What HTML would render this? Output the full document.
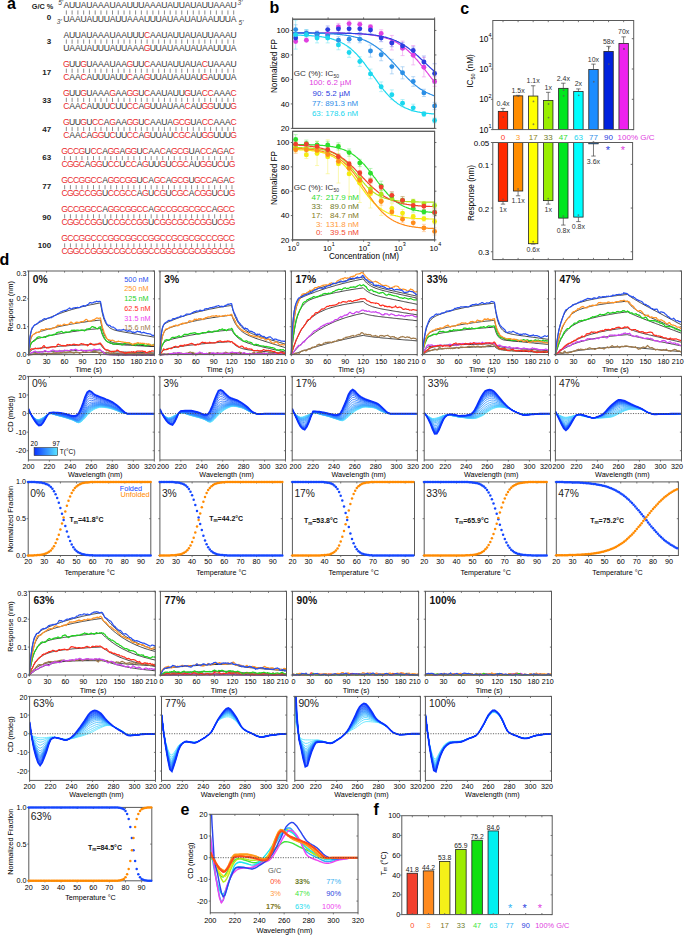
<!DOCTYPE html>
<html><head><meta charset="utf-8"><style>
html,body{margin:0;padding:0;background:#fff;}
body{width:685px;height:935px;overflow:hidden;}
svg{display:block;font-family:"Liberation Sans", sans-serif;}
</style></head><body>
<svg width="685" height="935" viewBox="0 0 685 935">
<rect width="685" height="935" fill="#fff"/>
<text x="7" y="9.3" font-size="16" text-anchor="start" fill="#000" font-weight="bold">a</text>
<text x="31.8" y="8.8" font-size="7.3" text-anchor="start" fill="#222" font-weight="bold">G/C %</text>
<text x="51.1" y="20.2" font-size="8" text-anchor="end" fill="#222" font-weight="bold">0</text>
<text y="8.4" font-size="8.6" text-anchor="middle"><tspan x="66.35" fill="#3a3a3a">A</tspan><tspan x="72.12" fill="#3a3a3a">U</tspan><tspan x="77.89" fill="#3a3a3a">U</tspan><tspan x="83.66" fill="#3a3a3a">A</tspan><tspan x="89.43" fill="#3a3a3a">U</tspan><tspan x="95.2" fill="#3a3a3a">A</tspan><tspan x="100.97" fill="#3a3a3a">A</tspan><tspan x="106.74" fill="#3a3a3a">A</tspan><tspan x="112.51" fill="#3a3a3a">U</tspan><tspan x="118.28" fill="#3a3a3a">A</tspan><tspan x="124.05" fill="#3a3a3a">A</tspan><tspan x="129.82" fill="#3a3a3a">U</tspan><tspan x="135.59" fill="#3a3a3a">U</tspan><tspan x="141.36" fill="#3a3a3a">U</tspan><tspan x="147.13" fill="#3a3a3a">A</tspan><tspan x="152.9" fill="#3a3a3a">A</tspan><tspan x="158.67" fill="#3a3a3a">A</tspan><tspan x="164.44" fill="#3a3a3a">U</tspan><tspan x="170.21" fill="#3a3a3a">A</tspan><tspan x="175.98" fill="#3a3a3a">U</tspan><tspan x="181.75" fill="#3a3a3a">U</tspan><tspan x="187.52" fill="#3a3a3a">A</tspan><tspan x="193.29" fill="#3a3a3a">U</tspan><tspan x="199.06" fill="#3a3a3a">A</tspan><tspan x="204.83" fill="#3a3a3a">U</tspan><tspan x="210.6" fill="#3a3a3a">U</tspan><tspan x="216.37" fill="#3a3a3a">A</tspan><tspan x="222.14" fill="#3a3a3a">A</tspan><tspan x="227.91" fill="#3a3a3a">A</tspan><tspan x="233.68" fill="#3a3a3a">U</tspan></text>
<text y="21.5" font-size="8.6" text-anchor="middle"><tspan x="66.35" fill="#3a3a3a">U</tspan><tspan x="72.12" fill="#3a3a3a">A</tspan><tspan x="77.89" fill="#3a3a3a">A</tspan><tspan x="83.66" fill="#3a3a3a">U</tspan><tspan x="89.43" fill="#3a3a3a">A</tspan><tspan x="95.2" fill="#3a3a3a">U</tspan><tspan x="100.97" fill="#3a3a3a">U</tspan><tspan x="106.74" fill="#3a3a3a">U</tspan><tspan x="112.51" fill="#3a3a3a">A</tspan><tspan x="118.28" fill="#3a3a3a">U</tspan><tspan x="124.05" fill="#3a3a3a">U</tspan><tspan x="129.82" fill="#3a3a3a">A</tspan><tspan x="135.59" fill="#3a3a3a">A</tspan><tspan x="141.36" fill="#3a3a3a">A</tspan><tspan x="147.13" fill="#3a3a3a">U</tspan><tspan x="152.9" fill="#3a3a3a">U</tspan><tspan x="158.67" fill="#3a3a3a">U</tspan><tspan x="164.44" fill="#3a3a3a">A</tspan><tspan x="170.21" fill="#3a3a3a">U</tspan><tspan x="175.98" fill="#3a3a3a">A</tspan><tspan x="181.75" fill="#3a3a3a">A</tspan><tspan x="187.52" fill="#3a3a3a">U</tspan><tspan x="193.29" fill="#3a3a3a">A</tspan><tspan x="199.06" fill="#3a3a3a">U</tspan><tspan x="204.83" fill="#3a3a3a">A</tspan><tspan x="210.6" fill="#3a3a3a">A</tspan><tspan x="216.37" fill="#3a3a3a">U</tspan><tspan x="222.14" fill="#3a3a3a">U</tspan><tspan x="227.91" fill="#3a3a3a">U</tspan><tspan x="233.68" fill="#3a3a3a">A</tspan></text>
<path d="M66.35 10.4v4.2 M72.12 10.4v4.2 M77.89 10.4v4.2 M83.66 10.4v4.2 M89.43 10.4v4.2 M95.2 10.4v4.2 M100.97 10.4v4.2 M106.74 10.4v4.2 M112.51 10.4v4.2 M118.28 10.4v4.2 M124.05 10.4v4.2 M129.82 10.4v4.2 M135.59 10.4v4.2 M141.36 10.4v4.2 M147.13 10.4v4.2 M152.9 10.4v4.2 M158.67 10.4v4.2 M164.44 10.4v4.2 M170.21 10.4v4.2 M175.98 10.4v4.2 M181.75 10.4v4.2 M187.52 10.4v4.2 M193.29 10.4v4.2 M199.06 10.4v4.2 M204.83 10.4v4.2 M210.6 10.4v4.2 M216.37 10.4v4.2 M222.14 10.4v4.2 M227.91 10.4v4.2 M233.68 10.4v4.2" stroke="#5a5a5a" stroke-width="0.7"/>
<text x="51.1" y="44.3" font-size="8" text-anchor="end" fill="#222" font-weight="bold">3</text>
<text y="37.52" font-size="8.6" text-anchor="middle"><tspan x="66.35" fill="#3a3a3a">A</tspan><tspan x="72.12" fill="#3a3a3a">U</tspan><tspan x="77.89" fill="#3a3a3a">U</tspan><tspan x="83.66" fill="#3a3a3a">A</tspan><tspan x="89.43" fill="#3a3a3a">U</tspan><tspan x="95.2" fill="#3a3a3a">A</tspan><tspan x="100.97" fill="#3a3a3a">A</tspan><tspan x="106.74" fill="#3a3a3a">A</tspan><tspan x="112.51" fill="#3a3a3a">U</tspan><tspan x="118.28" fill="#3a3a3a">A</tspan><tspan x="124.05" fill="#3a3a3a">A</tspan><tspan x="129.82" fill="#3a3a3a">U</tspan><tspan x="135.59" fill="#3a3a3a">U</tspan><tspan x="141.36" fill="#3a3a3a">U</tspan><tspan x="147.13" fill="#ea2a2e">C</tspan><tspan x="152.9" fill="#3a3a3a">A</tspan><tspan x="158.67" fill="#3a3a3a">A</tspan><tspan x="164.44" fill="#3a3a3a">U</tspan><tspan x="170.21" fill="#3a3a3a">A</tspan><tspan x="175.98" fill="#3a3a3a">U</tspan><tspan x="181.75" fill="#3a3a3a">U</tspan><tspan x="187.52" fill="#3a3a3a">A</tspan><tspan x="193.29" fill="#3a3a3a">U</tspan><tspan x="199.06" fill="#3a3a3a">A</tspan><tspan x="204.83" fill="#3a3a3a">U</tspan><tspan x="210.6" fill="#3a3a3a">U</tspan><tspan x="216.37" fill="#3a3a3a">A</tspan><tspan x="222.14" fill="#3a3a3a">A</tspan><tspan x="227.91" fill="#3a3a3a">A</tspan><tspan x="233.68" fill="#3a3a3a">U</tspan></text>
<text y="50.62" font-size="8.6" text-anchor="middle"><tspan x="66.35" fill="#3a3a3a">U</tspan><tspan x="72.12" fill="#3a3a3a">A</tspan><tspan x="77.89" fill="#3a3a3a">A</tspan><tspan x="83.66" fill="#3a3a3a">U</tspan><tspan x="89.43" fill="#3a3a3a">A</tspan><tspan x="95.2" fill="#3a3a3a">U</tspan><tspan x="100.97" fill="#3a3a3a">U</tspan><tspan x="106.74" fill="#3a3a3a">U</tspan><tspan x="112.51" fill="#3a3a3a">A</tspan><tspan x="118.28" fill="#3a3a3a">U</tspan><tspan x="124.05" fill="#3a3a3a">U</tspan><tspan x="129.82" fill="#3a3a3a">A</tspan><tspan x="135.59" fill="#3a3a3a">A</tspan><tspan x="141.36" fill="#3a3a3a">A</tspan><tspan x="147.13" fill="#ea2a2e">G</tspan><tspan x="152.9" fill="#3a3a3a">U</tspan><tspan x="158.67" fill="#3a3a3a">U</tspan><tspan x="164.44" fill="#3a3a3a">A</tspan><tspan x="170.21" fill="#3a3a3a">U</tspan><tspan x="175.98" fill="#3a3a3a">A</tspan><tspan x="181.75" fill="#3a3a3a">A</tspan><tspan x="187.52" fill="#3a3a3a">U</tspan><tspan x="193.29" fill="#3a3a3a">A</tspan><tspan x="199.06" fill="#3a3a3a">U</tspan><tspan x="204.83" fill="#3a3a3a">A</tspan><tspan x="210.6" fill="#3a3a3a">A</tspan><tspan x="216.37" fill="#3a3a3a">U</tspan><tspan x="222.14" fill="#3a3a3a">U</tspan><tspan x="227.91" fill="#3a3a3a">U</tspan><tspan x="233.68" fill="#3a3a3a">A</tspan></text>
<path d="M66.35 39.52v4.2 M72.12 39.52v4.2 M77.89 39.52v4.2 M83.66 39.52v4.2 M89.43 39.52v4.2 M95.2 39.52v4.2 M100.97 39.52v4.2 M106.74 39.52v4.2 M112.51 39.52v4.2 M118.28 39.52v4.2 M124.05 39.52v4.2 M129.82 39.52v4.2 M135.59 39.52v4.2 M141.36 39.52v4.2 M147.13 39.52v4.2 M152.9 39.52v4.2 M158.67 39.52v4.2 M164.44 39.52v4.2 M170.21 39.52v4.2 M175.98 39.52v4.2 M181.75 39.52v4.2 M187.52 39.52v4.2 M193.29 39.52v4.2 M199.06 39.52v4.2 M204.83 39.52v4.2 M210.6 39.52v4.2 M216.37 39.52v4.2 M222.14 39.52v4.2 M227.91 39.52v4.2 M233.68 39.52v4.2" stroke="#5a5a5a" stroke-width="0.7"/>
<text x="51.1" y="74.6" font-size="8" text-anchor="end" fill="#222" font-weight="bold">17</text>
<text y="66.64" font-size="8.6" text-anchor="middle"><tspan x="66.35" fill="#ea2a2e">G</tspan><tspan x="72.12" fill="#3a3a3a">U</tspan><tspan x="77.89" fill="#3a3a3a">U</tspan><tspan x="83.66" fill="#ea2a2e">G</tspan><tspan x="89.43" fill="#3a3a3a">U</tspan><tspan x="95.2" fill="#3a3a3a">A</tspan><tspan x="100.97" fill="#3a3a3a">A</tspan><tspan x="106.74" fill="#3a3a3a">A</tspan><tspan x="112.51" fill="#3a3a3a">U</tspan><tspan x="118.28" fill="#3a3a3a">A</tspan><tspan x="124.05" fill="#3a3a3a">A</tspan><tspan x="129.82" fill="#ea2a2e">G</tspan><tspan x="135.59" fill="#3a3a3a">U</tspan><tspan x="141.36" fill="#3a3a3a">U</tspan><tspan x="147.13" fill="#ea2a2e">C</tspan><tspan x="152.9" fill="#3a3a3a">A</tspan><tspan x="158.67" fill="#3a3a3a">A</tspan><tspan x="164.44" fill="#3a3a3a">U</tspan><tspan x="170.21" fill="#3a3a3a">A</tspan><tspan x="175.98" fill="#3a3a3a">U</tspan><tspan x="181.75" fill="#3a3a3a">U</tspan><tspan x="187.52" fill="#3a3a3a">A</tspan><tspan x="193.29" fill="#3a3a3a">U</tspan><tspan x="199.06" fill="#3a3a3a">A</tspan><tspan x="204.83" fill="#ea2a2e">C</tspan><tspan x="210.6" fill="#3a3a3a">U</tspan><tspan x="216.37" fill="#3a3a3a">A</tspan><tspan x="222.14" fill="#3a3a3a">A</tspan><tspan x="227.91" fill="#3a3a3a">A</tspan><tspan x="233.68" fill="#3a3a3a">U</tspan></text>
<text y="79.74" font-size="8.6" text-anchor="middle"><tspan x="66.35" fill="#ea2a2e">C</tspan><tspan x="72.12" fill="#3a3a3a">A</tspan><tspan x="77.89" fill="#3a3a3a">A</tspan><tspan x="83.66" fill="#ea2a2e">C</tspan><tspan x="89.43" fill="#3a3a3a">A</tspan><tspan x="95.2" fill="#3a3a3a">U</tspan><tspan x="100.97" fill="#3a3a3a">U</tspan><tspan x="106.74" fill="#3a3a3a">U</tspan><tspan x="112.51" fill="#3a3a3a">A</tspan><tspan x="118.28" fill="#3a3a3a">U</tspan><tspan x="124.05" fill="#3a3a3a">U</tspan><tspan x="129.82" fill="#ea2a2e">C</tspan><tspan x="135.59" fill="#3a3a3a">A</tspan><tspan x="141.36" fill="#3a3a3a">A</tspan><tspan x="147.13" fill="#ea2a2e">G</tspan><tspan x="152.9" fill="#3a3a3a">U</tspan><tspan x="158.67" fill="#3a3a3a">U</tspan><tspan x="164.44" fill="#3a3a3a">A</tspan><tspan x="170.21" fill="#3a3a3a">U</tspan><tspan x="175.98" fill="#3a3a3a">A</tspan><tspan x="181.75" fill="#3a3a3a">A</tspan><tspan x="187.52" fill="#3a3a3a">U</tspan><tspan x="193.29" fill="#3a3a3a">A</tspan><tspan x="199.06" fill="#3a3a3a">U</tspan><tspan x="204.83" fill="#ea2a2e">G</tspan><tspan x="210.6" fill="#3a3a3a">A</tspan><tspan x="216.37" fill="#3a3a3a">U</tspan><tspan x="222.14" fill="#3a3a3a">U</tspan><tspan x="227.91" fill="#3a3a3a">U</tspan><tspan x="233.68" fill="#3a3a3a">A</tspan></text>
<path d="M66.35 68.64v4.2 M72.12 68.64v4.2 M77.89 68.64v4.2 M83.66 68.64v4.2 M89.43 68.64v4.2 M95.2 68.64v4.2 M100.97 68.64v4.2 M106.74 68.64v4.2 M112.51 68.64v4.2 M118.28 68.64v4.2 M124.05 68.64v4.2 M129.82 68.64v4.2 M135.59 68.64v4.2 M141.36 68.64v4.2 M147.13 68.64v4.2 M152.9 68.64v4.2 M158.67 68.64v4.2 M164.44 68.64v4.2 M170.21 68.64v4.2 M175.98 68.64v4.2 M181.75 68.64v4.2 M187.52 68.64v4.2 M193.29 68.64v4.2 M199.06 68.64v4.2 M204.83 68.64v4.2 M210.6 68.64v4.2 M216.37 68.64v4.2 M222.14 68.64v4.2 M227.91 68.64v4.2 M233.68 68.64v4.2" stroke="#5a5a5a" stroke-width="0.7"/>
<text x="51.1" y="102.6" font-size="8" text-anchor="end" fill="#222" font-weight="bold">33</text>
<text y="95.76" font-size="8.6" text-anchor="middle"><tspan x="66.35" fill="#ea2a2e">G</tspan><tspan x="72.12" fill="#3a3a3a">U</tspan><tspan x="77.89" fill="#3a3a3a">U</tspan><tspan x="83.66" fill="#ea2a2e">G</tspan><tspan x="89.43" fill="#3a3a3a">U</tspan><tspan x="95.2" fill="#3a3a3a">A</tspan><tspan x="100.97" fill="#3a3a3a">A</tspan><tspan x="106.74" fill="#3a3a3a">A</tspan><tspan x="112.51" fill="#ea2a2e">G</tspan><tspan x="118.28" fill="#3a3a3a">A</tspan><tspan x="124.05" fill="#3a3a3a">A</tspan><tspan x="129.82" fill="#ea2a2e">G</tspan><tspan x="135.59" fill="#ea2a2e">G</tspan><tspan x="141.36" fill="#3a3a3a">U</tspan><tspan x="147.13" fill="#ea2a2e">C</tspan><tspan x="152.9" fill="#3a3a3a">A</tspan><tspan x="158.67" fill="#3a3a3a">A</tspan><tspan x="164.44" fill="#3a3a3a">U</tspan><tspan x="170.21" fill="#3a3a3a">A</tspan><tspan x="175.98" fill="#3a3a3a">U</tspan><tspan x="181.75" fill="#3a3a3a">U</tspan><tspan x="187.52" fill="#ea2a2e">G</tspan><tspan x="193.29" fill="#3a3a3a">U</tspan><tspan x="199.06" fill="#3a3a3a">A</tspan><tspan x="204.83" fill="#ea2a2e">C</tspan><tspan x="210.6" fill="#ea2a2e">C</tspan><tspan x="216.37" fill="#3a3a3a">A</tspan><tspan x="222.14" fill="#3a3a3a">A</tspan><tspan x="227.91" fill="#3a3a3a">A</tspan><tspan x="233.68" fill="#ea2a2e">C</tspan></text>
<text y="108.86" font-size="8.6" text-anchor="middle"><tspan x="66.35" fill="#ea2a2e">C</tspan><tspan x="72.12" fill="#3a3a3a">A</tspan><tspan x="77.89" fill="#3a3a3a">A</tspan><tspan x="83.66" fill="#ea2a2e">C</tspan><tspan x="89.43" fill="#3a3a3a">A</tspan><tspan x="95.2" fill="#3a3a3a">U</tspan><tspan x="100.97" fill="#3a3a3a">U</tspan><tspan x="106.74" fill="#3a3a3a">U</tspan><tspan x="112.51" fill="#ea2a2e">C</tspan><tspan x="118.28" fill="#3a3a3a">U</tspan><tspan x="124.05" fill="#3a3a3a">U</tspan><tspan x="129.82" fill="#ea2a2e">C</tspan><tspan x="135.59" fill="#ea2a2e">C</tspan><tspan x="141.36" fill="#3a3a3a">A</tspan><tspan x="147.13" fill="#ea2a2e">G</tspan><tspan x="152.9" fill="#3a3a3a">U</tspan><tspan x="158.67" fill="#3a3a3a">U</tspan><tspan x="164.44" fill="#3a3a3a">A</tspan><tspan x="170.21" fill="#3a3a3a">U</tspan><tspan x="175.98" fill="#3a3a3a">A</tspan><tspan x="181.75" fill="#3a3a3a">A</tspan><tspan x="187.52" fill="#ea2a2e">C</tspan><tspan x="193.29" fill="#3a3a3a">A</tspan><tspan x="199.06" fill="#3a3a3a">U</tspan><tspan x="204.83" fill="#ea2a2e">G</tspan><tspan x="210.6" fill="#ea2a2e">G</tspan><tspan x="216.37" fill="#3a3a3a">U</tspan><tspan x="222.14" fill="#3a3a3a">U</tspan><tspan x="227.91" fill="#3a3a3a">U</tspan><tspan x="233.68" fill="#ea2a2e">G</tspan></text>
<path d="M66.35 97.76v4.2 M72.12 97.76v4.2 M77.89 97.76v4.2 M83.66 97.76v4.2 M89.43 97.76v4.2 M95.2 97.76v4.2 M100.97 97.76v4.2 M106.74 97.76v4.2 M112.51 97.76v4.2 M118.28 97.76v4.2 M124.05 97.76v4.2 M129.82 97.76v4.2 M135.59 97.76v4.2 M141.36 97.76v4.2 M147.13 97.76v4.2 M152.9 97.76v4.2 M158.67 97.76v4.2 M164.44 97.76v4.2 M170.21 97.76v4.2 M175.98 97.76v4.2 M181.75 97.76v4.2 M187.52 97.76v4.2 M193.29 97.76v4.2 M199.06 97.76v4.2 M204.83 97.76v4.2 M210.6 97.76v4.2 M216.37 97.76v4.2 M222.14 97.76v4.2 M227.91 97.76v4.2 M233.68 97.76v4.2" stroke="#5a5a5a" stroke-width="0.7"/>
<text x="51.1" y="131.7" font-size="8" text-anchor="end" fill="#222" font-weight="bold">47</text>
<text y="124.88" font-size="8.6" text-anchor="middle"><tspan x="66.35" fill="#ea2a2e">G</tspan><tspan x="72.12" fill="#3a3a3a">U</tspan><tspan x="77.89" fill="#3a3a3a">U</tspan><tspan x="83.66" fill="#ea2a2e">G</tspan><tspan x="89.43" fill="#3a3a3a">U</tspan><tspan x="95.2" fill="#ea2a2e">C</tspan><tspan x="100.97" fill="#ea2a2e">C</tspan><tspan x="106.74" fill="#3a3a3a">A</tspan><tspan x="112.51" fill="#ea2a2e">G</tspan><tspan x="118.28" fill="#3a3a3a">A</tspan><tspan x="124.05" fill="#3a3a3a">A</tspan><tspan x="129.82" fill="#ea2a2e">G</tspan><tspan x="135.59" fill="#ea2a2e">G</tspan><tspan x="141.36" fill="#3a3a3a">U</tspan><tspan x="147.13" fill="#ea2a2e">C</tspan><tspan x="152.9" fill="#3a3a3a">A</tspan><tspan x="158.67" fill="#3a3a3a">A</tspan><tspan x="164.44" fill="#3a3a3a">U</tspan><tspan x="170.21" fill="#3a3a3a">A</tspan><tspan x="175.98" fill="#ea2a2e">G</tspan><tspan x="181.75" fill="#ea2a2e">C</tspan><tspan x="187.52" fill="#ea2a2e">G</tspan><tspan x="193.29" fill="#3a3a3a">U</tspan><tspan x="199.06" fill="#3a3a3a">A</tspan><tspan x="204.83" fill="#ea2a2e">C</tspan><tspan x="210.6" fill="#ea2a2e">C</tspan><tspan x="216.37" fill="#3a3a3a">A</tspan><tspan x="222.14" fill="#3a3a3a">A</tspan><tspan x="227.91" fill="#3a3a3a">A</tspan><tspan x="233.68" fill="#ea2a2e">C</tspan></text>
<text y="137.98" font-size="8.6" text-anchor="middle"><tspan x="66.35" fill="#ea2a2e">C</tspan><tspan x="72.12" fill="#3a3a3a">A</tspan><tspan x="77.89" fill="#3a3a3a">A</tspan><tspan x="83.66" fill="#ea2a2e">C</tspan><tspan x="89.43" fill="#3a3a3a">A</tspan><tspan x="95.2" fill="#ea2a2e">G</tspan><tspan x="100.97" fill="#ea2a2e">G</tspan><tspan x="106.74" fill="#3a3a3a">U</tspan><tspan x="112.51" fill="#ea2a2e">C</tspan><tspan x="118.28" fill="#3a3a3a">U</tspan><tspan x="124.05" fill="#3a3a3a">U</tspan><tspan x="129.82" fill="#ea2a2e">C</tspan><tspan x="135.59" fill="#ea2a2e">C</tspan><tspan x="141.36" fill="#3a3a3a">A</tspan><tspan x="147.13" fill="#ea2a2e">G</tspan><tspan x="152.9" fill="#3a3a3a">U</tspan><tspan x="158.67" fill="#3a3a3a">U</tspan><tspan x="164.44" fill="#3a3a3a">A</tspan><tspan x="170.21" fill="#3a3a3a">U</tspan><tspan x="175.98" fill="#ea2a2e">C</tspan><tspan x="181.75" fill="#ea2a2e">G</tspan><tspan x="187.52" fill="#ea2a2e">C</tspan><tspan x="193.29" fill="#3a3a3a">A</tspan><tspan x="199.06" fill="#3a3a3a">U</tspan><tspan x="204.83" fill="#ea2a2e">G</tspan><tspan x="210.6" fill="#ea2a2e">G</tspan><tspan x="216.37" fill="#3a3a3a">U</tspan><tspan x="222.14" fill="#3a3a3a">U</tspan><tspan x="227.91" fill="#3a3a3a">U</tspan><tspan x="233.68" fill="#ea2a2e">G</tspan></text>
<path d="M66.35 126.88v4.2 M72.12 126.88v4.2 M77.89 126.88v4.2 M83.66 126.88v4.2 M89.43 126.88v4.2 M95.2 126.88v4.2 M100.97 126.88v4.2 M106.74 126.88v4.2 M112.51 126.88v4.2 M118.28 126.88v4.2 M124.05 126.88v4.2 M129.82 126.88v4.2 M135.59 126.88v4.2 M141.36 126.88v4.2 M147.13 126.88v4.2 M152.9 126.88v4.2 M158.67 126.88v4.2 M164.44 126.88v4.2 M170.21 126.88v4.2 M175.98 126.88v4.2 M181.75 126.88v4.2 M187.52 126.88v4.2 M193.29 126.88v4.2 M199.06 126.88v4.2 M204.83 126.88v4.2 M210.6 126.88v4.2 M216.37 126.88v4.2 M222.14 126.88v4.2 M227.91 126.88v4.2 M233.68 126.88v4.2" stroke="#5a5a5a" stroke-width="0.7"/>
<text x="51.1" y="159.9" font-size="8" text-anchor="end" fill="#222" font-weight="bold">63</text>
<text y="154" font-size="8.6" text-anchor="middle"><tspan x="64.65" fill="#ea2a2e">G</tspan><tspan x="70.42" fill="#ea2a2e">C</tspan><tspan x="76.19" fill="#ea2a2e">C</tspan><tspan x="81.96" fill="#ea2a2e">G</tspan><tspan x="87.73" fill="#3a3a3a">U</tspan><tspan x="93.5" fill="#ea2a2e">C</tspan><tspan x="99.27" fill="#ea2a2e">C</tspan><tspan x="105.04" fill="#3a3a3a">A</tspan><tspan x="110.81" fill="#ea2a2e">G</tspan><tspan x="116.58" fill="#ea2a2e">G</tspan><tspan x="122.35" fill="#3a3a3a">A</tspan><tspan x="128.12" fill="#ea2a2e">G</tspan><tspan x="133.89" fill="#ea2a2e">G</tspan><tspan x="139.66" fill="#3a3a3a">U</tspan><tspan x="145.43" fill="#ea2a2e">C</tspan><tspan x="151.2" fill="#3a3a3a">A</tspan><tspan x="156.97" fill="#3a3a3a">A</tspan><tspan x="162.74" fill="#ea2a2e">C</tspan><tspan x="168.51" fill="#3a3a3a">A</tspan><tspan x="174.28" fill="#ea2a2e">G</tspan><tspan x="180.05" fill="#ea2a2e">C</tspan><tspan x="185.82" fill="#ea2a2e">G</tspan><tspan x="191.59" fill="#3a3a3a">U</tspan><tspan x="197.36" fill="#3a3a3a">A</tspan><tspan x="203.13" fill="#ea2a2e">C</tspan><tspan x="208.9" fill="#ea2a2e">C</tspan><tspan x="214.67" fill="#3a3a3a">A</tspan><tspan x="220.44" fill="#ea2a2e">G</tspan><tspan x="226.21" fill="#3a3a3a">A</tspan><tspan x="231.98" fill="#ea2a2e">C</tspan></text>
<text y="167.1" font-size="8.6" text-anchor="middle"><tspan x="64.65" fill="#ea2a2e">C</tspan><tspan x="70.42" fill="#ea2a2e">G</tspan><tspan x="76.19" fill="#ea2a2e">G</tspan><tspan x="81.96" fill="#ea2a2e">C</tspan><tspan x="87.73" fill="#3a3a3a">A</tspan><tspan x="93.5" fill="#ea2a2e">G</tspan><tspan x="99.27" fill="#ea2a2e">G</tspan><tspan x="105.04" fill="#3a3a3a">U</tspan><tspan x="110.81" fill="#ea2a2e">C</tspan><tspan x="116.58" fill="#ea2a2e">C</tspan><tspan x="122.35" fill="#3a3a3a">U</tspan><tspan x="128.12" fill="#ea2a2e">C</tspan><tspan x="133.89" fill="#ea2a2e">C</tspan><tspan x="139.66" fill="#3a3a3a">A</tspan><tspan x="145.43" fill="#ea2a2e">G</tspan><tspan x="151.2" fill="#3a3a3a">U</tspan><tspan x="156.97" fill="#3a3a3a">U</tspan><tspan x="162.74" fill="#ea2a2e">G</tspan><tspan x="168.51" fill="#3a3a3a">U</tspan><tspan x="174.28" fill="#ea2a2e">C</tspan><tspan x="180.05" fill="#ea2a2e">G</tspan><tspan x="185.82" fill="#ea2a2e">C</tspan><tspan x="191.59" fill="#3a3a3a">A</tspan><tspan x="197.36" fill="#3a3a3a">U</tspan><tspan x="203.13" fill="#ea2a2e">G</tspan><tspan x="208.9" fill="#ea2a2e">G</tspan><tspan x="214.67" fill="#3a3a3a">U</tspan><tspan x="220.44" fill="#ea2a2e">C</tspan><tspan x="226.21" fill="#3a3a3a">U</tspan><tspan x="231.98" fill="#ea2a2e">G</tspan></text>
<path d="M64.65 156v4.2 M70.42 156v4.2 M76.19 156v4.2 M81.96 156v4.2 M87.73 156v4.2 M93.5 156v4.2 M99.27 156v4.2 M105.04 156v4.2 M110.81 156v4.2 M116.58 156v4.2 M122.35 156v4.2 M128.12 156v4.2 M133.89 156v4.2 M139.66 156v4.2 M145.43 156v4.2 M151.2 156v4.2 M156.97 156v4.2 M162.74 156v4.2 M168.51 156v4.2 M174.28 156v4.2 M180.05 156v4.2 M185.82 156v4.2 M191.59 156v4.2 M197.36 156v4.2 M203.13 156v4.2 M208.9 156v4.2 M214.67 156v4.2 M220.44 156v4.2 M226.21 156v4.2 M231.98 156v4.2" stroke="#5a5a5a" stroke-width="0.7"/>
<text x="51.1" y="189.4" font-size="8" text-anchor="end" fill="#222" font-weight="bold">77</text>
<text y="183.12" font-size="8.6" text-anchor="middle"><tspan x="64.65" fill="#ea2a2e">G</tspan><tspan x="70.42" fill="#ea2a2e">C</tspan><tspan x="76.19" fill="#ea2a2e">C</tspan><tspan x="81.96" fill="#ea2a2e">G</tspan><tspan x="87.73" fill="#ea2a2e">G</tspan><tspan x="93.5" fill="#ea2a2e">C</tspan><tspan x="99.27" fill="#ea2a2e">C</tspan><tspan x="105.04" fill="#3a3a3a">A</tspan><tspan x="110.81" fill="#ea2a2e">G</tspan><tspan x="116.58" fill="#ea2a2e">G</tspan><tspan x="122.35" fill="#ea2a2e">C</tspan><tspan x="128.12" fill="#ea2a2e">G</tspan><tspan x="133.89" fill="#ea2a2e">G</tspan><tspan x="139.66" fill="#3a3a3a">U</tspan><tspan x="145.43" fill="#ea2a2e">C</tspan><tspan x="151.2" fill="#3a3a3a">A</tspan><tspan x="156.97" fill="#ea2a2e">G</tspan><tspan x="162.74" fill="#ea2a2e">C</tspan><tspan x="168.51" fill="#3a3a3a">A</tspan><tspan x="174.28" fill="#ea2a2e">G</tspan><tspan x="180.05" fill="#ea2a2e">C</tspan><tspan x="185.82" fill="#ea2a2e">G</tspan><tspan x="191.59" fill="#3a3a3a">U</tspan><tspan x="197.36" fill="#ea2a2e">G</tspan><tspan x="203.13" fill="#ea2a2e">C</tspan><tspan x="208.9" fill="#ea2a2e">C</tspan><tspan x="214.67" fill="#3a3a3a">A</tspan><tspan x="220.44" fill="#ea2a2e">G</tspan><tspan x="226.21" fill="#3a3a3a">A</tspan><tspan x="231.98" fill="#ea2a2e">C</tspan></text>
<text y="196.22" font-size="8.6" text-anchor="middle"><tspan x="64.65" fill="#ea2a2e">C</tspan><tspan x="70.42" fill="#ea2a2e">G</tspan><tspan x="76.19" fill="#ea2a2e">G</tspan><tspan x="81.96" fill="#ea2a2e">C</tspan><tspan x="87.73" fill="#ea2a2e">C</tspan><tspan x="93.5" fill="#ea2a2e">G</tspan><tspan x="99.27" fill="#ea2a2e">G</tspan><tspan x="105.04" fill="#3a3a3a">U</tspan><tspan x="110.81" fill="#ea2a2e">C</tspan><tspan x="116.58" fill="#ea2a2e">C</tspan><tspan x="122.35" fill="#ea2a2e">G</tspan><tspan x="128.12" fill="#ea2a2e">C</tspan><tspan x="133.89" fill="#ea2a2e">C</tspan><tspan x="139.66" fill="#3a3a3a">A</tspan><tspan x="145.43" fill="#ea2a2e">G</tspan><tspan x="151.2" fill="#3a3a3a">U</tspan><tspan x="156.97" fill="#ea2a2e">C</tspan><tspan x="162.74" fill="#ea2a2e">G</tspan><tspan x="168.51" fill="#3a3a3a">U</tspan><tspan x="174.28" fill="#ea2a2e">C</tspan><tspan x="180.05" fill="#ea2a2e">G</tspan><tspan x="185.82" fill="#ea2a2e">C</tspan><tspan x="191.59" fill="#3a3a3a">A</tspan><tspan x="197.36" fill="#ea2a2e">C</tspan><tspan x="203.13" fill="#ea2a2e">G</tspan><tspan x="208.9" fill="#ea2a2e">G</tspan><tspan x="214.67" fill="#3a3a3a">U</tspan><tspan x="220.44" fill="#ea2a2e">C</tspan><tspan x="226.21" fill="#3a3a3a">U</tspan><tspan x="231.98" fill="#ea2a2e">G</tspan></text>
<path d="M64.65 185.12v4.2 M70.42 185.12v4.2 M76.19 185.12v4.2 M81.96 185.12v4.2 M87.73 185.12v4.2 M93.5 185.12v4.2 M99.27 185.12v4.2 M105.04 185.12v4.2 M110.81 185.12v4.2 M116.58 185.12v4.2 M122.35 185.12v4.2 M128.12 185.12v4.2 M133.89 185.12v4.2 M139.66 185.12v4.2 M145.43 185.12v4.2 M151.2 185.12v4.2 M156.97 185.12v4.2 M162.74 185.12v4.2 M168.51 185.12v4.2 M174.28 185.12v4.2 M180.05 185.12v4.2 M185.82 185.12v4.2 M191.59 185.12v4.2 M197.36 185.12v4.2 M203.13 185.12v4.2 M208.9 185.12v4.2 M214.67 185.12v4.2 M220.44 185.12v4.2 M226.21 185.12v4.2 M231.98 185.12v4.2" stroke="#5a5a5a" stroke-width="0.7"/>
<text x="51.1" y="220.4" font-size="8" text-anchor="end" fill="#222" font-weight="bold">90</text>
<text y="212.24" font-size="8.6" text-anchor="middle"><tspan x="64.65" fill="#ea2a2e">G</tspan><tspan x="70.42" fill="#ea2a2e">C</tspan><tspan x="76.19" fill="#ea2a2e">C</tspan><tspan x="81.96" fill="#ea2a2e">G</tspan><tspan x="87.73" fill="#ea2a2e">G</tspan><tspan x="93.5" fill="#ea2a2e">C</tspan><tspan x="99.27" fill="#ea2a2e">C</tspan><tspan x="105.04" fill="#3a3a3a">A</tspan><tspan x="110.81" fill="#ea2a2e">G</tspan><tspan x="116.58" fill="#ea2a2e">G</tspan><tspan x="122.35" fill="#ea2a2e">C</tspan><tspan x="128.12" fill="#ea2a2e">G</tspan><tspan x="133.89" fill="#ea2a2e">G</tspan><tspan x="139.66" fill="#ea2a2e">C</tspan><tspan x="145.43" fill="#ea2a2e">C</tspan><tspan x="151.2" fill="#3a3a3a">A</tspan><tspan x="156.97" fill="#ea2a2e">G</tspan><tspan x="162.74" fill="#ea2a2e">C</tspan><tspan x="168.51" fill="#ea2a2e">C</tspan><tspan x="174.28" fill="#ea2a2e">G</tspan><tspan x="180.05" fill="#ea2a2e">C</tspan><tspan x="185.82" fill="#ea2a2e">G</tspan><tspan x="191.59" fill="#ea2a2e">C</tspan><tspan x="197.36" fill="#ea2a2e">G</tspan><tspan x="203.13" fill="#ea2a2e">C</tspan><tspan x="208.9" fill="#ea2a2e">C</tspan><tspan x="214.67" fill="#3a3a3a">A</tspan><tspan x="220.44" fill="#ea2a2e">G</tspan><tspan x="226.21" fill="#ea2a2e">C</tspan><tspan x="231.98" fill="#ea2a2e">C</tspan></text>
<text y="225.34" font-size="8.6" text-anchor="middle"><tspan x="64.65" fill="#ea2a2e">C</tspan><tspan x="70.42" fill="#ea2a2e">G</tspan><tspan x="76.19" fill="#ea2a2e">G</tspan><tspan x="81.96" fill="#ea2a2e">C</tspan><tspan x="87.73" fill="#ea2a2e">C</tspan><tspan x="93.5" fill="#ea2a2e">G</tspan><tspan x="99.27" fill="#ea2a2e">G</tspan><tspan x="105.04" fill="#3a3a3a">U</tspan><tspan x="110.81" fill="#ea2a2e">C</tspan><tspan x="116.58" fill="#ea2a2e">C</tspan><tspan x="122.35" fill="#ea2a2e">G</tspan><tspan x="128.12" fill="#ea2a2e">C</tspan><tspan x="133.89" fill="#ea2a2e">C</tspan><tspan x="139.66" fill="#ea2a2e">G</tspan><tspan x="145.43" fill="#ea2a2e">G</tspan><tspan x="151.2" fill="#3a3a3a">U</tspan><tspan x="156.97" fill="#ea2a2e">C</tspan><tspan x="162.74" fill="#ea2a2e">G</tspan><tspan x="168.51" fill="#ea2a2e">G</tspan><tspan x="174.28" fill="#ea2a2e">C</tspan><tspan x="180.05" fill="#ea2a2e">G</tspan><tspan x="185.82" fill="#ea2a2e">C</tspan><tspan x="191.59" fill="#ea2a2e">G</tspan><tspan x="197.36" fill="#ea2a2e">C</tspan><tspan x="203.13" fill="#ea2a2e">G</tspan><tspan x="208.9" fill="#ea2a2e">G</tspan><tspan x="214.67" fill="#3a3a3a">U</tspan><tspan x="220.44" fill="#ea2a2e">C</tspan><tspan x="226.21" fill="#ea2a2e">G</tspan><tspan x="231.98" fill="#ea2a2e">G</tspan></text>
<path d="M64.65 214.24v4.2 M70.42 214.24v4.2 M76.19 214.24v4.2 M81.96 214.24v4.2 M87.73 214.24v4.2 M93.5 214.24v4.2 M99.27 214.24v4.2 M105.04 214.24v4.2 M110.81 214.24v4.2 M116.58 214.24v4.2 M122.35 214.24v4.2 M128.12 214.24v4.2 M133.89 214.24v4.2 M139.66 214.24v4.2 M145.43 214.24v4.2 M151.2 214.24v4.2 M156.97 214.24v4.2 M162.74 214.24v4.2 M168.51 214.24v4.2 M174.28 214.24v4.2 M180.05 214.24v4.2 M185.82 214.24v4.2 M191.59 214.24v4.2 M197.36 214.24v4.2 M203.13 214.24v4.2 M208.9 214.24v4.2 M214.67 214.24v4.2 M220.44 214.24v4.2 M226.21 214.24v4.2 M231.98 214.24v4.2" stroke="#5a5a5a" stroke-width="0.7"/>
<text x="51.1" y="247.5" font-size="8" text-anchor="end" fill="#222" font-weight="bold">100</text>
<text y="241.36" font-size="8.6" text-anchor="middle"><tspan x="64.65" fill="#ea2a2e">G</tspan><tspan x="70.42" fill="#ea2a2e">C</tspan><tspan x="76.19" fill="#ea2a2e">C</tspan><tspan x="81.96" fill="#ea2a2e">G</tspan><tspan x="87.73" fill="#ea2a2e">G</tspan><tspan x="93.5" fill="#ea2a2e">C</tspan><tspan x="99.27" fill="#ea2a2e">C</tspan><tspan x="105.04" fill="#ea2a2e">C</tspan><tspan x="110.81" fill="#ea2a2e">G</tspan><tspan x="116.58" fill="#ea2a2e">G</tspan><tspan x="122.35" fill="#ea2a2e">C</tspan><tspan x="128.12" fill="#ea2a2e">G</tspan><tspan x="133.89" fill="#ea2a2e">G</tspan><tspan x="139.66" fill="#ea2a2e">C</tspan><tspan x="145.43" fill="#ea2a2e">C</tspan><tspan x="151.2" fill="#ea2a2e">G</tspan><tspan x="156.97" fill="#ea2a2e">G</tspan><tspan x="162.74" fill="#ea2a2e">C</tspan><tspan x="168.51" fill="#ea2a2e">C</tspan><tspan x="174.28" fill="#ea2a2e">G</tspan><tspan x="180.05" fill="#ea2a2e">C</tspan><tspan x="185.82" fill="#ea2a2e">G</tspan><tspan x="191.59" fill="#ea2a2e">C</tspan><tspan x="197.36" fill="#ea2a2e">G</tspan><tspan x="203.13" fill="#ea2a2e">C</tspan><tspan x="208.9" fill="#ea2a2e">C</tspan><tspan x="214.67" fill="#ea2a2e">C</tspan><tspan x="220.44" fill="#ea2a2e">G</tspan><tspan x="226.21" fill="#ea2a2e">C</tspan><tspan x="231.98" fill="#ea2a2e">C</tspan></text>
<text y="254.46" font-size="8.6" text-anchor="middle"><tspan x="64.65" fill="#ea2a2e">C</tspan><tspan x="70.42" fill="#ea2a2e">G</tspan><tspan x="76.19" fill="#ea2a2e">G</tspan><tspan x="81.96" fill="#ea2a2e">C</tspan><tspan x="87.73" fill="#ea2a2e">C</tspan><tspan x="93.5" fill="#ea2a2e">G</tspan><tspan x="99.27" fill="#ea2a2e">G</tspan><tspan x="105.04" fill="#ea2a2e">G</tspan><tspan x="110.81" fill="#ea2a2e">C</tspan><tspan x="116.58" fill="#ea2a2e">C</tspan><tspan x="122.35" fill="#ea2a2e">G</tspan><tspan x="128.12" fill="#ea2a2e">C</tspan><tspan x="133.89" fill="#ea2a2e">C</tspan><tspan x="139.66" fill="#ea2a2e">G</tspan><tspan x="145.43" fill="#ea2a2e">G</tspan><tspan x="151.2" fill="#ea2a2e">C</tspan><tspan x="156.97" fill="#ea2a2e">C</tspan><tspan x="162.74" fill="#ea2a2e">G</tspan><tspan x="168.51" fill="#ea2a2e">G</tspan><tspan x="174.28" fill="#ea2a2e">C</tspan><tspan x="180.05" fill="#ea2a2e">G</tspan><tspan x="185.82" fill="#ea2a2e">C</tspan><tspan x="191.59" fill="#ea2a2e">G</tspan><tspan x="197.36" fill="#ea2a2e">C</tspan><tspan x="203.13" fill="#ea2a2e">G</tspan><tspan x="208.9" fill="#ea2a2e">G</tspan><tspan x="214.67" fill="#ea2a2e">G</tspan><tspan x="220.44" fill="#ea2a2e">C</tspan><tspan x="226.21" fill="#ea2a2e">G</tspan><tspan x="231.98" fill="#ea2a2e">G</tspan></text>
<path d="M64.65 243.36v4.2 M70.42 243.36v4.2 M76.19 243.36v4.2 M81.96 243.36v4.2 M87.73 243.36v4.2 M93.5 243.36v4.2 M99.27 243.36v4.2 M105.04 243.36v4.2 M110.81 243.36v4.2 M116.58 243.36v4.2 M122.35 243.36v4.2 M128.12 243.36v4.2 M133.89 243.36v4.2 M139.66 243.36v4.2 M145.43 243.36v4.2 M151.2 243.36v4.2 M156.97 243.36v4.2 M162.74 243.36v4.2 M168.51 243.36v4.2 M174.28 243.36v4.2 M180.05 243.36v4.2 M185.82 243.36v4.2 M191.59 243.36v4.2 M197.36 243.36v4.2 M203.13 243.36v4.2 M208.9 243.36v4.2 M214.67 243.36v4.2 M220.44 243.36v4.2 M226.21 243.36v4.2 M231.98 243.36v4.2" stroke="#5a5a5a" stroke-width="0.7"/>
<text x="58.2" y="4.6" font-size="6.6" text-anchor="start" fill="#444" font-style="italic">5'</text>
<text x="237.6" y="4.9" font-size="6.6" text-anchor="start" fill="#444" font-style="italic">3'</text>
<text x="56.8" y="24.3" font-size="6.6" text-anchor="start" fill="#444" font-style="italic">3'</text>
<text x="238.5" y="24.8" font-size="6.6" text-anchor="start" fill="#444" font-style="italic">5'</text>
<text x="269.4" y="12.6" font-size="16" text-anchor="start" fill="#000" font-weight="bold">b</text>
<rect x="292.6" y="19.2" width="142" height="109.2" fill="none" stroke="#5a5a5a" stroke-width="1"/>
<rect x="292.6" y="131.3" width="142" height="108.6" fill="none" stroke="#5a5a5a" stroke-width="1"/>
<path d="M317.05 34.16V39M315.05 34.16h4M315.05 39h4" stroke="#e040e0" stroke-width="0.6" opacity="0.55"/>
<path d="M327.73 30.51V37.77M325.73 30.51h4M325.73 37.77h4" stroke="#e040e0" stroke-width="0.6" opacity="0.55"/>
<path d="M338.42 23.4V30.66M336.42 23.4h4M336.42 30.66h4" stroke="#e040e0" stroke-width="0.6" opacity="0.55"/>
<path d="M349.11 19.98V27.24M347.11 19.98h4M347.11 27.24h4" stroke="#e040e0" stroke-width="0.6" opacity="0.55"/>
<path d="M359.79 21.92V26.76M357.79 21.92h4M357.79 26.76h4" stroke="#e040e0" stroke-width="0.6" opacity="0.55"/>
<path d="M370.48 24.61V29.45M368.48 24.61h4M368.48 29.45h4" stroke="#e040e0" stroke-width="0.6" opacity="0.55"/>
<path d="M381.17 29.77V37.03M379.17 29.77h4M379.17 37.03h4" stroke="#e040e0" stroke-width="0.6" opacity="0.55"/>
<path d="M391.85 35.44V49.96M389.85 35.44h4M389.85 49.96h4" stroke="#e040e0" stroke-width="0.6" opacity="0.55"/>
<path d="M402.54 41.08V55.6M400.54 41.08h4M400.54 55.6h4" stroke="#e040e0" stroke-width="0.6" opacity="0.55"/>
<path d="M413.23 45.51V64.87M411.23 45.51h4M411.23 64.87h4" stroke="#e040e0" stroke-width="0.6" opacity="0.55"/>
<path d="M423.91 57.51V76.87M421.91 57.51h4M421.91 76.87h4" stroke="#e040e0" stroke-width="0.6" opacity="0.55"/>
<path d="M434.6 76.67V86.35M432.6 76.67h4M432.6 86.35h4" stroke="#e040e0" stroke-width="0.6" opacity="0.55"/>
<path d="M295.67 35.63V40.47M293.67 35.63h4M293.67 40.47h4" stroke="#2a3de0" stroke-width="0.6" opacity="0.55"/>
<path d="M306.36 30.98V35.82M304.36 30.98h4M304.36 35.82h4" stroke="#2a3de0" stroke-width="0.6" opacity="0.55"/>
<path d="M317.05 31.47V36.31M315.05 31.47h4M315.05 36.31h4" stroke="#2a3de0" stroke-width="0.6" opacity="0.55"/>
<path d="M327.73 25.98V33.24M325.73 25.98h4M325.73 33.24h4" stroke="#2a3de0" stroke-width="0.6" opacity="0.55"/>
<path d="M338.42 25.24V32.5M336.42 25.24h4M336.42 32.5h4" stroke="#2a3de0" stroke-width="0.6" opacity="0.55"/>
<path d="M349.11 25.24V32.5M347.11 25.24h4M347.11 32.5h4" stroke="#2a3de0" stroke-width="0.6" opacity="0.55"/>
<path d="M359.79 25.24V32.5M357.79 25.24h4M357.79 32.5h4" stroke="#2a3de0" stroke-width="0.6" opacity="0.55"/>
<path d="M370.48 26.34V33.6M368.48 26.34h4M368.48 33.6h4" stroke="#2a3de0" stroke-width="0.6" opacity="0.55"/>
<path d="M381.17 34.42V41.68M379.17 34.42h4M379.17 41.68h4" stroke="#2a3de0" stroke-width="0.6" opacity="0.55"/>
<path d="M391.85 39.44V46.7M389.85 39.44h4M389.85 46.7h4" stroke="#2a3de0" stroke-width="0.6" opacity="0.55"/>
<path d="M402.54 42.38V49.64M400.54 42.38h4M400.54 49.64h4" stroke="#2a3de0" stroke-width="0.6" opacity="0.55"/>
<path d="M413.23 46.91V54.17M411.23 46.91h4M411.23 54.17h4" stroke="#2a3de0" stroke-width="0.6" opacity="0.55"/>
<path d="M423.91 56V68.1M421.91 56h4M421.91 68.1h4" stroke="#2a3de0" stroke-width="0.6" opacity="0.55"/>
<path d="M434.6 63.75V83.11M432.6 63.75h4M432.6 83.11h4" stroke="#2a3de0" stroke-width="0.6" opacity="0.55"/>
<path d="M295.67 24.77V34.45M293.67 24.77h4M293.67 34.45h4" stroke="#2b8fe6" stroke-width="0.6" opacity="0.55"/>
<path d="M306.36 29.77V37.03M304.36 29.77h4M304.36 37.03h4" stroke="#2b8fe6" stroke-width="0.6" opacity="0.55"/>
<path d="M317.05 31V38.26M315.05 31h4M315.05 38.26h4" stroke="#2b8fe6" stroke-width="0.6" opacity="0.55"/>
<path d="M327.73 32.1V39.36M325.73 32.1h4M325.73 39.36h4" stroke="#2b8fe6" stroke-width="0.6" opacity="0.55"/>
<path d="M338.42 36.63V43.89M336.42 36.63h4M336.42 43.89h4" stroke="#2b8fe6" stroke-width="0.6" opacity="0.55"/>
<path d="M349.11 35.52V42.78M347.11 35.52h4M347.11 42.78h4" stroke="#2b8fe6" stroke-width="0.6" opacity="0.55"/>
<path d="M359.79 35.52V42.78M357.79 35.52h4M357.79 42.78h4" stroke="#2b8fe6" stroke-width="0.6" opacity="0.55"/>
<path d="M370.48 44.98V57.08M368.48 44.98h4M368.48 57.08h4" stroke="#2b8fe6" stroke-width="0.6" opacity="0.55"/>
<path d="M381.17 48.65V60.75M379.17 48.65h4M379.17 60.75h4" stroke="#2b8fe6" stroke-width="0.6" opacity="0.55"/>
<path d="M391.85 59.32V73.84M389.85 59.32h4M389.85 73.84h4" stroke="#2b8fe6" stroke-width="0.6" opacity="0.55"/>
<path d="M402.54 66.77V78.87M400.54 66.77h4M400.54 78.87h4" stroke="#2b8fe6" stroke-width="0.6" opacity="0.55"/>
<path d="M413.23 76.67V86.35M411.23 76.67h4M411.23 86.35h4" stroke="#2b8fe6" stroke-width="0.6" opacity="0.55"/>
<path d="M423.91 89.27V96.53M421.91 89.27h4M421.91 96.53h4" stroke="#2b8fe6" stroke-width="0.6" opacity="0.55"/>
<path d="M434.6 102.37V109.63M432.6 102.37h4M432.6 109.63h4" stroke="#2b8fe6" stroke-width="0.6" opacity="0.55"/>
<path d="M295.67 20.11V49.15M293.67 20.11h4M293.67 49.15h4" stroke="#1cd8ef" stroke-width="0.6" opacity="0.55"/>
<path d="M306.36 29.79V39.47M304.36 29.79h4M304.36 39.47h4" stroke="#1cd8ef" stroke-width="0.6" opacity="0.55"/>
<path d="M317.05 33.21V42.89M315.05 33.21h4M315.05 42.89h4" stroke="#1cd8ef" stroke-width="0.6" opacity="0.55"/>
<path d="M327.73 33.21V42.89M325.73 33.21h4M325.73 42.89h4" stroke="#1cd8ef" stroke-width="0.6" opacity="0.55"/>
<path d="M338.42 40.07V49.75M336.42 40.07h4M336.42 49.75h4" stroke="#1cd8ef" stroke-width="0.6" opacity="0.55"/>
<path d="M349.11 47.66V57.34M347.11 47.66h4M347.11 57.34h4" stroke="#1cd8ef" stroke-width="0.6" opacity="0.55"/>
<path d="M359.79 56.72V66.4M357.79 56.72h4M357.79 66.4h4" stroke="#1cd8ef" stroke-width="0.6" opacity="0.55"/>
<path d="M370.48 69.08V78.76M368.48 69.08h4M368.48 78.76h4" stroke="#1cd8ef" stroke-width="0.6" opacity="0.55"/>
<path d="M381.17 81.94V91.62M379.17 81.94h4M379.17 91.62h4" stroke="#1cd8ef" stroke-width="0.6" opacity="0.55"/>
<path d="M391.85 89.89V99.57M389.85 89.89h4M389.85 99.57h4" stroke="#1cd8ef" stroke-width="0.6" opacity="0.55"/>
<path d="M402.54 99.55V106.81M400.54 99.55h4M400.54 106.81h4" stroke="#1cd8ef" stroke-width="0.6" opacity="0.55"/>
<path d="M413.23 104.2V111.46M411.23 104.2h4M411.23 111.46h4" stroke="#1cd8ef" stroke-width="0.6" opacity="0.55"/>
<path d="M423.91 111.53V116.37M421.91 111.53h4M421.91 116.37h4" stroke="#1cd8ef" stroke-width="0.6" opacity="0.55"/>
<path d="M434.6 118.02V122.86M432.6 118.02h4M432.6 122.86h4" stroke="#1cd8ef" stroke-width="0.6" opacity="0.55"/>
<path d="M292.6 32.9l.7 0 .7 0 .7 0 .8 0 .7 0 .7 0 .7 0 .7 0 .7 0 .7 0 .7 0 .8 0 .7 0 .7 0 .7 0 .7 0 .7 0 .7 0 .8 0 .7 0 .7 0 .7 0 .7 0 .7 .1 .7 0 .8 0 .7 0 .7 0 .7 0 .7 0 .7 0 .7 0 .7 0 .8 0 .7 0 .7 0 .7 0 .7 0 .7 0 .7 0 .8 0 .7 0 .7 0 .7 0 .7 0 .7 0 .7 0 .8 0 .7 0 .7 0 .7 0 .7 .1 .7 0 .7 0 .7 0 .8 0 .7 0 .7 0 .7 0 .7 0 .7 0 .7 0 .8 0 .7 .1 .7 0 .7 0 .7 0 .7 0 .7 0 .7 0 .8 .1 .7 0 .7 0 .7 0 .7 0 .7 0 .7 .1 .8 0 .7 0 .7 0 .7 .1 .7 0 .7 0 .7 0 .8 .1 .7 0 .7 0 .7 .1 .7 0 .7 0 .7 .1 .7 0 .8 .1 .7 0 .7 0 .7 .1 .7 0 .7 .1 .7 0 .8 .1 .7 .1 .7 0 .7 .1 .7 .1 .7 0 .7 .1 .8 .1 .7 .1 .7 .1 .7 0 .7 .1 .7 .1 .7 .1 .7 .1 .8 .2 .7 .1 .7 .1 .7 .1 .7 .2 .7 .1 .7 .1 .8 .2 .7 .1 .7 .2 .7 .2 .7 .2 .7 .1 .7 .2 .8 .2 .7 .2 .7 .3 .7 .2 .7 .2 .7 .3 .7 .2 .7 .3 .8 .3 .7 .3 .7 .3 .7 .3 .7 .3 .7 .3 .7 .4 .8 .3 .7 .4 .7 .4 .7 .4 .7 .4 .7 .5 .7 .4 .7 .5 .8 .4 .7 .5 .7 .5 .7 .5 .7 .6 .7 .5 .7 .6 .8 .6 .7 .6 .7 .6 .7 .6 .7 .7 .7 .7 .7 .6 .8 .7 .7 .8 .7 .7 .7 .7 .7 .8 .7 .8 .7 .8 .7 .8 .8 .8 .7 .8 .7 .9 .7 .8 .7 .9 .7 .8 .7 .9 .8 .9 .7 .9 .7 .9 .7 .9 .7 .9 .7 .9 .7 1 .8 .9 .7 .9 .7 .9 .7 .9 .7 1 .7 .9 .7 .9 .7 .9 .8 .9 .7 .9 .7 .9 .7 .8" fill="none" stroke="#e040e0" stroke-width="1.2"/>
<path d="M292.6 32.9l.7 0 .7 0 .7 0 .8 0 .7 0 .7 0 .7 0 .7 0 .7 0 .7 0 .7 0 .8 0 .7 0 .7 0 .7 0 .7 0 .7 0 .7 0 .8 0 .7 0 .7 0 .7 0 .7 0 .7 0 .7 0 .8 0 .7 .1 .7 0 .7 0 .7 0 .7 0 .7 0 .7 0 .8 0 .7 0 .7 0 .7 0 .7 0 .7 0 .7 0 .8 0 .7 0 .7 0 .7 0 .7 0 .7 0 .7 0 .8 0 .7 0 .7 0 .7 0 .7 0 .7 0 .7 0 .7 .1 .8 0 .7 0 .7 0 .7 0 .7 0 .7 0 .7 0 .8 0 .7 0 .7 0 .7 0 .7 .1 .7 0 .7 0 .7 0 .8 0 .7 0 .7 0 .7 .1 .7 0 .7 0 .7 0 .8 0 .7 0 .7 .1 .7 0 .7 0 .7 0 .7 .1 .8 0 .7 0 .7 0 .7 .1 .7 0 .7 0 .7 .1 .7 0 .8 0 .7 .1 .7 0 .7 .1 .7 0 .7 0 .7 .1 .8 0 .7 .1 .7 .1 .7 0 .7 .1 .7 0 .7 .1 .8 .1 .7 0 .7 .1 .7 .1 .7 .1 .7 .1 .7 0 .7 .1 .8 .1 .7 .1 .7 .1 .7 .2 .7 .1 .7 .1 .7 .1 .8 .1 .7 .2 .7 .1 .7 .2 .7 .1 .7 .2 .7 .2 .8 .1 .7 .2 .7 .2 .7 .2 .7 .2 .7 .2 .7 .2 .7 .3 .8 .2 .7 .2 .7 .3 .7 .3 .7 .2 .7 .3 .7 .3 .8 .3 .7 .3 .7 .4 .7 .3 .7 .3 .7 .4 .7 .4 .7 .4 .8 .3 .7 .5 .7 .4 .7 .4 .7 .4 .7 .5 .7 .5 .8 .4 .7 .5 .7 .5 .7 .5 .7 .6 .7 .5 .7 .6 .8 .5 .7 .6 .7 .6 .7 .6 .7 .6 .7 .6 .7 .6 .7 .6 .8 .7 .7 .6 .7 .6 .7 .7 .7 .7 .7 .6 .7 .7 .8 .7 .7 .6 .7 .7 .7 .7 .7 .7 .7 .7 .7 .6 .8 .7 .7 .7 .7 .7 .7 .6 .7 .7 .7 .7 .7 .6 .7 .7 .8 .6 .7 .6 .7 .7 .7 .6" fill="none" stroke="#2a3de0" stroke-width="1.2"/>
<path d="M292.6 33l.7 0 .7 0 .7 0 .8 0 .7 0 .7 0 .7 0 .7 0 .7 0 .7 0 .7 0 .8 0 .7 .1 .7 0 .7 0 .7 0 .7 0 .7 0 .8 0 .7 0 .7 0 .7 0 .7 0 .7 0 .7 .1 .8 0 .7 0 .7 0 .7 0 .7 0 .7 0 .7 0 .7 .1 .8 0 .7 0 .7 0 .7 0 .7 .1 .7 0 .7 0 .8 0 .7 0 .7 .1 .7 0 .7 0 .7 .1 .7 0 .8 0 .7 0 .7 .1 .7 0 .7 .1 .7 0 .7 0 .7 .1 .8 0 .7 .1 .7 0 .7 .1 .7 0 .7 .1 .7 0 .8 .1 .7 .1 .7 0 .7 .1 .7 .1 .7 .1 .7 0 .7 .1 .8 .1 .7 .1 .7 .1 .7 .1 .7 .1 .7 .1 .7 .1 .8 .1 .7 .2 .7 .1 .7 .1 .7 .2 .7 .1 .7 .2 .8 .1 .7 .2 .7 .2 .7 .2 .7 .1 .7 .2 .7 .2 .7 .2 .8 .3 .7 .2 .7 .2 .7 .3 .7 .2 .7 .3 .7 .3 .8 .3 .7 .3 .7 .3 .7 .3 .7 .3 .7 .4 .7 .3 .8 .4 .7 .4 .7 .4 .7 .4 .7 .4 .7 .4 .7 .5 .7 .5 .8 .4 .7 .5 .7 .5 .7 .5 .7 .6 .7 .5 .7 .6 .8 .6 .7 .5 .7 .6 .7 .7 .7 .6 .7 .6 .7 .7 .8 .6 .7 .7 .7 .7 .7 .7 .7 .7 .7 .8 .7 .7 .7 .7 .8 .8 .7 .7 .7 .8 .7 .8 .7 .7 .7 .8 .7 .8 .8 .8 .7 .8 .7 .8 .7 .8 .7 .8 .7 .8 .7 .8 .7 .7 .8 .8 .7 .8 .7 .8 .7 .8 .7 .7 .7 .8 .7 .7 .8 .7 .7 .8 .7 .7 .7 .7 .7 .7 .7 .7 .7 .7 .8 .6 .7 .7 .7 .6 .7 .6 .7 .6 .7 .6 .7 .6 .7 .6 .8 .5 .7 .6 .7 .5 .7 .5 .7 .5 .7 .5 .7 .5 .8 .4 .7 .4 .7 .5 .7 .4 .7 .4 .7 .4 .7 .4 .8 .3 .7 .4 .7 .3 .7 .3 .7 .3 .7 .4 .7 .2 .7 .3 .8 .3 .7 .3 .7 .2 .7 .3" fill="none" stroke="#2b8fe6" stroke-width="1.2"/>
<path d="M292.6 35l.7 0 .7 0 .7 .1 .8 0 .7 0 .7 0 .7 0 .7 0 .7 .1 .7 0 .7 0 .8 0 .7 .1 .7 0 .7 0 .7 0 .7 .1 .7 0 .8 0 .7 .1 .7 0 .7 .1 .7 0 .7 0 .7 .1 .8 0 .7 .1 .7 0 .7 .1 .7 .1 .7 0 .7 .1 .7 .1 .8 0 .7 .1 .7 .1 .7 .1 .7 .1 .7 0 .7 .1 .8 .1 .7 .2 .7 .1 .7 .1 .7 .1 .7 .1 .7 .2 .8 .1 .7 .2 .7 .1 .7 .2 .7 .2 .7 .1 .7 .2 .7 .2 .8 .2 .7 .2 .7 .3 .7 .2 .7 .2 .7 .3 .7 .3 .8 .3 .7 .2 .7 .4 .7 .3 .7 .3 .7 .4 .7 .3 .7 .4 .8 .4 .7 .4 .7 .4 .7 .5 .7 .4 .7 .5 .7 .5 .8 .5 .7 .5 .7 .6 .7 .5 .7 .6 .7 .6 .7 .7 .8 .6 .7 .7 .7 .7 .7 .7 .7 .7 .7 .7 .7 .8 .7 .8 .8 .8 .7 .8 .7 .9 .7 .8 .7 .9 .7 .9 .7 .9 .8 .9 .7 1 .7 .9 .7 1 .7 1 .7 .9 .7 1 .8 1 .7 1 .7 1.1 .7 1 .7 1 .7 1 .7 1 .7 1 .8 1.1 .7 1 .7 1 .7 1 .7 1 .7 1 .7 .9 .8 1 .7 1 .7 .9 .7 .9 .7 .9 .7 .9 .7 .9 .8 .9 .7 .8 .7 .8 .7 .8 .7 .8 .7 .8 .7 .7 .7 .8 .8 .7 .7 .7 .7 .6 .7 .7 .7 .6 .7 .6 .7 .6 .8 .6 .7 .5 .7 .6 .7 .5 .7 .5 .7 .4 .7 .5 .7 .4 .8 .5 .7 .4 .7 .4 .7 .3 .7 .4 .7 .4 .7 .3 .8 .3 .7 .3 .7 .3 .7 .3 .7 .3 .7 .2 .7 .3 .8 .2 .7 .2 .7 .2 .7 .3 .7 .2 .7 .1 .7 .2 .7 .2 .8 .2 .7 .1 .7 .2 .7 .1 .7 .1 .7 .2 .7 .1 .8 .1 .7 .1 .7 .1 .7 .1 .7 .1 .7 .1 .7 .1 .8 .1 .7 .1 .7 0 .7 .1 .7 .1 .7 .1 .7 0 .7 .1 .8 0 .7 .1 .7 0 .7 .1" fill="none" stroke="#1cd8ef" stroke-width="1.2"/>
<circle cx="295.67" cy="41.48" r="2.45" fill="#e040e0"/>
<circle cx="306.36" cy="40.26" r="2.45" fill="#e040e0"/>
<circle cx="317.05" cy="36.58" r="2.45" fill="#e040e0"/>
<circle cx="327.73" cy="34.14" r="2.45" fill="#e040e0"/>
<circle cx="338.42" cy="27.03" r="2.45" fill="#e040e0"/>
<circle cx="349.11" cy="23.61" r="2.45" fill="#e040e0"/>
<circle cx="359.79" cy="24.34" r="2.45" fill="#e040e0"/>
<circle cx="370.48" cy="27.03" r="2.45" fill="#e040e0"/>
<circle cx="381.17" cy="33.4" r="2.45" fill="#e040e0"/>
<circle cx="391.85" cy="42.7" r="2.45" fill="#e040e0"/>
<circle cx="402.54" cy="48.34" r="2.45" fill="#e040e0"/>
<circle cx="413.23" cy="55.19" r="2.45" fill="#e040e0"/>
<circle cx="423.91" cy="67.19" r="2.45" fill="#e040e0"/>
<circle cx="434.6" cy="81.51" r="2.45" fill="#e040e0"/>
<circle cx="295.67" cy="38.05" r="2.45" fill="#2a3de0"/>
<circle cx="306.36" cy="33.4" r="2.45" fill="#2a3de0"/>
<circle cx="317.05" cy="33.89" r="2.45" fill="#2a3de0"/>
<circle cx="327.73" cy="29.61" r="2.45" fill="#2a3de0"/>
<circle cx="338.42" cy="28.87" r="2.45" fill="#2a3de0"/>
<circle cx="349.11" cy="28.87" r="2.45" fill="#2a3de0"/>
<circle cx="359.79" cy="28.87" r="2.45" fill="#2a3de0"/>
<circle cx="370.48" cy="29.97" r="2.45" fill="#2a3de0"/>
<circle cx="381.17" cy="38.05" r="2.45" fill="#2a3de0"/>
<circle cx="391.85" cy="43.07" r="2.45" fill="#2a3de0"/>
<circle cx="402.54" cy="46.01" r="2.45" fill="#2a3de0"/>
<circle cx="413.23" cy="50.54" r="2.45" fill="#2a3de0"/>
<circle cx="423.91" cy="62.05" r="2.45" fill="#2a3de0"/>
<circle cx="434.6" cy="73.43" r="2.45" fill="#2a3de0"/>
<circle cx="295.67" cy="29.61" r="2.45" fill="#2b8fe6"/>
<circle cx="306.36" cy="33.4" r="2.45" fill="#2b8fe6"/>
<circle cx="317.05" cy="34.63" r="2.45" fill="#2b8fe6"/>
<circle cx="327.73" cy="35.73" r="2.45" fill="#2b8fe6"/>
<circle cx="338.42" cy="40.26" r="2.45" fill="#2b8fe6"/>
<circle cx="349.11" cy="39.15" r="2.45" fill="#2b8fe6"/>
<circle cx="359.79" cy="39.15" r="2.45" fill="#2b8fe6"/>
<circle cx="370.48" cy="51.03" r="2.45" fill="#2b8fe6"/>
<circle cx="381.17" cy="54.7" r="2.45" fill="#2b8fe6"/>
<circle cx="391.85" cy="66.58" r="2.45" fill="#2b8fe6"/>
<circle cx="402.54" cy="72.82" r="2.45" fill="#2b8fe6"/>
<circle cx="413.23" cy="81.51" r="2.45" fill="#2b8fe6"/>
<circle cx="423.91" cy="92.9" r="2.45" fill="#2b8fe6"/>
<circle cx="434.6" cy="106" r="2.45" fill="#2b8fe6"/>
<circle cx="295.67" cy="34.63" r="2.45" fill="#1cd8ef"/>
<circle cx="306.36" cy="34.63" r="2.45" fill="#1cd8ef"/>
<circle cx="317.05" cy="38.05" r="2.45" fill="#1cd8ef"/>
<circle cx="327.73" cy="38.05" r="2.45" fill="#1cd8ef"/>
<circle cx="338.42" cy="44.91" r="2.45" fill="#1cd8ef"/>
<circle cx="349.11" cy="52.5" r="2.45" fill="#1cd8ef"/>
<circle cx="359.79" cy="61.56" r="2.45" fill="#1cd8ef"/>
<circle cx="370.48" cy="73.92" r="2.45" fill="#1cd8ef"/>
<circle cx="381.17" cy="86.78" r="2.45" fill="#1cd8ef"/>
<circle cx="391.85" cy="94.73" r="2.45" fill="#1cd8ef"/>
<circle cx="402.54" cy="103.18" r="2.45" fill="#1cd8ef"/>
<circle cx="413.23" cy="107.83" r="2.45" fill="#1cd8ef"/>
<circle cx="423.91" cy="113.95" r="2.45" fill="#1cd8ef"/>
<circle cx="434.6" cy="120.44" r="2.45" fill="#1cd8ef"/>
<path d="M295.67 144.96V152.22M293.67 144.96h4M293.67 152.22h4" stroke="#f4ec10" stroke-width="0.6" opacity="0.55"/>
<path d="M306.36 151.29V158.55M304.36 151.29h4M304.36 158.55h4" stroke="#f4ec10" stroke-width="0.6" opacity="0.55"/>
<path d="M317.05 141.36V165.56M315.05 141.36h4M315.05 165.56h4" stroke="#f4ec10" stroke-width="0.6" opacity="0.55"/>
<path d="M327.73 139.81V173.69M325.73 139.81h4M325.73 173.69h4" stroke="#f4ec10" stroke-width="0.6" opacity="0.55"/>
<path d="M338.42 144.33V183.05M336.42 144.33h4M336.42 183.05h4" stroke="#f4ec10" stroke-width="0.6" opacity="0.55"/>
<path d="M349.11 152.13V195.69M347.11 152.13h4M347.11 195.69h4" stroke="#f4ec10" stroke-width="0.6" opacity="0.55"/>
<path d="M359.79 163.81V202.53M357.79 163.81h4M357.79 202.53h4" stroke="#f4ec10" stroke-width="0.6" opacity="0.55"/>
<path d="M370.48 178.99V208.03M368.48 178.99h4M368.48 208.03h4" stroke="#f4ec10" stroke-width="0.6" opacity="0.55"/>
<path d="M381.17 186.42V215.46M379.17 186.42h4M379.17 215.46h4" stroke="#f4ec10" stroke-width="0.6" opacity="0.55"/>
<path d="M391.85 203.65V213.33M389.85 203.65h4M389.85 213.33h4" stroke="#f4ec10" stroke-width="0.6" opacity="0.55"/>
<path d="M402.54 209.49V216.75M400.54 209.49h4M400.54 216.75h4" stroke="#f4ec10" stroke-width="0.6" opacity="0.55"/>
<path d="M413.23 214.1V218.94M411.23 214.1h4M411.23 218.94h4" stroke="#f4ec10" stroke-width="0.6" opacity="0.55"/>
<path d="M423.91 216.3V221.14M421.91 216.3h4M421.91 221.14h4" stroke="#f4ec10" stroke-width="0.6" opacity="0.55"/>
<path d="M434.6 219.1V223.94M432.6 219.1h4M432.6 223.94h4" stroke="#f4ec10" stroke-width="0.6" opacity="0.55"/>
<path d="M295.67 143.74V151M293.67 143.74h4M293.67 151h4" stroke="#aee41e" stroke-width="0.6" opacity="0.55"/>
<path d="M306.36 144.96V152.22M304.36 144.96h4M304.36 152.22h4" stroke="#aee41e" stroke-width="0.6" opacity="0.55"/>
<path d="M317.05 144.96V152.22M315.05 144.96h4M315.05 152.22h4" stroke="#aee41e" stroke-width="0.6" opacity="0.55"/>
<path d="M327.73 147.39V154.65M325.73 147.39h4M325.73 154.65h4" stroke="#aee41e" stroke-width="0.6" opacity="0.55"/>
<path d="M338.42 153.48V160.74M336.42 153.48h4M336.42 160.74h4" stroke="#aee41e" stroke-width="0.6" opacity="0.55"/>
<path d="M349.11 163.22V170.48M347.11 163.22h4M347.11 170.48h4" stroke="#aee41e" stroke-width="0.6" opacity="0.55"/>
<path d="M359.79 175.4V182.66M357.79 175.4h4M357.79 182.66h4" stroke="#aee41e" stroke-width="0.6" opacity="0.55"/>
<path d="M370.48 185.26V192.52M368.48 185.26h4M368.48 192.52h4" stroke="#aee41e" stroke-width="0.6" opacity="0.55"/>
<path d="M381.17 190.61V197.87M379.17 190.61h4M379.17 197.87h4" stroke="#aee41e" stroke-width="0.6" opacity="0.55"/>
<path d="M391.85 194.88V202.14M389.85 194.88h4M389.85 202.14h4" stroke="#aee41e" stroke-width="0.6" opacity="0.55"/>
<path d="M402.54 198.52V203.36M400.54 198.52h4M400.54 203.36h4" stroke="#aee41e" stroke-width="0.6" opacity="0.55"/>
<path d="M413.23 199.13V203.97M411.23 199.13h4M411.23 203.97h4" stroke="#aee41e" stroke-width="0.6" opacity="0.55"/>
<path d="M423.91 201.44V206.28M421.91 201.44h4M421.91 206.28h4" stroke="#aee41e" stroke-width="0.6" opacity="0.55"/>
<path d="M434.6 203.03V207.87M432.6 203.03h4M432.6 207.87h4" stroke="#aee41e" stroke-width="0.6" opacity="0.55"/>
<path d="M295.67 146.18V153.44M293.67 146.18h4M293.67 153.44h4" stroke="#ff8c1a" stroke-width="0.6" opacity="0.55"/>
<path d="M306.36 146.18V153.44M304.36 146.18h4M304.36 153.44h4" stroke="#ff8c1a" stroke-width="0.6" opacity="0.55"/>
<path d="M317.05 146.78V154.04M315.05 146.78h4M315.05 154.04h4" stroke="#ff8c1a" stroke-width="0.6" opacity="0.55"/>
<path d="M327.73 150.8V158.06M325.73 150.8h4M325.73 158.06h4" stroke="#ff8c1a" stroke-width="0.6" opacity="0.55"/>
<path d="M338.42 157.74V165M336.42 157.74h4M336.42 165h4" stroke="#ff8c1a" stroke-width="0.6" opacity="0.55"/>
<path d="M349.11 164.56V171.82M347.11 164.56h4M347.11 171.82h4" stroke="#ff8c1a" stroke-width="0.6" opacity="0.55"/>
<path d="M359.79 176.61V183.87M357.79 176.61h4M357.79 183.87h4" stroke="#ff8c1a" stroke-width="0.6" opacity="0.55"/>
<path d="M370.48 188.06V195.32M368.48 188.06h4M368.48 195.32h4" stroke="#ff8c1a" stroke-width="0.6" opacity="0.55"/>
<path d="M381.17 197.92V205.18M379.17 197.92h4M379.17 205.18h4" stroke="#ff8c1a" stroke-width="0.6" opacity="0.55"/>
<path d="M391.85 208.27V215.53M389.85 208.27h4M389.85 215.53h4" stroke="#ff8c1a" stroke-width="0.6" opacity="0.55"/>
<path d="M402.54 215.57V222.83M400.54 215.57h4M400.54 222.83h4" stroke="#ff8c1a" stroke-width="0.6" opacity="0.55"/>
<path d="M413.23 219.23V226.49M411.23 219.23h4M411.23 226.49h4" stroke="#ff8c1a" stroke-width="0.6" opacity="0.55"/>
<path d="M423.91 224.34V231.6M421.91 224.34h4M421.91 231.6h4" stroke="#ff8c1a" stroke-width="0.6" opacity="0.55"/>
<path d="M434.6 227.75V235.01M432.6 227.75h4M432.6 235.01h4" stroke="#ff8c1a" stroke-width="0.6" opacity="0.55"/>
<path d="M295.67 134.62V144.3M293.67 134.62h4M293.67 144.3h4" stroke="#2ee02e" stroke-width="0.6" opacity="0.55"/>
<path d="M306.36 140.09V147.35M304.36 140.09h4M304.36 147.35h4" stroke="#2ee02e" stroke-width="0.6" opacity="0.55"/>
<path d="M317.05 141.31V148.57M315.05 141.31h4M315.05 148.57h4" stroke="#2ee02e" stroke-width="0.6" opacity="0.55"/>
<path d="M327.73 141.31V148.57M325.73 141.31h4M325.73 148.57h4" stroke="#2ee02e" stroke-width="0.6" opacity="0.55"/>
<path d="M338.42 142.77V150.03M336.42 142.77h4M336.42 150.03h4" stroke="#2ee02e" stroke-width="0.6" opacity="0.55"/>
<path d="M349.11 148.98V156.24M347.11 148.98h4M347.11 156.24h4" stroke="#2ee02e" stroke-width="0.6" opacity="0.55"/>
<path d="M359.79 159.32V166.58M357.79 159.32h4M357.79 166.58h4" stroke="#2ee02e" stroke-width="0.6" opacity="0.55"/>
<path d="M370.48 168.46V178.14M368.48 168.46h4M368.48 178.14h4" stroke="#2ee02e" stroke-width="0.6" opacity="0.55"/>
<path d="M381.17 181.13V190.81M379.17 181.13h4M379.17 190.81h4" stroke="#2ee02e" stroke-width="0.6" opacity="0.55"/>
<path d="M391.85 192.2V199.46M389.85 192.2h4M389.85 199.46h4" stroke="#2ee02e" stroke-width="0.6" opacity="0.55"/>
<path d="M402.54 196.7V203.96M400.54 196.7h4M400.54 203.96h4" stroke="#2ee02e" stroke-width="0.6" opacity="0.55"/>
<path d="M413.23 204.86V212.12M411.23 204.86h4M411.23 212.12h4" stroke="#2ee02e" stroke-width="0.6" opacity="0.55"/>
<path d="M423.91 209.48V214.32M421.91 209.48h4M421.91 214.32h4" stroke="#2ee02e" stroke-width="0.6" opacity="0.55"/>
<path d="M434.6 209.96V214.8M432.6 209.96h4M432.6 214.8h4" stroke="#2ee02e" stroke-width="0.6" opacity="0.55"/>
<path d="M295.67 141.66V146.5M293.67 141.66h4M293.67 146.5h4" stroke="#f2402e" stroke-width="0.6" opacity="0.55"/>
<path d="M306.36 141.66V146.5M304.36 141.66h4M304.36 146.5h4" stroke="#f2402e" stroke-width="0.6" opacity="0.55"/>
<path d="M317.05 143.98V148.82M315.05 143.98h4M315.05 148.82h4" stroke="#f2402e" stroke-width="0.6" opacity="0.55"/>
<path d="M327.73 147.39V152.23M325.73 147.39h4M325.73 152.23h4" stroke="#f2402e" stroke-width="0.6" opacity="0.55"/>
<path d="M338.42 154.33V159.17M336.42 154.33h4M336.42 159.17h4" stroke="#f2402e" stroke-width="0.6" opacity="0.55"/>
<path d="M349.11 161.63V166.47M347.11 161.63h4M347.11 166.47h4" stroke="#f2402e" stroke-width="0.6" opacity="0.55"/>
<path d="M359.79 170.52V175.36M357.79 170.52h4M357.79 175.36h4" stroke="#f2402e" stroke-width="0.6" opacity="0.55"/>
<path d="M370.48 178.43V183.27M368.48 178.43h4M368.48 183.27h4" stroke="#f2402e" stroke-width="0.6" opacity="0.55"/>
<path d="M381.17 184.64V189.48M379.17 184.64h4M379.17 189.48h4" stroke="#f2402e" stroke-width="0.6" opacity="0.55"/>
<path d="M391.85 191.71V198.97M389.85 191.71h4M389.85 198.97h4" stroke="#f2402e" stroke-width="0.6" opacity="0.55"/>
<path d="M402.54 196.7V203.96M400.54 196.7h4M400.54 203.96h4" stroke="#f2402e" stroke-width="0.6" opacity="0.55"/>
<path d="M413.23 201.82V209.08M411.23 201.82h4M411.23 209.08h4" stroke="#f2402e" stroke-width="0.6" opacity="0.55"/>
<path d="M423.91 202.55V209.81M421.91 202.55h4M421.91 209.81h4" stroke="#f2402e" stroke-width="0.6" opacity="0.55"/>
<path d="M434.6 208.75V216.01M432.6 208.75h4M432.6 216.01h4" stroke="#f2402e" stroke-width="0.6" opacity="0.55"/>
<path d="M292.6 149.5l.7 0 .7 .1 .7 0 .8 0 .7 0 .7 0 .7 .1 .7 0 .7 0 .7 .1 .7 0 .8 0 .7 .1 .7 0 .7 0 .7 .1 .7 0 .7 .1 .8 0 .7 .1 .7 0 .7 .1 .7 .1 .7 0 .7 .1 .8 .1 .7 .1 .7 .1 .7 .1 .7 .1 .7 .1 .7 .1 .7 .1 .8 .1 .7 .1 .7 .2 .7 .1 .7 .1 .7 .2 .7 .2 .8 .1 .7 .2 .7 .2 .7 .2 .7 .2 .7 .3 .7 .2 .8 .2 .7 .3 .7 .3 .7 .3 .7 .3 .7 .3 .7 .3 .7 .4 .8 .4 .7 .3 .7 .4 .7 .5 .7 .4 .7 .5 .7 .4 .8 .5 .7 .6 .7 .5 .7 .6 .7 .6 .7 .6 .7 .6 .7 .6 .8 .7 .7 .7 .7 .7 .7 .8 .7 .7 .7 .8 .7 .8 .8 .9 .7 .8 .7 .9 .7 .9 .7 .9 .7 .9 .7 .9 .8 1 .7 .9 .7 1 .7 1 .7 1 .7 1 .7 1 .7 1 .8 1 .7 1 .7 1 .7 1 .7 1 .7 1 .7 1 .8 1 .7 1 .7 .9 .7 1 .7 .9 .7 .9 .7 .9 .8 .9 .7 .9 .7 .8 .7 .8 .7 .8 .7 .8 .7 .7 .7 .8 .8 .7 .7 .7 .7 .6 .7 .7 .7 .6 .7 .6 .7 .6 .8 .5 .7 .6 .7 .5 .7 .5 .7 .4 .7 .5 .7 .4 .8 .4 .7 .4 .7 .4 .7 .4 .7 .3 .7 .3 .7 .4 .7 .2 .8 .3 .7 .3 .7 .3 .7 .2 .7 .2 .7 .3 .7 .2 .8 .2 .7 .2 .7 .1 .7 .2 .7 .2 .7 .1 .7 .2 .7 .1 .8 .1 .7 .2 .7 .1 .7 .1 .7 .1 .7 .1 .7 .1 .8 .1 .7 .1 .7 0 .7 .1 .7 .1 .7 .1 .7 0 .8 .1 .7 0 .7 .1 .7 0 .7 .1 .7 0 .7 .1 .7 0 .8 .1 .7 0 .7 0 .7 .1 .7 0 .7 0 .7 0 .8 .1 .7 0 .7 0 .7 0 .7 .1 .7 0 .7 0 .8 0 .7 0 .7 0 .7 .1 .7 0 .7 0 .7 0 .7 0 .8 0 .7 0 .7 0 .7 0" fill="none" stroke="#f4ec10" stroke-width="1.2"/>
<path d="M292.6 147.5l.7 0 .7 .1 .7 0 .8 0 .7 0 .7 0 .7 0 .7 0 .7 .1 .7 0 .7 0 .8 0 .7 0 .7 .1 .7 0 .7 0 .7 0 .7 .1 .8 0 .7 0 .7 .1 .7 0 .7 .1 .7 0 .7 .1 .8 0 .7 .1 .7 0 .7 .1 .7 .1 .7 0 .7 .1 .7 .1 .8 .1 .7 .1 .7 .1 .7 .1 .7 .1 .7 .1 .7 .1 .8 .1 .7 .2 .7 .1 .7 .2 .7 .2 .7 .1 .7 .2 .8 .2 .7 .2 .7 .2 .7 .3 .7 .2 .7 .3 .7 .3 .7 .3 .8 .3 .7 .3 .7 .3 .7 .4 .7 .4 .7 .4 .7 .4 .8 .4 .7 .5 .7 .4 .7 .5 .7 .5 .7 .6 .7 .5 .7 .6 .8 .6 .7 .7 .7 .6 .7 .7 .7 .7 .7 .7 .7 .7 .8 .8 .7 .7 .7 .8 .7 .8 .7 .9 .7 .8 .7 .8 .8 .9 .7 .9 .7 .8 .7 .9 .7 .9 .7 .9 .7 .9 .7 .9 .8 .8 .7 .9 .7 .9 .7 .9 .7 .8 .7 .8 .7 .9 .8 .8 .7 .8 .7 .8 .7 .7 .7 .8 .7 .7 .7 .7 .8 .7 .7 .6 .7 .7 .7 .6 .7 .6 .7 .5 .7 .6 .7 .5 .8 .5 .7 .5 .7 .5 .7 .4 .7 .4 .7 .4 .7 .4 .8 .4 .7 .3 .7 .3 .7 .4 .7 .3 .7 .2 .7 .3 .8 .3 .7 .2 .7 .2 .7 .2 .7 .2 .7 .2 .7 .2 .7 .2 .8 .1 .7 .2 .7 .1 .7 .2 .7 .1 .7 .1 .7 .1 .8 .1 .7 .1 .7 .1 .7 .1 .7 .1 .7 .1 .7 0 .7 .1 .8 .1 .7 0 .7 .1 .7 0 .7 .1 .7 0 .7 .1 .8 0 .7 .1 .7 0 .7 0 .7 .1 .7 0 .7 0 .8 .1 .7 0 .7 0 .7 0 .7 0 .7 .1 .7 0 .7 0 .8 0 .7 0 .7 0 .7 .1 .7 0 .7 0 .7 0 .8 0 .7 0 .7 0 .7 0 .7 0 .7 0 .7 .1 .8 0 .7 0 .7 0 .7 0 .7 0 .7 0 .7 0 .7 0 .8 0 .7 0 .7 0 .7 0" fill="none" stroke="#aee41e" stroke-width="1.2"/>
<path d="M292.6 148.4l.7 0 .7 0 .7 0 .8 .1 .7 0 .7 0 .7 0 .7 .1 .7 0 .7 0 .7 .1 .8 0 .7 0 .7 .1 .7 0 .7 .1 .7 0 .7 .1 .8 0 .7 .1 .7 0 .7 .1 .7 .1 .7 0 .7 .1 .8 .1 .7 .1 .7 0 .7 .1 .7 .1 .7 .1 .7 .1 .7 .1 .8 .2 .7 .1 .7 .1 .7 .1 .7 .2 .7 .1 .7 .2 .8 .1 .7 .2 .7 .2 .7 .2 .7 .2 .7 .2 .7 .2 .8 .2 .7 .3 .7 .2 .7 .3 .7 .3 .7 .2 .7 .3 .7 .4 .8 .3 .7 .3 .7 .4 .7 .4 .7 .4 .7 .4 .7 .4 .8 .4 .7 .5 .7 .5 .7 .5 .7 .5 .7 .5 .7 .6 .7 .6 .8 .6 .7 .6 .7 .7 .7 .6 .7 .7 .7 .7 .7 .8 .8 .7 .7 .8 .7 .8 .7 .8 .7 .9 .7 .8 .7 .9 .8 .9 .7 .9 .7 1 .7 .9 .7 1 .7 1 .7 1 .7 1 .8 1 .7 1.1 .7 1 .7 1.1 .7 1 .7 1.1 .7 1.1 .8 1.1 .7 1 .7 1.1 .7 1.1 .7 1.1 .7 1 .7 1.1 .8 1 .7 1.1 .7 1 .7 1 .7 1 .7 1 .7 1 .7 1 .8 .9 .7 .9 .7 .9 .7 .9 .7 .9 .7 .8 .7 .8 .8 .8 .7 .8 .7 .8 .7 .7 .7 .7 .7 .7 .7 .7 .8 .6 .7 .7 .7 .6 .7 .6 .7 .5 .7 .6 .7 .5 .7 .5 .8 .5 .7 .4 .7 .5 .7 .4 .7 .4 .7 .4 .7 .4 .8 .3 .7 .4 .7 .3 .7 .3 .7 .3 .7 .3 .7 .3 .7 .3 .8 .2 .7 .3 .7 .2 .7 .2 .7 .2 .7 .2 .7 .2 .8 .2 .7 .2 .7 .1 .7 .2 .7 .1 .7 .2 .7 .1 .8 .1 .7 .2 .7 .1 .7 .1 .7 .1 .7 .1 .7 .1 .7 .1 .8 .1 .7 0 .7 .1 .7 .1 .7 .1 .7 0 .7 .1 .8 0 .7 .1 .7 0 .7 .1 .7 0 .7 .1 .7 0 .8 .1 .7 0 .7 .1 .7 0 .7 0 .7 .1 .7 0 .7 0 .8 0 .7 .1 .7 0 .7 0" fill="none" stroke="#ff8c1a" stroke-width="1.2"/>
<path d="M292.6 144.4l.7 0 .7 0 .7 .1 .8 0 .7 0 .7 0 .7 0 .7 0 .7 0 .7 0 .7 0 .8 0 .7 .1 .7 0 .7 0 .7 0 .7 0 .7 0 .8 0 .7 .1 .7 0 .7 0 .7 0 .7 0 .7 .1 .8 0 .7 0 .7 0 .7 .1 .7 0 .7 0 .7 .1 .7 0 .8 0 .7 .1 .7 0 .7 .1 .7 0 .7 .1 .7 0 .8 .1 .7 0 .7 .1 .7 .1 .7 0 .7 .1 .7 .1 .8 .1 .7 0 .7 .1 .7 .1 .7 .1 .7 .1 .7 .2 .7 .1 .8 .1 .7 .1 .7 .2 .7 .1 .7 .2 .7 .1 .7 .2 .8 .2 .7 .1 .7 .2 .7 .2 .7 .3 .7 .2 .7 .2 .7 .3 .8 .2 .7 .3 .7 .3 .7 .3 .7 .3 .7 .3 .7 .4 .8 .3 .7 .4 .7 .4 .7 .4 .7 .5 .7 .4 .7 .5 .8 .4 .7 .5 .7 .6 .7 .5 .7 .6 .7 .5 .7 .6 .7 .7 .8 .6 .7 .7 .7 .6 .7 .7 .7 .8 .7 .7 .7 .8 .8 .7 .7 .8 .7 .9 .7 .8 .7 .8 .7 .9 .7 .9 .8 .9 .7 .9 .7 .9 .7 .9 .7 .9 .7 1 .7 .9 .7 1 .8 .9 .7 1 .7 .9 .7 1 .7 .9 .7 1 .7 .9 .8 1 .7 .9 .7 .9 .7 .9 .7 .9 .7 .9 .7 .8 .8 .9 .7 .8 .7 .8 .7 .8 .7 .8 .7 .8 .7 .7 .7 .7 .8 .7 .7 .7 .7 .7 .7 .6 .7 .7 .7 .6 .7 .5 .8 .6 .7 .5 .7 .6 .7 .5 .7 .4 .7 .5 .7 .5 .7 .4 .8 .4 .7 .4 .7 .4 .7 .3 .7 .4 .7 .3 .7 .3 .8 .3 .7 .3 .7 .3 .7 .2 .7 .3 .7 .2 .7 .3 .8 .2 .7 .2 .7 .2 .7 .2 .7 .1 .7 .2 .7 .2 .7 .1 .8 .2 .7 .1 .7 .1 .7 .2 .7 .1 .7 .1 .7 .1 .8 .1 .7 .1 .7 .1 .7 .1 .7 .1 .7 0 .7 .1 .8 .1 .7 0 .7 .1 .7 .1 .7 0 .7 .1 .7 0 .7 .1 .8 0 .7 .1 .7 0 .7 0" fill="none" stroke="#2ee02e" stroke-width="1.2"/>
<path d="M292.6 144.9l.7 0 .7 .1 .7 0 .8 0 .7 .1 .7 0 .7 0 .7 .1 .7 0 .7 .1 .7 0 .8 .1 .7 0 .7 .1 .7 0 .7 .1 .7 0 .7 .1 .8 .1 .7 .1 .7 0 .7 .1 .7 .1 .7 .1 .7 .1 .8 0 .7 .1 .7 .1 .7 .2 .7 .1 .7 .1 .7 .1 .7 .1 .8 .2 .7 .1 .7 .2 .7 .1 .7 .2 .7 .1 .7 .2 .8 .2 .7 .2 .7 .2 .7 .2 .7 .2 .7 .2 .7 .2 .8 .3 .7 .2 .7 .3 .7 .3 .7 .2 .7 .3 .7 .3 .7 .4 .8 .3 .7 .3 .7 .4 .7 .3 .7 .4 .7 .4 .7 .4 .8 .4 .7 .5 .7 .4 .7 .5 .7 .4 .7 .5 .7 .5 .7 .6 .8 .5 .7 .5 .7 .6 .7 .6 .7 .5 .7 .6 .7 .7 .8 .6 .7 .6 .7 .7 .7 .6 .7 .7 .7 .7 .7 .7 .8 .7 .7 .7 .7 .7 .7 .8 .7 .7 .7 .7 .7 .8 .7 .7 .8 .8 .7 .8 .7 .7 .7 .8 .7 .7 .7 .8 .7 .8 .8 .7 .7 .8 .7 .7 .7 .8 .7 .7 .7 .7 .7 .8 .8 .7 .7 .7 .7 .7 .7 .7 .7 .6 .7 .7 .7 .6 .7 .7 .8 .6 .7 .6 .7 .6 .7 .6 .7 .6 .7 .5 .7 .6 .8 .5 .7 .5 .7 .5 .7 .5 .7 .5 .7 .5 .7 .4 .8 .4 .7 .5 .7 .4 .7 .3 .7 .4 .7 .4 .7 .3 .7 .4 .8 .3 .7 .3 .7 .3 .7 .3 .7 .3 .7 .3 .7 .2 .8 .3 .7 .2 .7 .3 .7 .2 .7 .2 .7 .2 .7 .2 .7 .2 .8 .2 .7 .1 .7 .2 .7 .2 .7 .1 .7 .2 .7 .1 .8 .1 .7 .2 .7 .1 .7 .1 .7 .1 .7 .1 .7 .1 .8 .1 .7 .1 .7 .1 .7 .1 .7 .1 .7 0 .7 .1 .7 .1 .8 0 .7 .1 .7 .1 .7 0 .7 .1 .7 0 .7 .1 .8 0 .7 .1 .7 0 .7 .1 .7 0 .7 0 .7 .1 .8 0 .7 .1 .7 0 .7 0 .7 0 .7 .1 .7 0 .7 0 .8 0 .7 .1 .7 0 .7 0" fill="none" stroke="#f2402e" stroke-width="1.2"/>
<circle cx="295.67" cy="148.59" r="2.45" fill="#f4ec10"/>
<circle cx="306.36" cy="154.92" r="2.45" fill="#f4ec10"/>
<circle cx="317.05" cy="153.46" r="2.45" fill="#f4ec10"/>
<circle cx="327.73" cy="156.75" r="2.45" fill="#f4ec10"/>
<circle cx="338.42" cy="163.69" r="2.45" fill="#f4ec10"/>
<circle cx="349.11" cy="173.91" r="2.45" fill="#f4ec10"/>
<circle cx="359.79" cy="183.17" r="2.45" fill="#f4ec10"/>
<circle cx="370.48" cy="193.51" r="2.45" fill="#f4ec10"/>
<circle cx="381.17" cy="200.94" r="2.45" fill="#f4ec10"/>
<circle cx="391.85" cy="208.49" r="2.45" fill="#f4ec10"/>
<circle cx="402.54" cy="213.12" r="2.45" fill="#f4ec10"/>
<circle cx="413.23" cy="216.52" r="2.45" fill="#f4ec10"/>
<circle cx="423.91" cy="218.72" r="2.45" fill="#f4ec10"/>
<circle cx="434.6" cy="221.52" r="2.45" fill="#f4ec10"/>
<circle cx="295.67" cy="147.37" r="2.45" fill="#aee41e"/>
<circle cx="306.36" cy="148.59" r="2.45" fill="#aee41e"/>
<circle cx="317.05" cy="148.59" r="2.45" fill="#aee41e"/>
<circle cx="327.73" cy="151.02" r="2.45" fill="#aee41e"/>
<circle cx="338.42" cy="157.11" r="2.45" fill="#aee41e"/>
<circle cx="349.11" cy="166.85" r="2.45" fill="#aee41e"/>
<circle cx="359.79" cy="179.03" r="2.45" fill="#aee41e"/>
<circle cx="370.48" cy="188.89" r="2.45" fill="#aee41e"/>
<circle cx="381.17" cy="194.24" r="2.45" fill="#aee41e"/>
<circle cx="391.85" cy="198.51" r="2.45" fill="#aee41e"/>
<circle cx="402.54" cy="200.94" r="2.45" fill="#aee41e"/>
<circle cx="413.23" cy="201.55" r="2.45" fill="#aee41e"/>
<circle cx="423.91" cy="203.86" r="2.45" fill="#aee41e"/>
<circle cx="434.6" cy="205.45" r="2.45" fill="#aee41e"/>
<circle cx="295.67" cy="149.81" r="2.45" fill="#ff8c1a"/>
<circle cx="306.36" cy="149.81" r="2.45" fill="#ff8c1a"/>
<circle cx="317.05" cy="150.41" r="2.45" fill="#ff8c1a"/>
<circle cx="327.73" cy="154.43" r="2.45" fill="#ff8c1a"/>
<circle cx="338.42" cy="161.37" r="2.45" fill="#ff8c1a"/>
<circle cx="349.11" cy="168.19" r="2.45" fill="#ff8c1a"/>
<circle cx="359.79" cy="180.24" r="2.45" fill="#ff8c1a"/>
<circle cx="370.48" cy="191.69" r="2.45" fill="#ff8c1a"/>
<circle cx="381.17" cy="201.55" r="2.45" fill="#ff8c1a"/>
<circle cx="391.85" cy="211.9" r="2.45" fill="#ff8c1a"/>
<circle cx="402.54" cy="219.2" r="2.45" fill="#ff8c1a"/>
<circle cx="413.23" cy="222.86" r="2.45" fill="#ff8c1a"/>
<circle cx="423.91" cy="227.97" r="2.45" fill="#ff8c1a"/>
<circle cx="434.6" cy="231.38" r="2.45" fill="#ff8c1a"/>
<circle cx="295.67" cy="139.46" r="2.45" fill="#2ee02e"/>
<circle cx="306.36" cy="143.72" r="2.45" fill="#2ee02e"/>
<circle cx="317.05" cy="144.94" r="2.45" fill="#2ee02e"/>
<circle cx="327.73" cy="144.94" r="2.45" fill="#2ee02e"/>
<circle cx="338.42" cy="146.4" r="2.45" fill="#2ee02e"/>
<circle cx="349.11" cy="152.61" r="2.45" fill="#2ee02e"/>
<circle cx="359.79" cy="162.95" r="2.45" fill="#2ee02e"/>
<circle cx="370.48" cy="173.3" r="2.45" fill="#2ee02e"/>
<circle cx="381.17" cy="185.97" r="2.45" fill="#2ee02e"/>
<circle cx="391.85" cy="195.83" r="2.45" fill="#2ee02e"/>
<circle cx="402.54" cy="200.33" r="2.45" fill="#2ee02e"/>
<circle cx="413.23" cy="208.49" r="2.45" fill="#2ee02e"/>
<circle cx="423.91" cy="211.9" r="2.45" fill="#2ee02e"/>
<circle cx="434.6" cy="212.38" r="2.45" fill="#2ee02e"/>
<circle cx="295.67" cy="144.08" r="2.45" fill="#f2402e"/>
<circle cx="306.36" cy="144.08" r="2.45" fill="#f2402e"/>
<circle cx="317.05" cy="146.4" r="2.45" fill="#f2402e"/>
<circle cx="327.73" cy="149.81" r="2.45" fill="#f2402e"/>
<circle cx="338.42" cy="156.75" r="2.45" fill="#f2402e"/>
<circle cx="349.11" cy="164.05" r="2.45" fill="#f2402e"/>
<circle cx="359.79" cy="172.94" r="2.45" fill="#f2402e"/>
<circle cx="370.48" cy="180.85" r="2.45" fill="#f2402e"/>
<circle cx="381.17" cy="187.06" r="2.45" fill="#f2402e"/>
<circle cx="391.85" cy="195.34" r="2.45" fill="#f2402e"/>
<circle cx="402.54" cy="200.33" r="2.45" fill="#f2402e"/>
<circle cx="413.23" cy="205.45" r="2.45" fill="#f2402e"/>
<circle cx="423.91" cy="206.18" r="2.45" fill="#f2402e"/>
<circle cx="434.6" cy="212.38" r="2.45" fill="#f2402e"/>
<rect x="292.6" y="19.2" width="142" height="109.2" fill="none" stroke="#5a5a5a" stroke-width="1"/>
<line x1="290.8" y1="128.4" x2="292.6" y2="128.4" stroke="#5a5a5a" stroke-width="0.9"/>
<line x1="434.6" y1="128.4" x2="436.4" y2="128.4" stroke="#5a5a5a" stroke-width="0.9"/>
<text x="289.4" y="131.2" font-size="7.8" text-anchor="end" fill="#000">20</text>
<line x1="290.8" y1="103.92" x2="292.6" y2="103.92" stroke="#5a5a5a" stroke-width="0.9"/>
<line x1="434.6" y1="103.92" x2="436.4" y2="103.92" stroke="#5a5a5a" stroke-width="0.9"/>
<text x="289.4" y="106.72" font-size="7.8" text-anchor="end" fill="#000">40</text>
<line x1="290.8" y1="79.43" x2="292.6" y2="79.43" stroke="#5a5a5a" stroke-width="0.9"/>
<line x1="434.6" y1="79.43" x2="436.4" y2="79.43" stroke="#5a5a5a" stroke-width="0.9"/>
<text x="289.4" y="82.23" font-size="7.8" text-anchor="end" fill="#000">60</text>
<line x1="290.8" y1="54.95" x2="292.6" y2="54.95" stroke="#5a5a5a" stroke-width="0.9"/>
<line x1="434.6" y1="54.95" x2="436.4" y2="54.95" stroke="#5a5a5a" stroke-width="0.9"/>
<text x="289.4" y="57.75" font-size="7.8" text-anchor="end" fill="#000">80</text>
<line x1="290.8" y1="30.46" x2="292.6" y2="30.46" stroke="#5a5a5a" stroke-width="0.9"/>
<line x1="434.6" y1="30.46" x2="436.4" y2="30.46" stroke="#5a5a5a" stroke-width="0.9"/>
<text x="289.4" y="33.26" font-size="7.8" text-anchor="end" fill="#000">100</text>
<rect x="292.6" y="131.3" width="142" height="108.6" fill="none" stroke="#5a5a5a" stroke-width="1"/>
<line x1="290.8" y1="239.9" x2="292.6" y2="239.9" stroke="#5a5a5a" stroke-width="0.9"/>
<line x1="434.6" y1="239.9" x2="436.4" y2="239.9" stroke="#5a5a5a" stroke-width="0.9"/>
<text x="289.4" y="242.7" font-size="7.8" text-anchor="end" fill="#000">20</text>
<line x1="290.8" y1="215.55" x2="292.6" y2="215.55" stroke="#5a5a5a" stroke-width="0.9"/>
<line x1="434.6" y1="215.55" x2="436.4" y2="215.55" stroke="#5a5a5a" stroke-width="0.9"/>
<text x="289.4" y="218.35" font-size="7.8" text-anchor="end" fill="#000">40</text>
<line x1="290.8" y1="191.2" x2="292.6" y2="191.2" stroke="#5a5a5a" stroke-width="0.9"/>
<line x1="434.6" y1="191.2" x2="436.4" y2="191.2" stroke="#5a5a5a" stroke-width="0.9"/>
<text x="289.4" y="194" font-size="7.8" text-anchor="end" fill="#000">60</text>
<line x1="290.8" y1="166.85" x2="292.6" y2="166.85" stroke="#5a5a5a" stroke-width="0.9"/>
<line x1="434.6" y1="166.85" x2="436.4" y2="166.85" stroke="#5a5a5a" stroke-width="0.9"/>
<text x="289.4" y="169.65" font-size="7.8" text-anchor="end" fill="#000">80</text>
<line x1="290.8" y1="142.5" x2="292.6" y2="142.5" stroke="#5a5a5a" stroke-width="0.9"/>
<line x1="434.6" y1="142.5" x2="436.4" y2="142.5" stroke="#5a5a5a" stroke-width="0.9"/>
<text x="289.4" y="145.3" font-size="7.8" text-anchor="end" fill="#000">100</text>
<line x1="292.6" y1="239.9" x2="292.6" y2="241.7" stroke="#5a5a5a" stroke-width="0.9"/>
<line x1="292.6" y1="17.4" x2="292.6" y2="19.2" stroke="#5a5a5a" stroke-width="0.9"/>
<text x="291.8" y="250.5" font-size="7.8" text-anchor="middle" fill="#000">10</text>
<text x="296.2" y="246.4" font-size="5.4" text-anchor="start" fill="#000">0</text>
<line x1="328.1" y1="239.9" x2="328.1" y2="241.7" stroke="#5a5a5a" stroke-width="0.9"/>
<line x1="328.1" y1="17.4" x2="328.1" y2="19.2" stroke="#5a5a5a" stroke-width="0.9"/>
<text x="327.3" y="250.5" font-size="7.8" text-anchor="middle" fill="#000">10</text>
<text x="331.7" y="246.4" font-size="5.4" text-anchor="start" fill="#000">1</text>
<line x1="363.6" y1="239.9" x2="363.6" y2="241.7" stroke="#5a5a5a" stroke-width="0.9"/>
<line x1="363.6" y1="17.4" x2="363.6" y2="19.2" stroke="#5a5a5a" stroke-width="0.9"/>
<text x="362.8" y="250.5" font-size="7.8" text-anchor="middle" fill="#000">10</text>
<text x="367.2" y="246.4" font-size="5.4" text-anchor="start" fill="#000">2</text>
<line x1="399.1" y1="239.9" x2="399.1" y2="241.7" stroke="#5a5a5a" stroke-width="0.9"/>
<line x1="399.1" y1="17.4" x2="399.1" y2="19.2" stroke="#5a5a5a" stroke-width="0.9"/>
<text x="398.3" y="250.5" font-size="7.8" text-anchor="middle" fill="#000">10</text>
<text x="402.7" y="246.4" font-size="5.4" text-anchor="start" fill="#000">3</text>
<line x1="434.6" y1="239.9" x2="434.6" y2="241.7" stroke="#5a5a5a" stroke-width="0.9"/>
<line x1="434.6" y1="17.4" x2="434.6" y2="19.2" stroke="#5a5a5a" stroke-width="0.9"/>
<text x="433.8" y="250.5" font-size="7.8" text-anchor="middle" fill="#000">10</text>
<text x="438.2" y="246.4" font-size="5.4" text-anchor="start" fill="#000">4</text>
<text x="364" y="258.7" font-size="8.2" text-anchor="middle" fill="#000">Concentration (nM)</text>
<text x="277.3" y="66" font-size="8.2" text-anchor="middle" fill="#000" transform="rotate(-90 277.3 66)">Normalized FP</text>
<text x="277.3" y="178" font-size="8.2" text-anchor="middle" fill="#000" transform="rotate(-90 277.3 178)">Normalized FP</text>
<text x="293.8" y="75.9" font-size="8.1" text-anchor="start" fill="#333">GC (%): IC<tspan font-size="5" dy="1.8">50</tspan></text>
<text x="293.8" y="189.7" font-size="8.1" text-anchor="start" fill="#333">GC (%): IC<tspan font-size="5" dy="1.8">50</tspan></text>
<text x="309.2" y="85.4" font-size="7.95" text-anchor="start" fill="#e040e0">100: 6.2 µM</text>
<text x="312.5" y="95.6" font-size="7.95" text-anchor="start" fill="#2a3de0">90: 5.2 µM</text>
<text x="311.9" y="106.2" font-size="7.95" text-anchor="start" fill="#2f8ee8">77: 891.3 nM</text>
<text x="311.9" y="115.8" font-size="7.95" text-anchor="start" fill="#22d6ee">63: 178.6 nM</text>
<text x="322.6" y="200.3" font-size="8.0" text-anchor="end" fill="#2fdc2f">47:</text>
<text x="359" y="200.3" font-size="8.0" text-anchor="end" fill="#2fdc2f">217.9 nM</text>
<text x="322.6" y="209.1" font-size="8.0" text-anchor="end" fill="#6f7a28">33:</text>
<text x="359" y="209.1" font-size="8.0" text-anchor="end" fill="#6f7a28">89.0 nM</text>
<text x="322.6" y="217.9" font-size="8.0" text-anchor="end" fill="#857a25">17:</text>
<text x="359" y="217.9" font-size="8.0" text-anchor="end" fill="#857a25">84.7 nM</text>
<text x="322.6" y="226.7" font-size="8.0" text-anchor="end" fill="#ff9a3c">3:</text>
<text x="359" y="226.7" font-size="8.0" text-anchor="end" fill="#ff9a3c">131.8 nM</text>
<text x="322.6" y="235.4" font-size="8.0" text-anchor="end" fill="#f24a34">0:</text>
<text x="359" y="235.4" font-size="8.0" text-anchor="end" fill="#f24a34">39.5 nM</text>
<text x="460.2" y="14.4" font-size="16" text-anchor="start" fill="#000" font-weight="bold">c</text>
<rect x="498.3" y="111.36" width="9.4" height="18.24" fill="#ff2a00" stroke="#222" stroke-width="0.8"/>
<line x1="503" y1="111.36" x2="503" y2="108.42" stroke="#444" stroke-width="0.7"/>
<line x1="500.8" y1="108.42" x2="505.2" y2="108.42" stroke="#444" stroke-width="0.7"/>
<circle cx="503.3" cy="117.03" r="0.9" fill="#555" opacity="0.7"/>
<text x="503" y="105.82" font-size="7" text-anchor="middle" fill="#333">0.4x</text>
<rect x="513.38" y="95.85" width="9.4" height="33.75" fill="#ff8c00" stroke="#222" stroke-width="0.8"/>
<line x1="518.08" y1="95.85" x2="518.08" y2="95.35" stroke="#444" stroke-width="0.7"/>
<line x1="515.88" y1="95.35" x2="520.28" y2="95.35" stroke="#444" stroke-width="0.7"/>
<circle cx="518.38" cy="95.85" r="0.9" fill="#555" opacity="0.7"/>
<circle cx="518.38" cy="96.05" r="0.9" fill="#555" opacity="0.7"/>
<text x="518.08" y="92.75" font-size="7" text-anchor="middle" fill="#333">1.5x</text>
<rect x="528.46" y="96.05" width="9.4" height="33.55" fill="#ffff00" stroke="#222" stroke-width="0.8"/>
<line x1="533.16" y1="96.05" x2="533.16" y2="85.75" stroke="#444" stroke-width="0.7"/>
<line x1="530.96" y1="85.75" x2="535.36" y2="85.75" stroke="#444" stroke-width="0.7"/>
<circle cx="533.46" cy="101.44" r="0.9" fill="#555" opacity="0.7"/>
<circle cx="533.46" cy="124.26" r="0.9" fill="#555" opacity="0.7"/>
<text x="533.16" y="83.15" font-size="7" text-anchor="middle" fill="#333">1.1x</text>
<rect x="543.54" y="100.4" width="9.4" height="29.2" fill="#99ee00" stroke="#222" stroke-width="0.8"/>
<line x1="548.24" y1="100.4" x2="548.24" y2="92.32" stroke="#444" stroke-width="0.7"/>
<line x1="546.04" y1="92.32" x2="550.44" y2="92.32" stroke="#444" stroke-width="0.7"/>
<circle cx="548.54" cy="103.99" r="0.9" fill="#555" opacity="0.7"/>
<circle cx="548.54" cy="117.54" r="0.9" fill="#555" opacity="0.7"/>
<text x="548.24" y="89.72" font-size="7" text-anchor="middle" fill="#333">1x</text>
<rect x="558.62" y="88.34" width="9.4" height="41.26" fill="#00e61e" stroke="#222" stroke-width="0.8"/>
<line x1="563.32" y1="88.34" x2="563.32" y2="83.2" stroke="#444" stroke-width="0.7"/>
<line x1="561.12" y1="83.2" x2="565.52" y2="83.2" stroke="#444" stroke-width="0.7"/>
<circle cx="563.62" cy="90.18" r="0.9" fill="#555" opacity="0.7"/>
<circle cx="563.62" cy="95.85" r="0.9" fill="#555" opacity="0.7"/>
<text x="563.32" y="80.6" font-size="7" text-anchor="middle" fill="#333">2.4x</text>
<rect x="573.7" y="91.57" width="9.4" height="38.03" fill="#00ffff" stroke="#222" stroke-width="0.8"/>
<line x1="578.4" y1="91.57" x2="578.4" y2="88.92" stroke="#444" stroke-width="0.7"/>
<line x1="576.2" y1="88.92" x2="580.6" y2="88.92" stroke="#444" stroke-width="0.7"/>
<circle cx="578.7" cy="95.35" r="0.9" fill="#555" opacity="0.7"/>
<text x="578.4" y="86.32" font-size="7" text-anchor="middle" fill="#333">2x</text>
<rect x="588.78" y="69.54" width="9.4" height="60.06" fill="#1a8cff" stroke="#222" stroke-width="0.8"/>
<line x1="593.48" y1="69.54" x2="593.48" y2="64.11" stroke="#444" stroke-width="0.7"/>
<line x1="591.28" y1="64.11" x2="595.68" y2="64.11" stroke="#444" stroke-width="0.7"/>
<circle cx="593.78" cy="81.73" r="0.9" fill="#555" opacity="0.7"/>
<text x="593.48" y="61.51" font-size="7" text-anchor="middle" fill="#333">10x</text>
<rect x="603.86" y="51.43" width="9.4" height="78.17" fill="#0022dd" stroke="#222" stroke-width="0.8"/>
<line x1="608.56" y1="51.43" x2="608.56" y2="46.33" stroke="#444" stroke-width="0.7"/>
<line x1="606.36" y1="46.33" x2="610.76" y2="46.33" stroke="#444" stroke-width="0.7"/>
<circle cx="608.86" cy="64.11" r="0.9" fill="#555" opacity="0.7"/>
<circle cx="608.86" cy="47.82" r="0.9" fill="#555" opacity="0.7"/>
<text x="608.56" y="43.73" font-size="7" text-anchor="middle" fill="#333">58x</text>
<rect x="618.94" y="43.39" width="9.4" height="86.21" fill="#ee22ee" stroke="#222" stroke-width="0.8"/>
<line x1="623.64" y1="43.39" x2="623.64" y2="36.86" stroke="#444" stroke-width="0.7"/>
<line x1="621.44" y1="36.86" x2="625.84" y2="36.86" stroke="#444" stroke-width="0.7"/>
<circle cx="623.94" cy="49.21" r="0.9" fill="#555" opacity="0.7"/>
<circle cx="623.94" cy="48.64" r="0.9" fill="#555" opacity="0.7"/>
<text x="623.64" y="34.26" font-size="7" text-anchor="middle" fill="#333">70x</text>
<rect x="492.8" y="20.5" width="140.9" height="109.1" fill="none" stroke="#5a5a5a" stroke-width="1"/>
<line x1="490.9" y1="129.6" x2="492.8" y2="129.6" stroke="#5a5a5a" stroke-width="0.9"/>
<line x1="633.7" y1="129.6" x2="631.8" y2="129.6" stroke="#5a5a5a" stroke-width="0.9"/>
<text x="488.3" y="132.5" font-size="8.2" text-anchor="end" fill="#000">10</text>
<text x="488.5" y="128" font-size="5.4" text-anchor="start" fill="#000">1</text>
<line x1="490.9" y1="99.3" x2="492.8" y2="99.3" stroke="#5a5a5a" stroke-width="0.9"/>
<line x1="633.7" y1="99.3" x2="631.8" y2="99.3" stroke="#5a5a5a" stroke-width="0.9"/>
<text x="488.3" y="102.2" font-size="8.2" text-anchor="end" fill="#000">10</text>
<text x="488.5" y="97.7" font-size="5.4" text-anchor="start" fill="#000">2</text>
<line x1="490.9" y1="69" x2="492.8" y2="69" stroke="#5a5a5a" stroke-width="0.9"/>
<line x1="633.7" y1="69" x2="631.8" y2="69" stroke="#5a5a5a" stroke-width="0.9"/>
<text x="488.3" y="71.9" font-size="8.2" text-anchor="end" fill="#000">10</text>
<text x="488.5" y="67.4" font-size="5.4" text-anchor="start" fill="#000">3</text>
<line x1="490.9" y1="38.7" x2="492.8" y2="38.7" stroke="#5a5a5a" stroke-width="0.9"/>
<line x1="633.7" y1="38.7" x2="631.8" y2="38.7" stroke="#5a5a5a" stroke-width="0.9"/>
<text x="488.3" y="41.6" font-size="8.2" text-anchor="end" fill="#000">10</text>
<text x="488.5" y="37.1" font-size="5.4" text-anchor="start" fill="#000">4</text>
<line x1="503" y1="20.5" x2="503" y2="22.2" stroke="#5a5a5a" stroke-width="0.8"/>
<line x1="518.08" y1="20.5" x2="518.08" y2="22.2" stroke="#5a5a5a" stroke-width="0.8"/>
<line x1="533.16" y1="20.5" x2="533.16" y2="22.2" stroke="#5a5a5a" stroke-width="0.8"/>
<line x1="548.24" y1="20.5" x2="548.24" y2="22.2" stroke="#5a5a5a" stroke-width="0.8"/>
<line x1="563.32" y1="20.5" x2="563.32" y2="22.2" stroke="#5a5a5a" stroke-width="0.8"/>
<line x1="578.4" y1="20.5" x2="578.4" y2="22.2" stroke="#5a5a5a" stroke-width="0.8"/>
<line x1="593.48" y1="20.5" x2="593.48" y2="22.2" stroke="#5a5a5a" stroke-width="0.8"/>
<line x1="608.56" y1="20.5" x2="608.56" y2="22.2" stroke="#5a5a5a" stroke-width="0.8"/>
<line x1="623.64" y1="20.5" x2="623.64" y2="22.2" stroke="#5a5a5a" stroke-width="0.8"/>
<text x="473.2" y="71" font-size="8.2" text-anchor="middle" fill="#000" transform="rotate(-90 473.2 71)">IC<tspan font-size="5.5" dy="1.5">50</tspan><tspan dy="-1.5"> (nM)</tspan></text>
<text x="503" y="140.2" font-size="8.0" text-anchor="middle" fill="#ff3a1a">0</text>
<text x="518.08" y="140.2" font-size="8.0" text-anchor="middle" fill="#ff9a2a">3</text>
<text x="533.16" y="140.2" font-size="8.0" text-anchor="middle" fill="#8a8420">17</text>
<text x="548.24" y="140.2" font-size="8.0" text-anchor="middle" fill="#6f7a28">33</text>
<text x="563.32" y="140.2" font-size="8.0" text-anchor="middle" fill="#33dd33">47</text>
<text x="578.4" y="140.2" font-size="8.0" text-anchor="middle" fill="#22d6ee">63</text>
<text x="593.48" y="140.2" font-size="8.0" text-anchor="middle" fill="#2f8ee8">77</text>
<text x="608.56" y="140.2" font-size="8.0" text-anchor="middle" fill="#2a3de0">90</text>
<text x="617.6" y="140.2" font-size="8.0" text-anchor="start" fill="#e040e0">100% G/C</text>
<rect x="498.3" y="142.5" width="9.4" height="58.82" fill="#ff2a00" stroke="#222" stroke-width="0.8"/>
<line x1="503" y1="201.32" x2="503" y2="204.12" stroke="#444" stroke-width="0.7"/>
<line x1="500.8" y1="204.12" x2="505.2" y2="204.12" stroke="#444" stroke-width="0.7"/>
<text x="503" y="211.72" font-size="7" text-anchor="middle" fill="#333">1x</text>
<circle cx="503" cy="199.32" r="0.9" fill="#555" opacity="0.7"/>
<rect x="513.38" y="142.5" width="9.4" height="48.51" fill="#ff8c00" stroke="#222" stroke-width="0.8"/>
<line x1="518.08" y1="191.01" x2="518.08" y2="195.81" stroke="#444" stroke-width="0.7"/>
<line x1="515.88" y1="195.81" x2="520.28" y2="195.81" stroke="#444" stroke-width="0.7"/>
<text x="518.08" y="203.41" font-size="7" text-anchor="middle" fill="#333">1.1x</text>
<circle cx="518.08" cy="189.01" r="0.9" fill="#555" opacity="0.7"/>
<rect x="528.46" y="142.5" width="9.4" height="101.21" fill="#ffff00" stroke="#222" stroke-width="0.8"/>
<line x1="533.16" y1="243.71" x2="533.16" y2="244.1" stroke="#444" stroke-width="0.7"/>
<line x1="530.96" y1="244.1" x2="535.36" y2="244.1" stroke="#444" stroke-width="0.7"/>
<text x="533.16" y="251.7" font-size="7" text-anchor="middle" fill="#333">0.6x</text>
<circle cx="533.16" cy="241.71" r="0.9" fill="#555" opacity="0.7"/>
<rect x="543.54" y="142.5" width="9.4" height="58.12" fill="#99ee00" stroke="#222" stroke-width="0.8"/>
<line x1="548.24" y1="200.62" x2="548.24" y2="204.12" stroke="#444" stroke-width="0.7"/>
<line x1="546.04" y1="204.12" x2="550.44" y2="204.12" stroke="#444" stroke-width="0.7"/>
<text x="548.24" y="211.72" font-size="7" text-anchor="middle" fill="#333">1x</text>
<circle cx="548.24" cy="198.62" r="0.9" fill="#555" opacity="0.7"/>
<rect x="558.62" y="142.5" width="9.4" height="75.6" fill="#00e61e" stroke="#222" stroke-width="0.8"/>
<line x1="563.32" y1="218.1" x2="563.32" y2="225.09" stroke="#444" stroke-width="0.7"/>
<line x1="561.12" y1="225.09" x2="565.52" y2="225.09" stroke="#444" stroke-width="0.7"/>
<text x="563.32" y="232.69" font-size="7" text-anchor="middle" fill="#333">0.8x</text>
<circle cx="563.32" cy="216.1" r="0.9" fill="#555" opacity="0.7"/>
<rect x="573.7" y="142.5" width="9.4" height="74.6" fill="#00ffff" stroke="#222" stroke-width="0.8"/>
<line x1="578.4" y1="217.1" x2="578.4" y2="221.6" stroke="#444" stroke-width="0.7"/>
<line x1="576.2" y1="221.6" x2="580.6" y2="221.6" stroke="#444" stroke-width="0.7"/>
<text x="578.4" y="229.2" font-size="7" text-anchor="middle" fill="#333">0.8x</text>
<circle cx="578.4" cy="215.1" r="0.9" fill="#555" opacity="0.7"/>
<rect x="588.78" y="142.5" width="9.4" height="1.31" fill="#1a8cff" stroke="#222" stroke-width="0.8"/>
<line x1="593.48" y1="143.81" x2="593.48" y2="156.05" stroke="#444" stroke-width="0.7"/>
<line x1="591.28" y1="156.05" x2="595.68" y2="156.05" stroke="#444" stroke-width="0.7"/>
<text x="593.48" y="163.65" font-size="7" text-anchor="middle" fill="#333">3.6x</text>
<circle cx="593.48" cy="141.81" r="0.9" fill="#555" opacity="0.7"/>
<text x="607.8" y="154" font-size="11" text-anchor="middle" fill="#2a3de0">*</text>
<text x="622.8" y="154" font-size="11" text-anchor="middle" fill="#e040e0">*</text>
<rect x="492.8" y="142.5" width="139.8" height="117.1" fill="none" stroke="#5a5a5a" stroke-width="1"/>
<line x1="490.9" y1="142.5" x2="492.8" y2="142.5" stroke="#5a5a5a" stroke-width="0.9"/>
<line x1="632.6" y1="142.5" x2="630.7" y2="142.5" stroke="#5a5a5a" stroke-width="0.9"/>
<text x="489.3" y="146" font-size="8.0" text-anchor="end" fill="#000">0.05</text>
<line x1="490.9" y1="164.35" x2="492.8" y2="164.35" stroke="#5a5a5a" stroke-width="0.9"/>
<line x1="632.6" y1="164.35" x2="630.7" y2="164.35" stroke="#5a5a5a" stroke-width="0.9"/>
<text x="489.3" y="167.85" font-size="8.0" text-anchor="end" fill="#000">0.1</text>
<line x1="490.9" y1="208.05" x2="492.8" y2="208.05" stroke="#5a5a5a" stroke-width="0.9"/>
<line x1="632.6" y1="208.05" x2="630.7" y2="208.05" stroke="#5a5a5a" stroke-width="0.9"/>
<text x="489.3" y="211.55" font-size="8.0" text-anchor="end" fill="#000">0.2</text>
<line x1="490.9" y1="251.75" x2="492.8" y2="251.75" stroke="#5a5a5a" stroke-width="0.9"/>
<line x1="632.6" y1="251.75" x2="630.7" y2="251.75" stroke="#5a5a5a" stroke-width="0.9"/>
<text x="489.3" y="255.25" font-size="8.0" text-anchor="end" fill="#000">0.3</text>
<line x1="503" y1="259.6" x2="503" y2="257.9" stroke="#5a5a5a" stroke-width="0.8"/>
<line x1="518.08" y1="259.6" x2="518.08" y2="257.9" stroke="#5a5a5a" stroke-width="0.8"/>
<line x1="533.16" y1="259.6" x2="533.16" y2="257.9" stroke="#5a5a5a" stroke-width="0.8"/>
<line x1="548.24" y1="259.6" x2="548.24" y2="257.9" stroke="#5a5a5a" stroke-width="0.8"/>
<line x1="563.32" y1="259.6" x2="563.32" y2="257.9" stroke="#5a5a5a" stroke-width="0.8"/>
<line x1="578.4" y1="259.6" x2="578.4" y2="257.9" stroke="#5a5a5a" stroke-width="0.8"/>
<line x1="593.48" y1="259.6" x2="593.48" y2="257.9" stroke="#5a5a5a" stroke-width="0.8"/>
<line x1="608.56" y1="259.6" x2="608.56" y2="257.9" stroke="#5a5a5a" stroke-width="0.8"/>
<line x1="623.64" y1="259.6" x2="623.64" y2="257.9" stroke="#5a5a5a" stroke-width="0.8"/>
<text x="473.5" y="193" font-size="8.2" text-anchor="middle" fill="#000" transform="rotate(-90 473.5 193)">Response (nm)</text>
<text x="-0.6" y="264.9" font-size="16" text-anchor="start" fill="#000" font-weight="bold">d</text>
<path d="M28.6 355l.3-.1 .3 0 .3-.1 .3 0 .3-.1 .3 0 .3 0 .3-.1 .3 0 .3-.1 .3 0 .3 0 .3-.1 .3 0 .3 0 .3-.1 .3 0 .3 0 .3-.1 .3 0 .3 0 1.1-.1 1.1-.1 1.1-.1 1.1 0 1.2-.1 1.1-.1 1.1 0 1.1-.1 1.1 0 1.1-.1 1.1 0 1.1-.1 1.2 0 1.1-.1 1.1 0 1.1 0 1.1-.1 1.1 0 1.1 0 1.1-.1 1.2 0 1.1 0 1.1-.1 1.1 0 1.1 0 1.1 0 1.1-.1 1.1 0 1.2 0 1.1-.1 1.1 0 1.1 0 1.1 0 1.1-.1 1.1 0 1.2 0 1.1 0 1.1 0 1.1-.1 1.1 0 1.1 0 1.1 0 1.1-.1 1.2 0 1.1 0 1.1 0 1.1 0 1.1 0 1.1-.1 1.1 0 1.1 0 1.2 0 1.1 0 1.1-.1 1.1 0 1.1 0 1.1 0 1.1 0 1.1 0 .3 0 .5 .1 .5 .1 .4 .1 .5 .1 .4 0 .5 .1 .4 0 .5 .1 .5 0 .4 .1 .5 0 .4 .1 .5 0 .4 0 .5 0 .5 .1 .4 0 .5 0 .4 0 .6 .1 1.2 0 1.1 0 1.1 .1 1.2 0 1.1 0 1.2 .1 1.1 0 1.1 0 1.2 0 1.1 0 1.1 .1 1.2 0 1.1 0 1.2 0 1.1 0 1.1 0 1.2 .1 1.1 0 1.1 0 1.2 0 1.1 0 1.2 0 1.1 .1 1.1 0 1.2 0 1.1 0 1.1 0 1.2 0 1.1 0 1.2 .1 1.1 0 1.1 0 1.2 0 1.1 0 1.1 0 1.2 .1 1.1 0 1.2 0 1.1 0" fill="none" stroke="#111" stroke-width="0.8"/>
<path d="M28.6 355l.3-.3 .3-.3 .3-.2 .3-.3 .3-.2 .3-.1 .3-.2 .3-.1 .3-.1 .3-.2 .3-.1 .3-.1 .3 0 .3-.1 .3-.1 .3 0 .3-.1 .3 0 .3-.1 .3 0 .3-.1 1.1-.1 1.1-.1 1.1-.1 1.1-.1 1.2 0 1.1-.1 1.1 0 1.1-.1 1.1 0 1.1-.1 1.1 0 1.1-.1 1.2 0 1.1-.1 1.1 0 1.1-.1 1.1 0 1.1 0 1.1-.1 1.1 0 1.2-.1 1.1 0 1.1 0 1.1-.1 1.1 0 1.1-.1 1.1 0 1.1 0 1.2-.1 1.1 0 1.1 0 1.1-.1 1.1 0 1.1 0 1.1 0 1.2-.1 1.1 0 1.1 0 1.1-.1 1.1 0 1.1 0 1.1 0 1.1-.1 1.2 0 1.1 0 1.1 0 1.1-.1 1.1 0 1.1 0 1.1 0 1.1-.1 1.2 0 1.1 0 1.1 0 1.1 0 1.1-.1 1.1 0 1.1 0 1.1 0 .3 .4 .5 .5 .5 .5 .4 .5 .5 .3 .4 .4 .5 .3 .4 .2 .5 .3 .5 .2 .4 .2 .5 .1 .4 .1 .5 .2 .4 .1 .5 .1 .5 .1 .4 0 .5 .1 .4 .1 .6 0 1.2 .1 1.1 .1 1.1 .1 1.2 0 1.1 0 1.2 .1 1.1 0 1.1 0 1.2 0 1.1 0 1.1 .1 1.2 0 1.1 0 1.2 0 1.1 0 1.1 0 1.2 0 1.1 0 1.1 0 1.2 0 1.1 0 1.2 0 1.1 .1 1.1 0 1.2 0 1.1 0 1.1 0 1.2 0 1.1 0 1.2 0 1.1 0 1.1 0 1.2 0 1.1 0 1.1 0 1.2 .1 1.1 0 1.2 0 1.1 0" fill="none" stroke="#111" stroke-width="0.8"/>
<path d="M28.6 355l.3-.9 .3-.8 .3-.6 .3-.6 .3-.4 .3-.5 .3-.3 .3-.3 .3-.3 .3-.2 .3-.2 .3-.2 .3-.1 .3-.2 .3-.1 .3-.1 .3-.1 .3-.1 .3 0 .3-.1 .3-.1 1.1-.2 1.1-.2 1.1-.1 1.1-.1 1.2-.2 1.1-.1 1.1-.1 1.1-.1 1.1-.1 1.1-.1 1.1-.1 1.1-.1 1.2-.1 1.1-.1 1.1-.1 1.1-.1 1.1-.1 1.1-.1 1.1-.1 1.1-.1 1.2-.1 1.1-.1 1.1-.1 1.1 0 1.1-.1 1.1-.1 1.1-.1 1.1-.1 1.2 0 1.1-.1 1.1-.1 1.1-.1 1.1 0 1.1-.1 1.1-.1 1.2 0 1.1-.1 1.1-.1 1.1 0 1.1-.1 1.1 0 1.1-.1 1.1 0 1.2-.1 1.1-.1 1.1 0 1.1-.1 1.1 0 1.1-.1 1.1 0 1.1-.1 1.2 0 1.1-.1 1.1 0 1.1-.1 1.1 0 1.1 0 1.1-.1 1.1 0 .3 .6 .5 .8 .5 .7 .4 .7 .5 .6 .4 .5 .5 .4 .4 .4 .5 .3 .5 .3 .4 .3 .5 .3 .4 .2 .5 .2 .4 .1 .5 .2 .5 .1 .4 .1 .5 .1 .4 .1 .6 .1 1.2 .2 1.1 .1 1.1 .2 1.2 0 1.1 .1 1.2 .1 1.1 0 1.1 .1 1.2 0 1.1 0 1.1 .1 1.2 0 1.1 0 1.2 .1 1.1 0 1.1 0 1.2 .1 1.1 0 1.1 0 1.2 .1 1.1 0 1.2 0 1.1 .1 1.1 0 1.2 0 1.1 0 1.1 .1 1.2 0 1.1 0 1.2 .1 1.1 0 1.1 0 1.2 .1 1.1 0 1.1 0 1.2 0 1.1 .1 1.2 0 1.1 0" fill="none" stroke="#111" stroke-width="0.8"/>
<path d="M28.6 355l.3-2.2 .3-1.9 .3-1.7 .3-1.3 .3-1.2 .3-1 .3-.9 .3-.8 .3-.6 .3-.6 .3-.5 .3-.4 .3-.4 .3-.3 .3-.3 .3-.3 .3-.2 .3-.2 .3-.2 .3-.2 .3-.1 1.1-.5 1.1-.4 1.1-.4 1.1-.3 1.2-.3 1.1-.3 1.1-.2 1.1-.3 1.1-.3 1.1-.2 1.1-.3 1.1-.2 1.2-.3 1.1-.2 1.1-.2 1.1-.3 1.1-.2 1.1-.2 1.1-.2 1.1-.2 1.2-.2 1.1-.2 1.1-.2 1.1-.2 1.1-.2 1.1-.2 1.1-.2 1.1-.2 1.2-.1 1.1-.2 1.1-.2 1.1-.1 1.1-.2 1.1-.2 1.1-.1 1.2-.2 1.1-.1 1.1-.2 1.1-.1 1.1-.2 1.1-.1 1.1-.1 1.1-.2 1.2-.1 1.1-.1 1.1-.2 1.1-.1 1.1-.1 1.1-.1 1.1-.1 1.1-.2 1.2-.1 1.1-.1 1.1-.1 1.1-.1 1.1-.1 1.1-.1 1.1-.1 1.1-.1 .3 1.2 .5 1.7 .5 1.5 .4 1.4 .5 1.1 .4 1 .5 1 .4 .8 .5 .7 .5 .6 .4 .6 .5 .4 .4 .5 .5 .4 .4 .3 .5 .3 .5 .3 .4 .2 .5 .3 .4 .1 .6 .3 1.2 .3 1.1 .3 1.1 .2 1.2 .2 1.1 .1 1.2 .1 1.1 .1 1.1 .1 1.2 .1 1.1 .1 1.1 .1 1.2 0 1.1 .1 1.2 .1 1.1 0 1.1 .1 1.2 .1 1.1 0 1.1 .1 1.2 0 1.1 .1 1.2 .1 1.1 0 1.1 .1 1.2 .1 1.1 0 1.1 .1 1.2 0 1.1 .1 1.2 .1 1.1 0 1.1 .1 1.2 0 1.1 .1 1.1 .1 1.2 0 1.1 .1 1.2 0 1.1 .1" fill="none" stroke="#111" stroke-width="0.8"/>
<path d="M28.6 355l.3-3.6 .3-3.1 .3-2.4 .3-2.1 .3-1.7 .3-1.4 .3-1.2 .3-1 .3-.8 .3-.7 .3-.6 .3-.4 .3-.5 .3-.3 .3-.4 .3-.2 .3-.3 .3-.2 .3-.2 .3-.2 .3-.2 1.1-.5 1.1-.4 1.1-.4 1.1-.4 1.2-.3 1.1-.4 1.1-.3 1.1-.3 1.1-.4 1.1-.3 1.1-.3 1.1-.3 1.2-.3 1.1-.3 1.1-.2 1.1-.3 1.1-.3 1.1-.3 1.1-.2 1.1-.3 1.2-.2 1.1-.3 1.1-.2 1.1-.3 1.1-.2 1.1-.2 1.1-.3 1.1-.2 1.2-.2 1.1-.2 1.1-.2 1.1-.2 1.1-.2 1.1-.2 1.1-.2 1.2-.2 1.1-.2 1.1-.2 1.1-.1 1.1-.2 1.1-.2 1.1-.2 1.1-.1 1.2-.2 1.1-.1 1.1-.2 1.1-.2 1.1-.1 1.1-.1 1.1-.2 1.1-.1 1.2-.2 1.1-.1 1.1-.1 1.1-.2 1.1-.1 1.1-.1 1.1-.1 1.1-.2 .3 1.8 .5 2.5 .5 2.2 .4 1.9 .5 1.7 .4 1.5 .5 1.3 .4 1.2 .5 1 .5 .9 .4 .8 .5 .7 .4 .7 .5 .5 .4 .5 .5 .5 .5 .4 .4 .3 .5 .4 .4 .2 .6 .4 1.2 .5 1.1 .4 1.1 .3 1.2 .2 1.1 .2 1.2 .2 1.1 .2 1.1 .1 1.2 .1 1.1 .1 1.1 .1 1.2 .1 1.1 .1 1.2 .1 1.1 .1 1.1 .1 1.2 .1 1.1 .1 1.1 .1 1.2 .1 1.1 .1 1.2 .1 1.1 .1 1.1 0 1.2 .1 1.1 .1 1.1 .1 1.2 .1 1.1 .1 1.2 .1 1.1 .1 1.1 .1 1.2 .1 1.1 0 1.1 .1 1.2 .1 1.1 .1 1.2 .1 1.1 .1" fill="none" stroke="#111" stroke-width="0.8"/>
<path d="M28.6 355l.3-5 .3-4.1 .3-3.4 .3-2.8 .3-2.4 .3-1.9 .3-1.6 .3-1.4 .3-1.1 .3-1 .3-.8 .3-.7 .3-.6 .3-.6 .3-.4 .3-.5 .3-.3 .3-.3 .3-.3 .3-.3 .3-.3 1.1-.8 1.1-.7 1.1-.6 1.1-.6 1.2-.6 1.1-.6 1.1-.5 1.1-.6 1.1-.5 1.1-.5 1.1-.5 1.1-.5 1.2-.5 1.1-.5 1.1-.5 1.1-.4 1.1-.5 1.1-.4 1.1-.5 1.1-.4 1.2-.4 1.1-.4 1.1-.4 1.1-.4 1.1-.4 1.1-.4 1.1-.4 1.1-.3 1.2-.4 1.1-.4 1.1-.3 1.1-.3 1.1-.4 1.1-.3 1.1-.3 1.2-.3 1.1-.3 1.1-.3 1.1-.3 1.1-.3 1.1-.3 1.1-.3 1.1-.3 1.2-.2 1.1-.3 1.1-.3 1.1-.2 1.1-.3 1.1-.2 1.1-.3 1.1-.2 1.2-.2 1.1-.2 1.1-.3 1.1-.2 1.1-.2 1.1-.2 1.1-.2 1.1-.2 .3 2.1 .5 2.8 .5 2.5 .4 2.3 .5 2 .4 1.7 .5 1.6 .4 1.3 .5 1.2 .5 1.1 .4 1 .5 .8 .4 .8 .5 .7 .4 .6 .5 .5 .5 .5 .4 .5 .5 .4 .4 .3 .6 .4 1.2 .7 1.1 .5 1.1 .5 1.2 .4 1.1 .3 1.2 .3 1.1 .2 1.1 .3 1.2 .2 1.1 .2 1.1 .2 1.2 .2 1.1 .2 1.2 .2 1.1 .2 1.1 .2 1.2 .2 1.1 .2 1.1 .2 1.2 .2 1.1 .2 1.2 .2 1.1 .1 1.1 .2 1.2 .2 1.1 .2 1.1 .2 1.2 .2 1.1 .2 1.2 .2 1.1 .2 1.1 .1 1.2 .2 1.1 .2 1.1 .2 1.2 .2 1.1 .2 1.2 .2 1.1 .2" fill="none" stroke="#111" stroke-width="0.8"/>
<path d="M28.6 354.6l.7 0 .7 0 .8 0 .7 0 .7 0 .7-.7 .7 0 .8-.1 .7-.1 .7-.3 .7 0 .7 .2 .8 .3 .7 .2 .7-.4 .7 .3 .7 .6 .7 0 .8 0 .7 0 .7-.4 .7-.1 .7-.8 .8 .6 .7-.2 .7 .3 .7-.2 .7-.5 .8 .1 .7 .7 .7 .1 .7-.7 .7 .1 .8-.5 .7-.4 .7 .4 .7 .1 .7-.5 .8 .1 .7 .1 .7 0 .7 .2 .7 0 .8-.5 .7 .2 .7 .1 .7-.7 .7-.1 .8-.3 .7 .5 .7 .2 .7 .1 .7-.1 .7-.4 .8 .1 .7-.4 .7-.1 .7-.3 .7 1 .8-.2 .7 .4 .7 .2 .7 .4 .7-.4 .8-.7 .7-.1 .7 .1 .7 .4 .7 0 .8 .4 .7 .5 .7-.6 .7-.2 .7-.1 .8-.7 .7-.2 .7 .4 .7 .2 .7-.2 .8-.4 .7 .4 .7 .1 .7 .1 .7 .2 .8-.1 .7-.2 .7-.3 .7-.1 .7-.5 .7 .4 .8-.4 .7 .6 .7-.3 .7 .1 .7 .6 .8-.2 .7 .5 .7 .8 .7-.2 .7-.3 .8 .2 .7-1.1 .7 0 .7 .2 .7 .5 .8-.1 .7 0 .7-.3 .7 .2 .7 .1 .8-.2 .7 .8 .7 .1 .7 .4 .7-.7 .8 .1 .7-.2 .7-.2 .7 .2 .7 .2 .8 .5 .7 .4 .7 .3 .7-.3 .7 0 .7 0 .8 0 .7-.1 .7-.8 .7 .1 .7 0 .8 .1 .7 0 .7-.5 .7-.4 .7 .6 .8 .3 .7 .2 .7-.1 .7 .4 .7-.3 .8 .4 .7-.2 .7 .4 .7-.5 .7-.7 .8 .2 .7 .1 .7 .1 .7 .3 .7 .4 .8-.3 .7-.3 .7 .6 .7 .1 .7 .2 .8-.5 .7 .1 .7-.1 .7-.5 .7 .4 .7-.4 .8 .2 .7 .6 .7 .1 .7-.4 .7 .1 .8-.1 .7 .2 .7-.3 .7-.2 .7 .3 .8 .7 .7 .2 .7 0" fill="none" stroke="#a07a4a" stroke-width="1.2" stroke-linejoin="round"/>
<path d="M28.6 354.6l.7-.6 .7-.7 .8-.3 .7-.4 .7-.2 .7 0 .7-.8 .8-.1 .7-.4 .7 .2 .7 .9 .7 .1 .8 .3 .7 .1 .7-.3 .7-.5 .7-.1 .7 0 .8 .4 .7-.3 .7-.3 .7-.9 .7-.2 .8 .4 .7 .6 .7 .1 .7 .5 .7-.5 .8 0 .7-.2 .7-.5 .7-.3 .7-.4 .8-.2 .7 .3 .7 .3 .7 .7 .7-.2 .8 .2 .7 .1 .7 0 .7 0 .7-1 .8 .2 .7 .7 .7-.3 .7 .4 .7-.3 .8-.5 .7-.6 .7 .4 .7 .1 .7-.1 .7 0 .8 .2 .7-.1 .7 0 .7-.4 .7-.6 .8 .1 .7 .4 .7-.1 .7 .2 .7-.6 .8-.3 .7 .2 .7 .4 .7 .6 .7 .3 .8-.3 .7 .1 .7-.1 .7-.6 .7 .3 .8 .2 .7 .6 .7-.3 .7 0 .7 .1 .8 .5 .7-.4 .7-.2 .7-.1 .7 0 .8-.3 .7-.1 .7 .9 .7-.6 .7-.4 .7-.4 .8-.5 .7 .1 .7 .3 .7 .1 .7 0 .8 .3 .7-.3 .7-.3 .7-.2 .7 .7 .8 1 .7 .6 .7 .2 .7 .8 .7 .4 .8 1.1 .7 .3 .7 .3 .7 .1 .7 0 .8 0 .7 0 .7 0 .7 0 .7 0 .8 0 .7 0 .7 0 .7 0 .7 0 .8 0 .7 0 .7 0 .7 0 .7 0 .7 0 .8-.2 .7 0 .7 .2 .7-.2 .7 0 .8 0 .7 .2 .7 0 .7 0 .7 0 .8 0 .7 0 .7 0 .7 0 .7 0 .8 0 .7 0 .7 0 .7 0 .7 0 .8 0 .7 0 .7 0 .7 0 .7 0 .8-.1 .7 .1 .7 0 .7 0 .7 0 .8 0 .7 0 .7 0 .7 0 .7 0 .7-.1 .8-.7 .7 .5 .7 .3 .7 0 .7 0 .8 0 .7 0 .7 0 .7 0 .7 0 .8 0 .7 0 .7 0" fill="none" stroke="#cc44ee" stroke-width="1.2" stroke-linejoin="round"/>
<path d="M28.6 354.6l.7-3.3 .7-1 .8-1.1 .7-.4 .7 .1 .7 .3 .7-.4 .8-.3 .7-.3 .7 0 .7 .5 .7-.1 .8-.2 .7 .3 .7-.2 .7-.2 .7 .3 .7-.6 .8-.4 .7-1.2 .7-.7 .7 .2 .7 1.2 .8 .5 .7 .5 .7-.1 .7-.5 .7 .5 .8-.6 .7 .1 .7-.6 .7 0 .7 0 .8-.3 .7 0 .7 .3 .7-.1 .7-.1 .8-.5 .7-1.6 .7-.4 .7 .2 .7 .4 .8 .1 .7 .4 .7 .2 .7 .1 .7-.2 .8 .6 .7-.5 .7 .4 .7-.1 .7-1 .7-.1 .8 .2 .7-.1 .7-.2 .7 .1 .7 .4 .8-.3 .7-.4 .7 .1 .7-.4 .7 .2 .8 .3 .7 .1 .7 0 .7 .2 .7 .3 .8 0 .7-.7 .7-.4 .7-.4 .7 0 .8 .4 .7-.2 .7 .7 .7-.2 .7 .4 .8-.1 .7 .3 .7 .8 .7-.5 .7-.9 .8-.6 .7-.5 .7 .2 .7 .4 .7 .5 .7 .5 .8-.3 .7 .5 .7-.8 .7 .4 .7-.6 .8-.1 .7-.3 .7-.5 .7 .1 .7-.2 .8 1.4 .7 .7 .7 .9 .7 .9 .7 1.3 .8 .6 .7 .7 .7 .3 .7 0 .7 0 .8 .4 .7 .5 .7 .5 .7 .3 .7 .2 .8-.6 .7 .3 .7-.3 .7 .3 .7-.4 .8-.1 .7-.2 .7-.9 .7 .5 .7 .2 .7 .7 .8 .5 .7 .1 .7-.1 .7 .2 .7 .1 .8 .3 .7 .6 .7-.1 .7 .6 .7-.8 .8-.1 .7-.2 .7-.1 .7-.1 .7 .1 .8-.3 .7-.3 .7 .3 .7 0 .7-.4 .8 .8 .7-.4 .7 .2 .7-.9 .7-.1 .8-.1 .7 .1 .7-.2 .7 .3 .7-.2 .8 0 .7-.2 .7 .5 .7 0 .7 .2 .7-.2 .8 1.3 .7-.1 .7-.3 .7-.2 .7-.3 .8-.4 .7 .3 .7-.2 .7-.6 .7 0 .8 .3 .7-.1 .7 .1" fill="none" stroke="#ff2e1f" stroke-width="1.2" stroke-linejoin="round"/>
<path d="M28.6 354.6l.7-5.1 .7-3.4 .8-2.2 .7-1 .7-1 .7-.4 .7 0 .8-.8 .7-.4 .7-.7 .7-1.5 .7-.6 .8-.5 .7-.2 .7 0 .7 .1 .7 .7 .7-.2 .8 .1 .7 .1 .7-.4 .7-.3 .7 .4 .8 0 .7-1.2 .7 0 .7-.3 .7-.6 .8-.2 .7 .4 .7-.2 .7 .2 .7-.2 .8-.5 .7-.3 .7 .2 .7-.5 .7-.4 .8-1.1 .7 .3 .7-.9 .7 .2 .7 0 .8-.3 .7-.4 .7-.1 .7 .6 .7 .6 .8 .1 .7-.3 .7-.2 .7-.4 .7 .3 .7 0 .8-.1 .7 .1 .7 0 .7-.6 .7-.4 .8-1 .7 .5 .7-.4 .7 .2 .7-.2 .8 .1 .7 .1 .7-.2 .7-.1 .7 0 .8 .4 .7-.1 .7-.4 .7 .4 .7-.6 .8 .4 .7 .1 .7 .3 .7 .2 .7-.7 .8-.2 .7-1.1 .7 .2 .7-.2 .7-.1 .8 .1 .7-.8 .7-.6 .7-.7 .7 0 .7 .1 .8 .7 .7-.2 .7 .3 .7 .7 .7 .2 .8 .3 .7-.8 .7-.9 .7 0 .7-.4 .8 3.2 .7 2.8 .7 1.4 .7 2 .7 1.2 .8 1.4 .7 1.2 .7 1 .7 .4 .7 .4 .8 .4 .7 .1 .7 .4 .7 .2 .7 .2 .8 .2 .7 .8 .7 .2 .7 .1 .7-.5 .8 0 .7-.4 .7 .8 .7-.2 .7-.3 .7 .3 .8 .1 .7-.2 .7 .7 .7 .2 .7-.1 .8-.7 .7-.4 .7 .1 .7-.2 .7-.4 .8-.2 .7 0 .7-.3 .7 .3 .7 1 .8 0 .7 .2 .7 .5 .7 .6 .7-.2 .8 0 .7-.1 .7 .6 .7-1.6 .7 .4 .8-.6 .7 .2 .7 .4 .7 .3 .7 .2 .8-.7 .7 .1 .7 .5 .7-.6 .7 1.2 .7 .2 .8 .6 .7-.9 .7-.5 .7-.1 .7 .3 .8 .1 .7-.2 .7 .6 .7 .1 .7-.4 .8-.1 .7-.6 .7-.3" fill="none" stroke="#1fd21f" stroke-width="1.2" stroke-linejoin="round"/>
<path d="M28.6 354.6l.7-9.5 .7-4.2 .8-2.5 .7-2.1 .7-.8 .7-.6 .7-.7 .8-.3 .7-.3 .7-.9 .7-.5 .7 .3 .8-.3 .7 .1 .7-.2 .7-.5 .7-1.4 .7-.7 .8 0 .7 .4 .7-.4 .7 .2 .7-.5 .8-.6 .7 .3 .7 .1 .7-.2 .7 .6 .8 .1 .7-.3 .7-.5 .7 .4 .7-.8 .8-.3 .7-.1 .7 0 .7-.2 .7-.9 .8-.6 .7-.8 .7-.3 .7 .4 .7-.1 .8-.3 .7 .4 .7 .2 .7-.5 .7-.4 .8-.7 .7 0 .7 .6 .7 0 .7-.2 .7 .3 .8-.5 .7-.3 .7-.7 .7-.5 .7-.9 .8 .6 .7 .5 .7 .5 .7 .2 .7-.5 .8-.3 .7-.8 .7 .3 .7-.2 .7 .3 .8-.1 .7 .2 .7-.7 .7-.4 .7 0 .8 .5 .7-.7 .7-.1 .7-.7 .7-.7 .8-.4 .7 .1 .7 1 .7 .5 .7 .1 .8 .1 .7 0 .7-.3 .7-.4 .7-.4 .7-.4 .8 .4 .7-.9 .7-.5 .7-.3 .7-.6 .8 .4 .7 .2 .7-.1 .7-.3 .7-.1 .8 4.1 .7 3.2 .7 3.1 .7 1.7 .7 2.5 .8 1.7 .7 1.6 .7 1.6 .7 1.2 .7 .8 .8 .2 .7 .2 .7 .2 .7 .5 .7-.1 .8-.1 .7-.3 .7 1 .7-.2 .7 .7 .8 .3 .7-.1 .7-.2 .7-.1 .7-.3 .7 .4 .8 0 .7 .1 .7 .4 .7-.2 .7 .4 .8 0 .7 .2 .7 0 .7 0 .7 .6 .8-.5 .7 0 .7 .1 .7 .8 .7-.2 .8 .1 .7 .7 .7 .2 .7 .5 .7-.9 .8 0 .7-.5 .7 .6 .7-.7 .7-.1 .8-.5 .7 .4 .7 .3 .7-.4 .7 .6 .8-.2 .7-.1 .7 .4 .7-.2 .7 0 .7 .4 .8 .2 .7-.3 .7 .3 .7 .1 .7-.3 .8 .5 .7 .1 .7 .7 .7 .4 .7-.3 .8 .3 .7-1 .7 .4" fill="none" stroke="#ff9426" stroke-width="1.2" stroke-linejoin="round"/>
<path d="M28.6 354.6l.7-11 .7-6.9 .8-4 .7-2.9 .7-2.1 .7-.5 .7-1.3 .8-.6 .7-.8 .7 0 .7-.4 .7-.2 .8-1 .7-.6 .7-.7 .7-.6 .7-.1 .7 .1 .8-1 .7-.5 .7-.4 .7-.4 .7 0 .8 .5 .7-.2 .7-.6 .7-.2 .7 0 .8-.3 .7-.2 .7 0 .7 0 .7-.8 .8-.2 .7-.5 .7-.7 .7 0 .7-.5 .8-.6 .7-.5 .7-.2 .7-.5 .7-.2 .8-1 .7-.1 .7-.1 .7-.6 .7-.3 .8-.1 .7-.4 .7-.1 .7 .2 .7-.6 .7-.3 .8-.8 .7-.3 .7-.7 .7 .7 .7 .6 .8-.3 .7-.5 .7-.1 .7-.3 .7-.1 .8-.1 .7 0 .7 0 .7-.4 .7 .4 .8-.1 .7 0 .7-.6 .7-.7 .7 .2 .8-.5 .7-.4 .7 .3 .7 0 .7 .3 .8-.8 .7-.4 .7-.4 .7-.2 .7-.9 .8-.8 .7-.2 .7 .6 .7-.2 .7 .1 .7-.5 .8-.4 .7-.3 .7 .2 .7-.7 .7-.1 .8 .5 .7 .1 .7-.5 .7 .1 .7 .2 .8 3.9 .7 3.9 .7 3.4 .7 2.2 .7 2.7 .8 2 .7 1.4 .7 1.9 .7 1.3 .7 .6 .8 .4 .7 .1 .7 0 .7 .9 .7 .5 .8 .3 .7 .1 .7 0 .7 .7 .7 .1 .8 1.1 .7 .3 .7 .7 .7 .1 .7-.1 .7-.3 .8 .4 .7-.1 .7 0 .7-.2 .7-.1 .8-.4 .7 .6 .7 0 .7 .4 .7 .5 .8 .2 .7 .2 .7-.8 .7 .7 .7-.4 .8 .5 .7 .5 .7 .5 .7-.2 .7 0 .8 .6 .7-.1 .7-.5 .7-.2 .7-.8 .8 .5 .7-.1 .7 .5 .7-.6 .7 1 .8 .6 .7-.3 .7 0 .7-.6 .7 .6 .7 .2 .8 .3 .7 .1 .7 .4 .7-.2 .7 .2 .8 .2 .7 0 .7 .4 .7 .8 .7 0 .8 .8 .7-.7 .7 0" fill="none" stroke="#2850f0" stroke-width="1.2" stroke-linejoin="round"/>
<rect x="28.6" y="271" width="125.9" height="83.6" fill="none" stroke="#5a5a5a" stroke-width="1"/>
<path d="M28.6 354.6v1.6M28.6 271v1.6M46.59 354.6v1.6M46.59 271v1.6M64.57 354.6v1.6M64.57 271v1.6M82.56 354.6v1.6M82.56 271v1.6M100.54 354.6v1.6M100.54 271v1.6M118.53 354.6v1.6M118.53 271v1.6M136.51 354.6v1.6M136.51 271v1.6M154.5 354.6v1.6M154.5 271v1.6" stroke="#5a5a5a" stroke-width="0.8"/>
<path d="M27 354.6h1.6M152.9 354.6h1.6M27 326.73h1.6M152.9 326.73h1.6M27 298.87h1.6M152.9 298.87h1.6M27 271h1.6M152.9 271h1.6" stroke="#5a5a5a" stroke-width="0.8"/>
<text x="26.4" y="357.2" font-size="7.2" text-anchor="end" fill="#000">0.0</text>
<text x="26.4" y="329.33" font-size="7.2" text-anchor="end" fill="#000">0.1</text>
<text x="26.4" y="301.47" font-size="7.2" text-anchor="end" fill="#000">0.2</text>
<text x="26.4" y="276" font-size="7.2" text-anchor="end" fill="#000">0.3</text>
<text x="28.6" y="363.8" font-size="7.1" text-anchor="middle" fill="#000">0</text>
<text x="46.59" y="363.8" font-size="7.1" text-anchor="middle" fill="#000">30</text>
<text x="64.57" y="363.8" font-size="7.1" text-anchor="middle" fill="#000">60</text>
<text x="82.56" y="363.8" font-size="7.1" text-anchor="middle" fill="#000">90</text>
<text x="100.54" y="363.8" font-size="7.1" text-anchor="middle" fill="#000">120</text>
<text x="118.53" y="363.8" font-size="7.1" text-anchor="middle" fill="#000">150</text>
<text x="136.51" y="363.8" font-size="7.1" text-anchor="middle" fill="#000">180</text>
<text x="150.7" y="363.8" font-size="7.1" text-anchor="middle" fill="#000">210</text>
<text x="88.6" y="372.2" font-size="7.4" text-anchor="middle" fill="#000">Time (s)</text>
<text x="32.8" y="282.6" font-size="10.3" text-anchor="start" fill="#111" font-weight="bold">0%</text>
<svg x="28.4" y="376.4" width="125.9" height="83.6" viewBox="28.4 376.4 125.9 83.6" overflow="hidden">
<path d="M28.4 411.3l2.1 2.9 2.1 2.1 2.1 1.9 2.1 1.3 2.1 .1 2.1-.9 2.1-1.1 2.1-1.5 2.1-1.4 2.1-1 2.1 0 2.1 .6 2.1 .7 2.1 .6 2.1 .6 2.1 .5 2.1 .6 2.1 .7 2.1 .6 2.1 .7 2.1 .8 2.1 1 2.1 1.2 2.1 .5 2.1-.8 2.1-1.8 2.1-2.2 2.1-2.6 2.1-2.3 2.1-1.9 2-1.4 2.1-1.1 2.1-.8 2.1-.6 2.1 0 2.1 .1 2.1 .3 2.1 .3 2.1 .4 2.1 .7 2.1 .7 2.1 .8 2.1 .9 2.1 .8 2.1 .6 2.1 .6 2.1 .1 2.1 0 2.1 0 2.1 0 2.1 0 2.1 0 2.1 0 2.1 0 2.1 0 2.1 0 2.1 0 2.1 0 2.1 0 2.1 0" fill="none" stroke="#5ae6ff" stroke-width="0.85"/>
<path d="M28.4 411.2l2.1 2.9 2.1 2.3 2.1 1.8 2.1 1.4 2.1 .1 2.1-.8 2.1-1.1 2.1-1.6 2.1-1.5 2.1-1 2.1-.1 2.1 .7 2.1 .7 2.1 .5 2.1 .6 2.1 .5 2.1 .6 2.1 .6 2.1 .7 2.1 .7 2.1 .7 2.1 1.1 2.1 1.1 2.1 .5 2.1-1 2.1-1.9 2.1-2.3 2.1-2.7 2.1-2.3 2.1-1.7 2-1.4 2.1-1 2.1-.7 2.1-.6 2.1 0 2.1 .1 2.1 .3 2.1 .3 2.1 .5 2.1 .7 2.1 .8 2.1 .7 2.1 .9 2.1 .9 2.1 .7 2.1 .5 2.1 .2 2.1 0 2.1 0 2.1 0 2.1 0 2.1 0 2.1 0 2.1 0 2.1 0 2.1 0 2.1 0 2.1 0 2.1 0 2.1 0" fill="none" stroke="#55dcff" stroke-width="0.85"/>
<path d="M28.4 411.2l2.1 2.9 2.1 2.3 2.1 1.9 2.1 1.4 2.1 .2 2.1-.8 2.1-1.2 2.1-1.6 2.1-1.6 2.1-1 2.1-.1 2.1 .6 2.1 .7 2.1 .5 2.1 .6 2.1 .5 2.1 .6 2.1 .6 2.1 .7 2.1 .7 2.1 .7 2.1 1 2.1 1.1 2.1 .4 2.1-1.1 2.1-2 2.1-2.5 2.1-2.6 2.1-2.4 2.1-1.6 2-1.3 2.1-.9 2.1-.7 2.1-.5 2.1 0 2.1 .2 2.1 .3 2.1 .3 2.1 .5 2.1 .7 2.1 .8 2.1 .8 2.1 .9 2.1 .9 2.1 .7 2.1 .6 2.1 .2 2.1 0 2.1 0 2.1 0 2.1 0 2.1 0 2.1 0 2.1 0 2.1 0 2.1 0 2.1 0 2.1 0 2.1 0 2.1 0" fill="none" stroke="#51d3ff" stroke-width="0.85"/>
<path d="M28.4 411.1l2.1 3 2.1 2.3 2.1 2 2.1 1.4 2.1 .3 2.1-.8 2.1-1.2 2.1-1.7 2.1-1.7 2.1-1 2.1-.1 2.1 .5 2.1 .7 2.1 .6 2.1 .5 2.1 .5 2.1 .6 2.1 .6 2.1 .7 2.1 .7 2.1 .7 2.1 1 2.1 1 2.1 .3 2.1-1.2 2.1-2.1 2.1-2.6 2.1-2.7 2.1-2.3 2.1-1.6 2-1.1 2.1-.9 2.1-.7 2.1-.4 2.1 0 2.1 .2 2.1 .3 2.1 .4 2.1 .5 2.1 .7 2.1 .8 2.1 .8 2.1 .9 2.1 1 2.1 .7 2.1 .7 2.1 .2 2.1 0 2.1 0 2.1 0 2.1 0 2.1 0 2.1 0 2.1 0 2.1 0 2.1 0 2.1 0 2.1 0 2.1 0 2.1 0" fill="none" stroke="#4dc9ff" stroke-width="0.85"/>
<path d="M28.4 411l2.1 3 2.1 2.5 2.1 2 2.1 1.5 2.1 .3 2.1-.8 2.1-1.2 2.1-1.8 2.1-1.7 2.1-1.2 2.1-.1 2.1 .6 2.1 .6 2.1 .6 2.1 .5 2.1 .5 2.1 .6 2.1 .6 2.1 .6 2.1 .7 2.1 .8 2.1 .9 2.1 1 2.1 .2 2.1-1.3 2.1-2.2 2.1-2.7 2.1-2.8 2.1-2.3 2.1-1.5 2-1 2.1-.8 2.1-.6 2.1-.4 2.1 0 2.1 .2 2.1 .4 2.1 .3 2.1 .6 2.1 .7 2.1 .8 2.1 .8 2.1 1 2.1 1 2.1 .8 2.1 .6 2.1 .3 2.1 0 2.1 0 2.1 0 2.1 0 2.1 0 2.1 0 2.1 0 2.1 0 2.1 0 2.1 0 2.1 0 2.1 0 2.1 0" fill="none" stroke="#49c0ff" stroke-width="0.85"/>
<path d="M28.4 410.9l2.1 3.1 2.1 2.5 2.1 2.1 2.1 1.5 2.1 .3 2.1-.7 2.1-1.3 2.1-1.8 2.1-1.8 2.1-1.2 2.1-.1 2.1 .5 2.1 .7 2.1 .5 2.1 .5 2.1 .5 2.1 .6 2.1 .6 2.1 .6 2.1 .7 2.1 .7 2.1 1 2.1 .9 2.1 .1 2.1-1.4 2.1-2.3 2.1-2.8 2.1-2.9 2.1-2.2 2.1-1.5 2-.9 2.1-.7 2.1-.6 2.1-.3 2.1 0 2.1 .3 2.1 .3 2.1 .4 2.1 .5 2.1 .8 2.1 .8 2.1 .9 2.1 1 2.1 1 2.1 .8 2.1 .7 2.1 .3 2.1 0 2.1 0 2.1 0 2.1 0 2.1 0 2.1 0 2.1 0 2.1 0 2.1 0 2.1 0 2.1 0 2.1 0 2.1 0" fill="none" stroke="#44b6ff" stroke-width="0.85"/>
<path d="M28.4 410.9l2.1 3.1 2.1 2.5 2.1 2.1 2.1 1.6 2.1 .4 2.1-.7 2.1-1.3 2.1-1.9 2.1-1.9 2.1-1.2 2.1-.1 2.1 .5 2.1 .6 2.1 .5 2.1 .5 2.1 .5 2.1 .6 2.1 .6 2.1 .6 2.1 .7 2.1 .7 2.1 .9 2.1 .9 2.1 0 2.1-1.5 2.1-2.4 2.1-3 2.1-2.9 2.1-2.2 2.1-1.4 2-.8 2.1-.6 2.1-.5 2.1-.4 2.1 .1 2.1 .3 2.1 .4 2.1 .4 2.1 .5 2.1 .7 2.1 .9 2.1 .9 2.1 1 2.1 1.1 2.1 .8 2.1 .8 2.1 .3 2.1 0 2.1 0 2.1 0 2.1 0 2.1 0 2.1 0 2.1 0 2.1 0 2.1 0 2.1 0 2.1 0 2.1 0 2.1 0" fill="none" stroke="#40adff" stroke-width="0.85"/>
<path d="M28.4 410.8l2.1 3.2 2.1 2.5 2.1 2.2 2.1 1.6 2.1 .5 2.1-.7 2.1-1.4 2.1-1.9 2.1-2 2.1-1.3 2.1-.1 2.1 .5 2.1 .6 2.1 .5 2.1 .5 2.1 .5 2.1 .5 2.1 .6 2.1 .7 2.1 .7 2.1 .7 2.1 .8 2.1 .9 2.1-.1 2.1-1.6 2.1-2.6 2.1-3.1 2.1-2.9 2.1-2.2 2.1-1.3 2-.7 2.1-.6 2.1-.4 2.1-.3 2.1 .1 2.1 .3 2.1 .4 2.1 .4 2.1 .6 2.1 .7 2.1 .9 2.1 .9 2.1 1.1 2.1 1 2.1 .9 2.1 .9 2.1 .3 2.1 0 2.1 0 2.1 0 2.1 0 2.1 0 2.1 0 2.1 0 2.1 0 2.1 0 2.1 0 2.1 0 2.1 0 2.1 0" fill="none" stroke="#3ca3ff" stroke-width="0.85"/>
<path d="M28.4 410.7l2.1 3.2 2.1 2.7 2.1 2.2 2.1 1.7 2.1 .5 2.1-.6 2.1-1.5 2.1-2 2.1-2 2.1-1.4 2.1-.1 2.1 .5 2.1 .5 2.1 .5 2.1 .5 2.1 .5 2.1 .5 2.1 .6 2.1 .7 2.1 .7 2.1 .6 2.1 .9 2.1 .7 2.1-.2 2.1-1.7 2.1-2.6 2.1-3.3 2.1-3 2.1-2.2 2.1-1.1 2-.7 2.1-.4 2.1-.4 2.1-.3 2.1 .2 2.1 .3 2.1 .4 2.1 .4 2.1 .6 2.1 .8 2.1 .9 2.1 .9 2.1 1.1 2.1 1.1 2.1 1 2.1 .8 2.1 .4 2.1 0 2.1 0 2.1 0 2.1 0 2.1 0 2.1 0 2.1 0 2.1 0 2.1 0 2.1 0 2.1 0 2.1 0 2.1 0" fill="none" stroke="#389aff" stroke-width="0.85"/>
<path d="M28.4 410.6l2.1 3.3 2.1 2.7 2.1 2.3 2.1 1.7 2.1 .6 2.1-.6 2.1-1.5 2.1-2.1 2.1-2.1 2.1-1.4 2.1-.2 2.1 .5 2.1 .5 2.1 .5 2.1 .4 2.1 .5 2.1 .6 2.1 .5 2.1 .7 2.1 .7 2.1 .7 2.1 .8 2.1 .7 2.1-.3 2.1-1.9 2.1-2.8 2.1-3.4 2.1-3.1 2.1-2.2 2.1-1 2-.5 2.1-.4 2.1-.3 2.1-.2 2.1 .2 2.1 .3 2.1 .5 2.1 .4 2.1 .6 2.1 .8 2.1 .9 2.1 1 2.1 1.1 2.1 1.2 2.1 1 2.1 .9 2.1 .4 2.1 0 2.1 0 2.1 0 2.1 0 2.1 0 2.1 0 2.1 0 2.1 0 2.1 0 2.1 0 2.1 0 2.1 0 2.1 0" fill="none" stroke="#3490ff" stroke-width="0.85"/>
<path d="M28.4 410.5l2.1 3.4 2.1 2.7 2.1 2.4 2.1 1.8 2.1 .7 2.1-.6 2.1-1.5 2.1-2.3 2.1-2.2 2.1-1.5 2.1-.1 2.1 .4 2.1 .5 2.1 .4 2.1 .5 2.1 .5 2.1 .5 2.1 .6 2.1 .6 2.1 .7 2.1 .7 2.1 .7 2.1 .6 2.1-.4 2.1-2 2.1-3 2.1-3.6 2.1-3.2 2.1-2.1 2.1-.9 2-.4 2.1-.2 2.1-.3 2.1-.1 2.1 .2 2.1 .4 2.1 .5 2.1 .5 2.1 .6 2.1 .8 2.1 .9 2.1 1 2.1 1.2 2.1 1.2 2.1 1.1 2.1 .9 2.1 .5 2.1 0 2.1 0 2.1 0 2.1 0 2.1 0 2.1 0 2.1 0 2.1 0 2.1 0 2.1 0 2.1 0 2.1 0 2.1 0" fill="none" stroke="#2f87ff" stroke-width="0.85"/>
<path d="M28.4 410.3l2.1 3.5 2.1 2.9 2.1 2.5 2.1 1.9 2.1 .8 2.1-.6 2.1-1.6 2.1-2.4 2.1-2.3 2.1-1.6 2.1-.2 2.1 .4 2.1 .5 2.1 .4 2.1 .4 2.1 .4 2.1 .6 2.1 .5 2.1 .7 2.1 .7 2.1 .6 2.1 .7 2.1 .5 2.1-.6 2.1-2.2 2.1-3.2 2.1-3.8 2.1-3.4 2.1-2 2.1-.8 2-.1 2.1-.1 2.1-.2 2.1 0 2.1 .3 2.1 .4 2.1 .5 2.1 .5 2.1 .6 2.1 .9 2.1 .9 2.1 1.1 2.1 1.2 2.1 1.3 2.1 1.1 2.1 1.1 2.1 .5 2.1 0 2.1 0 2.1 0 2.1 0 2.1 0 2.1 0 2.1 0 2.1 0 2.1 0 2.1 0 2.1 0 2.1 0 2.1 0" fill="none" stroke="#2b7dff" stroke-width="0.85"/>
<path d="M28.4 410.1l2.1 3.7 2.1 3 2.1 2.6 2.1 2 2.1 .9 2.1-.5 2.1-1.7 2.1-2.6 2.1-2.5 2.1-1.7 2.1-.2 2.1 .3 2.1 .5 2.1 .3 2.1 .4 2.1 .5 2.1 .5 2.1 .5 2.1 .7 2.1 .7 2.1 .6 2.1 .6 2.1 .4 2.1-.8 2.1-2.5 2.1-3.5 2.1-4.2 2.1-3.5 2.1-1.9 2.1-.6 2 .1 2.1 .1 2.1 0 2.1 .1 2.1 .3 2.1 .5 2.1 .5 2.1 .6 2.1 .7 2.1 .8 2.1 1.1 2.1 1.1 2.1 1.2 2.1 1.4 2.1 1.2 2.1 1.2 2.1 .6 2.1 0 2.1 0 2.1 0 2.1 0 2.1 0 2.1 0 2.1 0 2.1 0 2.1 0 2.1 0 2.1 0 2.1 0 2.1 0" fill="none" stroke="#2774ff" stroke-width="0.85"/>
<path d="M28.4 409.9l2.1 3.8 2.1 3.2 2.1 2.8 2.1 2.1 2.1 1.1 2.1-.5 2.1-1.8 2.1-2.8 2.1-2.7 2.1-1.9 2.1-.2 2.1 .3 2.1 .3 2.1 .3 2.1 .4 2.1 .4 2.1 .5 2.1 .5 2.1 .7 2.1 .7 2.1 .6 2.1 .5 2.1 .2 2.1-1.1 2.1-2.8 2.1-3.9 2.1-4.5 2.1-3.7 2.1-1.9 2.1-.3 2 .5 2.1 .3 2.1 .1 2.1 .3 2.1 .4 2.1 .5 2.1 .6 2.1 .6 2.1 .7 2.1 1 2.1 1 2.1 1.2 2.1 1.4 2.1 1.5 2.1 1.3 2.1 1.3 2.1 .7 2.1 0 2.1 0 2.1 0 2.1 0 2.1 0 2.1 0 2.1 0 2.1 0 2.1 0 2.1 0 2.1 0 2.1 0 2.1 0" fill="none" stroke="#236aff" stroke-width="0.85"/>
<path d="M28.4 409.6l2.1 4 2.1 3.4 2.1 2.9 2.1 2.3 2.1 1.3 2.1-.4 2.1-2 2.1-2.9 2.1-3 2.1-2.1 2.1-.2 2.1 .2 2.1 .2 2.1 .3 2.1 .3 2.1 .5 2.1 .4 2.1 .5 2.1 .7 2.1 .7 2.1 .6 2.1 .3 2.1 .1 2.1-1.4 2.1-3.2 2.1-4.3 2.1-4.9 2.1-3.9 2.1-1.8 2.1 0 2 .8 2.1 .6 2.1 .3 2.1 .3 2.1 .6 2.1 .6 2.1 .6 2.1 .7 2.1 .7 2.1 1 2.1 1.2 2.1 1.2 2.1 1.5 2.1 1.6 2.1 1.5 2.1 1.4 2.1 .8 2.1 0 2.1 0 2.1 0 2.1 0 2.1 0 2.1 0 2.1 0 2.1 0 2.1 0 2.1 0 2.1 0 2.1 0 2.1 0" fill="none" stroke="#1f61ff" stroke-width="0.85"/>
<path d="M28.4 409.3l2.1 4.2 2.1 3.6 2.1 3.1 2.1 2.4 2.1 1.5 2.1-.3 2.1-2.2 2.1-3.1 2.1-3.3 2.1-2.2 2.1-.2 2.1 .1 2.1 .2 2.1 .2 2.1 .3 2.1 .4 2.1 .4 2.1 .5 2.1 .7 2.1 .7 2.1 .6 2.1 .2 2.1-.1 2.1-1.7 2.1-3.5 2.1-4.7 2.1-5.3 2.1-4.1 2.1-1.8 2.1 .3 2 1.2 2.1 .8 2.1 .5 2.1 .5 2.1 .6 2.1 .7 2.1 .7 2.1 .7 2.1 .8 2.1 1 2.1 1.2 2.1 1.4 2.1 1.5 2.1 1.7 2.1 1.6 2.1 1.6 2.1 .9 2.1 0 2.1 0 2.1 0 2.1 0 2.1 0 2.1 0 2.1 0 2.1 0 2.1 0 2.1 0 2.1 0 2.1 0 2.1 0" fill="none" stroke="#1a57ff" stroke-width="0.85"/>
<path d="M28.4 409.1l2.1 4.3 2.1 3.7 2.1 3.3 2.1 2.6 2.1 1.6 2.1-.3 2.1-2.2 2.1-3.4 2.1-3.4 2.1-2.3 2.1-.3 2.1 0 2.1 .2 2.1 .2 2.1 .2 2.1 .4 2.1 .4 2.1 .5 2.1 .7 2.1 .7 2.1 .5 2.1 .2 2.1-.2 2.1-2 2.1-3.8 2.1-5 2.1-5.6 2.1-4.3 2.1-1.7 2.1 .5 2 1.4 2.1 1.1 2.1 .6 2.1 .6 2.1 .7 2.1 .7 2.1 .8 2.1 .7 2.1 .9 2.1 1 2.1 1.3 2.1 1.4 2.1 1.6 2.1 1.8 2.1 1.7 2.1 1.7 2.1 1 2.1 0 2.1 0 2.1 0 2.1 0 2.1 0 2.1 0 2.1 0 2.1 0 2.1 0 2.1 0 2.1 0 2.1 0 2.1 0" fill="none" stroke="#164eff" stroke-width="0.85"/>
<path d="M28.4 409l2.1 4.4 2.1 3.8 2.1 3.4 2.1 2.6 2.1 1.7 2.1-.2 2.1-2.3 2.1-3.5 2.1-3.5 2.1-2.5 2.1-.3 2.1 0 2.1 .1 2.1 .2 2.1 .2 2.1 .4 2.1 .4 2.1 .4 2.1 .7 2.1 .8 2.1 .5 2.1 .1 2.1-.4 2.1-2.1 2.1-4 2.1-5.3 2.1-5.9 2.1-4.4 2.1-1.6 2.1 .7 2 1.6 2.1 1.2 2.1 .7 2.1 .7 2.1 .8 2.1 .7 2.1 .8 2.1 .8 2.1 .9 2.1 1.1 2.1 1.3 2.1 1.4 2.1 1.7 2.1 1.9 2.1 1.8 2.1 1.8 2.1 1 2.1 0 2.1 0 2.1 0 2.1 0 2.1 0 2.1 0 2.1 0 2.1 0 2.1 0 2.1 0 2.1 0 2.1 0 2.1 0" fill="none" stroke="#1244ff" stroke-width="0.85"/>
<path d="M28.4 408.8l2.1 4.5 2.1 3.9 2.1 3.5 2.1 2.7 2.1 1.8 2.1-.1 2.1-2.5 2.1-3.6 2.1-3.6 2.1-2.6 2.1-.2 2.1-.1 2.1 .1 2.1 .1 2.1 .3 2.1 .3 2.1 .4 2.1 .5 2.1 .6 2.1 .8 2.1 .5 2.1 0 2.1-.4 2.1-2.3 2.1-4.1 2.1-5.5 2.1-6.1 2.1-4.5 2.1-1.6 2.1 .8 2 1.8 2.1 1.3 2.1 .8 2.1 .8 2.1 .8 2.1 .8 2.1 .8 2.1 .8 2.1 .9 2.1 1.1 2.1 1.4 2.1 1.5 2.1 1.6 2.1 2 2.1 1.9 2.1 1.8 2.1 1.1 2.1 0 2.1 0 2.1 0 2.1 0 2.1 0 2.1 0 2.1 0 2.1 0 2.1 0 2.1 0 2.1 0 2.1 0 2.1 0" fill="none" stroke="#0e3bff" stroke-width="0.85"/>
<path d="M28.4 408.7l2.1 4.6 2.1 4 2.1 3.5 2.1 2.8 2.1 1.9 2.1-.2 2.1-2.5 2.1-3.6 2.1-3.8 2.1-2.6 2.1-.3 2.1-.1 2.1 .1 2.1 .1 2.1 .2 2.1 .4 2.1 .3 2.1 .5 2.1 .7 2.1 .7 2.1 .5 2.1 0 2.1-.5 2.1-2.4 2.1-4.3 2.1-5.6 2.1-6.3 2.1-4.5 2.1-1.6 2.1 .9 2 2 2.1 1.4 2.1 .9 2.1 .8 2.1 .8 2.1 .8 2.1 .9 2.1 .8 2.1 .9 2.1 1.2 2.1 1.3 2.1 1.5 2.1 1.7 2.1 2.1 2.1 1.9 2.1 1.9 2.1 1.1 2.1 0 2.1 0 2.1 0 2.1 0 2.1 0 2.1 0 2.1 0 2.1 0 2.1 0 2.1 0 2.1 0 2.1 0 2.1 0" fill="none" stroke="#0a32ff" stroke-width="1.7"/>
</svg>
<line x1="28.4" y1="413.56" x2="154.3" y2="413.56" stroke="#444" stroke-width="0.8" stroke-dasharray="1.2 1.3"/>
<rect x="28.4" y="376.4" width="125.9" height="83.6" fill="none" stroke="#5a5a5a" stroke-width="1"/>
<path d="M28.4 460v1.6M28.4 376.4v1.6M49.38 460v1.6M49.38 376.4v1.6M70.37 460v1.6M70.37 376.4v1.6M91.35 460v1.6M91.35 376.4v1.6M112.33 460v1.6M112.33 376.4v1.6M133.32 460v1.6M133.32 376.4v1.6M154.3 460v1.6M154.3 376.4v1.6" stroke="#5a5a5a" stroke-width="0.8"/>
<text x="26.2" y="453.3" font-size="7.2" text-anchor="end" fill="#000">-20</text>
<text x="26.2" y="434.73" font-size="7.2" text-anchor="end" fill="#000">-10</text>
<text x="26.2" y="416.15" font-size="7.2" text-anchor="end" fill="#000">0</text>
<text x="26.2" y="397.57" font-size="7.2" text-anchor="end" fill="#000">10</text>
<path d="M26.8 450.71h1.6M152.7 450.71h1.6M26.8 432.13h1.6M152.7 432.13h1.6M26.8 413.56h1.6M152.7 413.56h1.6M26.8 394.98h1.6M152.7 394.98h1.6M26.8 376.4h1.6M152.7 376.4h1.6" stroke="#5a5a5a" stroke-width="0.8"/>
<text x="26.2" y="380.3" font-size="7.2" text-anchor="end" fill="#000">20</text>
<text x="28.4" y="468.9" font-size="7.2" text-anchor="middle" fill="#000">200</text>
<text x="49.38" y="468.9" font-size="7.2" text-anchor="middle" fill="#000">220</text>
<text x="70.37" y="468.9" font-size="7.2" text-anchor="middle" fill="#000">240</text>
<text x="91.35" y="468.9" font-size="7.2" text-anchor="middle" fill="#000">260</text>
<text x="112.33" y="468.9" font-size="7.2" text-anchor="middle" fill="#000">280</text>
<text x="133.32" y="468.9" font-size="7.2" text-anchor="middle" fill="#000">300</text>
<text x="149.9" y="468.9" font-size="7.2" text-anchor="middle" fill="#000">320</text>
<text x="95.25" y="477.4" font-size="7.2" text-anchor="middle" fill="#000">Wavelength (nm)</text>
<text x="32" y="387" font-size="10.3" text-anchor="start" fill="#222">0%</text>
<path d="M160 355l.3 0 .3-.1 .3 0 .3 0 .3-.1 .3 0 .3 0 .3 0 .3-.1 .3 0 .3 0 .3 0 .3-.1 .3 0 .3 0 .3 0 .3 0 .3-.1 .3 0 .3 0 .3 0 1.1-.1 1.1 0 1.1-.1 1.1 0 1.1-.1 1.1 0 1.1 0 1.1-.1 1.2 0 1.1 0 1.1 0 1.1-.1 1.1 0 1.1 0 1.1 0 1.1-.1 1.1 0 1.1 0 1.1 0 1.2 0 1.1-.1 1.1 0 1.1 0 1.1 0 1.1 0 1.1 0 1.1-.1 1.1 0 1.1 0 1.1 0 1.2 0 1.1 0 1.1-.1 1.1 0 1.1 0 1.1 0 1.1 0 1.1 0 1.1 0 1.1 0 1.1-.1 1.2 0 1.1 0 1.1 0 1.1 0 1.1 0 1.1 0 1.1 0 1.1 0 1.1-.1 1.1 0 1.2 0 1.1 0 1.1 0 1.1 0 1.1 0 1.1 0 1.1 0 1.1 0 .3 0 .5 0 .4 0 .5 0 .4 .1 .5 0 .4 0 .5 0 .5 0 .4 0 .5 0 .4 .1 .5 0 .4 0 .5 0 .5 0 .4 0 .5 0 .4 0 .5 0 .6 0 1.1 .1 1.1 0 1.2 0 1.1 0 1.1 0 1.2 0 1.1 0 1.1 0 1.2 0 1.1 .1 1.1 0 1.2 0 1.1 0 1.2 0 1.1 0 1.1 0 1.2 0 1.1 0 1.1 0 1.2 0 1.1 0 1.1 0 1.2 0 1.1 .1 1.1 0 1.2 0 1.1 0 1.1 0 1.2 0 1.1 0 1.1 0 1.2 0 1.1 0 1.1 0 1.2 0 1.1 0 1.1 0 1.2 0 1.1 .1" fill="none" stroke="#111" stroke-width="0.8"/>
<path d="M160 355l.3-.1 .3 0 .3-.1 .3 0 .3 0 .3-.1 .3 0 .3-.1 .3 0 .3 0 .3 0 .3-.1 .3 0 .3 0 .3 0 .3 0 .3-.1 .3 0 .3 0 .3 0 .3 0 1.1 0 1.1-.1 1.1 0 1.1 0 1.1-.1 1.1 0 1.1 0 1.1 0 1.2 0 1.1-.1 1.1 0 1.1 0 1.1 0 1.1 0 1.1 0 1.1 0 1.1-.1 1.1 0 1.1 0 1.2 0 1.1 0 1.1 0 1.1 0 1.1-.1 1.1 0 1.1 0 1.1 0 1.1 0 1.1 0 1.1 0 1.2 0 1.1 0 1.1-.1 1.1 0 1.1 0 1.1 0 1.1 0 1.1 0 1.1 0 1.1 0 1.1 0 1.2 0 1.1 0 1.1-.1 1.1 0 1.1 0 1.1 0 1.1 0 1.1 0 1.1 0 1.1 0 1.2 0 1.1 0 1.1 0 1.1 0 1.1 0 1.1-.1 1.1 0 1.1 0 .3 .1 .5 0 .4 0 .5 .1 .4 0 .5 0 .4 0 .5 0 .5 .1 .4 0 .5 0 .4 0 .5 0 .4 .1 .5 0 .5 0 .4 0 .5 0 .4 0 .5 0 .6 0 1.1 .1 1.1 0 1.2 0 1.1 0 1.1 0 1.2 .1 1.1 0 1.1 0 1.2 0 1.1 0 1.1 0 1.2 0 1.1 0 1.2 .1 1.1 0 1.1 0 1.2 0 1.1 0 1.1 0 1.2 0 1.1 0 1.1 0 1.2 0 1.1 .1 1.1 0 1.2 0 1.1 0 1.1 0 1.2 0 1.1 0 1.1 0 1.2 0 1.1 0 1.1 .1 1.2 0 1.1 0 1.1 0 1.2 0 1.1 0" fill="none" stroke="#111" stroke-width="0.8"/>
<path d="M160 355l.3-.6 .3-.6 .3-.5 .3-.5 .3-.4 .3-.4 .3-.3 .3-.3 .3-.3 .3-.3 .3-.2 .3-.2 .3-.2 .3-.2 .3-.1 .3-.2 .3-.1 .3-.1 .3-.1 .3-.2 .3-.1 1.1-.3 1.1-.3 1.1-.2 1.1-.2 1.1-.3 1.1-.1 1.1-.2 1.1-.2 1.2-.2 1.1-.2 1.1-.1 1.1-.2 1.1-.2 1.1-.1 1.1-.2 1.1-.1 1.1-.2 1.1-.1 1.1-.2 1.2-.1 1.1-.1 1.1-.2 1.1-.1 1.1-.1 1.1-.2 1.1-.1 1.1-.1 1.1-.1 1.1-.1 1.1-.1 1.2-.2 1.1-.1 1.1-.1 1.1-.1 1.1-.1 1.1-.1 1.1-.1 1.1-.1 1.1-.1 1.1-.1 1.1-.1 1.2-.1 1.1-.1 1.1 0 1.1-.1 1.1-.1 1.1-.1 1.1-.1 1.1-.1 1.1 0 1.1-.1 1.2-.1 1.1-.1 1.1 0 1.1-.1 1.1-.1 1.1 0 1.1-.1 1.1-.1 .3 .4 .5 .5 .4 .6 .5 .4 .4 .5 .5 .4 .4 .4 .5 .3 .5 .4 .4 .3 .5 .3 .4 .3 .5 .2 .4 .3 .5 .2 .5 .2 .4 .2 .5 .2 .4 .2 .5 .1 .6 .2 1.1 .4 1.1 .3 1.2 .3 1.1 .2 1.1 .2 1.2 .2 1.1 .2 1.1 .1 1.2 .2 1.1 .1 1.1 .1 1.2 .2 1.1 .1 1.2 .1 1.1 .1 1.1 .1 1.2 .1 1.1 .1 1.1 .1 1.2 .1 1.1 .1 1.1 .1 1.2 .1 1.1 .1 1.1 .1 1.2 .1 1.1 .1 1.1 .1 1.2 .1 1.1 .1 1.1 .1 1.2 .1 1.1 .1 1.1 .1 1.2 0 1.1 .1 1.1 .1 1.2 .1 1.1 .1" fill="none" stroke="#111" stroke-width="0.8"/>
<path d="M160 355l.3-2 .3-1.7 .3-1.5 .3-1.3 .3-1 .3-1 .3-.8 .3-.7 .3-.5 .3-.6 .3-.4 .3-.4 .3-.4 .3-.3 .3-.2 .3-.3 .3-.2 .3-.2 .3-.2 .3-.1 .3-.2 1.1-.5 1.1-.4 1.1-.3 1.1-.3 1.1-.3 1.1-.3 1.1-.3 1.1-.2 1.2-.3 1.1-.2 1.1-.3 1.1-.2 1.1-.3 1.1-.2 1.1-.2 1.1-.3 1.1-.2 1.1-.2 1.1-.2 1.2-.2 1.1-.2 1.1-.2 1.1-.2 1.1-.2 1.1-.2 1.1-.2 1.1-.2 1.1-.2 1.1-.2 1.1-.1 1.2-.2 1.1-.2 1.1-.1 1.1-.2 1.1-.1 1.1-.2 1.1-.2 1.1-.1 1.1-.1 1.1-.2 1.1-.1 1.2-.2 1.1-.1 1.1-.1 1.1-.2 1.1-.1 1.1-.1 1.1-.1 1.1-.2 1.1-.1 1.1-.1 1.2-.1 1.1-.1 1.1-.1 1.1-.1 1.1-.1 1.1-.1 1.1-.1 1.1-.1 .3 .5 .5 .8 .4 .8 .5 .7 .4 .7 .5 .6 .4 .6 .5 .6 .5 .5 .4 .5 .5 .4 .4 .5 .5 .4 .4 .3 .5 .4 .5 .4 .4 .3 .5 .3 .4 .3 .5 .3 .6 .3 1.1 .6 1.1 .6 1.2 .5 1.1 .4 1.1 .5 1.2 .4 1.1 .3 1.1 .4 1.2 .3 1.1 .3 1.1 .3 1.2 .3 1.1 .3 1.2 .3 1.1 .3 1.1 .3 1.2 .2 1.1 .3 1.1 .3 1.2 .2 1.1 .3 1.1 .3 1.2 .2 1.1 .3 1.1 .2 1.2 .3 1.1 .3 1.1 .2 1.2 .3 1.1 .2 1.1 .3 1.2 .2 1.1 .3 1.1 .2 1.2 .3 1.1 .3 1.1 .2 1.2 .3 1.1 .2" fill="none" stroke="#111" stroke-width="0.8"/>
<path d="M160 355l.3-3.8 .3-3.1 .3-2.8 .3-2.3 .3-2 .3-1.7 .3-1.4 .3-1.3 .3-1 .3-1 .3-.8 .3-.7 .3-.6 .3-.5 .3-.4 .3-.5 .3-.3 .3-.3 .3-.3 .3-.3 .3-.2 1.1-.7 1.1-.6 1.1-.5 1.1-.4 1.1-.4 1.1-.4 1.1-.3 1.1-.4 1.2-.3 1.1-.3 1.1-.3 1.1-.4 1.1-.3 1.1-.3 1.1-.3 1.1-.3 1.1-.3 1.1-.2 1.1-.3 1.2-.3 1.1-.2 1.1-.3 1.1-.3 1.1-.2 1.1-.3 1.1-.2 1.1-.2 1.1-.3 1.1-.2 1.1-.2 1.2-.2 1.1-.2 1.1-.3 1.1-.2 1.1-.2 1.1-.2 1.1-.2 1.1-.1 1.1-.2 1.1-.2 1.1-.2 1.2-.2 1.1-.1 1.1-.2 1.1-.2 1.1-.1 1.1-.2 1.1-.2 1.1-.1 1.1-.2 1.1-.1 1.2-.1 1.1-.2 1.1-.1 1.1-.2 1.1-.1 1.1-.1 1.1-.1 1.1-.2 .3 .9 .5 1.3 .4 1.1 .5 1.1 .4 1.1 .5 .9 .4 1 .5 .8 .5 .8 .4 .7 .5 .8 .4 .6 .5 .6 .4 .6 .5 .6 .5 .5 .4 .5 .5 .5 .4 .4 .5 .4 .6 .6 1.1 .9 1.1 .8 1.2 .7 1.1 .7 1.1 .6 1.2 .6 1.1 .5 1.1 .5 1.2 .5 1.1 .4 1.1 .4 1.2 .5 1.1 .4 1.2 .4 1.1 .4 1.1 .3 1.2 .4 1.1 .4 1.1 .3 1.2 .4 1.1 .4 1.1 .3 1.2 .4 1.1 .3 1.1 .4 1.2 .4 1.1 .3 1.1 .4 1.2 .3 1.1 .4 1.1 .3 1.2 .4 1.1 .3 1.1 .4 1.2 .3 1.1 .4 1.1 .3 1.2 .4 1.1 .3" fill="none" stroke="#111" stroke-width="0.8"/>
<path d="M160 355l.3-6.6 .3-5.2 .3-4.1 .3-3.2 .3-2.5 .3-2 .3-1.6 .3-1.3 .3-1 .3-.8 .3-.7 .3-.5 .3-.5 .3-.4 .3-.3 .3-.3 .3-.3 .3-.2 .3-.2 .3-.2 .3-.2 1.1-.5 1.1-.6 1.1-.4 1.1-.5 1.1-.5 1.1-.4 1.1-.4 1.1-.5 1.2-.4 1.1-.4 1.1-.4 1.1-.4 1.1-.4 1.1-.4 1.1-.3 1.1-.4 1.1-.4 1.1-.3 1.1-.4 1.2-.3 1.1-.3 1.1-.4 1.1-.3 1.1-.3 1.1-.3 1.1-.3 1.1-.3 1.1-.3 1.1-.3 1.1-.3 1.2-.2 1.1-.3 1.1-.3 1.1-.2 1.1-.3 1.1-.2 1.1-.3 1.1-.2 1.1-.3 1.1-.2 1.1-.2 1.2-.2 1.1-.3 1.1-.2 1.1-.2 1.1-.2 1.1-.2 1.1-.2 1.1-.2 1.1-.2 1.1-.1 1.2-.2 1.1-.2 1.1-.2 1.1-.2 1.1-.1 1.1-.2 1.1-.1 1.1-.2 .3 1.2 .5 1.8 .4 1.6 .5 1.5 .4 1.4 .5 1.3 .4 1.3 .5 1.1 .5 1.1 .4 1 .5 1 .4 .9 .5 .8 .4 .8 .5 .7 .5 .7 .4 .6 .5 .6 .4 .6 .5 .6 .6 .6 1.1 1.2 1.1 1 1.2 .8 1.1 .8 1.1 .7 1.2 .7 1.1 .6 1.1 .5 1.2 .5 1.1 .5 1.1 .4 1.2 .5 1.1 .4 1.2 .4 1.1 .4 1.1 .3 1.2 .4 1.1 .4 1.1 .3 1.2 .4 1.1 .3 1.1 .4 1.2 .3 1.1 .3 1.1 .4 1.2 .3 1.1 .4 1.1 .3 1.2 .3 1.1 .4 1.1 .3 1.2 .3 1.1 .3 1.1 .4 1.2 .3 1.1 .3 1.1 .4 1.2 .3 1.1 .3" fill="none" stroke="#111" stroke-width="0.8"/>
<path d="M160 354.6l.7 0 .7 0 .8-.5 .7-.2 .7-.1 .7-.1 .7 .4 .7 .5 .8-.5 .7-.2 .7 .1 .7-.5 .7 .5 .7 0 .8 .6 .7 0 .7-.5 .7-.6 .7-.6 .7 .2 .8 .3 .7 .2 .7 .5 .7-1 .7 .4 .7-.4 .8-.1 .7 .2 .7 .1 .7-.1 .7 .2 .7 .5 .8 .2 .7 0 .7-.7 .7 .1 .7-.3 .8 .1 .7-.4 .7-.2 .7-.4 .7-.2 .7 .1 .8 .3 .7 .2 .7-.3 .7 .8 .7 .2 .7-.2 .8 .5 .7 .5 .7 .4 .7-.8 .7 .1 .7-.4 .8-.1 .7 0 .7 .1 .7-.1 .7 .4 .7 .4 .8 .2 .7-.1 .7-.4 .7 .3 .7-.5 .7-.1 .8-.8 .7-.1 .7 0 .7 .3 .7 1.3 .8 .1 .7 .1 .7-.5 .7-.3 .7-.3 .7-.1 .8-.3 .7-.4 .7 .5 .7 .1 .7 .4 .7-.5 .8 .2 .7 .4 .7 .7 .7-.3 .7-.4 .7-.9 .8-.4 .7-.2 .7 .5 .7 .1 .7 .4 .7 .2 .8-.1 .7-.2 .7-.3 .7 .3 .7-.1 .7 .1 .8 .2 .7-.7 .7 .3 .7-.4 .7 .2 .8 .6 .7-.3 .7-.6 .7-.4 .7 .3 .7 .2 .8 .9 .7 .2 .7 .3 .7-.4 .7 .2 .7 0 .8 .2 .7 .2 .7 0 .7 0 .7-.5 .7-.2 .8 .1 .7 .3 .7-.2 .7-.8 .7 0 .7-.4 .8 .2 .7 1.1 .7-.5 .7 .1 .7-.8 .7 .1 .8-.1 .7-.1 .7 0 .7 .2 .7 0 .8 .6 .7 0 .7 .1 .7-.1 .7 .5 .7 .3 .8 .1 .7-.1 .7-.8 .7-.7 .7-.3 .7-.1 .8 .5 .7 .4 .7 .4 .7 .6 .7 .5 .7-.2 .8 .2 .7-.5 .7-.2 .7 .2 .7-.8 .7-.2 .8 .3 .7-.2 .7 .1 .7 .8 .7-.5 .7-.2 .8-.4 .7-.6 .7 .1" fill="none" stroke="#a07a4a" stroke-width="1.2" stroke-linejoin="round"/>
<path d="M160 354.6l.7 0 .7 0 .8 0 .7 0 .7 0 .7 0 .7-.6 .7 .2 .8 .4 .7 0 .7 0 .7-.2 .7-.8 .7 0 .8 0 .7 0 .7-.2 .7 0 .7-.2 .7 .3 .8-.4 .7-.3 .7 .5 .7-.2 .7-.5 .7 0 .8 .1 .7 .6 .7-.4 .7 .7 .7 .2 .7-.1 .8 .2 .7-.2 .7-.4 .7 .4 .7-.3 .8 .1 .7 0 .7 .3 .7-.1 .7 0 .7 .1 .8 .3 .7 .5 .7 0 .7 0 .7-.3 .7-.1 .8-.6 .7-.3 .7 .1 .7-.4 .7 .1 .7-1.1 .8 .3 .7 .4 .7 .4 .7-.2 .7 .8 .7 0 .8-.2 .7 .1 .7-.1 .7-.3 .7 .7 .7 .1 .8 .5 .7 .1 .7-.5 .7-.1 .7-1.1 .8 .3 .7-.6 .7 .8 .7-.2 .7 .6 .7 0 .8-.5 .7-.3 .7 .4 .7-.2 .7 .7 .7-.2 .8-.2 .7-.2 .7 .4 .7-.9 .7 .1 .7 .1 .8 .1 .7 .3 .7 .1 .7-.2 .7 .3 .7 .2 .8-.3 .7-1 .7-.1 .7-.1 .7-.4 .7 .4 .8 .3 .7 .1 .7 .1 .7-.2 .7-.1 .8 .4 .7 .3 .7 .2 .7 .5 .7 .4 .7 .2 .8-.3 .7-1 .7-.4 .7-.2 .7 0 .7 .6 .8 .3 .7 .1 .7 0 .7 .1 .7-.1 .7 .4 .8 .3 .7-.2 .7-.4 .7 .7 .7-.2 .7 .1 .8-.3 .7 .3 .7-.8 .7 .2 .7 .1 .7 .1 .8 0 .7 .2 .7-.1 .7-.4 .7 .6 .8-.1 .7-.7 .7-.2 .7 0 .7 .7 .7-.4 .8 .1 .7-.1 .7 .9 .7-.2 .7 .2 .7 .2 .8-.2 .7-.5 .7 .4 .7 .2 .7-.4 .7-.2 .8-.3 .7 .3 .7 .1 .7 .2 .7 .4 .7-.4 .8-1 .7-.5 .7 .9 .7 .7 .7 .1 .7 0 .8-.5 .7-.7 .7-.1" fill="none" stroke="#cc44ee" stroke-width="1.2" stroke-linejoin="round"/>
<path d="M160 354.6l.7-.9 .7-1.2 .8-.9 .7-1.4 .7-1.4 .7 .5 .7 .4 .7-.1 .8 0 .7-.1 .7-.1 .7-1 .7 .1 .7 0 .8 .1 .7 0 .7-.5 .7-.5 .7-.5 .7-.6 .8 0 .7-.3 .7 .7 .7 .4 .7-.3 .7 .2 .8-1 .7-.7 .7-.1 .7 .2 .7-.2 .7 1 .8-1 .7-.6 .7 .3 .7 0 .7-.2 .8-.4 .7 .5 .7-.6 .7-.2 .7-.4 .7-.1 .8-.3 .7 .3 .7 .2 .7 .6 .7 .5 .7 .1 .8 0 .7-.1 .7-.8 .7 .2 .7 .2 .7-.7 .8 0 .7-.9 .7-.4 .7-.4 .7 .1 .7 .4 .8 0 .7-.3 .7 1 .7-.5 .7-.1 .7 .2 .8 0 .7-.8 .7 .7 .7-.5 .7 .4 .8 .2 .7-.2 .7 0 .7 0 .7 0 .7-.3 .8-.4 .7-.5 .7-.2 .7 0 .7-.4 .7-.2 .8 .6 .7 .2 .7 .3 .7-.1 .7-.2 .7-.2 .8 .2 .7-.4 .7 .5 .7-.8 .7 .3 .7-.1 .8 .3 .7 .8 .7-.5 .7-.1 .7 .4 .7 1.3 .8-.3 .7 .9 .7 .2 .7 1.2 .7-.2 .8 .7 .7 .5 .7 .7 .7 .3 .7-.8 .7-.3 .8-.1 .7 .3 .7 .6 .7 .8 .7 .5 .7 0 .8-.6 .7 .5 .7 .5 .7 .3 .7-.2 .7 0 .8 .2 .7 .3 .7-.2 .7 .9 .7 .6 .7 .3 .8-.1 .7-.3 .7 0 .7 0 .7-.2 .7 .2 .8 .5 .7-.2 .7 .4 .7-.7 .7 .4 .8-.6 .7-.6 .7 0 .7 .4 .7 .2 .7 0 .8 .1 .7 .1 .7-.2 .7 .2 .7 .1 .7 0 .8 .2 .7 .3 .7 .3 .7 .2 .7-.3 .7 .3 .8 .6 .7 .3 .7 .2 .7 .6 .7 0 .7 0 .8-.7 .7-.6 .7-.1 .7 .5 .7 .2 .7 .4 .8 .6 .7-.2 .7 .1" fill="none" stroke="#ff2e1f" stroke-width="1.2" stroke-linejoin="round"/>
<path d="M160 354.6l.7-4.6 .7-3 .8-2 .7-.8 .7-1.4 .7-1.2 .7-1.4 .7 0 .8-.5 .7 0 .7 .4 .7 .4 .7-.6 .7-.5 .8-.8 .7-.8 .7-.4 .7-.1 .7 0 .7 .3 .8-.3 .7-.2 .7 0 .7-.4 .7-.2 .7-.7 .8 .1 .7 1 .7 0 .7-.1 .7-.9 .7-.5 .8-.6 .7-.4 .7-.2 .7 .4 .7-.3 .8 .3 .7-.3 .7-.1 .7-.5 .7 0 .7-.5 .8 .3 .7-.5 .7 .1 .7-.2 .7-.1 .7-.2 .8 .9 .7-.1 .7 .7 .7-.5 .7 .6 .7-.4 .8 .1 .7-.9 .7 .3 .7-.7 .7-.1 .7 .3 .8-.3 .7 0 .7 .3 .7-.5 .7-.3 .7-.7 .8-.1 .7 .2 .7 .1 .7 .6 .7 0 .8 .1 .7-.3 .7-.9 .7 .1 .7-.1 .7 0 .8 .3 .7-.6 .7 .5 .7-1.2 .7-.5 .7 .3 .8-.2 .7-.4 .7-.4 .7 .7 .7 .4 .7-.3 .8 .2 .7 .6 .7 .4 .7-1.2 .7 0 .7-.6 .8 0 .7 0 .7-.1 .7-.6 .7 1 .7 2 .8 1.3 .7 .8 .7 1.3 .7 .7 .7 .1 .8 .7 .7 .7 .7 .7 .7 .3 .7 .3 .7 .3 .8 1 .7 .8 .7 .8 .7 .1 .7 .2 .7-.1 .8-.5 .7 .1 .7 .4 .7 .7 .7 0 .7 .1 .8 .2 .7 .3 .7 .3 .7 .9 .7 .8 .7 .5 .8 0 .7-.7 .7-.1 .7 .1 .7 .5 .7-.3 .8 .7 .7 .2 .7 .2 .7 .3 .7-.2 .8 .2 .7-.1 .7 .6 .7-.2 .7 .2 .7-.1 .8 .2 .7 .3 .7-.1 .7 .4 .7 0 .7 .2 .8 .3 .7-.2 .7 .1 .7 .3 .7 .1 .7 .4 .8 .9 .7 .4 .7 .5 .7-.4 .7 .1 .7 .4 .8-.6 .7 0 .7 .2 .7-.1 .7 .1 .7-.3 .8 .8 .7 .1 .7-.1" fill="none" stroke="#1fd21f" stroke-width="1.2" stroke-linejoin="round"/>
<path d="M160 354.6l.7-8 .7-5.4 .8-3.8 .7-2.3 .7-1.9 .7-2.1 .7-.8 .7-1.3 .8-.1 .7 0 .7-.2 .7-.4 .7-.9 .7-.2 .8-.2 .7-.1 .7-.3 .7-.2 .7-.6 .7 .1 .8-.4 .7-.4 .7 .3 .7 .3 .7 .2 .7-.9 .8 0 .7-.8 .7 .2 .7-.9 .7 .2 .7-.7 .8 .6 .7-.2 .7-.5 .7 .4 .7-.3 .8-.2 .7-.3 .7-1.3 .7-.5 .7 .3 .7-.2 .8 .6 .7 0 .7-.7 .7-.5 .7-1.1 .7 .6 .8-.5 .7 0 .7 .6 .7-.3 .7-.8 .7 .1 .8-.2 .7 0 .7 .5 .7 .2 .7 .3 .7-.9 .8 0 .7-.8 .7-.3 .7 .3 .7-.7 .7-.1 .8-.3 .7 .2 .7-.3 .7-.2 .7-.4 .8-.1 .7-.2 .7 .4 .7 0 .7 0 .7-.7 .8 .2 .7 .8 .7-.3 .7-.1 .7-.3 .7 .5 .8 0 .7 .1 .7-.5 .7 0 .7-.1 .7-.2 .8-.4 .7 .3 .7 .2 .7-.6 .7 .3 .7 0 .8 0 .7-.5 .7-.5 .7-.1 .7 1.8 .7 1.9 .8 .6 .7 1.4 .7 1.1 .7 2 .7 2 .8 .3 .7 1.1 .7 .7 .7 .9 .7 .6 .7 .6 .8 1 .7-.2 .7 .9 .7 .5 .7-.1 .7 .4 .8 .3 .7 .5 .7-.1 .7 .7 .7 1 .7 .9 .8 .2 .7 .3 .7 0 .7 .3 .7 .2 .7 .4 .8-.4 .7 0 .7 .7 .7 .2 .7-.5 .7 .5 .8 0 .7 .6 .7 .2 .7 .5 .7-.2 .8 0 .7 0 .7 .4 .7 .6 .7 .6 .7 .5 .8-.4 .7-.7 .7 .1 .7-.1 .7 1.2 .7 1.1 .8 .6 .7 .7 .7 .4 .7-.2 .7 .4 .7-.5 .8-.8 .7-.3 .7 .7 .7 .3 .7 1 .7 .7 .8 .3 .7 .4 .7-.3 .7-.2 .7 .1 .7 .3 .8-.1 .7-.2 .7 0" fill="none" stroke="#ff9426" stroke-width="1.2" stroke-linejoin="round"/>
<path d="M160 354.6l.7-14.3 .7-6.9 .8-4.4 .7-2.8 .7-1.4 .7-1.1 .7-.7 .7-.4 .8-.7 .7-.4 .7-.6 .7-.5 .7-.1 .7 .2 .8-.1 .7 .3 .7-1.3 .7-.8 .7-.1 .7 .2 .8 0 .7-.6 .7-.1 .7-.7 .7 .4 .7-.4 .8-.5 .7 .1 .7-1 .7 .1 .7 .4 .7 0 .8-.2 .7-.8 .7 .1 .7-1 .7-.5 .8 .2 .7-.2 .7 .1 .7 .3 .7-.4 .7-.2 .8-.4 .7-.9 .7-.1 .7-.3 .7-.6 .7 .1 .8-.4 .7-.3 .7 .3 .7-.2 .7 .1 .7-.7 .8-.2 .7 .1 .7 .4 .7-.1 .7-.2 .7-.1 .8-1 .7-.5 .7 .1 .7-.3 .7 .1 .7 .3 .8-.7 .7-.3 .7-.5 .7 .4 .7-.4 .8 0 .7-.4 .7-.1 .7 .1 .7-.7 .7 .3 .8-.6 .7-.1 .7-.3 .7-.1 .7 .8 .7-.1 .8 .4 .7-.6 .7 .5 .7 .1 .7-.3 .7-.5 .8-.6 .7 .4 .7-.9 .7-.2 .7-.5 .7 .3 .8-.4 .7-.2 .7-.2 .7 .3 .7 3.6 .7 2.5 .8 2.3 .7 1.3 .7 1.5 .7 1.7 .7 1.1 .8 2.1 .7 1.4 .7 1.1 .7 .7 .7 .7 .7 .9 .8 .9 .7 .6 .7 1.1 .7 1 .7 .3 .7-.7 .8 .9 .7-.2 .7 .2 .7 1 .7 1 .7 .3 .8 .1 .7-.1 .7 .6 .7-.1 .7 .5 .7 .3 .8 .6 .7 .9 .7 .7 .7-.3 .7-.3 .7 .2 .8 .1 .7-.2 .7 1.2 .7 .1 .7 .7 .8 .1 .7 .2 .7-.2 .7 .7 .7 .4 .7 .7 .8-.3 .7-.1 .7-.6 .7 0 .7-.2 .7-.1 .8 .8 .7 .6 .7 .7 .7 .5 .7 .3 .7-.7 .8 .2 .7-.1 .7 .8 .7 0 .7 .3 .7 .1 .8 0 .7 .5 .7 .4 .7-.1 .7-.1 .7 .3 .8-.1 .7 .2 .7 .7" fill="none" stroke="#2850f0" stroke-width="1.2" stroke-linejoin="round"/>
<rect x="160" y="271" width="125.5" height="83.6" fill="none" stroke="#5a5a5a" stroke-width="1"/>
<path d="M160 354.6v1.6M160 271v1.6M177.93 354.6v1.6M177.93 271v1.6M195.86 354.6v1.6M195.86 271v1.6M213.79 354.6v1.6M213.79 271v1.6M231.71 354.6v1.6M231.71 271v1.6M249.64 354.6v1.6M249.64 271v1.6M267.57 354.6v1.6M267.57 271v1.6M285.5 354.6v1.6M285.5 271v1.6" stroke="#5a5a5a" stroke-width="0.8"/>
<path d="M158.4 354.6h1.6M283.9 354.6h1.6M158.4 326.73h1.6M283.9 326.73h1.6M158.4 298.87h1.6M283.9 298.87h1.6M158.4 271h1.6M283.9 271h1.6" stroke="#5a5a5a" stroke-width="0.8"/>
<text x="161.2" y="363.8" font-size="7.1" text-anchor="middle" fill="#000">0</text>
<text x="177.93" y="363.8" font-size="7.1" text-anchor="middle" fill="#000">30</text>
<text x="195.86" y="363.8" font-size="7.1" text-anchor="middle" fill="#000">60</text>
<text x="213.79" y="363.8" font-size="7.1" text-anchor="middle" fill="#000">90</text>
<text x="231.71" y="363.8" font-size="7.1" text-anchor="middle" fill="#000">120</text>
<text x="249.64" y="363.8" font-size="7.1" text-anchor="middle" fill="#000">150</text>
<text x="267.57" y="363.8" font-size="7.1" text-anchor="middle" fill="#000">180</text>
<text x="281.7" y="363.8" font-size="7.1" text-anchor="middle" fill="#000">210</text>
<text x="220" y="372.2" font-size="7.4" text-anchor="middle" fill="#000">Time (s)</text>
<text x="164.2" y="282.6" font-size="10.3" text-anchor="start" fill="#111" font-weight="bold">3%</text>
<svg x="159.9" y="376.4" width="125.6" height="83.6" viewBox="159.9 376.4 125.6 83.6" overflow="hidden">
<path d="M159.9 411.3l2.1 2.3 2.1 1.8 2.1 1.6 2.1 1 2.1-.4 2.1-1.1 2.1-1.1 2-.9 2.1-1 2.1-.6 2.1 0 2.1 .6 2.1 .8 2.1 .7 2.1 .6 2.1 .6 2.1 .6 2.1 .5 2.1 .6 2.1 .7 2.1 .7 2.1 1.1 2 1.3 2.1 .6 2.1-.9 2.1-1.9 2.1-2.3 2.1-2.4 2.1-1.9 2.1-1.7 2.1-1.6 2.1-1.2 2.1-1 2.1-.8 2.1-.3 2.1 .2 2.1 .3 2 .5 2.1 .5 2.1 .8 2.1 1 2.1 1.2 2.1 1.1 2.1 .9 2.1 .7 2.1 .1 2.1 0 2.1 0 2.1 0 2.1 0 2.1 0 2.1 0 2 0 2.1 0 2.1 0 2.1 0 2.1 0 2.1 0 2.1 0 2.1 0" fill="none" stroke="#5ae6ff" stroke-width="0.85"/>
<path d="M159.9 411.3l2.1 2.3 2.1 1.9 2.1 1.6 2.1 1 2.1-.3 2.1-1 2.1-1.2 2-1 2.1-1.1 2.1-.6 2.1-.1 2.1 .6 2.1 .8 2.1 .7 2.1 .6 2.1 .6 2.1 .5 2.1 .6 2.1 .6 2.1 .6 2.1 .8 2.1 1 2 1.2 2.1 .6 2.1-1.1 2.1-2 2.1-2.3 2.1-2.5 2.1-1.8 2.1-1.6 2.1-1.5 2.1-1.2 2.1-.9 2.1-.8 2.1-.2 2.1 .2 2.1 .3 2 .5 2.1 .5 2.1 .8 2.1 1.1 2.1 1.2 2.1 1.1 2.1 .9 2.1 .8 2.1 .1 2.1 0 2.1 0 2.1 0 2.1 0 2.1 0 2.1 0 2 0 2.1 0 2.1 0 2.1 0 2.1 0 2.1 0 2.1 0 2.1 0" fill="none" stroke="#55dcff" stroke-width="0.85"/>
<path d="M159.9 411.2l2.1 2.4 2.1 1.9 2.1 1.7 2.1 1.1 2.1-.3 2.1-1 2.1-1.2 2-1.1 2.1-1.2 2.1-.7 2.1 0 2.1 .5 2.1 .8 2.1 .7 2.1 .6 2.1 .5 2.1 .6 2.1 .5 2.1 .6 2.1 .7 2.1 .7 2.1 1.1 2 1.1 2.1 .4 2.1-1.1 2.1-2.1 2.1-2.5 2.1-2.5 2.1-1.8 2.1-1.5 2.1-1.4 2.1-1.1 2.1-.9 2.1-.6 2.1-.2 2.1 .2 2.1 .3 2 .5 2.1 .6 2.1 .8 2.1 1.1 2.1 1.2 2.1 1.1 2.1 1 2.1 .7 2.1 .2 2.1 0 2.1 0 2.1 0 2.1 0 2.1 0 2.1 0 2 0 2.1 0 2.1 0 2.1 0 2.1 0 2.1 0 2.1 0 2.1 0" fill="none" stroke="#51d3ff" stroke-width="0.85"/>
<path d="M159.9 411.1l2.1 2.5 2.1 2 2.1 1.7 2.1 1.1 2.1-.2 2.1-.9 2.1-1.3 2-1.2 2.1-1.3 2.1-.8 2.1 0 2.1 .5 2.1 .8 2.1 .6 2.1 .6 2.1 .6 2.1 .5 2.1 .6 2.1 .6 2.1 .7 2.1 .7 2.1 1 2 1.1 2.1 .3 2.1-1.3 2.1-2.2 2.1-2.5 2.1-2.6 2.1-1.8 2.1-1.4 2.1-1.3 2.1-1 2.1-.8 2.1-.6 2.1-.1 2.1 .2 2.1 .3 2 .6 2.1 .5 2.1 .9 2.1 1.1 2.1 1.2 2.1 1.1 2.1 1 2.1 .8 2.1 .2 2.1 0 2.1 0 2.1 0 2.1 0 2.1 0 2.1 0 2 0 2.1 0 2.1 0 2.1 0 2.1 0 2.1 0 2.1 0 2.1 0" fill="none" stroke="#4dc9ff" stroke-width="0.85"/>
<path d="M159.9 411l2.1 2.6 2.1 2 2.1 1.8 2.1 1.2 2.1-.2 2.1-.9 2.1-1.3 2-1.3 2.1-1.4 2.1-.8 2.1 0 2.1 .4 2.1 .8 2.1 .6 2.1 .6 2.1 .5 2.1 .6 2.1 .5 2.1 .6 2.1 .7 2.1 .8 2.1 .9 2 1.1 2.1 .1 2.1-1.3 2.1-2.4 2.1-2.6 2.1-2.6 2.1-1.8 2.1-1.3 2.1-1.2 2.1-.9 2.1-.7 2.1-.5 2.1-.2 2.1 .3 2.1 .3 2 .6 2.1 .6 2.1 .8 2.1 1.2 2.1 1.2 2.1 1.2 2.1 1 2.1 .8 2.1 .2 2.1 0 2.1 0 2.1 0 2.1 0 2.1 0 2.1 0 2 0 2.1 0 2.1 0 2.1 0 2.1 0 2.1 0 2.1 0 2.1 0" fill="none" stroke="#49c0ff" stroke-width="0.85"/>
<path d="M159.9 411l2.1 2.6 2.1 2.1 2.1 1.8 2.1 1.2 2.1-.1 2.1-.8 2.1-1.4 2-1.4 2.1-1.5 2.1-.9 2.1 0 2.1 .5 2.1 .6 2.1 .7 2.1 .5 2.1 .6 2.1 .5 2.1 .6 2.1 .6 2.1 .7 2.1 .7 2.1 1 2 .9 2.1 .1 2.1-1.5 2.1-2.4 2.1-2.8 2.1-2.6 2.1-1.8 2.1-1.2 2.1-1.1 2.1-.8 2.1-.6 2.1-.5 2.1-.1 2.1 .2 2.1 .5 2 .5 2.1 .6 2.1 .9 2.1 1.2 2.1 1.2 2.1 1.2 2.1 1.1 2.1 .8 2.1 .2 2.1 0 2.1 0 2.1 0 2.1 0 2.1 0 2.1 0 2 0 2.1 0 2.1 0 2.1 0 2.1 0 2.1 0 2.1 0 2.1 0" fill="none" stroke="#44b6ff" stroke-width="0.85"/>
<path d="M159.9 410.9l2.1 2.7 2.1 2.1 2.1 1.9 2.1 1.2 2.1 0 2.1-.8 2.1-1.4 2-1.5 2.1-1.7 2.1-.8 2.1-.1 2.1 .5 2.1 .6 2.1 .6 2.1 .6 2.1 .5 2.1 .5 2.1 .6 2.1 .6 2.1 .7 2.1 .8 2.1 .9 2 .9 2.1 0 2.1-1.7 2.1-2.5 2.1-2.9 2.1-2.7 2.1-1.7 2.1-1.2 2.1-.9 2.1-.7 2.1-.5 2.1-.5 2.1 0 2.1 .2 2.1 .5 2 .5 2.1 .7 2.1 .9 2.1 1.1 2.1 1.3 2.1 1.2 2.1 1.1 2.1 .9 2.1 .2 2.1 0 2.1 0 2.1 0 2.1 0 2.1 0 2.1 0 2 0 2.1 0 2.1 0 2.1 0 2.1 0 2.1 0 2.1 0 2.1 0" fill="none" stroke="#40adff" stroke-width="0.85"/>
<path d="M159.9 410.8l2.1 2.8 2.1 2.2 2.1 1.9 2.1 1.3 2.1 0 2.1-.7 2.1-1.5 2-1.6 2.1-1.8 2.1-.9 2.1 0 2.1 .4 2.1 .6 2.1 .6 2.1 .5 2.1 .5 2.1 .6 2.1 .5 2.1 .7 2.1 .7 2.1 .7 2.1 .9 2 .9 2.1-.2 2.1-1.8 2.1-2.7 2.1-2.9 2.1-2.8 2.1-1.6 2.1-1.1 2.1-.8 2.1-.6 2.1-.5 2.1-.3 2.1-.1 2.1 .3 2.1 .4 2 .6 2.1 .7 2.1 .9 2.1 1.2 2.1 1.3 2.1 1.2 2.1 1.2 2.1 .8 2.1 .3 2.1 .1 2.1 0 2.1-.1 2.1 0 2.1 0 2.1 0 2 0 2.1 0 2.1 0 2.1 0 2.1 0 2.1 0 2.1 0 2.1 0" fill="none" stroke="#3ca3ff" stroke-width="0.85"/>
<path d="M159.9 410.7l2.1 2.9 2.1 2.3 2.1 2 2.1 1.3 2.1 .1 2.1-.7 2.1-1.5 2-1.8 2.1-1.9 2.1-1 2.1 0 2.1 .4 2.1 .6 2.1 .5 2.1 .5 2.1 .5 2.1 .6 2.1 .5 2.1 .7 2.1 .7 2.1 .7 2.1 .9 2 .8 2.1-.3 2.1-1.9 2.1-2.9 2.1-3 2.1-2.9 2.1-1.6 2.1-1 2.1-.6 2.1-.5 2.1-.3 2.1-.3 2.1 0 2.1 .3 2.1 .4 2 .6 2.1 .7 2.1 1 2.1 1.2 2.1 1.3 2.1 1.3 2.1 1.1 2.1 .9 2.1 .3 2.1 .1 2.1 0 2.1-.1 2.1 0 2.1 0 2.1 0 2 0 2.1 0 2.1 0 2.1 0 2.1 0 2.1 0 2.1 0 2.1 0" fill="none" stroke="#389aff" stroke-width="0.85"/>
<path d="M159.9 410.6l2.1 3 2.1 2.4 2.1 2 2.1 1.4 2.1 .2 2.1-.7 2.1-1.6 2-1.8 2.1-2.1 2.1-1 2.1-.1 2.1 .4 2.1 .5 2.1 .5 2.1 .5 2.1 .5 2.1 .6 2.1 .5 2.1 .7 2.1 .7 2.1 .7 2.1 .8 2 .8 2.1-.5 2.1-2.1 2.1-3 2.1-3.2 2.1-2.9 2.1-1.6 2.1-.8 2.1-.5 2.1-.4 2.1-.2 2.1-.2 2.1 0 2.1 .4 2.1 .4 2 .7 2.1 .7 2.1 1 2.1 1.2 2.1 1.3 2.1 1.4 2.1 1.2 2.1 .9 2.1 .3 2.1 .1 2.1 0 2.1-.1 2.1 0 2.1 0 2.1 0 2 0 2.1 0 2.1 0 2.1 0 2.1 0 2.1 0 2.1 0 2.1 0" fill="none" stroke="#3490ff" stroke-width="0.85"/>
<path d="M159.9 410.5l2.1 3.1 2.1 2.5 2.1 2.1 2.1 1.5 2.1 .2 2.1-.5 2.1-1.7 2-2 2.1-2.3 2.1-1.1 2.1-.1 2.1 .3 2.1 .5 2.1 .5 2.1 .5 2.1 .4 2.1 .6 2.1 .5 2.1 .7 2.1 .8 2.1 .7 2.1 .7 2 .7 2.1-.7 2.1-2.3 2.1-3.2 2.1-3.3 2.1-3.1 2.1-1.5 2.1-.7 2.1-.3 2.1-.2 2.1 0 2.1-.2 2.1 .1 2.1 .4 2.1 .5 2 .6 2.1 .8 2.1 1 2.1 1.3 2.1 1.4 2.1 1.3 2.1 1.3 2.1 1 2.1 .3 2.1 .1 2.1 0 2.1-.1 2.1 0 2.1 0 2.1 0 2 0 2.1 0 2.1 0 2.1 0 2.1 0 2.1 0 2.1 0 2.1 0" fill="none" stroke="#2f87ff" stroke-width="0.85"/>
<path d="M159.9 410.3l2.1 3.3 2.1 2.6 2.1 2.2 2.1 1.6 2.1 .4 2.1-.4 2.1-1.9 2-2.2 2.1-2.6 2.1-1.2 2.1-.1 2.1 .3 2.1 .5 2.1 .4 2.1 .4 2.1 .5 2.1 .5 2.1 .6 2.1 .6 2.1 .8 2.1 .8 2.1 .6 2 .5 2.1-.9 2.1-2.6 2.1-3.4 2.1-3.6 2.1-3.1 2.1-1.5 2.1-.5 2.1 0 2.1 0 2.1 .1 2.1 0 2.1 .2 2.1 .4 2.1 .5 2 .7 2.1 .9 2.1 1 2.1 1.3 2.1 1.4 2.1 1.5 2.1 1.3 2.1 1 2.1 .4 2.1 .1 2.1 .1 2.1-.2 2.1 0 2.1 0 2.1 0 2 0 2.1 0 2.1 0 2.1 0 2.1 0 2.1 0 2.1 0 2.1 0" fill="none" stroke="#2b7dff" stroke-width="0.85"/>
<path d="M159.9 410.1l2.1 3.4 2.1 2.8 2.1 2.5 2.1 1.6 2.1 .6 2.1-.3 2.1-2 2-2.5 2.1-2.9 2.1-1.3 2.1-.1 2.1 .2 2.1 .3 2.1 .4 2.1 .4 2.1 .4 2.1 .6 2.1 .5 2.1 .7 2.1 .8 2.1 .7 2.1 .6 2 .4 2.1-1.3 2.1-2.9 2.1-3.8 2.1-3.8 2.1-3.4 2.1-1.3 2.1-.3 2.1 .3 2.1 .4 2.1 .3 2.1 .2 2.1 .3 2.1 .4 2.1 .6 2 .7 2.1 .9 2.1 1.1 2.1 1.4 2.1 1.5 2.1 1.5 2.1 1.4 2.1 1.1 2.1 .4 2.1 .2 2.1 0 2.1-.1 2.1-.1 2.1 0 2.1 0 2 0 2.1 0 2.1 0 2.1 0 2.1 0 2.1 0 2.1 0 2.1 0" fill="none" stroke="#2774ff" stroke-width="0.85"/>
<path d="M159.9 409.9l2.1 3.6 2.1 3 2.1 2.6 2.1 1.8 2.1 .7 2.1 0 2.1-2.2 2-2.8 2.1-3.4 2.1-1.4 2.1-.1 2.1 .1 2.1 .3 2.1 .2 2.1 .4 2.1 .4 2.1 .5 2.1 .6 2.1 .7 2.1 .8 2.1 .7 2.1 .5 2 .2 2.1-1.7 2.1-3.3 2.1-4.2 2.1-4.1 2.1-3.6 2.1-1.2 2.1 0 2.1 .7 2.1 .7 2.1 .6 2.1 .4 2.1 .4 2.1 .5 2.1 .6 2 .8 2.1 1 2.1 1.2 2.1 1.4 2.1 1.5 2.1 1.6 2.1 1.6 2.1 1.1 2.1 .5 2.1 .2 2.1 .1 2.1-.2 2.1-.1 2.1 0 2.1 0 2 0 2.1 0 2.1 0 2.1 0 2.1 0 2.1 0 2.1 0 2.1 0" fill="none" stroke="#236aff" stroke-width="0.85"/>
<path d="M159.9 409.6l2.1 3.9 2.1 3.2 2.1 2.8 2.1 1.9 2.1 .9 2.1 .1 2.1-2.3 2-3.2 2.1-3.7 2.1-1.6 2.1-.2 2.1 .1 2.1 .2 2.1 .2 2.1 .3 2.1 .4 2.1 .5 2.1 .5 2.1 .7 2.1 .9 2.1 .8 2.1 .3 2 0 2.1-2 2.1-3.8 2.1-4.6 2.1-4.4 2.1-3.8 2.1-1.1 2.1 .3 2.1 1.2 2.1 1 2.1 .8 2.1 .6 2.1 .5 2.1 .6 2.1 .6 2 .9 2.1 1.1 2.1 1.2 2.1 1.4 2.1 1.7 2.1 1.7 2.1 1.7 2.1 1.1 2.1 .6 2.1 .3 2.1 0 2.1-.2 2.1-.1 2.1 0 2.1 0 2 0 2.1 0 2.1 0 2.1 0 2.1 0 2.1 0 2.1 0 2.1 0" fill="none" stroke="#1f61ff" stroke-width="0.85"/>
<path d="M159.9 409.4l2.1 4.1 2.1 3.4 2.1 2.9 2.1 2.1 2.1 1 2.1 .3 2.1-2.5 2-3.5 2.1-4.1 2.1-1.7 2.1-.1 2.1 0 2.1 .1 2.1 .1 2.1 .2 2.1 .4 2.1 .5 2.1 .5 2.1 .8 2.1 .9 2.1 .7 2.1 .3 2-.2 2.1-2.4 2.1-4.1 2.1-4.9 2.1-4.7 2.1-3.9 2.1-1 2.1 .5 2.1 1.5 2.1 1.3 2.1 1.1 2.1 .8 2.1 .6 2.1 .6 2.1 .7 2 .9 2.1 1.1 2.1 1.3 2.1 1.5 2.1 1.7 2.1 1.8 2.1 1.8 2.1 1.2 2.1 .6 2.1 .3 2.1 .1 2.1-.3 2.1-.1 2.1 0 2.1 0 2 0 2.1 0 2.1 0 2.1 0 2.1 0 2.1 0 2.1 0 2.1 0" fill="none" stroke="#1a57ff" stroke-width="0.85"/>
<path d="M159.9 409.2l2.1 4.3 2.1 3.5 2.1 3 2.1 2.2 2.1 1.2 2.1 .4 2.1-2.6 2-3.7 2.1-4.4 2.1-1.8 2.1-.2 2.1 0 2.1 0 2.1 .1 2.1 .2 2.1 .4 2.1 .5 2.1 .5 2.1 .7 2.1 1 2.1 .7 2.1 .2 2-.3 2.1-2.7 2.1-4.4 2.1-5.2 2.1-4.9 2.1-4 2.1-.9 2.1 .7 2.1 1.7 2.1 1.6 2.1 1.3 2.1 .9 2.1 .6 2.1 .7 2.1 .7 2 1 2.1 1.1 2.1 1.4 2.1 1.5 2.1 1.7 2.1 1.9 2.1 1.9 2.1 1.2 2.1 .7 2.1 .4 2.1 0 2.1-.3 2.1-.1 2.1 0 2.1 0 2 0 2.1 0 2.1 0 2.1 0 2.1 0 2.1 0 2.1 0 2.1 0" fill="none" stroke="#164eff" stroke-width="0.85"/>
<path d="M159.9 409.1l2.1 4.4 2.1 3.6 2.1 3.1 2.1 2.3 2.1 1.2 2.1 .5 2.1-2.7 2-3.9 2.1-4.6 2.1-1.8 2.1-.2 2.1-.1 2.1 0 2.1 0 2.1 .2 2.1 .4 2.1 .5 2.1 .5 2.1 .7 2.1 1 2.1 .7 2.1 .2 2-.4 2.1-2.9 2.1-4.6 2.1-5.4 2.1-5.1 2.1-4.1 2.1-.9 2.1 .9 2.1 2 2.1 1.6 2.1 1.5 2.1 1 2.1 .7 2.1 .7 2.1 .8 2 .9 2.1 1.3 2.1 1.4 2.1 1.5 2.1 1.8 2.1 1.9 2.1 1.9 2.1 1.3 2.1 .7 2.1 .4 2.1 0 2.1-.3 2.1-.1 2.1 0 2.1 0 2 0 2.1 0 2.1 0 2.1 0 2.1 0 2.1 0 2.1 0 2.1 0" fill="none" stroke="#1244ff" stroke-width="0.85"/>
<path d="M159.9 409l2.1 4.5 2.1 3.7 2.1 3.2 2.1 2.3 2.1 1.3 2.1 .6 2.1-2.8 2-4 2.1-4.8 2.1-1.9 2.1-.2 2.1-.1 2.1 0 2.1-.1 2.1 .2 2.1 .4 2.1 .4 2.1 .6 2.1 .7 2.1 1 2.1 .7 2.1 .1 2-.4 2.1-3.1 2.1-4.8 2.1-5.5 2.1-5.2 2.1-4.3 2.1-.8 2.1 1 2.1 2.1 2.1 1.9 2.1 1.6 2.1 1 2.1 .8 2.1 .7 2.1 .8 2 1 2.1 1.2 2.1 1.5 2.1 1.5 2.1 1.8 2.1 2 2.1 2 2.1 1.3 2.1 .7 2.1 .4 2.1 0 2.1-.3 2.1-.1 2.1 0 2.1 0 2 0 2.1 0 2.1 0 2.1 0 2.1 0 2.1 0 2.1 0 2.1 0" fill="none" stroke="#0e3bff" stroke-width="0.85"/>
<path d="M159.9 408.9l2.1 4.6 2.1 3.8 2.1 3.2 2.1 2.3 2.1 1.5 2.1 .6 2.1-2.9 2-4.1 2.1-4.9 2.1-1.9 2.1-.3 2.1-.1 2.1-.1 2.1 0 2.1 .1 2.1 .4 2.1 .5 2.1 .5 2.1 .7 2.1 1 2.1 .8 2.1 0 2-.5 2.1-3.2 2.1-4.9 2.1-5.7 2.1-5.3 2.1-4.3 2.1-.8 2.1 1.1 2.1 2.2 2.1 2 2.1 1.7 2.1 1.1 2.1 .9 2.1 .7 2.1 .7 2 1.1 2.1 1.2 2.1 1.5 2.1 1.6 2.1 1.8 2.1 2 2.1 2 2.1 1.3 2.1 .8 2.1 .4 2.1 .1 2.1-.3 2.1-.2 2.1 0 2.1 0 2 0 2.1 0 2.1 0 2.1 0 2.1 0 2.1 0 2.1 0 2.1 0" fill="none" stroke="#0a32ff" stroke-width="1.7"/>
</svg>
<line x1="159.9" y1="413.56" x2="285.5" y2="413.56" stroke="#444" stroke-width="0.8" stroke-dasharray="1.2 1.3"/>
<rect x="159.9" y="376.4" width="125.6" height="83.6" fill="none" stroke="#5a5a5a" stroke-width="1"/>
<path d="M159.9 460v1.6M159.9 376.4v1.6M180.83 460v1.6M180.83 376.4v1.6M201.77 460v1.6M201.77 376.4v1.6M222.7 460v1.6M222.7 376.4v1.6M243.63 460v1.6M243.63 376.4v1.6M264.57 460v1.6M264.57 376.4v1.6M285.5 460v1.6M285.5 376.4v1.6" stroke="#5a5a5a" stroke-width="0.8"/>
<path d="M158.3 450.71h1.6M283.9 450.71h1.6M158.3 432.13h1.6M283.9 432.13h1.6M158.3 413.56h1.6M283.9 413.56h1.6M158.3 394.98h1.6M283.9 394.98h1.6M158.3 376.4h1.6M283.9 376.4h1.6" stroke="#5a5a5a" stroke-width="0.8"/>
<text x="163.1" y="468.9" font-size="7.2" text-anchor="middle" fill="#000">200</text>
<text x="180.83" y="468.9" font-size="7.2" text-anchor="middle" fill="#000">220</text>
<text x="201.77" y="468.9" font-size="7.2" text-anchor="middle" fill="#000">240</text>
<text x="222.7" y="468.9" font-size="7.2" text-anchor="middle" fill="#000">260</text>
<text x="243.63" y="468.9" font-size="7.2" text-anchor="middle" fill="#000">280</text>
<text x="264.57" y="468.9" font-size="7.2" text-anchor="middle" fill="#000">300</text>
<text x="281.1" y="468.9" font-size="7.2" text-anchor="middle" fill="#000">320</text>
<text x="226.6" y="477.4" font-size="7.2" text-anchor="middle" fill="#000">Wavelength (nm)</text>
<text x="163.5" y="387" font-size="10.3" text-anchor="start" fill="#222">3%</text>
<path d="M291.3 355l.3-.1 .3-.1 .3-.1 .3-.1 .3-.1 .3-.2 .3-.1 .3-.1 .3-.1 .3-.1 .3-.1 .3-.1 .3-.1 .3-.1 .3-.1 .3-.1 .3-.1 .3-.1 .3-.1 .3-.2 .3-.1 1.1-.3 1.1-.4 1.1-.4 1.1-.4 1.2-.4 1.1-.3 1.1-.4 1.1-.3 1.1-.4 1.1-.4 1.1-.3 1.1-.4 1.2-.3 1.1-.3 1.1-.4 1.1-.3 1.1-.3 1.1-.4 1.1-.3 1.1-.3 1.2-.3 1.1-.3 1.1-.4 1.1-.3 1.1-.3 1.1-.3 1.1-.3 1.1-.3 1.2-.3 1.1-.3 1.1-.2 1.1-.3 1.1-.3 1.1-.3 1.1-.3 1.2-.2 1.1-.3 1.1-.3 1.1-.3 1.1-.2 1.1-.3 1.1-.2 1.1-.3 1.2-.2 1.1-.3 1.1-.2 1.1-.3 1.1-.2 1.1-.3 1.1-.2 1.1-.2 1.2-.3 1.1-.2 1.1-.2 1.1-.3 1.1-.2 1.1-.2 1.1-.2 1.1-.2 .3 0 .5 .1 .5 .1 .4 .1 .5 .1 .4 .1 .5 .1 .4 .1 .5 .1 .5 0 .4 .1 .5 .1 .4 0 .5 .1 .4 .1 .5 0 .5 .1 .4 0 .5 .1 .4 .1 .6 0 1.2 .2 1.1 .1 1.1 .1 1.2 .1 1.1 .1 1.2 .1 1.1 .2 1.1 .1 1.2 .1 1.1 .1 1.1 .1 1.2 .1 1.1 .1 1.2 .1 1.1 .1 1.1 .1 1.2 .1 1.1 .1 1.1 .1 1.2 .1 1.1 .1 1.2 .1 1.1 .1 1.1 .1 1.2 .1 1.1 .1 1.1 .1 1.2 .1 1.1 .1 1.2 0 1.1 .1 1.1 .1 1.2 .1 1.1 .1 1.1 .1 1.2 .1 1.1 .1 1.2 .1 1.1 .1" fill="none" stroke="#111" stroke-width="0.8"/>
<path d="M291.3 355l.3-.4 .3-.3 .3-.4 .3-.4 .3-.3 .3-.4 .3-.4 .3-.3 .3-.4 .3-.3 .3-.4 .3-.3 .3-.4 .3-.3 .3-.3 .3-.4 .3-.3 .3-.3 .3-.4 .3-.3 .3-.3 1.1-1.2 1.1-1.1 1.1-1.1 1.1-1.1 1.2-1.1 1.1-1 1.1-1 1.1-1 1.1-.9 1.1-1 1.1-.8 1.1-.9 1.2-.9 1.1-.8 1.1-.8 1.1-.8 1.1-.7 1.1-.8 1.1-.7 1.1-.7 1.2-.7 1.1-.6 1.1-.7 1.1-.6 1.1-.6 1.1-.6 1.1-.5 1.1-.6 1.2-.5 1.1-.6 1.1-.5 1.1-.5 1.1-.5 1.1-.4 1.1-.5 1.2-.4 1.1-.4 1.1-.5 1.1-.4 1.1-.4 1.1-.3 1.1-.4 1.1-.4 1.2-.3 1.1-.4 1.1-.3 1.1-.3 1.1-.3 1.1-.3 1.1-.3 1.1-.3 1.2-.3 1.1-.3 1.1-.2 1.1-.3 1.1-.2 1.1-.2 1.1-.3 1.1-.2 .3 .1 .5 .2 .5 .2 .4 .1 .5 .2 .4 .1 .5 .1 .4 .2 .5 .1 .5 .1 .4 .1 .5 .1 .4 .1 .5 .1 .4 .1 .5 .1 .5 .1 .4 .1 .5 0 .4 .1 .6 .1 1.2 .2 1.1 .2 1.1 .1 1.2 .2 1.1 .2 1.2 .1 1.1 .1 1.1 .2 1.2 .1 1.1 .1 1.1 .2 1.2 .1 1.1 .1 1.2 .2 1.1 .1 1.1 .1 1.2 .1 1.1 .2 1.1 .1 1.2 .1 1.1 .1 1.2 .2 1.1 .1 1.1 .1 1.2 .1 1.1 .1 1.1 .2 1.2 .1 1.1 .1 1.2 .1 1.1 .2 1.1 .1 1.2 .1 1.1 .1 1.1 .1 1.2 .2 1.1 .1 1.2 .1 1.1 .1" fill="none" stroke="#111" stroke-width="0.8"/>
<path d="M291.3 355l.3-1.1 .3-1 .3-1 .3-1 .3-.9 .3-1 .3-.9 .3-.9 .3-.9 .3-.8 .3-.9 .3-.8 .3-.8 .3-.8 .3-.8 .3-.7 .3-.7 .3-.8 .3-.7 .3-.6 .3-.7 1.1-2.4 1.1-2.2 1.1-2 1.1-1.8 1.2-1.7 1.1-1.6 1.1-1.5 1.1-1.3 1.1-1.3 1.1-1.1 1.1-1.1 1.1-1 1.2-1 1.1-.9 1.1-.8 1.1-.7 1.1-.8 1.1-.6 1.1-.7 1.1-.6 1.2-.5 1.1-.5 1.1-.5 1.1-.5 1.1-.5 1.1-.4 1.1-.4 1.1-.4 1.2-.3 1.1-.4 1.1-.3 1.1-.3 1.1-.3 1.1-.3 1.1-.3 1.2-.3 1.1-.2 1.1-.3 1.1-.2 1.1-.3 1.1-.2 1.1-.2 1.1-.2 1.2-.2 1.1-.3 1.1-.1 1.1-.2 1.1-.2 1.1-.2 1.1-.2 1.1-.2 1.2-.1 1.1-.2 1.1-.2 1.1-.1 1.1-.2 1.1-.1 1.1-.2 1.1-.1 .3 .3 .5 .4 .5 .4 .4 .3 .5 .3 .4 .4 .5 .3 .4 .2 .5 .3 .5 .2 .4 .3 .5 .2 .4 .2 .5 .2 .4 .2 .5 .2 .5 .2 .4 .2 .5 .1 .4 .2 .6 .2 1.2 .3 1.1 .3 1.1 .3 1.2 .3 1.1 .3 1.2 .2 1.1 .3 1.1 .2 1.2 .2 1.1 .2 1.1 .2 1.2 .2 1.1 .2 1.2 .2 1.1 .2 1.1 .2 1.2 .2 1.1 .2 1.1 .2 1.2 .2 1.1 .2 1.2 .1 1.1 .2 1.1 .2 1.2 .2 1.1 .2 1.1 .2 1.2 .2 1.1 .1 1.2 .2 1.1 .2 1.1 .2 1.2 .2 1.1 .2 1.1 .1 1.2 .2 1.1 .2 1.2 .2 1.1 .2" fill="none" stroke="#111" stroke-width="0.8"/>
<path d="M291.3 355l.3-3.1 .3-3 .3-2.8 .3-2.6 .3-2.5 .3-2.3 .3-2.2 .3-2.1 .3-1.9 .3-1.9 .3-1.7 .3-1.6 .3-1.6 .3-1.4 .3-1.4 .3-1.3 .3-1.2 .3-1.2 .3-1 .3-1.1 .3-.9 1.1-3.2 1.1-2.6 1.1-2.1 1.1-1.7 1.2-1.5 1.1-1.2 1.1-1 1.1-.9 1.1-.8 1.1-.7 1.1-.6 1.1-.5 1.2-.5 1.1-.4 1.1-.4 1.1-.4 1.1-.4 1.1-.3 1.1-.4 1.1-.3 1.2-.3 1.1-.3 1.1-.3 1.1-.2 1.1-.3 1.1-.3 1.1-.2 1.1-.3 1.2-.3 1.1-.2 1.1-.2 1.1-.3 1.1-.2 1.1-.3 1.1-.2 1.2-.2 1.1-.2 1.1-.2 1.1-.3 1.1-.2 1.1-.2 1.1-.2 1.1-.2 1.2-.2 1.1-.2 1.1-.2 1.1-.2 1.1-.2 1.1-.2 1.1-.1 1.1-.2 1.2-.2 1.1-.2 1.1-.1 1.1-.2 1.1-.2 1.1-.1 1.1-.2 1.1-.2 .3 .4 .5 .5 .5 .4 .4 .4 .5 .4 .4 .4 .5 .4 .4 .3 .5 .3 .5 .4 .4 .2 .5 .3 .4 .3 .5 .2 .4 .3 .5 .2 .5 .2 .4 .2 .5 .2 .4 .2 .6 .2 1.2 .5 1.1 .4 1.1 .3 1.2 .4 1.1 .3 1.2 .3 1.1 .3 1.1 .3 1.2 .2 1.1 .3 1.1 .2 1.2 .3 1.1 .3 1.2 .2 1.1 .2 1.1 .3 1.2 .2 1.1 .3 1.1 .2 1.2 .2 1.1 .3 1.2 .2 1.1 .2 1.1 .2 1.2 .3 1.1 .2 1.1 .2 1.2 .3 1.1 .2 1.2 .2 1.1 .3 1.1 .2 1.2 .2 1.1 .2 1.1 .3 1.2 .2 1.1 .2 1.2 .3 1.1 .2" fill="none" stroke="#111" stroke-width="0.8"/>
<path d="M291.3 355l.3-5.4 .3-5 .3-4.5 .3-4 .3-3.7 .3-3.4 .3-3 .3-2.8 .3-2.5 .3-2.3 .3-2.1 .3-1.9 .3-1.7 .3-1.6 .3-1.4 .3-1.4 .3-1.2 .3-1.1 .3-1 .3-.9 .3-.8 1.1-2.6 1.1-2 1.1-1.4 1.1-1.2 1.2-.9 1.1-.8 1.1-.7 1.1-.6 1.1-.5 1.1-.5 1.1-.5 1.1-.4 1.2-.4 1.1-.5 1.1-.4 1.1-.4 1.1-.4 1.1-.3 1.1-.4 1.1-.4 1.2-.4 1.1-.3 1.1-.4 1.1-.3 1.1-.4 1.1-.3 1.1-.3 1.1-.4 1.2-.3 1.1-.3 1.1-.3 1.1-.3 1.1-.4 1.1-.3 1.1-.3 1.2-.3 1.1-.2 1.1-.3 1.1-.3 1.1-.3 1.1-.3 1.1-.2 1.1-.3 1.2-.3 1.1-.2 1.1-.3 1.1-.3 1.1-.2 1.1-.2 1.1-.3 1.1-.2 1.2-.3 1.1-.2 1.1-.2 1.1-.3 1.1-.2 1.1-.2 1.1-.2 1.1-.2 .3 .4 .5 .6 .5 .6 .4 .6 .5 .5 .4 .5 .5 .4 .4 .5 .5 .4 .5 .4 .4 .3 .5 .4 .4 .3 .5 .3 .4 .3 .5 .3 .5 .3 .4 .2 .5 .3 .4 .2 .6 .3 1.2 .5 1.1 .4 1.1 .5 1.2 .4 1.1 .3 1.2 .4 1.1 .3 1.1 .3 1.2 .3 1.1 .3 1.1 .3 1.2 .3 1.1 .3 1.2 .2 1.1 .3 1.1 .3 1.2 .2 1.1 .3 1.1 .2 1.2 .3 1.1 .2 1.2 .3 1.1 .2 1.1 .3 1.2 .2 1.1 .3 1.1 .2 1.2 .3 1.1 .2 1.2 .3 1.1 .2 1.1 .3 1.2 .2 1.1 .3 1.1 .2 1.2 .3 1.1 .2 1.2 .3 1.1 .2" fill="none" stroke="#111" stroke-width="0.8"/>
<path d="M291.3 355l.3-8.3 .3-7 .3-6 .3-5 .3-4.4 .3-3.6 .3-3.2 .3-2.6 .3-2.3 .3-2 .3-1.6 .3-1.5 .3-1.2 .3-1.1 .3-.9 .3-.8 .3-.7 .3-.6 .3-.6 .3-.5 .3-.4 1.1-1.2 1.1-.9 1.1-.7 1.1-.6 1.2-.5 1.1-.5 1.1-.5 1.1-.4 1.1-.5 1.1-.4 1.1-.5 1.1-.4 1.2-.4 1.1-.4 1.1-.4 1.1-.5 1.1-.3 1.1-.4 1.1-.4 1.1-.4 1.2-.4 1.1-.4 1.1-.3 1.1-.4 1.1-.4 1.1-.3 1.1-.4 1.1-.3 1.2-.3 1.1-.4 1.1-.3 1.1-.3 1.1-.3 1.1-.4 1.1-.3 1.2-.3 1.1-.3 1.1-.3 1.1-.3 1.1-.3 1.1-.3 1.1-.2 1.1-.3 1.2-.3 1.1-.3 1.1-.2 1.1-.3 1.1-.3 1.1-.2 1.1-.3 1.1-.2 1.2-.3 1.1-.2 1.1-.2 1.1-.3 1.1-.2 1.1-.2 1.1-.3 1.1-.2 .3 .5 .5 .6 .5 .6 .4 .5 .5 .5 .4 .5 .5 .5 .4 .4 .5 .4 .5 .4 .4 .4 .5 .3 .4 .4 .5 .3 .4 .3 .5 .2 .5 .3 .4 .3 .5 .2 .4 .2 .6 .3 1.2 .5 1.1 .5 1.1 .4 1.2 .4 1.1 .4 1.2 .3 1.1 .4 1.1 .3 1.2 .3 1.1 .3 1.1 .3 1.2 .2 1.1 .3 1.2 .3 1.1 .3 1.1 .2 1.2 .3 1.1 .2 1.1 .3 1.2 .2 1.1 .3 1.2 .2 1.1 .3 1.1 .2 1.2 .3 1.1 .2 1.1 .3 1.2 .2 1.1 .3 1.2 .2 1.1 .3 1.1 .2 1.2 .3 1.1 .2 1.1 .3 1.2 .2 1.1 .3 1.2 .2 1.1 .3" fill="none" stroke="#111" stroke-width="0.8"/>
<path d="M291.3 354.6l.7-.6 .7 0 .8 .4 .7-.6 .7-.5 .7-.2 .7 0 .8 1 .7-.1 .7 .1 .7-.7 .7-.9 .8-.9 .7-.3 .7-.5 .7-.1 .7-.2 .7-.5 .8 .2 .7 .6 .7-.1 .7-.5 .7-.8 .8-.4 .7-.1 .7 .4 .7-.8 .7-.7 .8-.5 .7-.2 .7 .2 .7-.4 .7-.2 .8-.1 .7-.4 .7-1.3 .7 .1 .7-.6 .8-.2 .7 .6 .7-.1 .7 .2 .7-.4 .8-.5 .7-.9 .7-.1 .7-.2 .7-.5 .8 .3 .7 .1 .7-.7 .7 .4 .7-.3 .7-.1 .8 .4 .7 .4 .7-.9 .7 .1 .7-.5 .8-.3 .7 .1 .7 0 .7-.4 .7-.9 .8-.1 .7-.3 .7 .4 .7-.3 .7 .3 .8-.5 .7-.1 .7-.6 .7-.5 .7-.3 .8-.1 .7-.8 .7 .2 .7-.2 .7-.3 .8 .1 .7-.2 .7-.3 .7-.2 .7-.4 .8-.2 .7-.2 .7 .9 .7-.3 .7 0 .7-.4 .8-.6 .7-.1 .7-.3 .7-.3 .7 .5 .8-1 .7-1 .7-.1 .7 .1 .7 .6 .8 .8 .7 .1 .7-.3 .7 .1 .7 .6 .8 0 .7-.3 .7 .4 .7-.2 .7 .1 .8 .6 .7 1.1 .7-.4 .7 .1 .7-.3 .8 .2 .7-.6 .7 .7 .7-.1 .7 .7 .8 .1 .7 0 .7-1.1 .7 0 .7-.3 .7 .5 .8-.4 .7 .4 .7 .5 .7-.3 .7-.3 .8-.3 .7 0 .7-.3 .7 .6 .7 .5 .8 .2 .7 .8 .7-.3 .7-.4 .7 .1 .8 .1 .7-.1 .7 .9 .7 0 .7 .3 .8 .3 .7 .5 .7-.4 .7-.6 .7 0 .8-.9 .7 .1 .7 0 .7-.5 .7 .4 .8 .3 .7 .4 .7 .1 .7-.4 .7-.4 .7 .3 .8 .4 .7-.4 .7 .6 .7 .5 .7 .5 .8-.5 .7 .3 .7-.4 .7 .4 .7-.2 .8 .5 .7 .3 .7 .2" fill="none" stroke="#a07a4a" stroke-width="1.2" stroke-linejoin="round"/>
<path d="M291.3 354.6l.7-1.1 .7-.5 .8-.7 .7-1 .7-1 .7-1.3 .7-.8 .8-1.1 .7-.8 .7-1 .7 0 .7 .3 .8-.6 .7-.7 .7-1.2 .7-.8 .7-.9 .7 .6 .8-1.2 .7-.9 .7-.8 .7-.9 .7-.6 .8-.8 .7-.9 .7-.1 .7-1.1 .7-.3 .8-1.3 .7-.8 .7-.9 .7-.3 .7-.5 .8-.2 .7-.3 .7-.7 .7-.4 .7-.7 .8 .3 .7-1.2 .7-.9 .7 .1 .7-.5 .8-.7 .7-.2 .7 .1 .7-.9 .7-.3 .8-.4 .7-.3 .7-.1 .7 .1 .7-.2 .7-.4 .8-.3 .7-.7 .7 .1 .7 .1 .7-1 .8-.8 .7-.6 .7-.1 .7 .2 .7-.5 .8 0 .7-1.2 .7-.6 .7-.2 .7-.7 .8 .8 .7-.6 .7-.6 .7-.3 .7-.6 .8 0 .7 .1 .7-.7 .7 .2 .7-.8 .8-.9 .7-.7 .7-.1 .7 .6 .7 .5 .8 .4 .7-.3 .7 .3 .7-.8 .7-.6 .7-.4 .8-.4 .7 .5 .7 .4 .7-.5 .7-.2 .8-.8 .7-.3 .7-.5 .7 0 .7 0 .8 .2 .7 .7 .7-.3 .7-.2 .7 .9 .8-.2 .7-.2 .7 0 .7 .5 .7 .2 .8 .2 .7 .3 .7-.4 .7-.1 .7 .3 .8 .1 .7-.6 .7 .5 .7 .5 .7 0 .8 .3 .7-.1 .7 .5 .7 .4 .7 .6 .7 .6 .8 0 .7-.2 .7 .1 .7-1.2 .7 .3 .8 0 .7-.1 .7 .5 .7 .5 .7 .4 .8-.3 .7-.7 .7-.4 .7 .3 .7 .2 .8 .3 .7 .2 .7 .9 .7-.2 .7 .2 .8 0 .7-.3 .7-.5 .7 .2 .7 .4 .8 .2 .7-.4 .7 .5 .7 .1 .7 0 .8 .5 .7 .3 .7-1 .7 0 .7 .1 .7-.2 .8 .1 .7 .1 .7-.3 .7-.1 .7-.2 .8-.1 .7 .3 .7 .5 .7 .5 .7 .2 .8 .3 .7-.1 .7-.8" fill="none" stroke="#cc44ee" stroke-width="1.2" stroke-linejoin="round"/>
<path d="M291.3 354.6l.7-2.7 .7-2.2 .8-2.5 .7-2 .7-1.6 .7-2.2 .7-1.9 .8-1.3 .7-1.9 .7-1.1 .7-1.6 .7-1.4 .8-1.6 .7-1.3 .7-.9 .7-.9 .7-.4 .7-1.6 .8-.7 .7-1.1 .7-1.7 .7-1.1 .7-1.1 .8-.1 .7-.4 .7 0 .7-1.5 .7-.7 .8-1.2 .7 .2 .7-.9 .7-.5 .7-1.3 .8-.8 .7 .1 .7 0 .7-.1 .7-.5 .8-.9 .7-.6 .7-.6 .7-.8 .7-.3 .8 .3 .7-.3 .7-.5 .7-.5 .7-.5 .8-.8 .7-.2 .7-.1 .7 0 .7-.7 .7-.1 .8 .3 .7-.1 .7-.4 .7 .3 .7-.4 .8 0 .7-.1 .7-.4 .7-.1 .7-.7 .8-.1 .7-1.2 .7 .3 .7 .1 .7-.1 .8-.6 .7-.5 .7-.2 .7-.1 .7 .5 .8-.1 .7 .2 .7 0 .7-.4 .7-.6 .8-.3 .7 .5 .7-.6 .7 .2 .7 .6 .8 0 .7-.3 .7-.6 .7 .1 .7-.1 .7-.6 .8 .4 .7-.5 .7-.2 .7 0 .7-.5 .8-.3 .7-.2 .7 .1 .7 .1 .7-.4 .8 .3 .7-.1 .7 .3 .7 .8 .7 .8 .8 .3 .7 .2 .7 0 .7 .7 .7 .6 .8 .4 .7-.3 .7 .2 .7 .1 .7 .2 .8 0 .7 .6 .7-.5 .7 .1 .7 .3 .8 .1 .7 .8 .7 .9 .7 .4 .7 .2 .7-.7 .8 0 .7 .1 .7 .3 .7 1 .7-.6 .8 .6 .7-.2 .7 .5 .7-.2 .7-.4 .8 .7 .7-.2 .7 .5 .7 .6 .7-.6 .8-.1 .7-.2 .7-.2 .7-1 .7 1 .8 .8 .7 0 .7-.3 .7-.2 .7-.1 .8 .5 .7 .2 .7 .8 .7 .6 .7 .2 .8 0 .7-.4 .7-.1 .7 .3 .7 .2 .7 .2 .8-.2 .7 .8 .7-.1 .7 0 .7 .3 .8-.5 .7-.2 .7 .1 .7 .1 .7 .2 .8 .1 .7 .2 .7-.1" fill="none" stroke="#ff2e1f" stroke-width="1.2" stroke-linejoin="round"/>
<path d="M291.3 354.6l.7-8 .7-5.8 .8-5.7 .7-4.7 .7-4.4 .7-3.5 .7-3.4 .8-2.3 .7-2.6 .7-.9 .7-1.9 .7-1.8 .8-1 .7-2 .7-1.3 .7-1.9 .7-.8 .7-.6 .8-.4 .7-.3 .7-.4 .7-1.2 .7-.1 .8-.1 .7-.8 .7-.2 .7-.3 .7-.3 .8 .1 .7-1 .7-.5 .7 .2 .7 .1 .8 .8 .7-.5 .7-.7 .7 .5 .7-.7 .8-.4 .7-.2 .7-.6 .7 .4 .7-.8 .8-.7 .7 0 .7-.4 .7-.1 .7 .3 .8 0 .7 .4 .7-.8 .7-.2 .7 .3 .7 .2 .8-.8 .7 .1 .7-.5 .7-.7 .7-.2 .8-.3 .7-.5 .7-.4 .7-.2 .7 0 .8-.6 .7-.3 .7 .3 .7-.2 .7 .2 .8 .4 .7-.6 .7-.7 .7-.4 .7 0 .8-.4 .7 .5 .7 .3 .7-.3 .7 0 .8-.2 .7-.4 .7-.5 .7 .1 .7-.1 .8 0 .7 0 .7-.5 .7 .5 .7 .1 .7-.5 .8-.4 .7-.3 .7-.6 .7-.3 .7-.4 .8 .3 .7 .9 .7-.4 .7-.4 .7-.6 .8 .8 .7 .2 .7 1 .7 0 .7 1.3 .8 1.4 .7 .4 .7 .7 .7 .4 .7-1.1 .8 .3 .7-.2 .7 .4 .7 1.4 .7-.3 .8 .3 .7 .1 .7 .5 .7-.1 .7 .7 .8 .3 .7 0 .7 .2 .7-.6 .7 .3 .7-.5 .8-.1 .7 .4 .7 .6 .7 .6 .7 .7 .8 .4 .7 .1 .7-.5 .7-.5 .7 0 .8 .6 .7-.4 .7 .6 .7 .4 .7 0 .8 .3 .7 .2 .7 0 .7 .1 .7 .1 .8 .3 .7 .2 .7 .4 .7 .6 .7 0 .8 .4 .7-.2 .7 .3 .7 .3 .7-.1 .8-.7 .7 .4 .7 0 .7 .5 .7 0 .7 .4 .8 .3 .7-.5 .7-.1 .7-.2 .7 .4 .8 .5 .7 .2 .7 .3 .7 .1 .7-.1 .8 .2 .7-.1 .7 0" fill="none" stroke="#1fd21f" stroke-width="1.2" stroke-linejoin="round"/>
<path d="M291.3 354.6l.7-13.1 .7-9.6 .8-7.6 .7-6 .7-4.5 .7-4 .7-3.1 .8-1.7 .7-1.8 .7-1.6 .7-1.5 .7-1.3 .8-1.8 .7-1.5 .7-1.2 .7-.3 .7-.3 .7 .5 .8-.6 .7 .2 .7-.5 .7-.5 .7-.6 .8-.6 .7-.4 .7-1 .7 .3 .7 0 .8-.6 .7 0 .7-.9 .7-.7 .7-.6 .8 0 .7-.1 .7-.1 .7-.5 .7-.4 .8 .6 .7-.7 .7-.3 .7-.4 .7 .1 .8-.8 .7 .2 .7-.3 .7-.1 .7 .2 .8-.3 .7 .4 .7-.2 .7-.5 .7-.7 .7-.5 .8-.2 .7-.3 .7 .6 .7 .5 .7-.2 .8-.1 .7-.4 .7-.4 .7-.7 .7-1.3 .8-.2 .7-.4 .7-.4 .7-.3 .7-.5 .8-.2 .7-.4 .7 .8 .7-1 .7-.3 .8-.2 .7 .4 .7 .4 .7-.7 .7 .2 .8 .3 .7-.5 .7-.8 .7-.3 .7-.2 .8 .3 .7-.8 .7 .6 .7-.8 .7-.4 .7-1.1 .8-.1 .7-.2 .7 0 .7-.1 .7-.4 .8 .1 .7-1 .7-.1 .7 .4 .7 .2 .8 1.2 .7 .7 .7 1.1 .7 .7 .7 .7 .8 .9 .7 .5 .7 .5 .7 .7 .7 .5 .8 .5 .7 .6 .7 .4 .7-.1 .7-.2 .8-.3 .7-.3 .7 .7 .7-.4 .7 1 .8 .1 .7 .7 .7 .2 .7 .7 .7 .7 .7 0 .8 .5 .7 .2 .7 .1 .7-.3 .7-.1 .8 .1 .7 .6 .7 0 .7 .5 .7 .4 .8 1 .7 .4 .7-.5 .7-.1 .7-.4 .8-.4 .7 .1 .7-.8 .7-.2 .7 0 .8 .3 .7 .1 .7 .4 .7 1.3 .7 .7 .8 .1 .7 .7 .7 0 .7-.6 .7 .1 .8 .2 .7 .4 .7 0 .7 .5 .7 .5 .7 .3 .8-.2 .7-.5 .7-.7 .7-.6 .7 .7 .8-.1 .7 .5 .7 .8 .7 1.1 .7-.2 .8 .2 .7-.3 .7-.6" fill="none" stroke="#ff9426" stroke-width="1.2" stroke-linejoin="round"/>
<path d="M291.3 354.6l.7-17.7 .7-11.9 .8-7.9 .7-5.8 .7-3.4 .7-3.3 .7-2 .8-1.9 .7-1.3 .7-1.1 .7-.5 .7-.2 .8-.5 .7-.6 .7-.1 .7 0 .7-.7 .7-.4 .8-.4 .7-.3 .7-.2 .7-.1 .7-.5 .8-.2 .7-.1 .7-1 .7 .1 .7-.3 .8-.3 .7-.8 .7-.2 .7-.8 .7-.2 .8-.1 .7-.2 .7-.8 .7-.4 .7-.3 .8-.4 .7 .2 .7 0 .7 .1 .7 .1 .8 .2 .7 .1 .7-.9 .7 .4 .7-1.1 .8-.6 .7-.3 .7 0 .7-.4 .7-.1 .7 0 .8-.6 .7-.4 .7-.7 .7-.7 .7 .2 .8 0 .7 .5 .7-.3 .7-.4 .7-.6 .8-.1 .7-.5 .7-.3 .7-.4 .7 0 .8 .2 .7 .6 .7-.2 .7 0 .7-.1 .8-.4 .7-.2 .7-.1 .7-.5 .7-1.1 .8-.2 .7-.1 .7-1 .7 .4 .7 0 .8-.3 .7 .5 .7-.5 .7 .5 .7-.5 .7-.6 .8-.1 .7-.6 .7 .7 .7 .1 .7-.1 .8-.2 .7-.5 .7-.5 .7-1 .7 .3 .8 1.1 .7 1.1 .7 1.3 .7 .5 .7 .2 .8 .4 .7 .6 .7 .5 .7 .7 .7-.2 .8 .7 .7-.4 .7 .7 .7 .9 .7 1.2 .8 .6 .7-.4 .7 .1 .7-.1 .7 .3 .8-.3 .7 .6 .7 0 .7 .6 .7-.2 .7-.1 .8 .4 .7 .4 .7 0 .7 .5 .7 .1 .8 1.3 .7-.3 .7 .1 .7 .4 .7-.2 .8-.5 .7 .3 .7-.2 .7-.1 .7 .7 .8 .5 .7 .7 .7-.2 .7-.5 .7-.1 .8 .4 .7-.5 .7 .4 .7 .4 .7-.4 .8 .7 .7-.7 .7 1 .7 .2 .7 1 .8 .6 .7-.1 .7 0 .7-.1 .7-.3 .7 .2 .8-.6 .7-.4 .7 0 .7 .3 .7 .1 .8-.1 .7 .3 .7 .7 .7 .7 .7 0 .8 1.1 .7 0 .7 .4" fill="none" stroke="#2850f0" stroke-width="1.2" stroke-linejoin="round"/>
<rect x="291.3" y="271" width="125.9" height="83.6" fill="none" stroke="#5a5a5a" stroke-width="1"/>
<path d="M291.3 354.6v1.6M291.3 271v1.6M309.29 354.6v1.6M309.29 271v1.6M327.27 354.6v1.6M327.27 271v1.6M345.26 354.6v1.6M345.26 271v1.6M363.24 354.6v1.6M363.24 271v1.6M381.23 354.6v1.6M381.23 271v1.6M399.21 354.6v1.6M399.21 271v1.6M417.2 354.6v1.6M417.2 271v1.6" stroke="#5a5a5a" stroke-width="0.8"/>
<path d="M289.7 354.6h1.6M415.6 354.6h1.6M289.7 326.73h1.6M415.6 326.73h1.6M289.7 298.87h1.6M415.6 298.87h1.6M289.7 271h1.6M415.6 271h1.6" stroke="#5a5a5a" stroke-width="0.8"/>
<text x="292.5" y="363.8" font-size="7.1" text-anchor="middle" fill="#000">0</text>
<text x="309.29" y="363.8" font-size="7.1" text-anchor="middle" fill="#000">30</text>
<text x="327.27" y="363.8" font-size="7.1" text-anchor="middle" fill="#000">60</text>
<text x="345.26" y="363.8" font-size="7.1" text-anchor="middle" fill="#000">90</text>
<text x="363.24" y="363.8" font-size="7.1" text-anchor="middle" fill="#000">120</text>
<text x="381.23" y="363.8" font-size="7.1" text-anchor="middle" fill="#000">150</text>
<text x="399.21" y="363.8" font-size="7.1" text-anchor="middle" fill="#000">180</text>
<text x="413.4" y="363.8" font-size="7.1" text-anchor="middle" fill="#000">210</text>
<text x="351.3" y="372.2" font-size="7.4" text-anchor="middle" fill="#000">Time (s)</text>
<text x="295.5" y="282.6" font-size="10.3" text-anchor="start" fill="#111" font-weight="bold">17%</text>
<svg x="292.2" y="376.4" width="125.2" height="83.6" viewBox="292.2 376.4 125.2 83.6" overflow="hidden">
<path d="M292.2 411.1l2.1 2.3 2.1 1.6 2.1 1.4 2 .8 2.1-.2 2.1-.8 2.1-.8 2.1-.9 2.1-.9 2.1-.7 2.1 0 2 .4 2.1 .7 2.1 .7 2.1 .5 2.1 .5 2.1 .5 2.1 .6 2 .7 2.1 .8 2.1 .6 2.1 .8 2.1 .7 2.1 .4 2.1-.8 2.1-1.6 2-1.8 2.1-1.9 2.1-1.7 2.1-1.6 2.1-1.4 2.1-1 2.1-.9 2-.8 2.1-.2 2.1 0 2.1 .2 2.1 .2 2.1 .3 2.1 .6 2.1 1.1 2 1.1 2.1 .9 2.1 .8 2.1 .7 2.1 .6 2.1 0 2.1 0 2 0 2.1 0 2.1 0 2.1 0 2.1 0 2.1 0 2.1 0 2.1 0 2 0 2.1 0 2.1 0 2.1 0" fill="none" stroke="#5ae6ff" stroke-width="0.85"/>
<path d="M292.2 411.1l2.1 2.3 2.1 1.7 2.1 1.5 2 .9 2.1-.1 2.1-.8 2.1-.9 2.1-.9 2.1-1.1 2.1-.8 2.1-.1 2 .5 2.1 .7 2.1 .6 2.1 .5 2.1 .5 2.1 .6 2.1 .6 2 .6 2.1 .8 2.1 .6 2.1 .7 2.1 .7 2.1 .3 2.1-.9 2.1-1.8 2-1.8 2.1-2 2.1-1.7 2.1-1.5 2.1-1.3 2.1-.9 2.1-.9 2-.6 2.1-.3 2.1 .1 2.1 .2 2.1 .2 2.1 .3 2.1 .6 2.1 1.1 2 1.1 2.1 1 2.1 .8 2.1 .8 2.1 .5 2.1 .1 2.1 0 2 0 2.1 0 2.1 0 2.1 0 2.1 0 2.1 0 2.1 0 2.1 0 2 0 2.1 0 2.1 0 2.1 0" fill="none" stroke="#55dcff" stroke-width="0.85"/>
<path d="M292.2 411l2.1 2.4 2.1 1.8 2.1 1.6 2 1 2.1-.1 2.1-.7 2.1-.9 2.1-1.1 2.1-1.3 2.1-.9 2.1 0 2 .4 2.1 .7 2.1 .6 2.1 .5 2.1 .5 2.1 .6 2.1 .6 2 .6 2.1 .8 2.1 .6 2.1 .7 2.1 .6 2.1 .1 2.1-1 2.1-1.8 2-2 2.1-2 2.1-1.7 2.1-1.4 2.1-1.2 2.1-.8 2.1-.8 2-.6 2.1-.2 2.1 .1 2.1 .2 2.1 .2 2.1 .3 2.1 .7 2.1 1.1 2 1.1 2.1 .9 2.1 .9 2.1 .8 2.1 .6 2.1 .1 2.1 0 2 0 2.1 0 2.1 0 2.1 0 2.1 0 2.1 0 2.1 0 2.1 0 2 0 2.1 0 2.1 0 2.1 0" fill="none" stroke="#51d3ff" stroke-width="0.85"/>
<path d="M292.2 410.9l2.1 2.5 2.1 1.9 2.1 1.7 2 1.1 2.1 0 2.1-.7 2.1-1 2.1-1.2 2.1-1.4 2.1-1 2.1-.1 2 .5 2.1 .6 2.1 .6 2.1 .5 2.1 .5 2.1 .6 2.1 .6 2 .7 2.1 .7 2.1 .6 2.1 .6 2.1 .6 2.1 0 2.1-1.1 2.1-2 2-2 2.1-2.1 2.1-1.7 2.1-1.3 2.1-1.1 2.1-.7 2.1-.7 2-.6 2.1-.2 2.1 .2 2.1 .2 2.1 .2 2.1 .4 2.1 .6 2.1 1.1 2 1.1 2.1 1 2.1 .9 2.1 .9 2.1 .6 2.1 .1 2.1 0 2 0 2.1 0 2.1 0 2.1 0 2.1 0 2.1 0 2.1 0 2.1 0 2 0 2.1 0 2.1 0 2.1 0" fill="none" stroke="#4dc9ff" stroke-width="0.85"/>
<path d="M292.2 410.8l2.1 2.6 2.1 2 2.1 1.8 2 1.2 2.1 0 2.1-.5 2.1-1.1 2.1-1.3 2.1-1.6 2.1-1.2 2.1 0 2 .4 2.1 .7 2.1 .6 2.1 .5 2.1 .5 2.1 .5 2.1 .6 2 .7 2.1 .6 2.1 .7 2.1 .6 2.1 .5 2.1-.2 2.1-1.2 2.1-2.1 2-2.1 2.1-2.1 2.1-1.7 2.1-1.3 2.1-.9 2.1-.6 2.1-.7 2-.5 2.1-.1 2.1 .1 2.1 .2 2.1 .3 2.1 .4 2.1 .6 2.1 1.1 2 1.1 2.1 1.1 2.1 .9 2.1 .9 2.1 .7 2.1 .1 2.1 0 2 0 2.1 0 2.1 0 2.1 0 2.1 0 2.1 0 2.1 0 2.1 0 2 0 2.1 0 2.1 0 2.1 0" fill="none" stroke="#49c0ff" stroke-width="0.85"/>
<path d="M292.2 410.7l2.1 2.7 2.1 2.1 2.1 1.9 2 1.3 2.1 .1 2.1-.5 2.1-1.1 2.1-1.5 2.1-1.7 2.1-1.3 2.1 0 2 .4 2.1 .6 2.1 .6 2.1 .5 2.1 .5 2.1 .5 2.1 .6 2 .6 2.1 .7 2.1 .6 2.1 .6 2.1 .5 2.1-.3 2.1-1.4 2.1-2.2 2-2.3 2.1-2.1 2.1-1.7 2.1-1.2 2.1-.8 2.1-.5 2.1-.6 2-.4 2.1-.1 2.1 .2 2.1 .2 2.1 .3 2.1 .4 2.1 .6 2.1 1.1 2 1.2 2.1 1 2.1 1 2.1 1 2.1 .7 2.1 .1 2.1 0 2 0 2.1 0 2.1 0 2.1 0 2.1 0 2.1 0 2.1 0 2.1 0 2 0 2.1 0 2.1 0 2.1 0" fill="none" stroke="#44b6ff" stroke-width="0.85"/>
<path d="M292.2 410.6l2.1 2.8 2.1 2.2 2.1 2.1 2 1.3 2.1 .3 2.1-.5 2.1-1.2 2.1-1.6 2.1-1.9 2.1-1.5 2.1 0 2 .4 2.1 .6 2.1 .6 2.1 .5 2.1 .5 2.1 .5 2.1 .6 2 .6 2.1 .7 2.1 .6 2.1 .5 2.1 .4 2.1-.5 2.1-1.5 2.1-2.3 2-2.4 2.1-2.2 2.1-1.7 2.1-1.1 2.1-.6 2.1-.4 2.1-.5 2-.3 2.1-.1 2.1 .2 2.1 .3 2.1 .3 2.1 .4 2.1 .6 2.1 1.1 2 1.2 2.1 1.1 2.1 1 2.1 1 2.1 .8 2.1 .1 2.1 0 2 0 2.1 0 2.1 0 2.1 0 2.1 0 2.1 0 2.1 0 2.1 0 2 0 2.1 0 2.1 0 2.1 0" fill="none" stroke="#40adff" stroke-width="0.85"/>
<path d="M292.2 410.5l2.1 2.9 2.1 2.4 2.1 2.2 2 1.5 2.1 .3 2.1-.4 2.1-1.3 2.1-1.7 2.1-2.2 2.1-1.6 2.1-.1 2 .4 2.1 .6 2.1 .6 2.1 .4 2.1 .5 2.1 .5 2.1 .6 2 .7 2.1 .6 2.1 .6 2.1 .5 2.1 .3 2.1-.7 2.1-1.7 2.1-2.4 2-2.6 2.1-2.3 2.1-1.7 2.1-.9 2.1-.4 2.1-.3 2.1-.4 2-.3 2.1 .1 2.1 .2 2.1 .3 2.1 .3 2.1 .4 2.1 .7 2.1 1 2 1.2 2.1 1.2 2.1 1.1 2.1 1 2.1 .8 2.1 .2 2.1 0 2 0 2.1 0 2.1 0 2.1 0 2.1 0 2.1 0 2.1 0 2.1 0 2 0 2.1 0 2.1 0 2.1 0" fill="none" stroke="#3ca3ff" stroke-width="0.85"/>
<path d="M292.2 410.4l2.1 3 2.1 2.6 2.1 2.3 2 1.7 2.1 .5 2.1-.3 2.1-1.4 2.1-2 2.1-2.4 2.1-1.9 2.1-.1 2 .4 2.1 .6 2.1 .5 2.1 .5 2.1 .5 2.1 .5 2.1 .5 2 .7 2.1 .6 2.1 .6 2.1 .4 2.1 .2 2.1-.9 2.1-2 2.1-2.6 2-2.8 2.1-2.4 2.1-1.6 2.1-.8 2.1-.2 2.1-.1 2.1-.3 2-.1 2.1 .1 2.1 .3 2.1 .3 2.1 .3 2.1 .5 2.1 .7 2.1 1 2 1.2 2.1 1.3 2.1 1.1 2.1 1.1 2.1 .9 2.1 .2 2.1 0 2 0 2.1 0 2.1 0 2.1 0 2.1 0 2.1 0 2.1 0 2.1 0 2 0 2.1 0 2.1 0 2.1 0" fill="none" stroke="#389aff" stroke-width="0.85"/>
<path d="M292.2 410.2l2.1 3.2 2.1 2.8 2.1 2.6 2 1.9 2.1 .7 2.1-.2 2.1-1.5 2.1-2.3 2.1-2.8 2.1-2.2 2.1-.1 2 .4 2.1 .5 2.1 .5 2.1 .5 2.1 .5 2.1 .5 2.1 .5 2 .7 2.1 .6 2.1 .5 2.1 .3 2.1 .1 2.1-1.3 2.1-2.2 2.1-2.9 2-3.1 2.1-2.4 2.1-1.7 2.1-.5 2.1 .1 2.1 .1 2.1-.1 2 0 2.1 .2 2.1 .3 2.1 .4 2.1 .4 2.1 .4 2.1 .7 2.1 1.1 2 1.2 2.1 1.3 2.1 1.3 2.1 1.2 2.1 1 2.1 .2 2.1 0 2 0 2.1 0 2.1 0 2.1 0 2.1 0 2.1 0 2.1 0 2.1 0 2 0 2.1 0 2.1 0 2.1 0" fill="none" stroke="#3490ff" stroke-width="0.85"/>
<path d="M292.2 409.9l2.1 3.5 2.1 3.1 2.1 2.9 2 2.2 2.1 .9 2.1 0 2.1-1.7 2.1-2.7 2.1-3.2 2.1-2.7 2.1 0 2 .3 2.1 .5 2.1 .5 2.1 .4 2.1 .5 2.1 .5 2.1 .5 2 .7 2.1 .6 2.1 .4 2.1 .2 2.1-.1 2.1-1.6 2.1-2.7 2.1-3.2 2-3.4 2.1-2.6 2.1-1.6 2.1-.3 2.1 .5 2.1 .4 2.1 .2 2 .1 2.1 .3 2.1 .4 2.1 .4 2.1 .5 2.1 .5 2.1 .7 2.1 1 2 1.3 2.1 1.4 2.1 1.4 2.1 1.3 2.1 1.1 2.1 .3 2.1 0 2 0 2.1 0 2.1 0 2.1 0 2.1 0 2.1 0 2.1 0 2.1 0 2 0 2.1 0 2.1 0 2.1 0" fill="none" stroke="#2f87ff" stroke-width="0.85"/>
<path d="M292.2 409.7l2.1 3.8 2.1 3.3 2.1 3.3 2 2.5 2.1 1.1 2.1 .2 2.1-2 2.1-3 2.1-3.7 2.1-3.1 2.1-.1 2 .3 2.1 .4 2.1 .5 2.1 .4 2.1 .5 2.1 .5 2.1 .5 2 .6 2.1 .6 2.1 .4 2.1 .1 2.1-.3 2.1-2.1 2.1-3.1 2.1-3.5 2-3.8 2.1-2.7 2.1-1.6 2.1 0 2.1 .9 2.1 .7 2.1 .4 2 .4 2.1 .4 2.1 .5 2.1 .4 2.1 .6 2.1 .5 2.1 .7 2.1 1 2 1.4 2.1 1.5 2.1 1.5 2.1 1.4 2.1 1.3 2.1 .3 2.1 0 2 0 2.1 0 2.1 0 2.1 0 2.1 0 2.1 0 2.1 0 2.1 0 2 0 2.1 0 2.1 0 2.1 0" fill="none" stroke="#2b7dff" stroke-width="0.85"/>
<path d="M292.2 409.4l2.1 4.1 2.1 3.7 2.1 3.6 2 2.7 2.1 1.4 2.1 .3 2.1-2.1 2.1-3.5 2.1-4.2 2.1-3.5 2.1 0 2 .2 2.1 .4 2.1 .4 2.1 .5 2.1 .4 2.1 .5 2.1 .5 2 .6 2.1 .6 2.1 .3 2.1 0 2.1-.5 2.1-2.5 2.1-3.5 2.1-3.8 2-4.2 2.1-2.8 2.1-1.7 2.1 .4 2.1 1.2 2.1 1 2.1 .7 2 .5 2.1 .6 2.1 .6 2.1 .5 2.1 .5 2.1 .6 2.1 .8 2.1 1 2 1.3 2.1 1.7 2.1 1.6 2.1 1.6 2.1 1.3 2.1 .4 2.1 0 2 0 2.1 0 2.1 0 2.1 0 2.1 0 2.1 0 2.1 0 2.1 0 2 0 2.1 0 2.1 0 2.1 0" fill="none" stroke="#2774ff" stroke-width="0.85"/>
<path d="M292.2 409.2l2.1 4.3 2.1 3.9 2.1 3.9 2 2.9 2.1 1.6 2.1 .6 2.1-2.4 2.1-3.7 2.1-4.6 2.1-3.9 2.1 0 2 .2 2.1 .3 2.1 .4 2.1 .4 2.1 .5 2.1 .5 2.1 .5 2 .5 2.1 .6 2.1 .3 2.1-.1 2.1-.6 2.1-2.9 2.1-3.8 2.1-4.2 2-4.4 2.1-3 2.1-1.6 2.1 .6 2.1 1.6 2.1 1.2 2.1 .9 2 .7 2.1 .7 2.1 .6 2.1 .5 2.1 .6 2.1 .7 2.1 .7 2.1 1 2 1.4 2.1 1.8 2.1 1.7 2.1 1.6 2.1 1.5 2.1 .4 2.1 0 2 0 2.1 0 2.1 0 2.1 0 2.1 0 2.1 0 2.1 0 2.1 0 2 0 2.1 0 2.1 0 2.1 0" fill="none" stroke="#236aff" stroke-width="0.85"/>
<path d="M292.2 409l2.1 4.5 2.1 4.1 2.1 4.1 2 3.1 2.1 1.8 2.1 .6 2.1-2.5 2.1-3.9 2.1-5 2.1-4.1 2.1 0 2 .2 2.1 .3 2.1 .4 2.1 .4 2.1 .4 2.1 .5 2.1 .5 2 .5 2.1 .6 2.1 .3 2.1-.2 2.1-.8 2.1-3.1 2.1-4.1 2.1-4.3 2-4.7 2.1-3 2.1-1.7 2.1 .8 2.1 1.8 2.1 1.5 2.1 1 2 .8 2.1 .8 2.1 .6 2.1 .6 2.1 .6 2.1 .7 2.1 .8 2.1 1 2 1.4 2.1 1.8 2.1 1.8 2.1 1.7 2.1 1.6 2.1 .4 2.1 0 2 0 2.1 0 2.1 0 2.1 0 2.1 0 2.1 0 2.1 0 2.1 0 2 0 2.1 0 2.1 0 2.1 0" fill="none" stroke="#1f61ff" stroke-width="0.85"/>
<path d="M292.2 408.9l2.1 4.6 2.1 4.3 2.1 4.2 2 3.3 2.1 1.8 2.1 .8 2.1-2.6 2.1-4.2 2.1-5.1 2.1-4.4 2.1 0 2 .2 2.1 .3 2.1 .3 2.1 .4 2.1 .5 2.1 .4 2.1 .5 2 .6 2.1 .5 2.1 .3 2.1-.3 2.1-.8 2.1-3.4 2.1-4.2 2.1-4.6 2-4.8 2.1-3.1 2.1-1.6 2.1 .9 2.1 2 2.1 1.6 2.1 1.1 2 .9 2.1 .9 2.1 .7 2.1 .6 2.1 .6 2.1 .7 2.1 .8 2.1 1 2 1.4 2.1 1.9 2.1 1.8 2.1 1.8 2.1 1.6 2.1 .5 2.1 0 2 0 2.1 0 2.1 0 2.1 0 2.1 0 2.1 0 2.1 0 2.1 0 2 0 2.1 0 2.1 0 2.1 0" fill="none" stroke="#1a57ff" stroke-width="0.85"/>
<path d="M292.2 408.8l2.1 4.7 2.1 4.4 2.1 4.4 2 3.4 2.1 1.9 2.1 .8 2.1-2.6 2.1-4.4 2.1-5.3 2.1-4.6 2.1 0 2 .2 2.1 .3 2.1 .3 2.1 .4 2.1 .5 2.1 .4 2.1 .5 2 .6 2.1 .5 2.1 .2 2.1-.3 2.1-.9 2.1-3.5 2.1-4.4 2.1-4.7 2-5 2.1-3.1 2.1-1.6 2.1 1 2.1 2.2 2.1 1.7 2.1 1.2 2 1 2.1 .8 2.1 .8 2.1 .6 2.1 .7 2.1 .7 2.1 .8 2.1 .9 2 1.5 2.1 1.9 2.1 1.9 2.1 1.9 2.1 1.6 2.1 .5 2.1 0 2 0 2.1 0 2.1 0 2.1 0 2.1 0 2.1 0 2.1 0 2.1 0 2 0 2.1 0 2.1 0 2.1 0" fill="none" stroke="#164eff" stroke-width="0.85"/>
<path d="M292.2 408.7l2.1 4.8 2.1 4.5 2.1 4.5 2 3.5 2.1 2 2.1 .9 2.1-2.7 2.1-4.5 2.1-5.5 2.1-4.7 2.1 0 2 .1 2.1 .3 2.1 .3 2.1 .4 2.1 .5 2.1 .4 2.1 .5 2 .5 2.1 .5 2.1 .3 2.1-.4 2.1-.9 2.1-3.7 2.1-4.6 2.1-4.7 2-5.1 2.1-3.3 2.1-1.5 2.1 1.1 2.1 2.3 2.1 1.8 2.1 1.3 2 1 2.1 1 2.1 .7 2.1 .7 2.1 .7 2.1 .7 2.1 .8 2.1 .9 2 1.5 2.1 2 2.1 1.9 2.1 1.9 2.1 1.7 2.1 .5 2.1 0 2 0 2.1 0 2.1 0 2.1 0 2.1 0 2.1 0 2.1 0 2.1 0 2 0 2.1 0 2.1 0 2.1 0" fill="none" stroke="#1244ff" stroke-width="0.85"/>
<path d="M292.2 408.6l2.1 4.9 2.1 4.6 2.1 4.6 2 3.6 2.1 2.1 2.1 .9 2.1-2.8 2.1-4.6 2.1-5.6 2.1-4.9 2.1 0 2 .2 2.1 .2 2.1 .3 2.1 .4 2.1 .5 2.1 .4 2.1 .5 2 .5 2.1 .5 2.1 .3 2.1-.4 2.1-1 2.1-3.9 2.1-4.7 2.1-4.8 2-5.2 2.1-3.3 2.1-1.6 2.1 1.2 2.1 2.4 2.1 2 2.1 1.3 2 1.1 2.1 1 2.1 .8 2.1 .7 2.1 .7 2.1 .7 2.1 .8 2.1 1 2 1.4 2.1 2.1 2.1 1.9 2.1 1.9 2.1 1.8 2.1 .5 2.1 0 2 0 2.1 0 2.1 0 2.1 0 2.1 0 2.1 0 2.1 0 2.1 0 2 0 2.1 0 2.1 0 2.1 0" fill="none" stroke="#0e3bff" stroke-width="0.85"/>
<path d="M292.2 408.5l2.1 5 2.1 4.7 2.1 4.7 2 3.7 2.1 2.2 2.1 .9 2.1-2.8 2.1-4.7 2.1-5.9 2.1-4.9 2.1 0 2 .1 2.1 .2 2.1 .4 2.1 .3 2.1 .5 2.1 .4 2.1 .5 2 .5 2.1 .5 2.1 .2 2.1-.4 2.1-1 2.1-4 2.1-4.8 2.1-5 2-5.3 2.1-3.3 2.1-1.6 2.1 1.3 2.1 2.5 2.1 2 2.1 1.5 2 1.2 2.1 1 2.1 .8 2.1 .7 2.1 .7 2.1 .7 2.1 .8 2.1 1 2 1.5 2.1 2 2.1 2 2.1 2 2.1 1.8 2.1 .5 2.1 0 2 0 2.1 0 2.1 0 2.1 0 2.1 0 2.1 0 2.1 0 2.1 0 2 0 2.1 0 2.1 0 2.1 0" fill="none" stroke="#0a32ff" stroke-width="1.7"/>
</svg>
<line x1="292.2" y1="413.56" x2="417.4" y2="413.56" stroke="#444" stroke-width="0.8" stroke-dasharray="1.2 1.3"/>
<rect x="292.2" y="376.4" width="125.2" height="83.6" fill="none" stroke="#5a5a5a" stroke-width="1"/>
<path d="M292.2 460v1.6M292.2 376.4v1.6M313.07 460v1.6M313.07 376.4v1.6M333.93 460v1.6M333.93 376.4v1.6M354.8 460v1.6M354.8 376.4v1.6M375.67 460v1.6M375.67 376.4v1.6M396.53 460v1.6M396.53 376.4v1.6M417.4 460v1.6M417.4 376.4v1.6" stroke="#5a5a5a" stroke-width="0.8"/>
<path d="M290.6 450.71h1.6M415.8 450.71h1.6M290.6 432.13h1.6M415.8 432.13h1.6M290.6 413.56h1.6M415.8 413.56h1.6M290.6 394.98h1.6M415.8 394.98h1.6M290.6 376.4h1.6M415.8 376.4h1.6" stroke="#5a5a5a" stroke-width="0.8"/>
<text x="295.4" y="468.9" font-size="7.2" text-anchor="middle" fill="#000">200</text>
<text x="313.07" y="468.9" font-size="7.2" text-anchor="middle" fill="#000">220</text>
<text x="333.93" y="468.9" font-size="7.2" text-anchor="middle" fill="#000">240</text>
<text x="354.8" y="468.9" font-size="7.2" text-anchor="middle" fill="#000">260</text>
<text x="375.67" y="468.9" font-size="7.2" text-anchor="middle" fill="#000">280</text>
<text x="396.53" y="468.9" font-size="7.2" text-anchor="middle" fill="#000">300</text>
<text x="413" y="468.9" font-size="7.2" text-anchor="middle" fill="#000">320</text>
<text x="358.7" y="477.4" font-size="7.2" text-anchor="middle" fill="#000">Wavelength (nm)</text>
<text x="295.8" y="387" font-size="10.3" text-anchor="start" fill="#222">17%</text>
<path d="M422.5 355l.3-.3 .3-.2 .3-.3 .3-.2 .3-.2 .3-.2 .3-.3 .3-.2 .3-.1 .3-.2 .3-.2 .3-.2 .3-.1 .3-.2 .3-.1 .3-.1 .3-.2 .3-.1 .3-.1 .3-.1 .3-.2 1.1-.3 1.1-.4 1.1-.3 1.2-.2 1.1-.2 1.1-.2 1.1-.2 1.1-.1 1.1-.2 1.1-.1 1.1-.1 1.2-.1 1.1-.1 1.1-.1 1.1-.1 1.1-.1 1.1-.1 1.1 0 1.2-.1 1.1-.1 1.1 0 1.1-.1 1.1-.1 1.1 0 1.1-.1 1.2 0 1.1-.1 1.1 0 1.1-.1 1.1 0 1.1-.1 1.1 0 1.1-.1 1.2 0 1.1-.1 1.1 0 1.1 0 1.1-.1 1.1 0 1.1-.1 1.2 0 1.1 0 1.1-.1 1.1 0 1.1 0 1.1-.1 1.1 0 1.2 0 1.1-.1 1.1 0 1.1 0 1.1-.1 1.1 0 1.1 0 1.1-.1 1.2 0 1.1 0 1.1 0 1.1-.1 .3 .3 .5 .4 .4 .4 .5 .3 .4 .3 .5 .3 .4 .2 .5 .2 .5 .2 .4 .1 .5 .2 .4 .1 .5 .1 .5 .1 .4 .1 .5 .1 .4 .1 .5 0 .4 .1 .5 .1 .6 0 1.1 .2 1.2 .1 1.1 0 1.2 .1 1.1 .1 1.1 .1 1.2 0 1.1 .1 1.1 0 1.2 .1 1.1 0 1.2 .1 1.1 .1 1.1 0 1.2 .1 1.1 0 1.2 .1 1.1 0 1.1 .1 1.2 0 1.1 .1 1.1 0 1.2 .1 1.1 0 1.2 .1 1.1 0 1.1 .1 1.2 0 1.1 .1 1.2 0 1.1 .1 1.1 0 1.2 .1 1.1 0 1.1 .1 1.2 0 1.1 .1 1.2 0 1.1 .1" fill="none" stroke="#111" stroke-width="0.8"/>
<path d="M422.5 355l.3-1 .3-.9 .3-.8 .3-.7 .3-.6 .3-.5 .3-.5 .3-.5 .3-.3 .3-.4 .3-.3 .3-.3 .3-.2 .3-.2 .3-.2 .3-.2 .3-.1 .3-.2 .3-.1 .3-.1 .3-.1 1.1-.3 1.1-.2 1.1-.2 1.2-.1 1.1-.1 1.1-.1 1.1-.1 1.1-.1 1.1 0 1.1-.1 1.1-.1 1.2 0 1.1-.1 1.1-.1 1.1 0 1.1-.1 1.1 0 1.1-.1 1.2 0 1.1-.1 1.1 0 1.1-.1 1.1 0 1.1-.1 1.1 0 1.2-.1 1.1 0 1.1-.1 1.1 0 1.1 0 1.1-.1 1.1 0 1.1-.1 1.2 0 1.1 0 1.1-.1 1.1 0 1.1-.1 1.1 0 1.1 0 1.2-.1 1.1 0 1.1 0 1.1-.1 1.1 0 1.1 0 1.1-.1 1.2 0 1.1 0 1.1 0 1.1-.1 1.1 0 1.1 0 1.1 0 1.1-.1 1.2 0 1.1 0 1.1 0 1.1-.1 .3 .3 .5 .5 .4 .3 .5 .4 .4 .3 .5 .3 .4 .2 .5 .2 .5 .2 .4 .2 .5 .1 .4 .2 .5 .1 .5 .1 .4 .1 .5 .1 .4 .1 .5 .1 .4 .1 .5 0 .6 .1 1.1 .2 1.2 .1 1.1 .1 1.2 .1 1.1 .1 1.1 .1 1.2 .1 1.1 0 1.1 .1 1.2 .1 1.1 .1 1.2 .1 1.1 0 1.1 .1 1.2 .1 1.1 .1 1.2 0 1.1 .1 1.1 .1 1.2 .1 1.1 0 1.1 .1 1.2 .1 1.1 0 1.2 .1 1.1 .1 1.1 .1 1.2 0 1.1 .1 1.2 .1 1.1 .1 1.1 0 1.2 .1 1.1 .1 1.1 .1 1.2 0 1.1 .1 1.2 .1 1.1 .1" fill="none" stroke="#111" stroke-width="0.8"/>
<path d="M422.5 355l.3-.5 .3-.5 .3-.4 .3-.4 .3-.4 .3-.4 .3-.4 .3-.3 .3-.3 .3-.3 .3-.3 .3-.2 .3-.3 .3-.2 .3-.2 .3-.2 .3-.2 .3-.2 .3-.2 .3-.2 .3-.1 1.1-.6 1.1-.4 1.1-.4 1.2-.3 1.1-.2 1.1-.2 1.1-.2 1.1-.2 1.1-.1 1.1-.1 1.1-.2 1.2-.1 1.1-.1 1.1-.1 1.1 0 1.1-.1 1.1-.1 1.1-.1 1.2 0 1.1-.1 1.1-.1 1.1 0 1.1-.1 1.1-.1 1.1 0 1.2-.1 1.1 0 1.1-.1 1.1 0 1.1-.1 1.1 0 1.1-.1 1.1 0 1.2-.1 1.1 0 1.1-.1 1.1 0 1.1 0 1.1-.1 1.1 0 1.2-.1 1.1 0 1.1 0 1.1-.1 1.1 0 1.1-.1 1.1 0 1.2 0 1.1-.1 1.1 0 1.1 0 1.1-.1 1.1 0 1.1 0 1.1-.1 1.2 0 1.1 0 1.1 0 1.1-.1 .3 .5 .5 .7 .4 .6 .5 .5 .4 .5 .5 .4 .4 .4 .5 .3 .5 .3 .4 .3 .5 .2 .4 .3 .5 .1 .5 .2 .4 .2 .5 .1 .4 .1 .5 .1 .4 .1 .5 .1 .6 .1 1.1 .2 1.2 .2 1.1 .1 1.2 .1 1.1 .1 1.1 .1 1.2 .1 1.1 0 1.1 .1 1.2 .1 1.1 .1 1.2 0 1.1 .1 1.1 .1 1.2 0 1.1 .1 1.2 .1 1.1 0 1.1 .1 1.2 .1 1.1 0 1.1 .1 1.2 .1 1.1 0 1.2 .1 1.1 .1 1.1 0 1.2 .1 1.1 .1 1.2 0 1.1 .1 1.1 0 1.2 .1 1.1 .1 1.1 0 1.2 .1 1.1 .1 1.2 0 1.1 .1" fill="none" stroke="#111" stroke-width="0.8"/>
<path d="M422.5 355l.3-2.2 .3-1.9 .3-1.8 .3-1.5 .3-1.4 .3-1.2 .3-1.1 .3-.9 .3-.9 .3-.7 .3-.7 .3-.6 .3-.5 .3-.5 .3-.5 .3-.4 .3-.3 .3-.3 .3-.3 .3-.3 .3-.2 1.1-.7 1.1-.6 1.1-.4 1.2-.3 1.1-.3 1.1-.3 1.1-.2 1.1-.3 1.1-.2 1.1-.2 1.1-.2 1.2-.2 1.1-.2 1.1-.1 1.1-.2 1.1-.2 1.1-.2 1.1-.1 1.2-.2 1.1-.2 1.1-.1 1.1-.2 1.1-.1 1.1-.2 1.1-.1 1.2-.2 1.1-.1 1.1-.2 1.1-.1 1.1-.1 1.1-.2 1.1-.1 1.1-.1 1.2-.2 1.1-.1 1.1-.1 1.1-.1 1.1-.1 1.1-.1 1.1-.1 1.2-.2 1.1-.1 1.1-.1 1.1-.1 1.1-.1 1.1-.1 1.1-.1 1.2 0 1.1-.1 1.1-.1 1.1-.1 1.1-.1 1.1-.1 1.1-.1 1.1 0 1.2-.1 1.1-.1 1.1-.1 1.1-.1 .3 1.3 .5 1.7 .4 1.4 .5 1.3 .4 1 .5 1 .4 .8 .5 .6 .5 .6 .4 .5 .5 .5 .4 .4 .5 .3 .5 .3 .4 .2 .5 .2 .4 .2 .5 .2 .4 .1 .5 .2 .6 .1 1.1 .2 1.2 .2 1.1 .1 1.2 .1 1.1 .1 1.1 0 1.2 .1 1.1 .1 1.1 0 1.2 .1 1.1 0 1.2 .1 1.1 0 1.1 .1 1.2 0 1.1 0 1.2 .1 1.1 0 1.1 .1 1.2 0 1.1 .1 1.1 0 1.2 .1 1.1 0 1.2 .1 1.1 0 1.1 0 1.2 .1 1.1 0 1.2 .1 1.1 0 1.1 .1 1.2 0 1.1 .1 1.1 0 1.2 .1 1.1 0 1.2 0 1.1 .1" fill="none" stroke="#111" stroke-width="0.8"/>
<path d="M422.5 355l.3-2.6 .3-2.2 .3-2 .3-1.8 .3-1.6 .3-1.4 .3-1.3 .3-1.1 .3-1 .3-.9 .3-.8 .3-.7 .3-.7 .3-.5 .3-.5 .3-.5 .3-.4 .3-.4 .3-.4 .3-.3 .3-.3 1.1-.9 1.1-.7 1.1-.5 1.2-.5 1.1-.4 1.1-.3 1.1-.3 1.1-.4 1.1-.3 1.1-.2 1.1-.3 1.2-.3 1.1-.3 1.1-.2 1.1-.3 1.1-.2 1.1-.3 1.1-.2 1.2-.2 1.1-.3 1.1-.2 1.1-.2 1.1-.2 1.1-.3 1.1-.2 1.2-.2 1.1-.2 1.1-.2 1.1-.2 1.1-.1 1.1-.2 1.1-.2 1.1-.2 1.2-.2 1.1-.1 1.1-.2 1.1-.2 1.1-.1 1.1-.2 1.1-.2 1.2-.1 1.1-.2 1.1-.1 1.1-.1 1.1-.2 1.1-.1 1.1-.2 1.2-.1 1.1-.1 1.1-.1 1.1-.2 1.1-.1 1.1-.1 1.1-.1 1.1-.1 1.2-.2 1.1-.1 1.1-.1 1.1-.1 .3 1.6 .5 2.1 .4 1.9 .5 1.6 .4 1.5 .5 1.3 .4 1.1 .5 1 .5 .9 .4 .8 .5 .8 .4 .6 .5 .5 .5 .5 .4 .5 .5 .4 .4 .3 .5 .3 .4 .3 .5 .3 .6 .3 1.1 .4 1.2 .4 1.1 .3 1.2 .3 1.1 .2 1.1 .2 1.2 .1 1.1 .2 1.1 .1 1.2 .1 1.1 .2 1.2 .1 1.1 .1 1.1 .1 1.2 .1 1.1 .1 1.2 .2 1.1 .1 1.1 .1 1.2 .1 1.1 .1 1.1 .1 1.2 .1 1.1 .1 1.2 .1 1.1 .1 1.1 .2 1.2 .1 1.1 .1 1.2 .1 1.1 .1 1.1 .1 1.2 .1 1.1 .1 1.1 .1 1.2 .1 1.1 .2 1.2 .1 1.1 .1" fill="none" stroke="#111" stroke-width="0.8"/>
<path d="M422.5 355l.3-3.3 .3-3.1 .3-2.7 .3-2.5 .3-2.3 .3-2.1 .3-1.9 .3-1.7 .3-1.6 .3-1.4 .3-1.3 .3-1.2 .3-1.1 .3-1 .3-.9 .3-.9 .3-.8 .3-.7 .3-.6 .3-.7 .3-.5 1.1-1.8 1.1-1.3 1.1-1.1 1.2-.9 1.1-.7 1.1-.6 1.1-.6 1.1-.5 1.1-.4 1.1-.5 1.1-.4 1.2-.4 1.1-.4 1.1-.3 1.1-.4 1.1-.3 1.1-.4 1.1-.3 1.2-.3 1.1-.3 1.1-.3 1.1-.3 1.1-.3 1.1-.3 1.1-.2 1.2-.3 1.1-.3 1.1-.2 1.1-.3 1.1-.2 1.1-.2 1.1-.3 1.1-.2 1.2-.2 1.1-.2 1.1-.2 1.1-.2 1.1-.2 1.1-.2 1.1-.2 1.2-.2 1.1-.2 1.1-.2 1.1-.1 1.1-.2 1.1-.2 1.1-.1 1.2-.2 1.1-.1 1.1-.2 1.1-.1 1.1-.1 1.1-.2 1.1-.1 1.1-.1 1.2-.2 1.1-.1 1.1-.1 1.1-.1 .3 2.3 .5 3.3 .4 2.8 .5 2.5 .4 2.3 .5 1.9 .4 1.8 .5 1.5 .5 1.4 .4 1.2 .5 1.1 .4 .9 .5 .9 .5 .7 .4 .7 .5 .6 .4 .5 .5 .5 .4 .4 .5 .4 .6 .5 1.1 .7 1.2 .5 1.1 .5 1.2 .3 1.1 .3 1.1 .3 1.2 .2 1.1 .2 1.1 .2 1.2 .2 1.1 .2 1.2 .2 1.1 .1 1.1 .2 1.2 .2 1.1 .1 1.2 .2 1.1 .1 1.1 .2 1.2 .2 1.1 .1 1.1 .2 1.2 .1 1.1 .2 1.2 .1 1.1 .2 1.1 .1 1.2 .2 1.1 .1 1.2 .2 1.1 .2 1.1 .1 1.2 .2 1.1 .1 1.1 .2 1.2 .1 1.1 .2 1.2 .1 1.1 .2" fill="none" stroke="#111" stroke-width="0.8"/>
<path d="M422.5 354.6l.7-.5 .7-.8 .8-1.3 .7-.6 .7-.8 .7 .5 .7-.4 .8-.2 .7 .2 .7-.5 .7 .5 .7-.4 .8 .2 .7-.6 .7-.3 .7-.2 .7-.5 .8 .4 .7 .5 .7 .1 .7-.1 .7-.9 .8-1.3 .7 .2 .7 .1 .7 .7 .7 .2 .8 .1 .7-.2 .7-.1 .7-.2 .7-.1 .8 .4 .7-.4 .7 0 .7 .3 .7-.4 .8 .2 .7 .2 .7-.1 .7-.1 .7 .3 .8-.3 .7-.2 .7 .1 .7-.8 .7-.1 .8 .1 .7 .1 .7 .7 .7-.2 .7-.6 .8-.6 .7 .1 .7 .1 .7 0 .7 .2 .8 .1 .7 0 .7 0 .7 0 .7-.5 .8-.2 .7-.4 .7 .1 .7 0 .7 .4 .8-.5 .7 .3 .7-.4 .7 0 .7 .1 .8 .4 .7 .3 .7-.6 .7-.1 .7-.2 .8 .5 .7 .4 .7 .1 .7-.1 .7 .3 .8-.7 .7-.4 .7 .7 .7-.3 .7 .1 .8-.5 .7-.2 .7-.2 .7-.2 .7 .1 .8 0 .7-.1 .7-.5 .7-.3 .7-.3 .8 .3 .7 .3 .7 .9 .7 .4 .7 .3 .8 .7 .7 .8 .7 0 .7 .8 .7 .7 .8-.8 .7-.3 .7 .1 .7 0 .7 .4 .8 .6 .7 .8 .7-.2 .7-.4 .7 0 .8 .8 .7 0 .7-.4 .7 .3 .7 0 .8-.2 .7 0 .7 .3 .7 .4 .7-.5 .8 .4 .7-.3 .7 .1 .7-.2 .7-.1 .8 .3 .7-.2 .7 0 .7 .1 .7-.6 .8 0 .7-.3 .7 .2 .7 .4 .7-.2 .8 .1 .7-.1 .7-.1 .7-.1 .7 .6 .8 .2 .7 .4 .7-.5 .7-.3 .7 .3 .8 .4 .7 .5 .7 .2 .7-.2 .7 0 .8-.2 .7-.7 .7 .2 .7-.7 .7 .9 .8-.3 .7 .6 .7 .1 .7 .6 .7-.2 .8-.3 .7-.1 .7-.2 .7 0 .7 .8 .8-.1 .7 .2 .7-.1" fill="none" stroke="#a07a4a" stroke-width="1.2" stroke-linejoin="round"/>
<path d="M422.5 354.6l.7-1.6 .7-1.6 .8-1 .7-1.7 .7-1.4 .7-1.3 .7-.7 .8-.4 .7 .3 .7 .1 .7-.2 .7-.1 .8-.2 .7 .6 .7 .6 .7 0 .7-.4 .8 .2 .7-.3 .7 .1 .7-.2 .7-.1 .8 0 .7-.3 .7-.2 .7 .3 .7 .4 .8 .1 .7 .2 .7-.2 .7-.4 .7 .4 .8-.4 .7 .3 .7-.3 .7 .1 .7-.2 .8-.9 .7 .2 .7 .1 .7 .2 .7 0 .8-.4 .7 .6 .7 0 .7 .3 .7-.2 .8 .1 .7 .1 .7-.2 .7-.6 .7-.8 .8 .2 .7 0 .7 .2 .7-.7 .7 .2 .8 .1 .7 0 .7 .4 .7-.1 .7-.1 .8-.1 .7 0 .7-.2 .7-.4 .7 0 .8 .6 .7-.4 .7-.1 .7 .4 .7-.2 .8 .3 .7-.8 .7 .2 .7 .2 .7 .1 .8-.4 .7 .7 .7 .1 .7-.5 .7-.4 .8-.7 .7 .6 .7 .4 .7 0 .7-.1 .8-.1 .7-.1 .7 .6 .7-.2 .7-.2 .8-.3 .7 .2 .7 .3 .7 .3 .7-.2 .8 .1 .7-.3 .7 .7 .7 .3 .7 1.1 .8 .1 .7 .2 .7-.2 .7-.1 .7-.2 .8 .2 .7 .6 .7 .1 .7 .4 .7 .3 .8-.2 .7 .1 .7 0 .7 .2 .7 .4 .8 .1 .7 .2 .7-.7 .7-.1 .7 .4 .8 .8 .7 .4 .7-.3 .7-.1 .7 0 .8 .4 .7-.1 .7-.7 .7 .3 .7-.2 .8 .3 .7 .6 .7-.2 .7 .4 .7 .1 .8 .1 .7-.3 .7-.5 .7 .1 .7 0 .8 .5 .7-.1 .7-.1 .7 .3 .7 .3 .8-.1 .7 .1 .7-.1 .7-.4 .7-.4 .8-.3 .7 .8 .7-.1 .7-.2 .7 .4 .8-.3 .7 1 .7-.6 .7 .5 .7 .6 .8-.4 .7 .1 .7 .1 .7-.2 .7 0 .8 .1 .7 0 .7-.3 .7-.4 .7 .2 .8 .3 .7 .5 .7 .5" fill="none" stroke="#cc44ee" stroke-width="1.2" stroke-linejoin="round"/>
<path d="M422.5 354.6l.7-2.3 .7-.2 .8 .1 .7-.2 .7-1 .7-.2 .7-1.1 .8-.2 .7-.9 .7-.9 .7-.2 .7-.2 .8-.6 .7-.3 .7 .1 .7 0 .7-.1 .8-.2 .7 .2 .7-.6 .7-.3 .7 .1 .8 .2 .7-.5 .7 .4 .7-.2 .7 .1 .8 .9 .7-.6 .7-.2 .7-.1 .7 .2 .8-.1 .7 .3 .7-.3 .7 .1 .7 .4 .8 .3 .7-.2 .7-.5 .7-.7 .7-.6 .8-.6 .7-.2 .7 0 .7-.7 .7 0 .8 1 .7 0 .7-.2 .7-.1 .7 .3 .8 .1 .7 .5 .7-.2 .7-.1 .7 .1 .8-.6 .7-.1 .7-.3 .7 .3 .7-.1 .8 .7 .7-.5 .7 .3 .7-.6 .7-.2 .8 .5 .7-.3 .7 0 .7-1 .7 .3 .8 .7 .7 .3 .7 .1 .7-.4 .7-.1 .8 .1 .7-.3 .7 .1 .7 .6 .7 .3 .8-.4 .7 0 .7-.3 .7 .1 .7-.4 .8-.4 .7 .3 .7 0 .7-.4 .7 .4 .8-.3 .7 .2 .7 .1 .7-.1 .7 .1 .8-.1 .7-1 .7 .2 .7 .8 .7 1.3 .8 1.1 .7 .8 .7 .8 .7 1.1 .7 0 .8 .9 .7-.1 .7-.3 .7 .6 .7-.5 .8 0 .7-.4 .7 .4 .7 .6 .7 .8 .8 .3 .7-.2 .7 .4 .7-.3 .7-.5 .8-.1 .7-.2 .7-.1 .7 0 .7 .6 .8 .3 .7 .3 .7-.2 .7 .5 .7 .1 .8-.6 .7 .1 .7 .2 .7 .4 .7-.8 .8 .3 .7 .3 .7 .6 .7-.4 .7 .1 .8-.6 .7 .2 .7 .3 .7 0 .7 .5 .8-.2 .7 0 .7-.6 .7-.3 .7 .1 .8 .5 .7 .5 .7 .1 .7 .4 .7 0 .8 .1 .7 .5 .7-.4 .7-.3 .7 .4 .8-.1 .7-.1 .7 0 .7 0 .7-.6 .8 0 .7 .3 .7 .2 .7 .1 .7-.1 .8-.4 .7 0 .7 0" fill="none" stroke="#ff2e1f" stroke-width="1.2" stroke-linejoin="round"/>
<path d="M422.5 354.6l.7-4.1 .7-3.6 .8-2.6 .7-1.9 .7-1.4 .7-2 .7-1.5 .8-1 .7-.6 .7 .4 .7-.3 .7-.2 .8-.7 .7-.2 .7-.6 .7-.3 .7 .5 .8-.1 .7 .4 .7-.5 .7-.8 .7-1 .8-.7 .7-.6 .7 .2 .7 .1 .7 0 .8-.1 .7-.1 .7 .4 .7 .4 .7 0 .8 0 .7-.1 .7-.2 .7-.1 .7-.8 .8-.6 .7 .1 .7 .6 .7-.5 .7 .1 .8-1 .7 .3 .7 .4 .7-.4 .7 .3 .8-.3 .7 0 .7 .2 .7-.3 .7 .4 .8-.6 .7 .1 .7-.2 .7-.2 .7-1 .8-.3 .7 .4 .7-.4 .7 .5 .7 .1 .8-.1 .7-.1 .7-.3 .7 .4 .7 .3 .8-.9 .7 .1 .7 .5 .7 0 .7 .2 .8-.1 .7-.2 .7-.1 .7 .1 .7-.2 .8-.4 .7 0 .7-.7 .7 .5 .7-.5 .8 0 .7-.1 .7-.4 .7 .5 .7 .5 .8-.1 .7-.6 .7 0 .7-.9 .7-.1 .8 .3 .7-.2 .7 .1 .7 .2 .7 .1 .8-.4 .7-.1 .7 .1 .7 2.1 .7 1.9 .8 1.9 .7 2 .7 1.1 .7 1.2 .7 .8 .8 .2 .7 .8 .7 0 .7-.2 .7 .2 .8 .3 .7 .3 .7 .5 .7-.3 .7 .4 .8 0 .7 .6 .7-.2 .7 .3 .7-.2 .8 .4 .7 .2 .7-.2 .7 0 .7 0 .8 .2 .7 0 .7-.3 .7-.1 .7 .1 .8 .1 .7 .7 .7-.3 .7 .7 .7-.3 .8-.8 .7 .1 .7-.6 .7 .1 .7 .4 .8 .2 .7-.2 .7 .3 .7-.6 .7 .5 .8 .4 .7 .1 .7-.2 .7-.2 .7 .7 .8-.1 .7 .1 .7-.8 .7-.1 .7-.4 .8 .6 .7 0 .7-.1 .7-.3 .7 .7 .8-.2 .7 .4 .7 .2 .7-.3 .7-.6 .8-.1 .7 .8 .7-.1 .7-.4 .7 .4 .8-.1 .7 .3 .7-.1" fill="none" stroke="#1fd21f" stroke-width="1.2" stroke-linejoin="round"/>
<path d="M422.5 354.6l.7-4.9 .7-4 .8-2.9 .7-2.5 .7-1.8 .7-2.5 .7-.9 .8-1.2 .7-.7 .7-1 .7 0 .7-.7 .8-.6 .7-.5 .7-.1 .7-.2 .7 0 .8-.9 .7-.2 .7-.1 .7-.2 .7 0 .8-.2 .7-.6 .7-.1 .7 .5 .7-.3 .8 .1 .7-.6 .7-.4 .7-.6 .7-.4 .8-.4 .7 .1 .7-.8 .7 .3 .7 1 .8 .3 .7 .6 .7-.8 .7-.5 .7 .4 .8-.3 .7 0 .7-.2 .7 .3 .7-.7 .8-.4 .7-.6 .7 0 .7-.3 .7 0 .8-.5 .7-.7 .7 .1 .7-.1 .7 .3 .8-.2 .7 .1 .7-.2 .7 .4 .7 .7 .8-.2 .7-.4 .7-.3 .7-.8 .7-.6 .8-.1 .7-.1 .7-.2 .7 .7 .7 0 .8 .5 .7-.5 .7-.8 .7-1 .7 0 .8 .3 .7 .2 .7 .3 .7-.3 .7 .7 .8-.5 .7-.5 .7-.5 .7-1 .7 .8 .8-.7 .7 .7 .7-.5 .7-.7 .7 1 .8 .1 .7-.3 .7 .5 .7 0 .7-.6 .8-.1 .7-.3 .7-.2 .7 4 .7 3 .8 2.5 .7 1.8 .7 1.9 .7 .9 .7 1.5 .8 1.3 .7 .6 .7 .2 .7 .4 .7 .5 .8 .3 .7 .4 .7 .3 .7 .7 .7 .1 .8-.2 .7-.2 .7 .1 .7 0 .7-.2 .8 .6 .7 .1 .7 .3 .7-.4 .7 .3 .8-.2 .7 .4 .7-.3 .7 .4 .7 .5 .8 .9 .7-.7 .7 0 .7-.2 .7-.1 .8 .2 .7 .5 .7 .9 .7-.4 .7-.1 .8-.1 .7-.4 .7-.3 .7 1.1 .7 .9 .8-.1 .7 .3 .7-.6 .7-.2 .7-.3 .8-.5 .7-.1 .7 .6 .7 .2 .7-.1 .8-.2 .7-.3 .7 .1 .7 0 .7 .1 .8 .4 .7-.3 .7 .1 .7 .3 .7 .2 .8 .4 .7 .2 .7 .1 .7 .1 .7 .2 .8-.2 .7 .3 .7 .3" fill="none" stroke="#ff9426" stroke-width="1.2" stroke-linejoin="round"/>
<path d="M422.5 354.6l.7-7.8 .7-6.5 .8-4.9 .7-4.1 .7-3.4 .7-1.9 .7-1.6 .8-2.2 .7-1.7 .7-1.3 .7-1 .7-.6 .8-.6 .7-.4 .7-.1 .7-.6 .7-.8 .8-.5 .7-.7 .7 .3 .7 .3 .7-.5 .8 0 .7 .3 .7-.2 .7-.8 .7-.4 .8 .2 .7-.3 .7-.1 .7-.3 .7-.5 .8-.8 .7-.1 .7 .1 .7 .5 .7-1 .8 .4 .7-.4 .7 0 .7-.5 .7 .1 .8-.8 .7-.5 .7-.6 .7 .3 .7-.4 .8-.2 .7-.5 .7 .7 .7-.7 .7-.3 .8-.4 .7 0 .7 .2 .7-.1 .7 0 .8 0 .7-.4 .7 .2 .7-.2 .7 .4 .8 .1 .7-.2 .7-.3 .7-.5 .7-.7 .8 .3 .7-.9 .7 0 .7-.1 .7 .2 .8-.5 .7-.2 .7 0 .7 .4 .7 0 .8-.2 .7-.5 .7-.3 .7-.3 .7-.5 .8-.1 .7 .3 .7 .6 .7 0 .7 .2 .8-.4 .7-.5 .7 .2 .7-.1 .7 .4 .8-.8 .7-.3 .7-.4 .7-.4 .7 .1 .8 .5 .7-.1 .7 .6 .7 4.9 .7 3.8 .8 3.8 .7 2.7 .7 2.6 .7 1.7 .7 2 .8 1.6 .7 .6 .7 .8 .7 .9 .7 .2 .8 1 .7 .3 .7 1.2 .7 1.3 .7 .4 .8 .3 .7-.4 .7-.2 .7-.2 .7 .2 .8 .3 .7-.3 .7-.7 .7 0 .7 .5 .8 .4 .7 .4 .7 .3 .7 .6 .7-.3 .8 .7 .7 .1 .7 .8 .7-.5 .7-.2 .8 .9 .7-1 .7-.1 .7 0 .7 .2 .8-.3 .7 .6 .7 0 .7 .3 .7 .5 .8 .1 .7 .7 .7-.4 .7 .2 .7-.5 .8 0 .7-.5 .7 .9 .7 .1 .7-.3 .8 .1 .7-.1 .7 .4 .7 .4 .7 .1 .8 .8 .7 .1 .7 0 .7-.1 .7-.2 .8-.6 .7-.3 .7-.4 .7 .4 .7 .4 .8-.1 .7-.6 .7-.2" fill="none" stroke="#2850f0" stroke-width="1.2" stroke-linejoin="round"/>
<rect x="422.5" y="271" width="126" height="83.6" fill="none" stroke="#5a5a5a" stroke-width="1"/>
<path d="M422.5 354.6v1.6M422.5 271v1.6M440.5 354.6v1.6M440.5 271v1.6M458.5 354.6v1.6M458.5 271v1.6M476.5 354.6v1.6M476.5 271v1.6M494.5 354.6v1.6M494.5 271v1.6M512.5 354.6v1.6M512.5 271v1.6M530.5 354.6v1.6M530.5 271v1.6M548.5 354.6v1.6M548.5 271v1.6" stroke="#5a5a5a" stroke-width="0.8"/>
<path d="M420.9 354.6h1.6M546.9 354.6h1.6M420.9 326.73h1.6M546.9 326.73h1.6M420.9 298.87h1.6M546.9 298.87h1.6M420.9 271h1.6M546.9 271h1.6" stroke="#5a5a5a" stroke-width="0.8"/>
<text x="423.7" y="363.8" font-size="7.1" text-anchor="middle" fill="#000">0</text>
<text x="440.5" y="363.8" font-size="7.1" text-anchor="middle" fill="#000">30</text>
<text x="458.5" y="363.8" font-size="7.1" text-anchor="middle" fill="#000">60</text>
<text x="476.5" y="363.8" font-size="7.1" text-anchor="middle" fill="#000">90</text>
<text x="494.5" y="363.8" font-size="7.1" text-anchor="middle" fill="#000">120</text>
<text x="512.5" y="363.8" font-size="7.1" text-anchor="middle" fill="#000">150</text>
<text x="530.5" y="363.8" font-size="7.1" text-anchor="middle" fill="#000">180</text>
<text x="544.7" y="363.8" font-size="7.1" text-anchor="middle" fill="#000">210</text>
<text x="482.5" y="372.2" font-size="7.4" text-anchor="middle" fill="#000">Time (s)</text>
<text x="426.7" y="282.6" font-size="10.3" text-anchor="start" fill="#111" font-weight="bold">33%</text>
<svg x="424.2" y="376.4" width="126.3" height="83.6" viewBox="424.2 376.4 126.3 83.6" overflow="hidden">
<path d="M424.2 413.2l2.1 1.7 2.1 1.4 2.1 1.4 2.1 .9 2.1-.2 2.1-.5 2.1-.6 2.1-.8 2.1-.9 2.1-.5 2.2 0 2.1 .2 2.1 .3 2.1 .4 2.1 .5 2.1 .4 2.1 .3 2.1 .3 2.1 .2 2.1 .3 2.1 .3 2.1 .2 2.1 .1 2.1-.1 2.1-.4 2.1-.8 2.1-.9 2.1-1 2.1-1.6 2.2-1.8 2.1-1.4 2.1-1.3 2.1-.9 2.1-.7 2.1-.5 2.1-.1 2.1 .1 2.1 .3 2.1 .4 2.1 .6 2.1 .7 2.1 1.1 2.1 1.2 2.1 1.1 2.1 .6 2.1 .6 2.1 .4 2.1 .1 2.1-.1 2.1 0 2.2-.1 2.1-.1 2.1-.1 2.1-.1 2.1 0 2.1-.1 2.1 0 2.1-.1 2.1 0 2.1 0" fill="none" stroke="#5ae6ff" stroke-width="0.85"/>
<path d="M424.2 413.2l2.1 1.7 2.1 1.5 2.1 1.5 2.1 1 2.1 0 2.1-.5 2.1-.7 2.1-.9 2.1-1 2.1-.7 2.2 0 2.1 .2 2.1 .3 2.1 .4 2.1 .4 2.1 .4 2.1 .4 2.1 .2 2.1 .3 2.1 .2 2.1 .3 2.1 .1 2.1 .1 2.1-.2 2.1-.5 2.1-.9 2.1-1 2.1-1.1 2.1-1.6 2.2-1.8 2.1-1.4 2.1-1.2 2.1-.9 2.1-.5 2.1-.4 2.1-.1 2.1 .2 2.1 .4 2.1 .5 2.1 .5 2.1 .8 2.1 1.1 2.1 1.2 2.1 1.1 2.1 .6 2.1 .7 2.1 .4 2.1 0 2.1 0 2.1-.1 2.2-.1 2.1-.1 2.1-.1 2.1-.1 2.1 0 2.1-.1 2.1 0 2.1-.1 2.1 0 2.1 0" fill="none" stroke="#55dcff" stroke-width="0.85"/>
<path d="M424.2 413.2l2.1 1.7 2.1 1.6 2.1 1.6 2.1 1.2 2.1 .1 2.1-.5 2.1-.8 2.1-1 2.1-1.2 2.1-.7 2.2-.1 2.1 .1 2.1 .3 2.1 .4 2.1 .5 2.1 .4 2.1 .3 2.1 .3 2.1 .2 2.1 .2 2.1 .2 2.1 .2 2.1 0 2.1-.2 2.1-.7 2.1-1 2.1-1.1 2.1-1.2 2.1-1.7 2.2-1.7 2.1-1.4 2.1-1.2 2.1-.8 2.1-.4 2.1-.3 2.1 0 2.1 .3 2.1 .4 2.1 .6 2.1 .6 2.1 .8 2.1 1.1 2.1 1.2 2.1 1.1 2.1 .6 2.1 .7 2.1 .4 2.1 0 2.1 0 2.1-.1 2.2-.1 2.1-.1 2.1-.1 2.1-.1 2.1 0 2.1-.1 2.1 0 2.1-.1 2.1 0 2.1 0" fill="none" stroke="#51d3ff" stroke-width="0.85"/>
<path d="M424.2 413.1l2.1 1.9 2.1 1.6 2.1 1.8 2.1 1.3 2.1 .3 2.1-.5 2.1-.9 2.1-1.2 2.1-1.3 2.1-.8 2.2-.2 2.1 .1 2.1 .3 2.1 .4 2.1 .4 2.1 .4 2.1 .4 2.1 .2 2.1 .2 2.1 .2 2.1 .2 2.1 .1 2.1 0 2.1-.4 2.1-.8 2.1-1.1 2.1-1.3 2.1-1.2 2.1-1.8 2.2-1.7 2.1-1.3 2.1-1.1 2.1-.7 2.1-.3 2.1-.2 2.1 0 2.1 .4 2.1 .6 2.1 .6 2.1 .6 2.1 .9 2.1 1.1 2.1 1.2 2.1 1.1 2.1 .7 2.1 .6 2.1 .4 2.1 .1 2.1-.1 2.1-.1 2.2-.1 2.1-.1 2.1-.1 2.1-.1 2.1 0 2.1-.1 2.1 0 2.1-.1 2.1 0 2.1 0" fill="none" stroke="#4dc9ff" stroke-width="0.85"/>
<path d="M424.2 413.1l2.1 1.9 2.1 1.8 2.1 1.8 2.1 1.6 2.1 .5 2.1-.5 2.1-1 2.1-1.4 2.1-1.5 2.1-1 2.2-.2 2.1 .1 2.1 .2 2.1 .4 2.1 .5 2.1 .4 2.1 .3 2.1 .2 2.1 .2 2.1 .2 2.1 .2 2.1 0 2.1-.1 2.1-.5 2.1-.9 2.1-1.3 2.1-1.4 2.1-1.4 2.1-1.8 2.2-1.7 2.1-1.2 2.1-1.1 2.1-.6 2.1-.2 2.1-.1 2.1 .3 2.1 .4 2.1 .7 2.1 .7 2.1 .7 2.1 .9 2.1 1.1 2.1 1.2 2.1 1 2.1 .8 2.1 .6 2.1 .4 2.1 .1 2.1-.1 2.1-.1 2.2-.1 2.1-.1 2.1-.1 2.1-.1 2.1 0 2.1-.1 2.1 0 2.1-.1 2.1 0 2.1 0" fill="none" stroke="#49c0ff" stroke-width="0.85"/>
<path d="M424.2 413.1l2.1 1.9 2.1 2 2.1 2 2.1 1.8 2.1 .8 2.1-.5 2.1-1.2 2.1-1.6 2.1-1.7 2.1-1.2 2.2-.3 2.1 0 2.1 .3 2.1 .4 2.1 .4 2.1 .4 2.1 .3 2.1 .2 2.1 .2 2.1 .2 2.1 .1 2.1 0 2.1-.2 2.1-.7 2.1-1.1 2.1-1.6 2.1-1.6 2.1-1.5 2.1-1.8 2.2-1.6 2.1-1.3 2.1-.9 2.1-.5 2.1 0 2.1 .1 2.1 .3 2.1 .7 2.1 .7 2.1 .8 2.1 .8 2.1 1 2.1 1.1 2.1 1.2 2.1 1 2.1 .8 2.1 .6 2.1 .5 2.1 0 2.1 0 2.1-.1 2.2-.2 2.1-.1 2.1-.1 2.1-.1 2.1 0 2.1-.1 2.1 0 2.1-.1 2.1 0 2.1 0" fill="none" stroke="#44b6ff" stroke-width="0.85"/>
<path d="M424.2 413.1l2.1 2 2.1 2.1 2.1 2.2 2.1 2.2 2.1 1.1 2.1-.4 2.1-1.4 2.1-2 2.1-2 2.1-1.3 2.2-.5 2.1-.1 2.1 .3 2.1 .4 2.1 .4 2.1 .4 2.1 .3 2.1 .2 2.1 .1 2.1 .2 2.1 0 2.1 0 2.1-.4 2.1-.8 2.1-1.4 2.1-1.9 2.1-1.8 2.1-1.7 2.1-1.9 2.2-1.6 2.1-1.1 2.1-.8 2.1-.4 2.1 .2 2.1 .3 2.1 .6 2.1 .8 2.1 .9 2.1 .9 2.1 .9 2.1 1.1 2.1 1.1 2.1 1.2 2.1 1 2.1 .8 2.1 .7 2.1 .4 2.1 .1 2.1-.1 2.1-.1 2.2-.1 2.1-.2 2.1-.1 2.1-.1 2.1 0 2.1-.1 2.1 0 2.1-.1 2.1 0 2.1 0" fill="none" stroke="#40adff" stroke-width="0.85"/>
<path d="M424.2 413l2.1 2.2 2.1 2.3 2.1 2.5 2.1 2.6 2.1 1.6 2.1-.4 2.1-1.7 2.1-2.4 2.1-2.4 2.1-1.6 2.2-.6 2.1-.1 2.1 .2 2.1 .3 2.1 .5 2.1 .4 2.1 .3 2.1 .1 2.1 .1 2.1 .1 2.1 0 2.1-.1 2.1-.5 2.1-1.1 2.1-1.8 2.1-2.2 2.1-2.1 2.1-2 2.1-2 2.2-1.4 2.1-1.1 2.1-.6 2.1-.2 2.1 .4 2.1 .6 2.1 .9 2.1 1 2.1 1.1 2.1 1.1 2.1 1 2.1 1.1 2.1 1.3 2.1 1.1 2.1 1 2.1 .8 2.1 .7 2.1 .5 2.1 .1 2.1-.1 2.1-.2 2.2-.1 2.1-.1 2.1-.2 2.1-.1 2.1 0 2.1-.1 2.1 0 2.1-.1 2.1 0 2.1 0" fill="none" stroke="#3ca3ff" stroke-width="0.85"/>
<path d="M424.2 413l2.1 2.2 2.1 2.6 2.1 2.8 2.1 3.1 2.1 2.1 2.1-.3 2.1-2 2.1-2.9 2.1-2.8 2.1-1.9 2.2-.8 2.1-.2 2.1 .1 2.1 .4 2.1 .4 2.1 .4 2.1 .3 2.1 .1 2.1 .1 2.1 0 2.1-.1 2.1-.1 2.1-.7 2.1-1.4 2.1-2.2 2.1-2.5 2.1-2.6 2.1-2.1 2.1-2.1 2.2-1.4 2.1-1 2.1-.4 2.1 0 2.1 .7 2.1 .9 2.1 1.1 2.1 1.3 2.1 1.3 2.1 1.3 2.1 1.2 2.1 1.2 2.1 1.3 2.1 1.1 2.1 1 2.1 .8 2.1 .8 2.1 .5 2.1 0 2.1-.1 2.1-.1 2.2-.1 2.1-.2 2.1-.1 2.1-.2 2.1 0 2.1-.1 2.1 0 2.1-.1 2.1 0 2.1 0" fill="none" stroke="#389aff" stroke-width="0.85"/>
<path d="M424.2 413l2.1 2.3 2.1 2.8 2.1 3.1 2.1 3.6 2.1 2.5 2.1-.3 2.1-2.2 2.1-3.4 2.1-3.2 2.1-2.1 2.2-1 2.1-.3 2.1 .1 2.1 .3 2.1 .5 2.1 .4 2.1 .3 2.1 .1 2.1 0 2.1-.1 2.1-.1 2.1-.2 2.1-.9 2.1-1.7 2.1-2.5 2.1-2.9 2.1-2.9 2.1-2.4 2.1-2.2 2.2-1.3 2.1-.9 2.1-.3 2.1 .3 2.1 1 2.1 1.2 2.1 1.4 2.1 1.5 2.1 1.5 2.1 1.4 2.1 1.4 2.1 1.3 2.1 1.3 2.1 1.1 2.1 1 2.1 .8 2.1 .8 2.1 .6 2.1 0 2.1-.1 2.1-.1 2.2-.2 2.1-.2 2.1-.1 2.1-.2 2.1 0 2.1-.1 2.1 0 2.1-.1 2.1 0 2.1 0" fill="none" stroke="#3490ff" stroke-width="0.85"/>
<path d="M424.2 412.9l2.1 2.5 2.1 2.9 2.1 3.4 2.1 4 2.1 2.9 2.1-.3 2.1-2.5 2.1-3.7 2.1-3.5 2.1-2.4 2.2-1.1 2.1-.4 2.1 .1 2.1 .3 2.1 .5 2.1 .4 2.1 .3 2.1 0 2.1 0 2.1-.1 2.1-.2 2.1-.3 2.1-.9 2.1-2 2.1-2.8 2.1-3.2 2.1-3.2 2.1-2.6 2.1-2.3 2.2-1.2 2.1-.8 2.1-.1 2.1 .4 2.1 1.2 2.1 1.4 2.1 1.6 2.1 1.8 2.1 1.7 2.1 1.5 2.1 1.5 2.1 1.4 2.1 1.3 2.1 1.1 2.1 1 2.1 .8 2.1 .9 2.1 .5 2.1 .1 2.1-.2 2.1-.1 2.2-.2 2.1-.1 2.1-.2 2.1-.2 2.1 0 2.1-.1 2.1-.1 2.1 0 2.1 0 2.1 0" fill="none" stroke="#2f87ff" stroke-width="0.85"/>
<path d="M424.2 412.9l2.1 2.5 2.1 3.1 2.1 3.6 2.1 4.3 2.1 3.1 2.1-.2 2.1-2.6 2.1-4 2.1-3.8 2.1-2.5 2.2-1.3 2.1-.5 2.1 .1 2.1 .4 2.1 .4 2.1 .4 2.1 .3 2.1 0 2.1 0 2.1-.1 2.1-.3 2.1-.3 2.1-1.1 2.1-2.1 2.1-3 2.1-3.6 2.1-3.3 2.1-2.7 2.1-2.4 2.2-1.2 2.1-.7 2.1-.1 2.1 .6 2.1 1.4 2.1 1.6 2.1 1.8 2.1 1.9 2.1 1.8 2.1 1.7 2.1 1.5 2.1 1.5 2.1 1.3 2.1 1.1 2.1 1 2.1 .9 2.1 .8 2.1 .6 2.1 0 2.1-.1 2.1-.2 2.2-.1 2.1-.2 2.1-.2 2.1-.2 2.1 0 2.1-.1 2.1-.1 2.1 0 2.1 0 2.1 0" fill="none" stroke="#2b7dff" stroke-width="0.85"/>
<path d="M424.2 412.9l2.1 2.5 2.1 3.3 2.1 3.7 2.1 4.5 2.1 3.4 2.1-.2 2.1-2.8 2.1-4.2 2.1-4 2.1-2.7 2.2-1.3 2.1-.5 2.1 0 2.1 .4 2.1 .4 2.1 .4 2.1 .3 2.1 0 2.1 0 2.1-.2 2.1-.2 2.1-.4 2.1-1.2 2.1-2.2 2.1-3.2 2.1-3.7 2.1-3.5 2.1-2.9 2.1-2.4 2.2-1.2 2.1-.7 2.1 .1 2.1 .7 2.1 1.5 2.1 1.7 2.1 2 2.1 2 2.1 1.9 2.1 1.7 2.1 1.7 2.1 1.5 2.1 1.3 2.1 1.1 2.1 1 2.1 .9 2.1 .8 2.1 .6 2.1 .1 2.1-.2 2.1-.1 2.2-.2 2.1-.2 2.1-.2 2.1-.2 2.1 0 2.1-.1 2.1-.1 2.1 0 2.1 0 2.1 0" fill="none" stroke="#2774ff" stroke-width="0.85"/>
<path d="M424.2 412.9l2.1 2.6 2.1 3.3 2.1 3.9 2.1 4.6 2.1 3.6 2.1-.1 2.1-3 2.1-4.4 2.1-4.1 2.1-2.8 2.2-1.4 2.1-.6 2.1 .1 2.1 .3 2.1 .5 2.1 .4 2.1 .2 2.1 .1 2.1-.1 2.1-.2 2.1-.3 2.1-.4 2.1-1.2 2.1-2.4 2.1-3.3 2.1-3.9 2.1-3.6 2.1-3 2.1-2.4 2.2-1.2 2.1-.6 2.1 .1 2.1 .8 2.1 1.6 2.1 1.9 2.1 2 2.1 2.1 2.1 2 2.1 1.8 2.1 1.7 2.1 1.6 2.1 1.3 2.1 1.1 2.1 1 2.1 .9 2.1 .8 2.1 .6 2.1 .1 2.1-.2 2.1-.1 2.2-.2 2.1-.2 2.1-.2 2.1-.2 2.1-.1 2.1 0 2.1-.1 2.1 0 2.1 0 2.1 0" fill="none" stroke="#236aff" stroke-width="0.85"/>
<path d="M424.2 412.9l2.1 2.6 2.1 3.4 2.1 4 2.1 4.8 2.1 3.7 2.1-.1 2.1-3 2.1-4.6 2.1-4.3 2.1-2.8 2.2-1.6 2.1-.5 2.1 .1 2.1 .3 2.1 .4 2.1 .4 2.1 .3 2.1 0 2.1-.1 2.1-.2 2.1-.3 2.1-.4 2.1-1.3 2.1-2.5 2.1-3.4 2.1-4 2.1-3.8 2.1-3 2.1-2.5 2.2-1.1 2.1-.6 2.1 .2 2.1 .8 2.1 1.7 2.1 2 2.1 2.1 2.1 2.2 2.1 2.1 2.1 1.8 2.1 1.8 2.1 1.6 2.1 1.3 2.1 1.1 2.1 1 2.1 .9 2.1 .9 2.1 .5 2.1 .1 2.1-.1 2.1-.2 2.2-.2 2.1-.2 2.1-.2 2.1-.2 2.1-.1 2.1 0 2.1-.1 2.1 0 2.1 0 2.1 0" fill="none" stroke="#1f61ff" stroke-width="0.85"/>
<path d="M424.2 412.9l2.1 2.6 2.1 3.5 2.1 4.1 2.1 5 2.1 3.8 2.1-.1 2.1-3.1 2.1-4.7 2.1-4.4 2.1-3 2.2-1.6 2.1-.5 2.1 0 2.1 .3 2.1 .5 2.1 .4 2.1 .2 2.1 .1 2.1-.2 2.1-.2 2.1-.3 2.1-.5 2.1-1.3 2.1-2.6 2.1-3.5 2.1-4.2 2.1-3.8 2.1-3.1 2.1-2.5 2.2-1.1 2.1-.6 2.1 .2 2.1 1 2.1 1.8 2.1 2 2.1 2.2 2.1 2.3 2.1 2.1 2.1 1.9 2.1 1.8 2.1 1.7 2.1 1.3 2.1 1.1 2.1 1 2.1 .9 2.1 .9 2.1 .6 2.1 0 2.1-.1 2.1-.2 2.2-.2 2.1-.2 2.1-.2 2.1-.2 2.1-.1 2.1 0 2.1-.1 2.1 0 2.1 0 2.1 0" fill="none" stroke="#1a57ff" stroke-width="0.85"/>
<path d="M424.2 412.8l2.1 2.7 2.1 3.6 2.1 4.2 2.1 5.1 2.1 4 2.1-.1 2.1-3.2 2.1-4.8 2.1-4.6 2.1-3 2.2-1.7 2.1-.5 2.1 0 2.1 .3 2.1 .4 2.1 .5 2.1 .2 2.1 0 2.1-.1 2.1-.3 2.1-.3 2.1-.5 2.1-1.4 2.1-2.6 2.1-3.7 2.1-4.2 2.1-4 2.1-3.2 2.1-2.5 2.2-1.1 2.1-.5 2.1 .3 2.1 1 2.1 1.8 2.1 2.1 2.1 2.3 2.1 2.4 2.1 2.2 2.1 2 2.1 1.8 2.1 1.7 2.1 1.3 2.1 1.1 2.1 1 2.1 .9 2.1 .9 2.1 .6 2.1 .1 2.1-.2 2.1-.2 2.2-.2 2.1-.2 2.1-.2 2.1-.1 2.1-.2 2.1 0 2.1-.1 2.1 0 2.1 0 2.1 0" fill="none" stroke="#164eff" stroke-width="0.85"/>
<path d="M424.2 412.8l2.1 2.8 2.1 3.5 2.1 4.3 2.1 5.3 2.1 4.2 2.1-.1 2.1-3.3 2.1-5 2.1-4.6 2.1-3.2 2.2-1.7 2.1-.6 2.1 0 2.1 .4 2.1 .4 2.1 .4 2.1 .3 2.1-.1 2.1-.1 2.1-.2 2.1-.4 2.1-.5 2.1-1.4 2.1-2.8 2.1-3.8 2.1-4.3 2.1-4.1 2.1-3.2 2.1-2.6 2.2-1.1 2.1-.5 2.1 .4 2.1 1 2.1 2 2.1 2.2 2.1 2.4 2.1 2.4 2.1 2.3 2.1 2 2.1 1.9 2.1 1.6 2.1 1.4 2.1 1.1 2.1 1 2.1 .9 2.1 .9 2.1 .6 2.1 .1 2.1-.2 2.1-.2 2.2-.1 2.1-.3 2.1-.2 2.1-.1 2.1-.2 2.1 0 2.1-.1 2.1 0 2.1 0 2.1 0" fill="none" stroke="#1244ff" stroke-width="0.85"/>
<path d="M424.2 412.8l2.1 2.8 2.1 3.6 2.1 4.4 2.1 5.4 2.1 4.3 2.1-.1 2.1-3.3 2.1-5.1 2.1-4.8 2.1-3.2 2.2-1.8 2.1-.6 2.1 0 2.1 .3 2.1 .5 2.1 .4 2.1 .2 2.1 0 2.1-.1 2.1-.3 2.1-.4 2.1-.5 2.1-1.5 2.1-2.8 2.1-3.9 2.1-4.5 2.1-4.1 2.1-3.4 2.1-2.6 2.2-1 2.1-.5 2.1 .4 2.1 1.1 2.1 2.1 2.1 2.3 2.1 2.4 2.1 2.6 2.1 2.3 2.1 2 2.1 1.9 2.1 1.7 2.1 1.4 2.1 1.1 2.1 1 2.1 .9 2.1 .9 2.1 .6 2.1 .1 2.1-.2 2.1-.1 2.2-.2 2.1-.3 2.1-.2 2.1-.1 2.1-.2 2.1 0 2.1-.1 2.1 0 2.1 0 2.1 0" fill="none" stroke="#0e3bff" stroke-width="0.85"/>
<path d="M424.2 412.8l2.1 2.8 2.1 3.7 2.1 4.5 2.1 5.5 2.1 4.5 2.1-.1 2.1-3.5 2.1-5.2 2.1-4.9 2.1-3.3 2.2-1.8 2.1-.6 2.1 0 2.1 .3 2.1 .4 2.1 .4 2.1 .3 2.1-.1 2.1-.1 2.1-.3 2.1-.4 2.1-.5 2.1-1.6 2.1-2.9 2.1-4 2.1-4.6 2.1-4.2 2.1-3.4 2.1-2.7 2.2-.9 2.1-.5 2.1 .5 2.1 1.1 2.1 2.2 2.1 2.3 2.1 2.6 2.1 2.6 2.1 2.3 2.1 2.1 2.1 2 2.1 1.7 2.1 1.4 2.1 1.1 2.1 1 2.1 .9 2.1 .9 2.1 .6 2.1 .1 2.1-.1 2.1-.2 2.2-.2 2.1-.2 2.1-.3 2.1-.1 2.1-.2 2.1 0 2.1-.1 2.1 0 2.1 0 2.1 0" fill="none" stroke="#0a32ff" stroke-width="1.7"/>
</svg>
<line x1="424.2" y1="413.56" x2="550.5" y2="413.56" stroke="#444" stroke-width="0.8" stroke-dasharray="1.2 1.3"/>
<rect x="424.2" y="376.4" width="126.3" height="83.6" fill="none" stroke="#5a5a5a" stroke-width="1"/>
<path d="M424.2 460v1.6M424.2 376.4v1.6M445.25 460v1.6M445.25 376.4v1.6M466.3 460v1.6M466.3 376.4v1.6M487.35 460v1.6M487.35 376.4v1.6M508.4 460v1.6M508.4 376.4v1.6M529.45 460v1.6M529.45 376.4v1.6M550.5 460v1.6M550.5 376.4v1.6" stroke="#5a5a5a" stroke-width="0.8"/>
<path d="M422.6 450.71h1.6M548.9 450.71h1.6M422.6 432.13h1.6M548.9 432.13h1.6M422.6 413.56h1.6M548.9 413.56h1.6M422.6 394.98h1.6M548.9 394.98h1.6M422.6 376.4h1.6M548.9 376.4h1.6" stroke="#5a5a5a" stroke-width="0.8"/>
<text x="427.4" y="468.9" font-size="7.2" text-anchor="middle" fill="#000">200</text>
<text x="445.25" y="468.9" font-size="7.2" text-anchor="middle" fill="#000">220</text>
<text x="466.3" y="468.9" font-size="7.2" text-anchor="middle" fill="#000">240</text>
<text x="487.35" y="468.9" font-size="7.2" text-anchor="middle" fill="#000">260</text>
<text x="508.4" y="468.9" font-size="7.2" text-anchor="middle" fill="#000">280</text>
<text x="529.45" y="468.9" font-size="7.2" text-anchor="middle" fill="#000">300</text>
<text x="546.1" y="468.9" font-size="7.2" text-anchor="middle" fill="#000">320</text>
<text x="491.25" y="477.4" font-size="7.2" text-anchor="middle" fill="#000">Wavelength (nm)</text>
<text x="427.8" y="387" font-size="10.3" text-anchor="start" fill="#222">33%</text>
<path d="M555.4 355l.3-.1 .3-.1 .3 0 .3-.1 .3-.1 .3-.1 .3 0 .3-.1 .3-.1 .3 0 .3-.1 .3-.1 .3-.1 .3 0 .3-.1 .3-.1 .3 0 .3-.1 .3-.1 .3 0 .3-.1 1.1-.2 1.1-.3 1.1-.2 1.2-.2 1.1-.2 1.1-.2 1.1-.2 1.1-.2 1.1-.2 1.1-.2 1.2-.2 1.1-.2 1.1-.1 1.1-.2 1.1-.2 1.1-.1 1.2-.2 1.1-.1 1.1-.2 1.1-.1 1.1-.1 1.1-.2 1.1-.1 1.2-.1 1.1-.1 1.1-.2 1.1-.1 1.1-.1 1.1-.1 1.1-.1 1.2-.1 1.1-.1 1.1-.1 1.1-.1 1.1-.1 1.1-.1 1.1-.1 1.2-.1 1.1 0 1.1-.1 1.1-.1 1.1-.1 1.1-.1 1.1 0 1.2-.1 1.1-.1 1.1 0 1.1-.1 1.1-.1 1.1 0 1.1-.1 1.2 0 1.1-.1 1.1-.1 1.1 0 1.1-.1 1.1 0 1.1-.1 1.2 0 .3 0 .4 .1 .5 .1 .4 0 .5 .1 .4 .1 .5 0 .5 .1 .4 .1 .5 0 .4 .1 .5 0 .5 .1 .4 0 .5 .1 .4 0 .5 .1 .4 0 .5 .1 .5 0 .6 .1 1.1 .1 1.1 .1 1.2 .2 1.1 .1 1.2 .1 1.1 .1 1.1 .1 1.2 .1 1.1 .1 1.2 .1 1.1 .1 1.1 .1 1.2 .1 1.1 .1 1.2 .1 1.1 .1 1.1 .1 1.2 .1 1.1 .1 1.2 .1 1.1 .1 1.1 .1 1.2 .1 1.1 .1 1.1 .1 1.2 .1 1.1 .1 1.2 .1 1.1 .1 1.1 .1 1.2 .1 1.1 .1 1.2 .1 1.1 .1 1.1 .1 1.2 .1 1.1 .1 1.2 .1 1.1 .1" fill="none" stroke="#111" stroke-width="0.8"/>
<path d="M555.4 355l.3-.3 .3-.2 .3-.3 .3-.2 .3-.3 .3-.2 .3-.3 .3-.2 .3-.3 .3-.2 .3-.2 .3-.3 .3-.2 .3-.2 .3-.2 .3-.2 .3-.3 .3-.2 .3-.2 .3-.2 .3-.2 1.1-.7 1.1-.7 1.1-.6 1.2-.6 1.1-.6 1.1-.6 1.1-.5 1.1-.5 1.1-.5 1.1-.5 1.2-.4 1.1-.4 1.1-.4 1.1-.4 1.1-.3 1.1-.4 1.2-.3 1.1-.3 1.1-.3 1.1-.3 1.1-.3 1.1-.3 1.1-.2 1.2-.3 1.1-.2 1.1-.3 1.1-.2 1.1-.2 1.1-.2 1.1-.2 1.2-.2 1.1-.2 1.1-.1 1.1-.2 1.1-.2 1.1-.1 1.1-.2 1.2-.1 1.1-.2 1.1-.1 1.1-.2 1.1-.1 1.1-.1 1.1-.2 1.2-.1 1.1-.1 1.1-.1 1.1-.1 1.1-.1 1.1-.2 1.1-.1 1.2-.1 1.1-.1 1.1-.1 1.1-.1 1.1-.1 1.1-.1 1.1-.1 1.2 0 .3 0 .4 .2 .5 .1 .4 .1 .5 .1 .4 .1 .5 .1 .5 .1 .4 .2 .5 .1 .4 .1 .5 .1 .5 .1 .4 .1 .5 .1 .4 .1 .5 .1 .4 .1 .5 .1 .5 .1 .6 .1 1.1 .3 1.1 .2 1.2 .3 1.1 .2 1.2 .2 1.1 .3 1.1 .2 1.2 .2 1.1 .3 1.2 .2 1.1 .2 1.1 .3 1.2 .2 1.1 .2 1.2 .2 1.1 .3 1.1 .2 1.2 .2 1.1 .3 1.2 .2 1.1 .2 1.1 .2 1.2 .3 1.1 .2 1.1 .2 1.2 .3 1.1 .2 1.2 .2 1.1 .2 1.1 .3 1.2 .2 1.1 .2 1.2 .3 1.1 .2 1.1 .2 1.2 .2 1.1 .3 1.2 .2 1.1 .2" fill="none" stroke="#111" stroke-width="0.8"/>
<path d="M555.4 355l.3-.3 .3-.3 .3-.3 .3-.3 .3-.3 .3-.3 .3-.3 .3-.3 .3-.3 .3-.3 .3-.2 .3-.3 .3-.3 .3-.2 .3-.3 .3-.3 .3-.2 .3-.3 .3-.2 .3-.3 .3-.2 1.1-.9 1.1-.9 1.1-.8 1.2-.8 1.1-.8 1.1-.7 1.1-.7 1.1-.7 1.1-.6 1.1-.6 1.2-.6 1.1-.6 1.1-.6 1.1-.5 1.1-.5 1.1-.5 1.2-.5 1.1-.4 1.1-.5 1.1-.4 1.1-.4 1.1-.4 1.1-.3 1.2-.4 1.1-.4 1.1-.3 1.1-.3 1.1-.3 1.1-.3 1.1-.3 1.2-.3 1.1-.3 1.1-.2 1.1-.3 1.1-.2 1.1-.3 1.1-.2 1.2-.2 1.1-.2 1.1-.3 1.1-.2 1.1-.2 1.1-.1 1.1-.2 1.2-.2 1.1-.2 1.1-.1 1.1-.2 1.1-.2 1.1-.1 1.1-.2 1.2-.1 1.1-.2 1.1-.1 1.1-.1 1.1-.2 1.1-.1 1.1-.1 1.2-.1 .3 .2 .4 .2 .5 .3 .4 .2 .5 .2 .4 .2 .5 .3 .5 .2 .4 .2 .5 .1 .4 .2 .5 .2 .5 .2 .4 .1 .5 .2 .4 .2 .5 .1 .4 .2 .5 .1 .5 .2 .6 .1 1.1 .4 1.1 .3 1.2 .3 1.1 .3 1.2 .3 1.1 .3 1.1 .3 1.2 .3 1.1 .2 1.2 .3 1.1 .3 1.1 .2 1.2 .3 1.1 .3 1.2 .2 1.1 .3 1.1 .3 1.2 .2 1.1 .3 1.2 .2 1.1 .3 1.1 .3 1.2 .2 1.1 .3 1.1 .2 1.2 .3 1.1 .3 1.2 .2 1.1 .3 1.1 .2 1.2 .3 1.1 .3 1.2 .2 1.1 .3 1.1 .2 1.2 .3 1.1 .2 1.2 .3 1.1 .3" fill="none" stroke="#111" stroke-width="0.8"/>
<path d="M555.4 355l.3-1.2 .3-1.1 .3-1 .3-1.1 .3-1 .3-.9 .3-.9 .3-.9 .3-.9 .3-.8 .3-.8 .3-.8 .3-.7 .3-.8 .3-.7 .3-.6 .3-.7 .3-.6 .3-.6 .3-.6 .3-.5 1.1-2 1.1-1.7 1.1-1.5 1.2-1.3 1.1-1.3 1.1-1 1.1-1 1.1-.9 1.1-.8 1.1-.8 1.2-.6 1.1-.7 1.1-.5 1.1-.6 1.1-.5 1.1-.5 1.2-.4 1.1-.4 1.1-.4 1.1-.4 1.1-.4 1.1-.3 1.1-.4 1.2-.3 1.1-.3 1.1-.3 1.1-.3 1.1-.3 1.1-.2 1.1-.3 1.2-.3 1.1-.2 1.1-.3 1.1-.2 1.1-.2 1.1-.3 1.1-.2 1.2-.2 1.1-.2 1.1-.2 1.1-.2 1.1-.2 1.1-.2 1.1-.2 1.2-.2 1.1-.2 1.1-.2 1.1-.2 1.1-.1 1.1-.2 1.1-.2 1.2-.1 1.1-.2 1.1-.2 1.1-.1 1.1-.2 1.1-.1 1.1-.2 1.2-.1 .3 .2 .4 .2 .5 .3 .4 .2 .5 .2 .4 .2 .5 .3 .5 .2 .4 .2 .5 .2 .4 .2 .5 .2 .5 .2 .4 .2 .5 .2 .4 .2 .5 .2 .4 .2 .5 .2 .5 .2 .6 .3 1.1 .4 1.1 .5 1.2 .4 1.1 .5 1.2 .4 1.1 .5 1.1 .4 1.2 .5 1.1 .4 1.2 .4 1.1 .5 1.1 .4 1.2 .4 1.1 .5 1.2 .4 1.1 .4 1.1 .5 1.2 .4 1.1 .4 1.2 .5 1.1 .4 1.1 .4 1.2 .5 1.1 .4 1.1 .4 1.2 .5 1.1 .4 1.2 .4 1.1 .5 1.1 .4 1.2 .4 1.1 .4 1.2 .5 1.1 .4 1.1 .4 1.2 .5 1.1 .4 1.2 .4 1.1 .5" fill="none" stroke="#111" stroke-width="0.8"/>
<path d="M555.4 355l.3-1.7 .3-1.7 .3-1.6 .3-1.6 .3-1.5 .3-1.4 .3-1.4 .3-1.3 .3-1.3 .3-1.2 .3-1.2 .3-1.1 .3-1.1 .3-1.1 .3-1 .3-1 .3-.9 .3-.9 .3-.9 .3-.8 .3-.8 1.1-2.7 1.1-2.4 1.1-2.1 1.2-1.8 1.1-1.6 1.1-1.4 1.1-1.3 1.1-1.1 1.1-.9 1.1-.9 1.2-.8 1.1-.7 1.1-.6 1.1-.6 1.1-.5 1.1-.5 1.2-.4 1.1-.4 1.1-.4 1.1-.4 1.1-.3 1.1-.3 1.1-.3 1.2-.3 1.1-.2 1.1-.3 1.1-.2 1.1-.3 1.1-.2 1.1-.2 1.2-.2 1.1-.2 1.1-.2 1.1-.2 1.1-.1 1.1-.2 1.1-.2 1.2-.2 1.1-.1 1.1-.2 1.1-.1 1.1-.2 1.1-.1 1.1-.2 1.2-.1 1.1-.1 1.1-.2 1.1-.1 1.1-.1 1.1-.2 1.1-.1 1.2-.1 1.1-.1 1.1-.1 1.1-.2 1.1-.1 1.1-.1 1.1-.1 1.2-.1 .3 .5 .4 .6 .5 .6 .4 .6 .5 .6 .4 .5 .5 .5 .5 .5 .4 .5 .5 .4 .4 .5 .5 .4 .5 .4 .4 .3 .5 .4 .4 .4 .5 .3 .4 .3 .5 .4 .5 .3 .6 .4 1.1 .7 1.1 .7 1.2 .6 1.1 .6 1.2 .6 1.1 .6 1.1 .5 1.2 .6 1.1 .5 1.2 .5 1.1 .6 1.1 .5 1.2 .5 1.1 .5 1.2 .5 1.1 .5 1.1 .5 1.2 .5 1.1 .4 1.2 .5 1.1 .5 1.1 .5 1.2 .5 1.1 .5 1.1 .5 1.2 .5 1.1 .4 1.2 .5 1.1 .5 1.1 .5 1.2 .5 1.1 .5 1.2 .5 1.1 .4 1.1 .5 1.2 .5 1.1 .5 1.2 .5 1.1 .5" fill="none" stroke="#111" stroke-width="0.8"/>
<path d="M555.4 355l.3-2.8 .3-2.7 .3-2.5 .3-2.4 .3-2.2 .3-2.1 .3-2 .3-1.9 .3-1.7 .3-1.7 .3-1.5 .3-1.5 .3-1.4 .3-1.3 .3-1.3 .3-1.2 .3-1.1 .3-1 .3-1 .3-1 .3-.8 1.1-2.9 1.1-2.4 1.1-2 1.2-1.6 1.1-1.4 1.1-1.1 1.1-1 1.1-.8 1.1-.8 1.1-.6 1.2-.6 1.1-.5 1.1-.5 1.1-.4 1.1-.4 1.1-.4 1.2-.3 1.1-.3 1.1-.3 1.1-.3 1.1-.3 1.1-.3 1.1-.3 1.2-.2 1.1-.3 1.1-.2 1.1-.2 1.1-.2 1.1-.3 1.1-.2 1.2-.2 1.1-.2 1.1-.2 1.1-.2 1.1-.2 1.1-.1 1.1-.2 1.2-.2 1.1-.2 1.1-.1 1.1-.2 1.1-.1 1.1-.2 1.1-.1 1.2-.2 1.1-.1 1.1-.2 1.1-.1 1.1-.1 1.1-.2 1.1-.1 1.2-.1 1.1-.1 1.1-.1 1.1-.1 1.1-.2 1.1-.1 1.1-.1 1.2-.1 .3 .3 .4 .3 .5 .4 .4 .3 .5 .3 .4 .3 .5 .3 .5 .4 .4 .3 .5 .3 .4 .3 .5 .3 .5 .2 .4 .3 .5 .3 .4 .3 .5 .3 .4 .2 .5 .3 .5 .3 .6 .3 1.1 .7 1.1 .7 1.2 .6 1.1 .6 1.2 .7 1.1 .6 1.1 .6 1.2 .7 1.1 .6 1.2 .6 1.1 .6 1.1 .6 1.2 .6 1.1 .7 1.2 .6 1.1 .6 1.1 .6 1.2 .6 1.1 .6 1.2 .6 1.1 .6 1.1 .6 1.2 .7 1.1 .6 1.1 .6 1.2 .6 1.1 .6 1.2 .6 1.1 .6 1.1 .6 1.2 .6 1.1 .6 1.2 .6 1.1 .7 1.1 .6 1.2 .6 1.1 .6 1.2 .6 1.1 .6" fill="none" stroke="#111" stroke-width="0.8"/>
<path d="M555.4 354.6l.7 0 .7-.3 .8-1.1 .7-.3 .7 0 .7-.2 .7-.1 .8 .1 .7 .5 .7 0 .7-.6 .7-.9 .8-.6 .7 .9 .7 .8 .7-.2 .7 .5 .8-.1 .7-.5 .7-.1 .7 0 .8-.1 .7-.6 .7-.1 .7-.6 .7 .2 .8-.5 .7 0 .7-.6 .7-.2 .7-.4 .8-.3 .7 .4 .7 .1 .7-.7 .7 .3 .8 .1 .7 .2 .7 0 .7 0 .7-.1 .8-.4 .7 .2 .7-.3 .7-.4 .7-.4 .8-.3 .7 0 .7 .3 .7 .3 .7 .4 .8-.4 .7 .3 .7 .6 .7-.1 .8-.2 .7-.5 .7-.1 .7-.3 .7-.2 .8-.5 .7 .7 .7 0 .7 .3 .7 0 .8-.1 .7 .5 .7 0 .7-.9 .7-.3 .8-.2 .7-.6 .7 .1 .7 .9 .7-.4 .8-.6 .7-.2 .7-.7 .7-.4 .7 .7 .8 .5 .7 0 .7 .1 .7-.4 .7 .3 .8-.8 .7 .8 .7 .2 .7 .7 .8-.5 .7-.7 .7-.2 .7 0 .7 .4 .8-.3 .7-.3 .7-.2 .7 .3 .7-.3 .8 .3 .7 .1 .7 .3 .7-.1 .7 .2 .8-.1 .7 .3 .7-.1 .7 .2 .7 0 .8 .5 .7-.9 .7 1 .7 .1 .7 .5 .8 1.1 .7-.3 .7-.4 .7 .3 .7-1.2 .8-.1 .7-.4 .7-.3 .7 .6 .8-.1 .7 .2 .7-.5 .7-.9 .7-.8 .8 1.1 .7 .4 .7 .5 .7 .4 .7-.1 .8-.1 .7 .5 .7 .2 .7 .8 .7-.1 .8 1.1 .7-.5 .7-.2 .7 0 .7 .3 .8 .2 .7 .1 .7 .1 .7 .4 .7-.1 .8-.5 .7-.2 .7 .2 .7-.1 .7 0 .8-.6 .7 .8 .7 .6 .7 .2 .8-.1 .7 .1 .7 .5 .7-.5 .7-.2 .8-.5 .7-.2 .7-.5 .7 .2 .7 0 .8 .6 .7 .6 .7 .1 .7-.1 .7 0 .8 .4 .7 .5 .7 .9" fill="none" stroke="#a07a4a" stroke-width="1.2" stroke-linejoin="round"/>
<path d="M555.4 354.6l.7-.1 .7-.2 .8-.6 .7-1.5 .7-.7 .7-1.5 .7-.3 .8-.1 .7 0 .7-.5 .7-.2 .7-.6 .8-.8 .7-.6 .7-.8 .7-.3 .7 0 .8 .2 .7 .3 .7-.5 .7-.1 .8-.7 .7-.8 .7-.6 .7 .1 .7-.3 .8-.5 .7-.5 .7-.4 .7-.3 .7 .2 .8 0 .7 .4 .7-.8 .7-.6 .7-.4 .8 .3 .7-.1 .7 .3 .7-.4 .7-.1 .8-.6 .7-.4 .7-.6 .7-.4 .7 .4 .8-.2 .7-.2 .7 .2 .7 .4 .7 0 .8 .1 .7-.2 .7 0 .7-.1 .8-.3 .7-.4 .7 .3 .7-.3 .7 .5 .8-.8 .7-.6 .7 0 .7 .1 .7-.7 .8 .1 .7-.5 .7 0 .7 .6 .7 .7 .8 .2 .7 0 .7-.5 .7-1.2 .7-.8 .8-.2 .7 .1 .7 0 .7-.1 .7 .1 .8 .1 .7-.4 .7 .4 .7-.2 .7 .4 .8-.3 .7 .2 .7-1 .7 .7 .8-.2 .7-.5 .7-.3 .7 .5 .7-.9 .8-.5 .7 .1 .7-.4 .7 .5 .7 .4 .8-.1 .7 0 .7 .1 .7-.6 .7 1 .8 .7 .7 .4 .7 .7 .7 .1 .7 .5 .8-.2 .7-.3 .7-.4 .7 .1 .7 .4 .8 .1 .7 .8 .7 0 .7 .1 .7 0 .8 .3 .7 .1 .7 .9 .7-.1 .8 .2 .7-.1 .7-.4 .7 .4 .7-.4 .8 .2 .7 .4 .7-.2 .7-.2 .7 .6 .8-.1 .7 .6 .7 .6 .7 .6 .7 .3 .8-.2 .7 .1 .7 .2 .7-.4 .7 .7 .8 .7 .7-.2 .7-.1 .7-.3 .7-.9 .8 .5 .7-.6 .7 .4 .7-.2 .7 .6 .8 .8 .7 .9 .7-.2 .7-.4 .8-.3 .7-.3 .7 .3 .7 1 .7 .1 .8 .3 .7-.5 .7 .1 .7 0 .7 .8 .8 .3 .7-.3 .7 .6 .7-.3 .7 .9 .8 .5 .7-.1 .7 .2" fill="none" stroke="#cc44ee" stroke-width="1.2" stroke-linejoin="round"/>
<path d="M555.4 354.6l.7-.6 .7-.7 .8-.3 .7-.3 .7-.9 .7-.9 .7-.4 .8-.9 .7-.3 .7-1 .7-.6 .7-.9 .8-.8 .7-.1 .7-1 .7-.5 .7-.5 .8-.5 .7 .1 .7-.5 .7 0 .8-.4 .7-1 .7 0 .7 0 .7-1.2 .8 0 .7 .3 .7-1.1 .7-.8 .7-.4 .8-.5 .7 .2 .7-.4 .7-.2 .7-.8 .8-.7 .7 .3 .7 .2 .7 .3 .7-1 .8-.7 .7-1.2 .7 0 .7-.3 .7 .4 .8-.7 .7 .2 .7-.8 .7-.8 .7 .3 .8 .2 .7-.3 .7-.1 .7 0 .8 .7 .7-.4 .7 .5 .7-1.3 .7 0 .8-.2 .7-.4 .7-.1 .7 .2 .7-.7 .8 .4 .7 .4 .7-1 .7-.5 .7-.2 .8 .1 .7 .2 .7-.3 .7 0 .7 .4 .8-.1 .7 .2 .7-.9 .7-.5 .7 .3 .8-.1 .7-.2 .7-.3 .7-.4 .7-.2 .8-.2 .7-.1 .7-.1 .7 .1 .8 .5 .7 .6 .7 0 .7-.1 .7-.7 .8-.1 .7-.7 .7 .4 .7 0 .7 .1 .8-.4 .7 .3 .7 .7 .7 .9 .7 .7 .8 .3 .7 .3 .7-.1 .7-.5 .7 0 .8 .2 .7-.2 .7 .7 .7 .3 .7 0 .8 .6 .7 .6 .7 .1 .7 0 .7 .3 .8-.6 .7 .3 .7 0 .7 1.1 .8-.3 .7 .5 .7-.3 .7 .3 .7-.6 .8-.1 .7-.1 .7-.2 .7 .1 .7 .1 .8 .1 .7 .8 .7 1.5 .7 .1 .7 .7 .8-.1 .7-.1 .7 .5 .7 .2 .7-.1 .8 .4 .7-.3 .7 .4 .7 .1 .7 .1 .8 .9 .7 .1 .7 .4 .7-.2 .7 0 .8 .2 .7 .7 .7 .4 .7-.2 .8-.1 .7-.5 .7-.2 .7 1 .7 .2 .8-.6 .7 .7 .7-.5 .7 .3 .7-.4 .8 .1 .7 .4 .7 .2 .7 .4 .7 .2 .8 0 .7 .6 .7 .7" fill="none" stroke="#ff2e1f" stroke-width="1.2" stroke-linejoin="round"/>
<path d="M555.4 354.6l.7-2.5 .7-2.4 .8-2.2 .7-2.1 .7-2.4 .7-1.6 .7-2.1 .8-1.6 .7-.5 .7-1.6 .7-1.7 .7-1.5 .8-.9 .7-1 .7-.9 .7-.6 .7-.5 .8 0 .7 0 .7-.9 .7-1 .8-.6 .7-.7 .7-.4 .7-.6 .7-1 .8-.3 .7 .1 .7 .1 .7-.4 .7-1.1 .8-.3 .7-.8 .7-.1 .7 .5 .7-.6 .8 .2 .7 .1 .7-.2 .7-.9 .7 .7 .8-.3 .7-.4 .7-.2 .7 .1 .7-.8 .8-.1 .7-.3 .7-.6 .7-.2 .7-.4 .8-.5 .7 .6 .7-.4 .7-.4 .8 .1 .7-.5 .7 0 .7-.5 .7-.2 .8-.8 .7-.3 .7 .4 .7 .2 .7-.2 .8-.1 .7 .2 .7-.4 .7 0 .7-.5 .8-.2 .7-.9 .7-.3 .7 .3 .7 .6 .8-.2 .7 0 .7-.3 .7-.2 .7-.4 .8 .3 .7 0 .7 .4 .7-.5 .7-.7 .8 0 .7-.3 .7 .5 .7 0 .8 .1 .7-.4 .7 .2 .7-1.1 .7 .1 .8-.2 .7 .3 .7 .6 .7 .5 .7-.1 .8-.9 .7 .7 .7 0 .7 1 .7 .5 .8-.4 .7 0 .7 .4 .7 1 .7 0 .8-.1 .7-.2 .7-.3 .7 1 .7-.1 .8 .4 .7 .5 .7-.2 .7 1.4 .7 .5 .8 .5 .7 .7 .7-.2 .7-.2 .8-.5 .7-.2 .7 .3 .7 .8 .7 1.5 .8 .2 .7 .7 .7 0 .7 .1 .7-.3 .8 .2 .7-.1 .7 .3 .7-.3 .7 .3 .8-.1 .7 .8 .7 0 .7 .3 .7 .2 .8 .3 .7 .8 .7 0 .7 .3 .7-.3 .8 1 .7 .2 .7 .3 .7 1.5 .7 .1 .8 .1 .7-.2 .7 .5 .7-.1 .8 .2 .7-.3 .7 .3 .7-.4 .7 1.1 .8 .2 .7-.3 .7 .9 .7 .8 .7-.3 .8 .5 .7 .1 .7 .6 .7 0 .7 .3 .8 .7 .7-.3 .7 .5" fill="none" stroke="#1fd21f" stroke-width="1.2" stroke-linejoin="round"/>
<path d="M555.4 354.6l.7-5.1 .7-3 .8-3.4 .7-2.9 .7-3.1 .7-2.9 .7-1.8 .8-2.2 .7-2.4 .7-1.6 .7-1.2 .7-.8 .8-1.5 .7-1.2 .7-.8 .7-1.3 .7-.8 .8-.7 .7-.2 .7-.7 .7-1.7 .8-.9 .7-1.4 .7-.8 .7-.5 .7-.2 .8 0 .7-.8 .7-.2 .7-.7 .7-1.1 .8 .1 .7 .2 .7-.8 .7-.8 .7-.5 .8 0 .7-.5 .7 .3 .7 .6 .7 .5 .8 .1 .7-.1 .7 0 .7-.8 .7-.5 .8-.6 .7-.2 .7 .3 .7-.3 .7-.6 .8 .5 .7-.4 .7 .3 .7-.3 .8 .2 .7-.4 .7-.7 .7-1 .7-.7 .8 0 .7 .5 .7-.7 .7 .4 .7 .3 .8-.2 .7 .1 .7-.2 .7 0 .7 0 .8 0 .7 0 .7-.9 .7 .2 .7 .1 .8 .5 .7-.1 .7-.1 .7-.2 .7 .4 .8 .1 .7-.5 .7 .2 .7-.8 .7-.1 .8 .3 .7-.3 .7-.1 .7-.3 .8-.2 .7-.5 .7 .4 .7-.1 .7-.4 .8 0 .7-.1 .7 .8 .7 .7 .7-.4 .8-.3 .7 .8 .7-.2 .7 .6 .7 1.5 .8 .9 .7 .8 .7 .2 .7 .6 .7 .7 .8 1.2 .7 .7 .7 .7 .7 .6 .7 .5 .8 .4 .7-.2 .7-.3 .7 0 .7 .5 .8 .7 .7 .7 .7 1 .7 1.4 .8 .7 .7 .2 .7-.3 .7-.4 .7 .3 .8-.2 .7 1.3 .7 .3 .7 .8 .7-.7 .8 0 .7 .4 .7 .2 .7 .4 .7-.3 .8 0 .7-.1 .7 1.5 .7 0 .7 1.1 .8 .2 .7-.2 .7-.2 .7-.1 .7 .4 .8 .6 .7 .4 .7 .2 .7 1 .7 .4 .8 .8 .7 .2 .7-.2 .7-.7 .8-.3 .7 .5 .7 1.2 .7 .2 .7 .6 .8-.1 .7 .1 .7 .4 .7 .1 .7 .4 .8 .8 .7 .4 .7-.1 .7 0 .7 0 .8 .9 .7 .4 .7 .4" fill="none" stroke="#ff9426" stroke-width="1.2" stroke-linejoin="round"/>
<path d="M555.4 354.6l.7-6.8 .7-5.6 .8-5.2 .7-4 .7-3.8 .7-2.1 .7-2.6 .8-2.4 .7-2.1 .7-2.1 .7-2.1 .7-2.2 .8-1.8 .7-1.3 .7-.8 .7-.2 .7-.6 .8-.8 .7-.6 .7-.1 .7-.8 .8 0 .7-.6 .7-1.3 .7 .2 .7-.5 .8-.3 .7-.1 .7 0 .7-.7 .7-.3 .8-.7 .7 .4 .7-.8 .7-.6 .7 .4 .8-.9 .7 .3 .7-.7 .7-.5 .7 0 .8-.5 .7-.2 .7-.5 .7-.4 .7 .3 .8 .1 .7 0 .7 .1 .7 .6 .7-.7 .8-.3 .7-.5 .7-.1 .7 .3 .8 0 .7 .5 .7-.4 .7-.5 .7-.9 .8-.1 .7 .3 .7 .5 .7-.4 .7-.2 .8-.3 .7 .3 .7-.2 .7 .1 .7 .1 .8-.7 .7 .3 .7-.3 .7 0 .7 .3 .8-.3 .7 .1 .7-.1 .7-.8 .7-.3 .8 .3 .7-.1 .7-.1 .7-.3 .7-.4 .8 0 .7 .1 .7-.2 .7 0 .8 .4 .7-.5 .7-.2 .7-.1 .7-.2 .8-1.1 .7 .6 .7 0 .7-.1 .7 .3 .8 .4 .7 .6 .7 1 .7-.1 .7 .8 .8 0 .7 .4 .7 .7 .7-.8 .7 1 .8 .1 .7 1 .7 .4 .7 .8 .7-.2 .8 .7 .7 .1 .7 .5 .7 .1 .7 .3 .8 .4 .7 .6 .7 .9 .7 .7 .8 .5 .7-.1 .7 .2 .7 .9 .7 .2 .8 .3 .7 .5 .7 .6 .7 .7 .7 .6 .8 .4 .7-.1 .7 .7 .7 .4 .7-.5 .8 .2 .7-.2 .7-.2 .7 1.3 .7 1.4 .8 .7 .7 .2 .7-.7 .7 0 .7 .1 .8 .4 .7 0 .7 .4 .7 .9 .7 .3 .8 1.1 .7 .5 .7 .9 .7 .1 .8 .7 .7 .7 .7 .5 .7 .3 .7 .2 .8 0 .7-.8 .7 .7 .7 .8 .7 .8 .8 .5 .7-.3 .7-.2 .7 1 .7-.1 .8 .5 .7-.4 .7 .6" fill="none" stroke="#2850f0" stroke-width="1.2" stroke-linejoin="round"/>
<rect x="555.4" y="271" width="126.1" height="83.6" fill="none" stroke="#5a5a5a" stroke-width="1"/>
<path d="M555.4 354.6v1.6M555.4 271v1.6M573.41 354.6v1.6M573.41 271v1.6M591.43 354.6v1.6M591.43 271v1.6M609.44 354.6v1.6M609.44 271v1.6M627.46 354.6v1.6M627.46 271v1.6M645.47 354.6v1.6M645.47 271v1.6M663.49 354.6v1.6M663.49 271v1.6M681.5 354.6v1.6M681.5 271v1.6" stroke="#5a5a5a" stroke-width="0.8"/>
<path d="M553.8 354.6h1.6M679.9 354.6h1.6M553.8 326.73h1.6M679.9 326.73h1.6M553.8 298.87h1.6M679.9 298.87h1.6M553.8 271h1.6M679.9 271h1.6" stroke="#5a5a5a" stroke-width="0.8"/>
<text x="556.6" y="363.8" font-size="7.1" text-anchor="middle" fill="#000">0</text>
<text x="573.41" y="363.8" font-size="7.1" text-anchor="middle" fill="#000">30</text>
<text x="591.43" y="363.8" font-size="7.1" text-anchor="middle" fill="#000">60</text>
<text x="609.44" y="363.8" font-size="7.1" text-anchor="middle" fill="#000">90</text>
<text x="627.46" y="363.8" font-size="7.1" text-anchor="middle" fill="#000">120</text>
<text x="645.47" y="363.8" font-size="7.1" text-anchor="middle" fill="#000">150</text>
<text x="663.49" y="363.8" font-size="7.1" text-anchor="middle" fill="#000">180</text>
<text x="677.7" y="363.8" font-size="7.1" text-anchor="middle" fill="#000">210</text>
<text x="615.4" y="372.2" font-size="7.4" text-anchor="middle" fill="#000">Time (s)</text>
<text x="559.6" y="282.6" font-size="10.3" text-anchor="start" fill="#111" font-weight="bold">47%</text>
<svg x="555.4" y="376.4" width="126.1" height="83.6" viewBox="555.4 376.4 126.1 83.6" overflow="hidden">
<path d="M555.4 412.6l2.1 1.5 2.1 1.2 2.1 .9 2.1 .8 2.1 .3 2.1-.3 2.1-.4 2.1-.5 2.1-.6 2.1-.4 2.1 0 2.1 .4 2.1 .5 2.1 .5 2.1 .4 2.1 .3 2.1 .3 2.1 .3 2.1 .1 2.1 .1 2.1 0 2.1-.1 2.1-.1 2.1-.1 2.1-.2 2.1-.2 2.1-.4 2.1-.8 2.1-1 2.1-1.1 2.2-1.1 2.1-1.2 2.1-.9 2.1-.7 2.1-.6 2.1-.2 2.1 0 2.1 0 2.1 0 2.1 0 2.1 .3 2.1 .9 2.1 1.2 2.1 .9 2.1 .6 2.1 .5 2.1 .4 2.1 0 2.1 0 2.1 0 2.1 0 2.1 0 2.1 0 2.1-.1 2.1 0 2.1-.1 2.1 0 2.1-.1 2.1-.1 2.1-.1" fill="none" stroke="#5ae6ff" stroke-width="0.85"/>
<path d="M555.4 412.6l2.1 1.6 2.1 1.3 2.1 1 2.1 .9 2.1 .4 2.1-.3 2.1-.6 2.1-.6 2.1-.7 2.1-.5 2.1 0 2.1 .4 2.1 .5 2.1 .5 2.1 .4 2.1 .3 2.1 .3 2.1 .3 2.1 .1 2.1 .1 2.1-.1 2.1-.1 2.1-.1 2.1-.3 2.1-.2 2.1-.3 2.1-.5 2.1-.8 2.1-1.1 2.1-1.1 2.2-1 2.1-1.1 2.1-.9 2.1-.7 2.1-.5 2.1-.1 2.1 0 2.1 0 2.1 .1 2.1 0 2.1 .4 2.1 .9 2.1 1.2 2.1 .9 2.1 .6 2.1 .5 2.1 .4 2.1 0 2.1 0 2.1 0 2.1 0 2.1 0 2.1 0 2.1-.1 2.1 0 2.1-.1 2.1 0 2.1-.1 2.1-.1 2.1-.1" fill="none" stroke="#55dcff" stroke-width="0.85"/>
<path d="M555.4 412.5l2.1 1.8 2.1 1.4 2.1 1.3 2.1 1 2.1 .4 2.1-.4 2.1-.7 2.1-.7 2.1-.9 2.1-.6 2.1 0 2.1 .3 2.1 .5 2.1 .5 2.1 .4 2.1 .4 2.1 .3 2.1 .3 2.1 .1 2.1 0 2.1-.1 2.1-.1 2.1-.3 2.1-.3 2.1-.4 2.1-.3 2.1-.6 2.1-.9 2.1-1.1 2.1-1.1 2.2-1 2.1-1 2.1-.8 2.1-.6 2.1-.4 2.1-.1 2.1 .1 2.1 .1 2.1 .1 2.1 0 2.1 .4 2.1 1 2.1 1.1 2.1 1 2.1 .6 2.1 .6 2.1 .3 2.1 0 2.1 0 2.1 0 2.1 0 2.1 0 2.1-.1 2.1 0 2.1 0 2.1-.1 2.1-.1 2.1 0 2.1-.1 2.1-.1" fill="none" stroke="#51d3ff" stroke-width="0.85"/>
<path d="M555.4 412.4l2.1 2 2.1 1.7 2.1 1.4 2.1 1.2 2.1 .5 2.1-.4 2.1-.9 2.1-1 2.1-1.1 2.1-.7 2.1-.1 2.1 .3 2.1 .5 2.1 .6 2.1 .4 2.1 .4 2.1 .3 2.1 .3 2.1 .1 2.1-.1 2.1-.1 2.1-.2 2.1-.3 2.1-.5 2.1-.5 2.1-.5 2.1-.7 2.1-.9 2.1-1.2 2.1-1.1 2.2-.9 2.1-.9 2.1-.7 2.1-.5 2.1-.3 2.1 0 2.1 .1 2.1 .2 2.1 .1 2.1 .2 2.1 .4 2.1 .9 2.1 1.2 2.1 1 2.1 .6 2.1 .6 2.1 .3 2.1 0 2.1 0 2.1 0 2.1 0 2.1 0 2.1-.1 2.1 0 2.1 0 2.1-.1 2.1-.1 2.1 0 2.1-.1 2.1-.1" fill="none" stroke="#4dc9ff" stroke-width="0.85"/>
<path d="M555.4 412.3l2.1 2.2 2.1 1.9 2.1 1.8 2.1 1.4 2.1 .7 2.1-.6 2.1-1.1 2.1-1.3 2.1-1.3 2.1-.9 2.1-.1 2.1 .2 2.1 .5 2.1 .6 2.1 .5 2.1 .4 2.1 .3 2.1 .3 2.1 0 2.1 0 2.1-.3 2.1-.2 2.1-.5 2.1-.6 2.1-.7 2.1-.7 2.1-.8 2.1-1 2.1-1.2 2.1-1.1 2.2-.8 2.1-.9 2.1-.5 2.1-.4 2.1-.1 2.1 .1 2.1 .2 2.1 .2 2.1 .2 2.1 .2 2.1 .5 2.1 1 2.1 1.2 2.1 1 2.1 .6 2.1 .6 2.1 .3 2.1 .1 2.1-.1 2.1 0 2.1 0 2.1 0 2.1-.1 2.1 0 2.1-.1 2.1 0 2.1-.1 2.1-.1 2.1 0 2.1-.1" fill="none" stroke="#49c0ff" stroke-width="0.85"/>
<path d="M555.4 412.2l2.1 2.5 2.1 2.2 2.1 2.1 2.1 1.8 2.1 .8 2.1-.8 2.1-1.3 2.1-1.6 2.1-1.6 2.1-1.2 2.1-.2 2.1 .2 2.1 .5 2.1 .6 2.1 .5 2.1 .4 2.1 .4 2.1 .3 2.1 0 2.1-.2 2.1-.3 2.1-.3 2.1-.6 2.1-.9 2.1-.9 2.1-.8 2.1-1 2.1-1.1 2.1-1.3 2.1-1.1 2.2-.7 2.1-.7 2.1-.4 2.1-.2 2.1 0 2.1 .3 2.1 .3 2.1 .3 2.1 .3 2.1 .3 2.1 .5 2.1 1 2.1 1.3 2.1 1 2.1 .6 2.1 .6 2.1 .3 2.1 .1 2.1-.1 2.1 0 2.1 0 2.1-.1 2.1 0 2.1 0 2.1-.1 2.1 0 2.1-.1 2.1-.1 2.1-.1 2.1 0" fill="none" stroke="#44b6ff" stroke-width="0.85"/>
<path d="M555.4 412.1l2.1 2.7 2.1 2.6 2.1 2.5 2.1 2.1 2.1 1 2.1-1 2.1-1.6 2.1-2 2.1-1.9 2.1-1.3 2.1-.4 2.1 .2 2.1 .5 2.1 .6 2.1 .5 2.1 .5 2.1 .5 2.1 .2 2.1 0 2.1-.3 2.1-.4 2.1-.4 2.1-.8 2.1-1 2.1-1.2 2.1-1 2.1-1.2 2.1-1.2 2.1-1.3 2.1-1.2 2.2-.6 2.1-.5 2.1-.3 2.1 .1 2.1 .2 2.1 .3 2.1 .4 2.1 .4 2.1 .4 2.1 .4 2.1 .6 2.1 1.1 2.1 1.2 2.1 1.1 2.1 .6 2.1 .6 2.1 .4 2.1 0 2.1 0 2.1-.1 2.1 0 2.1-.1 2.1 0 2.1-.1 2.1 0 2.1-.1 2.1 0 2.1-.1 2.1-.1 2.1 0" fill="none" stroke="#40adff" stroke-width="0.85"/>
<path d="M555.4 411.9l2.1 3.1 2.1 2.9 2.1 2.8 2.1 2.4 2.1 1.1 2.1-1.1 2.1-1.9 2.1-2.2 2.1-2.3 2.1-1.5 2.1-.4 2.1 .1 2.1 .5 2.1 .6 2.1 .6 2.1 .5 2.1 .5 2.1 .2 2.1-.1 2.1-.3 2.1-.4 2.1-.6 2.1-.9 2.1-1.2 2.1-1.4 2.1-1.2 2.1-1.4 2.1-1.3 2.1-1.4 2.1-1.1 2.2-.5 2.1-.4 2.1-.1 2.1 .2 2.1 .3 2.1 .5 2.1 .5 2.1 .5 2.1 .5 2.1 .5 2.1 .7 2.1 1 2.1 1.3 2.1 1.1 2.1 .7 2.1 .5 2.1 .4 2.1 0 2.1 0 2.1-.1 2.1 0 2.1-.1 2.1 0 2.1-.1 2.1 0 2.1-.1 2.1 0 2.1-.1 2.1-.1 2.1 0" fill="none" stroke="#3ca3ff" stroke-width="0.85"/>
<path d="M555.4 411.8l2.1 3.3 2.1 3.2 2.1 3.1 2.1 2.6 2.1 1.2 2.1-1.2 2.1-2.1 2.1-2.5 2.1-2.5 2.1-1.7 2.1-.5 2.1 .1 2.1 .5 2.1 .7 2.1 .5 2.1 .6 2.1 .5 2.1 .2 2.1-.1 2.1-.4 2.1-.5 2.1-.6 2.1-1 2.1-1.4 2.1-1.6 2.1-1.3 2.1-1.5 2.1-1.4 2.1-1.5 2.1-1.1 2.2-.5 2.1-.2 2.1 0 2.1 .3 2.1 .5 2.1 .6 2.1 .6 2.1 .6 2.1 .5 2.1 .6 2.1 .7 2.1 1 2.1 1.4 2.1 1.1 2.1 .7 2.1 .5 2.1 .4 2.1 0 2.1 0 2.1-.1 2.1 0 2.1-.1 2.1-.1 2.1 0 2.1-.1 2.1 0 2.1-.1 2.1 0 2.1-.1 2.1 0" fill="none" stroke="#389aff" stroke-width="0.85"/>
<path d="M555.4 411.8l2.1 3.4 2.1 3.3 2.1 3.4 2.1 2.7 2.1 1.4 2.1-1.3 2.1-2.3 2.1-2.7 2.1-2.7 2.1-1.8 2.1-.5 2.1 0 2.1 .6 2.1 .6 2.1 .6 2.1 .6 2.1 .5 2.1 .2 2.1-.1 2.1-.4 2.1-.6 2.1-.7 2.1-1.1 2.1-1.5 2.1-1.7 2.1-1.5 2.1-1.5 2.1-1.5 2.1-1.5 2.1-1.1 2.2-.4 2.1-.1 2.1 0 2.1 .5 2.1 .6 2.1 .6 2.1 .7 2.1 .6 2.1 .6 2.1 .6 2.1 .7 2.1 1.1 2.1 1.3 2.1 1.2 2.1 .7 2.1 .5 2.1 .4 2.1 0 2.1 0 2.1-.1 2.1 0 2.1-.1 2.1-.1 2.1 0 2.1-.1 2.1 0 2.1-.1 2.1 0 2.1-.1 2.1 0" fill="none" stroke="#3490ff" stroke-width="0.85"/>
<path d="M555.4 411.7l2.1 3.6 2.1 3.5 2.1 3.4 2.1 3 2.1 1.4 2.1-1.4 2.1-2.4 2.1-2.9 2.1-2.7 2.1-2 2.1-.5 2.1 0 2.1 .5 2.1 .7 2.1 .6 2.1 .6 2.1 .5 2.1 .2 2.1-.1 2.1-.5 2.1-.6 2.1-.7 2.1-1.2 2.1-1.6 2.1-1.8 2.1-1.6 2.1-1.6 2.1-1.6 2.1-1.4 2.1-1.2 2.2-.3 2.1-.1 2.1 .2 2.1 .5 2.1 .7 2.1 .7 2.1 .7 2.1 .6 2.1 .6 2.1 .7 2.1 .8 2.1 1.1 2.1 1.3 2.1 1.2 2.1 .7 2.1 .5 2.1 .4 2.1 0 2.1 0 2.1-.1 2.1 0 2.1-.1 2.1-.1 2.1 0 2.1-.1 2.1 0 2.1-.1 2.1 0 2.1-.1 2.1 0" fill="none" stroke="#2f87ff" stroke-width="0.85"/>
<path d="M555.4 411.6l2.1 3.7 2.1 3.6 2.1 3.7 2.1 3 2.1 1.5 2.1-1.5 2.1-2.5 2.1-2.9 2.1-2.9 2.1-2.1 2.1-.6 2.1 0 2.1 .6 2.1 .7 2.1 .5 2.1 .7 2.1 .5 2.1 .2 2.1-.2 2.1-.4 2.1-.7 2.1-.8 2.1-1.1 2.1-1.8 2.1-1.8 2.1-1.7 2.1-1.7 2.1-1.6 2.1-1.5 2.1-1.1 2.2-.3 2.1 0 2.1 .2 2.1 .6 2.1 .7 2.1 .8 2.1 .7 2.1 .7 2.1 .6 2.1 .7 2.1 .9 2.1 1.1 2.1 1.3 2.1 1.2 2.1 .7 2.1 .6 2.1 .3 2.1 0 2.1 0 2.1-.1 2.1 0 2.1-.1 2.1-.1 2.1 0 2.1-.1 2.1 0 2.1-.1 2.1 0 2.1-.1 2.1 0" fill="none" stroke="#2b7dff" stroke-width="0.85"/>
<path d="M555.4 411.6l2.1 3.8 2.1 3.7 2.1 3.8 2.1 3.1 2.1 1.5 2.1-1.5 2.1-2.6 2.1-3.1 2.1-3 2.1-2.1 2.1-.6 2.1 0 2.1 .5 2.1 .7 2.1 .6 2.1 .7 2.1 .5 2.1 .2 2.1-.2 2.1-.5 2.1-.6 2.1-.9 2.1-1.2 2.1-1.8 2.1-1.9 2.1-1.7 2.1-1.8 2.1-1.6 2.1-1.5 2.1-1.2 2.2-.3 2.1 .1 2.1 .3 2.1 .6 2.1 .8 2.1 .8 2.1 .8 2.1 .7 2.1 .7 2.1 .7 2.1 .8 2.1 1.1 2.1 1.4 2.1 1.2 2.1 .7 2.1 .6 2.1 .3 2.1 0 2.1 0 2.1-.1 2.1-.1 2.1 0 2.1-.1 2.1-.1 2.1 0 2.1-.1 2.1 0 2.1-.1 2.1 0 2.1 0" fill="none" stroke="#2774ff" stroke-width="0.85"/>
<path d="M555.4 411.6l2.1 3.8 2.1 3.9 2.1 3.8 2.1 3.3 2.1 1.6 2.1-1.6 2.1-2.7 2.1-3.2 2.1-3.1 2.1-2.2 2.1-.6 2.1 0 2.1 .5 2.1 .7 2.1 .6 2.1 .6 2.1 .6 2.1 .2 2.1-.2 2.1-.5 2.1-.7 2.1-.8 2.1-1.3 2.1-1.9 2.1-2 2.1-1.8 2.1-1.8 2.1-1.6 2.1-1.6 2.1-1.2 2.2-.2 2.1 .1 2.1 .3 2.1 .7 2.1 .9 2.1 .8 2.1 .8 2.1 .8 2.1 .7 2.1 .7 2.1 .9 2.1 1.1 2.1 1.4 2.1 1.2 2.1 .7 2.1 .6 2.1 .3 2.1 .1 2.1-.1 2.1-.1 2.1-.1 2.1 0 2.1-.1 2.1-.1 2.1 0 2.1-.1 2.1 0 2.1-.1 2.1 0 2.1 0" fill="none" stroke="#236aff" stroke-width="0.85"/>
<path d="M555.4 411.5l2.1 4 2.1 3.9 2.1 4 2.1 3.3 2.1 1.6 2.1-1.6 2.1-2.8 2.1-3.2 2.1-3.2 2.1-2.2 2.1-.7 2.1-.1 2.1 .6 2.1 .7 2.1 .6 2.1 .6 2.1 .6 2.1 .2 2.1-.2 2.1-.5 2.1-.8 2.1-.8 2.1-1.4 2.1-1.9 2.1-2 2.1-1.9 2.1-1.9 2.1-1.7 2.1-1.5 2.1-1.2 2.2-.2 2.1 .2 2.1 .3 2.1 .8 2.1 .9 2.1 .9 2.1 .8 2.1 .8 2.1 .7 2.1 .8 2.1 .9 2.1 1.1 2.1 1.4 2.1 1.2 2.1 .7 2.1 .6 2.1 .3 2.1 .1 2.1-.1 2.1-.1 2.1-.1 2.1 0 2.1-.1 2.1-.1 2.1 0 2.1-.1 2.1 0 2.1-.1 2.1 0 2.1 0" fill="none" stroke="#1f61ff" stroke-width="0.85"/>
<path d="M555.4 411.5l2.1 4 2.1 4 2.1 4.1 2.1 3.5 2.1 1.6 2.1-1.6 2.1-2.9 2.1-3.4 2.1-3.3 2.1-2.2 2.1-.8 2.1 0 2.1 .5 2.1 .7 2.1 .7 2.1 .6 2.1 .6 2.1 .2 2.1-.2 2.1-.6 2.1-.7 2.1-.9 2.1-1.4 2.1-2 2.1-2.1 2.1-1.9 2.1-1.9 2.1-1.7 2.1-1.6 2.1-1.2 2.2-.2 2.1 .2 2.1 .4 2.1 .8 2.1 1 2.1 .9 2.1 .9 2.1 .8 2.1 .7 2.1 .8 2.1 1 2.1 1.1 2.1 1.4 2.1 1.2 2.1 .7 2.1 .6 2.1 .3 2.1 .1 2.1-.1 2.1-.1 2.1-.1 2.1 0 2.1-.1 2.1-.1 2.1 0 2.1-.1 2.1 0 2.1-.1 2.1 0 2.1 0" fill="none" stroke="#1a57ff" stroke-width="0.85"/>
<path d="M555.4 411.4l2.1 4.2 2.1 4.1 2.1 4.2 2.1 3.5 2.1 1.7 2.1-1.7 2.1-2.9 2.1-3.5 2.1-3.4 2.1-2.3 2.1-.8 2.1 0 2.1 .5 2.1 .7 2.1 .6 2.1 .7 2.1 .6 2.1 .2 2.1-.2 2.1-.6 2.1-.8 2.1-.9 2.1-1.4 2.1-2.1 2.1-2.2 2.1-1.9 2.1-2 2.1-1.7 2.1-1.6 2.1-1.2 2.2-.2 2.1 .3 2.1 .4 2.1 .9 2.1 1 2.1 1 2.1 .8 2.1 .9 2.1 .8 2.1 .8 2.1 .9 2.1 1.2 2.1 1.4 2.1 1.2 2.1 .7 2.1 .6 2.1 .3 2.1 .1 2.1-.1 2.1-.1 2.1-.1 2.1 0 2.1-.1 2.1-.1 2.1 0 2.1-.1 2.1 0 2.1-.1 2.1 0 2.1 0" fill="none" stroke="#164eff" stroke-width="0.85"/>
<path d="M555.4 411.4l2.1 4.2 2.1 4.2 2.1 4.3 2.1 3.6 2.1 1.8 2.1-1.8 2.1-3 2.1-3.5 2.1-3.5 2.1-2.4 2.1-.8 2.1-.1 2.1 .6 2.1 .7 2.1 .6 2.1 .7 2.1 .6 2.1 .2 2.1-.2 2.1-.6 2.1-.8 2.1-1 2.1-1.4 2.1-2.2 2.1-2.2 2.1-2 2.1-2.1 2.1-1.7 2.1-1.6 2.1-1.2 2.2-.1 2.1 .3 2.1 .5 2.1 .8 2.1 1.1 2.1 1 2.1 .9 2.1 .9 2.1 .8 2.1 .9 2.1 .9 2.1 1.1 2.1 1.5 2.1 1.2 2.1 .7 2.1 .6 2.1 .3 2.1 .1 2.1-.1 2.1-.1 2.1-.1 2.1 0 2.1-.1 2.1-.1 2.1 0 2.1-.1 2.1 0 2.1-.1 2.1 0 2.1 0" fill="none" stroke="#1244ff" stroke-width="0.85"/>
<path d="M555.4 411.4l2.1 4.3 2.1 4.3 2.1 4.4 2.1 3.7 2.1 1.8 2.1-1.8 2.1-3.1 2.1-3.7 2.1-3.5 2.1-2.5 2.1-.8 2.1-.1 2.1 .5 2.1 .8 2.1 .6 2.1 .7 2.1 .6 2.1 .2 2.1-.2 2.1-.7 2.1-.8 2.1-1 2.1-1.5 2.1-2.1 2.1-2.4 2.1-2 2.1-2.1 2.1-1.8 2.1-1.6 2.1-1.2 2.2-.1 2.1 .3 2.1 .6 2.1 .9 2.1 1.1 2.1 1.1 2.1 .9 2.1 .9 2.1 .8 2.1 .9 2.1 1 2.1 1.1 2.1 1.4 2.1 1.3 2.1 .7 2.1 .6 2.1 .3 2.1 .1 2.1-.1 2.1-.1 2.1-.1 2.1 0 2.1-.1 2.1-.1 2.1-.1 2.1 0 2.1 0 2.1-.1 2.1 0 2.1 0" fill="none" stroke="#0e3bff" stroke-width="0.85"/>
<path d="M555.4 411.3l2.1 4.4 2.1 4.4 2.1 4.5 2.1 3.8 2.1 1.9 2.1-1.9 2.1-3.2 2.1-3.7 2.1-3.7 2.1-2.5 2.1-.8 2.1-.1 2.1 .5 2.1 .7 2.1 .7 2.1 .7 2.1 .6 2.1 .2 2.1-.3 2.1-.6 2.1-.9 2.1-1 2.1-1.5 2.1-2.2 2.1-2.4 2.1-2.2 2.1-2.1 2.1-1.8 2.1-1.7 2.1-1.2 2.2 0 2.1 .4 2.1 .6 2.1 1 2.1 1.1 2.1 1.1 2.1 1 2.1 .9 2.1 .8 2.1 1 2.1 1 2.1 1.1 2.1 1.4 2.1 1.3 2.1 .7 2.1 .6 2.1 .4 2.1 0 2.1-.1 2.1-.1 2.1-.1 2.1 0 2.1-.1 2.1-.1 2.1-.1 2.1 0 2.1-.1 2.1 0 2.1 0 2.1 0" fill="none" stroke="#0a32ff" stroke-width="1.7"/>
</svg>
<line x1="555.4" y1="413.56" x2="681.5" y2="413.56" stroke="#444" stroke-width="0.8" stroke-dasharray="1.2 1.3"/>
<rect x="555.4" y="376.4" width="126.1" height="83.6" fill="none" stroke="#5a5a5a" stroke-width="1"/>
<path d="M555.4 460v1.6M555.4 376.4v1.6M576.42 460v1.6M576.42 376.4v1.6M597.43 460v1.6M597.43 376.4v1.6M618.45 460v1.6M618.45 376.4v1.6M639.47 460v1.6M639.47 376.4v1.6M660.48 460v1.6M660.48 376.4v1.6M681.5 460v1.6M681.5 376.4v1.6" stroke="#5a5a5a" stroke-width="0.8"/>
<path d="M553.8 450.71h1.6M679.9 450.71h1.6M553.8 432.13h1.6M679.9 432.13h1.6M553.8 413.56h1.6M679.9 413.56h1.6M553.8 394.98h1.6M679.9 394.98h1.6M553.8 376.4h1.6M679.9 376.4h1.6" stroke="#5a5a5a" stroke-width="0.8"/>
<text x="558.6" y="468.9" font-size="7.2" text-anchor="middle" fill="#000">200</text>
<text x="576.42" y="468.9" font-size="7.2" text-anchor="middle" fill="#000">220</text>
<text x="597.43" y="468.9" font-size="7.2" text-anchor="middle" fill="#000">240</text>
<text x="618.45" y="468.9" font-size="7.2" text-anchor="middle" fill="#000">260</text>
<text x="639.47" y="468.9" font-size="7.2" text-anchor="middle" fill="#000">280</text>
<text x="660.48" y="468.9" font-size="7.2" text-anchor="middle" fill="#000">300</text>
<text x="677.1" y="468.9" font-size="7.2" text-anchor="middle" fill="#000">320</text>
<text x="622.35" y="477.4" font-size="7.2" text-anchor="middle" fill="#000">Wavelength (nm)</text>
<text x="559" y="387" font-size="10.3" text-anchor="start" fill="#222">47%</text>
<rect x="28.2" y="481.9" width="122.6" height="73.6" fill="none" stroke="#5a5a5a" stroke-width="1"/>
<path d="M28.2 555.5v1.6M28.2 481.9v1.6M44.31 555.5v1.6M44.31 481.9v1.6M60.42 555.5v1.6M60.42 481.9v1.6M76.53 555.5v1.6M76.53 481.9v1.6M92.64 555.5v1.6M92.64 481.9v1.6M108.75 555.5v1.6M108.75 481.9v1.6M124.86 555.5v1.6M124.86 481.9v1.6M140.97 555.5v1.6M140.97 481.9v1.6" stroke="#5a5a5a" stroke-width="0.8"/>
<text x="26" y="558.09" font-size="7.2" text-anchor="end" fill="#000">0.0</text>
<text x="26" y="521.29" font-size="7.2" text-anchor="end" fill="#000">0.5</text>
<text x="26" y="484.49" font-size="7.2" text-anchor="end" fill="#000">1.0</text>
<path d="M26.6 555.5h1.6M149.2 555.5h1.6M26.6 518.7h1.6M149.2 518.7h1.6M26.6 481.9h1.6M149.2 481.9h1.6" stroke="#5a5a5a" stroke-width="0.8"/>
<text x="28.2" y="564.4" font-size="7.2" text-anchor="middle" fill="#000">20</text>
<text x="44.31" y="564.4" font-size="7.2" text-anchor="middle" fill="#000">30</text>
<text x="60.42" y="564.4" font-size="7.2" text-anchor="middle" fill="#000">40</text>
<text x="76.53" y="564.4" font-size="7.2" text-anchor="middle" fill="#000">50</text>
<text x="92.64" y="564.4" font-size="7.2" text-anchor="middle" fill="#000">60</text>
<text x="108.75" y="564.4" font-size="7.2" text-anchor="middle" fill="#000">70</text>
<text x="124.86" y="564.4" font-size="7.2" text-anchor="middle" fill="#000">80</text>
<text x="140.97" y="564.4" font-size="7.2" text-anchor="middle" fill="#000">90</text>
<text x="89.7" y="574.8" font-size="7.2" text-anchor="middle" fill="#000">Temperature °C</text>
<g fill="#1446ff"><circle cx="28.2" cy="482" r="1.25"/><circle cx="29.8" cy="482" r="1.25"/><circle cx="31.4" cy="482" r="1.25"/><circle cx="33" cy="482" r="1.25"/><circle cx="34.6" cy="482.1" r="1.25"/><circle cx="36.3" cy="482.2" r="1.25"/><circle cx="37.9" cy="482.3" r="1.25"/><circle cx="39.5" cy="482.4" r="1.25"/><circle cx="41.1" cy="482.6" r="1.25"/><circle cx="42.7" cy="482.9" r="1.25"/><circle cx="44.3" cy="483.3" r="1.25"/><circle cx="45.9" cy="483.9" r="1.25"/><circle cx="47.5" cy="484.6" r="1.25"/><circle cx="49.1" cy="485.6" r="1.25"/><circle cx="50.8" cy="487" r="1.25"/><circle cx="52.4" cy="488.8" r="1.25"/><circle cx="54" cy="491.2" r="1.25"/><circle cx="55.6" cy="494.3" r="1.25"/><circle cx="57.2" cy="498.1" r="1.25"/><circle cx="58.8" cy="502.7" r="1.25"/><circle cx="60.4" cy="508" r="1.25"/><circle cx="62" cy="513.8" r="1.25"/><circle cx="63.6" cy="519.9" r="1.25"/><circle cx="65.3" cy="526" r="1.25"/><circle cx="66.9" cy="531.6" r="1.25"/><circle cx="68.5" cy="536.7" r="1.25"/><circle cx="70.1" cy="540.9" r="1.25"/><circle cx="71.7" cy="544.4" r="1.25"/><circle cx="73.3" cy="547.2" r="1.25"/><circle cx="74.9" cy="549.4" r="1.25"/><circle cx="76.5" cy="551" r="1.25"/><circle cx="78.1" cy="552.2" r="1.25"/><circle cx="79.8" cy="553.1" r="1.25"/><circle cx="81.4" cy="553.8" r="1.25"/><circle cx="83" cy="554.3" r="1.25"/><circle cx="84.6" cy="554.6" r="1.25"/><circle cx="86.2" cy="554.9" r="1.25"/><circle cx="87.8" cy="555" r="1.25"/><circle cx="89.4" cy="555.2" r="1.25"/><circle cx="91" cy="555.3" r="1.25"/><circle cx="92.6" cy="555.3" r="1.25"/><circle cx="94.3" cy="555.4" r="1.25"/><circle cx="95.9" cy="555.4" r="1.25"/><circle cx="97.5" cy="555.4" r="1.25"/><circle cx="99.1" cy="555.5" r="1.25"/><circle cx="100.7" cy="555.5" r="1.25"/><circle cx="102.3" cy="555.5" r="1.25"/><circle cx="103.9" cy="555.5" r="1.25"/><circle cx="105.5" cy="555.5" r="1.25"/><circle cx="107.1" cy="555.5" r="1.25"/><circle cx="108.8" cy="555.5" r="1.25"/><circle cx="110.4" cy="555.5" r="1.25"/><circle cx="112" cy="555.5" r="1.25"/><circle cx="113.6" cy="555.5" r="1.25"/><circle cx="115.2" cy="555.5" r="1.25"/><circle cx="116.8" cy="555.5" r="1.25"/><circle cx="118.4" cy="555.5" r="1.25"/><circle cx="120" cy="555.5" r="1.25"/><circle cx="121.6" cy="555.5" r="1.25"/><circle cx="123.2" cy="555.5" r="1.25"/><circle cx="124.9" cy="555.5" r="1.25"/><circle cx="126.5" cy="555.5" r="1.25"/><circle cx="128.1" cy="555.5" r="1.25"/><circle cx="129.7" cy="555.5" r="1.25"/><circle cx="131.3" cy="555.5" r="1.25"/><circle cx="132.9" cy="555.5" r="1.25"/><circle cx="134.5" cy="555.5" r="1.25"/><circle cx="136.1" cy="555.5" r="1.25"/><circle cx="137.7" cy="555.5" r="1.25"/><circle cx="139.4" cy="555.5" r="1.25"/><circle cx="141" cy="555.5" r="1.25"/><circle cx="142.6" cy="555.5" r="1.25"/><circle cx="144.2" cy="555.5" r="1.25"/><circle cx="145.8" cy="555.5" r="1.25"/><circle cx="147.4" cy="555.5" r="1.25"/><circle cx="149" cy="555.5" r="1.25"/><circle cx="150.6" cy="555.5" r="1.25"/></g>
<g fill="#ff8a00"><circle cx="28.2" cy="555.4" r="1.25"/><circle cx="29.8" cy="555.4" r="1.25"/><circle cx="31.4" cy="555.4" r="1.25"/><circle cx="33" cy="555.4" r="1.25"/><circle cx="34.6" cy="555.3" r="1.25"/><circle cx="36.3" cy="555.2" r="1.25"/><circle cx="37.9" cy="555.1" r="1.25"/><circle cx="39.5" cy="555" r="1.25"/><circle cx="41.1" cy="554.8" r="1.25"/><circle cx="42.7" cy="554.5" r="1.25"/><circle cx="44.3" cy="554.1" r="1.25"/><circle cx="45.9" cy="553.5" r="1.25"/><circle cx="47.5" cy="552.8" r="1.25"/><circle cx="49.1" cy="551.8" r="1.25"/><circle cx="50.8" cy="550.4" r="1.25"/><circle cx="52.4" cy="548.6" r="1.25"/><circle cx="54" cy="546.2" r="1.25"/><circle cx="55.6" cy="543.1" r="1.25"/><circle cx="57.2" cy="539.3" r="1.25"/><circle cx="58.8" cy="534.7" r="1.25"/><circle cx="60.4" cy="529.4" r="1.25"/><circle cx="62" cy="523.6" r="1.25"/><circle cx="63.6" cy="517.5" r="1.25"/><circle cx="65.3" cy="511.4" r="1.25"/><circle cx="66.9" cy="505.8" r="1.25"/><circle cx="68.5" cy="500.7" r="1.25"/><circle cx="70.1" cy="496.5" r="1.25"/><circle cx="71.7" cy="493" r="1.25"/><circle cx="73.3" cy="490.2" r="1.25"/><circle cx="74.9" cy="488" r="1.25"/><circle cx="76.5" cy="486.4" r="1.25"/><circle cx="78.1" cy="485.2" r="1.25"/><circle cx="79.8" cy="484.3" r="1.25"/><circle cx="81.4" cy="483.6" r="1.25"/><circle cx="83" cy="483.1" r="1.25"/><circle cx="84.6" cy="482.8" r="1.25"/><circle cx="86.2" cy="482.5" r="1.25"/><circle cx="87.8" cy="482.4" r="1.25"/><circle cx="89.4" cy="482.2" r="1.25"/><circle cx="91" cy="482.1" r="1.25"/><circle cx="92.6" cy="482.1" r="1.25"/><circle cx="94.3" cy="482" r="1.25"/><circle cx="95.9" cy="482" r="1.25"/><circle cx="97.5" cy="482" r="1.25"/><circle cx="99.1" cy="481.9" r="1.25"/><circle cx="100.7" cy="481.9" r="1.25"/><circle cx="102.3" cy="481.9" r="1.25"/><circle cx="103.9" cy="481.9" r="1.25"/><circle cx="105.5" cy="481.9" r="1.25"/><circle cx="107.1" cy="481.9" r="1.25"/><circle cx="108.8" cy="481.9" r="1.25"/><circle cx="110.4" cy="481.9" r="1.25"/><circle cx="112" cy="481.9" r="1.25"/><circle cx="113.6" cy="481.9" r="1.25"/><circle cx="115.2" cy="481.9" r="1.25"/><circle cx="116.8" cy="481.9" r="1.25"/><circle cx="118.4" cy="481.9" r="1.25"/><circle cx="120" cy="481.9" r="1.25"/><circle cx="121.6" cy="481.9" r="1.25"/><circle cx="123.2" cy="481.9" r="1.25"/><circle cx="124.9" cy="481.9" r="1.25"/><circle cx="126.5" cy="481.9" r="1.25"/><circle cx="128.1" cy="481.9" r="1.25"/><circle cx="129.7" cy="481.9" r="1.25"/><circle cx="131.3" cy="481.9" r="1.25"/><circle cx="132.9" cy="481.9" r="1.25"/><circle cx="134.5" cy="481.9" r="1.25"/><circle cx="136.1" cy="481.9" r="1.25"/><circle cx="137.7" cy="481.9" r="1.25"/><circle cx="139.4" cy="481.9" r="1.25"/><circle cx="141" cy="481.9" r="1.25"/><circle cx="142.6" cy="481.9" r="1.25"/><circle cx="144.2" cy="481.9" r="1.25"/><circle cx="145.8" cy="481.9" r="1.25"/><circle cx="147.4" cy="481.9" r="1.25"/><circle cx="149" cy="481.9" r="1.25"/><circle cx="150.6" cy="481.9" r="1.25"/></g>
<text x="30.2" y="496.7" font-size="10.3" text-anchor="start" fill="#222">0%</text>
<text x="69.5" y="522.1" font-size="7" font-weight="bold" fill="#111">T<tspan font-size="4.6" dy="1.4">m</tspan><tspan dy="-1.4">=41.8°C</tspan></text>
<rect x="159.9" y="481.9" width="122.5" height="73.6" fill="none" stroke="#5a5a5a" stroke-width="1"/>
<path d="M159.9 555.5v1.6M159.9 481.9v1.6M176.01 555.5v1.6M176.01 481.9v1.6M192.12 555.5v1.6M192.12 481.9v1.6M208.23 555.5v1.6M208.23 481.9v1.6M224.34 555.5v1.6M224.34 481.9v1.6M240.45 555.5v1.6M240.45 481.9v1.6M256.56 555.5v1.6M256.56 481.9v1.6M272.67 555.5v1.6M272.67 481.9v1.6" stroke="#5a5a5a" stroke-width="0.8"/>
<path d="M158.3 555.5h1.6M280.8 555.5h1.6M158.3 518.7h1.6M280.8 518.7h1.6M158.3 481.9h1.6M280.8 481.9h1.6" stroke="#5a5a5a" stroke-width="0.8"/>
<text x="159.9" y="564.4" font-size="7.2" text-anchor="middle" fill="#000">20</text>
<text x="176.01" y="564.4" font-size="7.2" text-anchor="middle" fill="#000">30</text>
<text x="192.12" y="564.4" font-size="7.2" text-anchor="middle" fill="#000">40</text>
<text x="208.23" y="564.4" font-size="7.2" text-anchor="middle" fill="#000">50</text>
<text x="224.34" y="564.4" font-size="7.2" text-anchor="middle" fill="#000">60</text>
<text x="240.45" y="564.4" font-size="7.2" text-anchor="middle" fill="#000">70</text>
<text x="256.56" y="564.4" font-size="7.2" text-anchor="middle" fill="#000">80</text>
<text x="272.67" y="564.4" font-size="7.2" text-anchor="middle" fill="#000">90</text>
<text x="221.35" y="574.8" font-size="7.2" text-anchor="middle" fill="#000">Temperature °C</text>
<g fill="#1446ff"><circle cx="159.9" cy="481.9" r="1.25"/><circle cx="161.5" cy="481.9" r="1.25"/><circle cx="163.1" cy="481.9" r="1.25"/><circle cx="164.7" cy="481.9" r="1.25"/><circle cx="166.3" cy="482" r="1.25"/><circle cx="168" cy="482" r="1.25"/><circle cx="169.6" cy="482" r="1.25"/><circle cx="171.2" cy="482.1" r="1.25"/><circle cx="172.8" cy="482.1" r="1.25"/><circle cx="174.4" cy="482.2" r="1.25"/><circle cx="176" cy="482.4" r="1.25"/><circle cx="177.6" cy="482.6" r="1.25"/><circle cx="179.2" cy="482.8" r="1.25"/><circle cx="180.8" cy="483.2" r="1.25"/><circle cx="182.5" cy="483.8" r="1.25"/><circle cx="184.1" cy="484.6" r="1.25"/><circle cx="185.7" cy="485.6" r="1.25"/><circle cx="187.3" cy="487.1" r="1.25"/><circle cx="188.9" cy="489.1" r="1.25"/><circle cx="190.5" cy="491.8" r="1.25"/><circle cx="192.1" cy="495.3" r="1.25"/><circle cx="193.7" cy="499.7" r="1.25"/><circle cx="195.3" cy="504.9" r="1.25"/><circle cx="197" cy="510.9" r="1.25"/><circle cx="198.6" cy="517.4" r="1.25"/><circle cx="200.2" cy="523.9" r="1.25"/><circle cx="201.8" cy="530.1" r="1.25"/><circle cx="203.4" cy="535.7" r="1.25"/><circle cx="205" cy="540.4" r="1.25"/><circle cx="206.6" cy="544.3" r="1.25"/><circle cx="208.2" cy="547.3" r="1.25"/><circle cx="209.8" cy="549.5" r="1.25"/><circle cx="211.5" cy="551.2" r="1.25"/><circle cx="213.1" cy="552.5" r="1.25"/><circle cx="214.7" cy="553.3" r="1.25"/><circle cx="216.3" cy="554" r="1.25"/><circle cx="217.9" cy="554.4" r="1.25"/><circle cx="219.5" cy="554.7" r="1.25"/><circle cx="221.1" cy="555" r="1.25"/><circle cx="222.7" cy="555.1" r="1.25"/><circle cx="224.3" cy="555.2" r="1.25"/><circle cx="226" cy="555.3" r="1.25"/><circle cx="227.6" cy="555.4" r="1.25"/><circle cx="229.2" cy="555.4" r="1.25"/><circle cx="230.8" cy="555.4" r="1.25"/><circle cx="232.4" cy="555.5" r="1.25"/><circle cx="234" cy="555.5" r="1.25"/><circle cx="235.6" cy="555.5" r="1.25"/><circle cx="237.2" cy="555.5" r="1.25"/><circle cx="238.8" cy="555.5" r="1.25"/><circle cx="240.4" cy="555.5" r="1.25"/><circle cx="242.1" cy="555.5" r="1.25"/><circle cx="243.7" cy="555.5" r="1.25"/><circle cx="245.3" cy="555.5" r="1.25"/><circle cx="246.9" cy="555.5" r="1.25"/><circle cx="248.5" cy="555.5" r="1.25"/><circle cx="250.1" cy="555.5" r="1.25"/><circle cx="251.7" cy="555.5" r="1.25"/><circle cx="253.3" cy="555.5" r="1.25"/><circle cx="254.9" cy="555.5" r="1.25"/><circle cx="256.6" cy="555.5" r="1.25"/><circle cx="258.2" cy="555.5" r="1.25"/><circle cx="259.8" cy="555.5" r="1.25"/><circle cx="261.4" cy="555.5" r="1.25"/><circle cx="263" cy="555.5" r="1.25"/><circle cx="264.6" cy="555.5" r="1.25"/><circle cx="266.2" cy="555.5" r="1.25"/><circle cx="267.8" cy="555.5" r="1.25"/><circle cx="269.4" cy="555.5" r="1.25"/><circle cx="271.1" cy="555.5" r="1.25"/><circle cx="272.7" cy="555.5" r="1.25"/><circle cx="274.3" cy="555.5" r="1.25"/><circle cx="275.9" cy="555.5" r="1.25"/><circle cx="277.5" cy="555.5" r="1.25"/><circle cx="279.1" cy="555.5" r="1.25"/><circle cx="280.7" cy="555.5" r="1.25"/><circle cx="282.3" cy="555.5" r="1.25"/></g>
<g fill="#ff8a00"><circle cx="159.9" cy="555.5" r="1.25"/><circle cx="161.5" cy="555.5" r="1.25"/><circle cx="163.1" cy="555.5" r="1.25"/><circle cx="164.7" cy="555.5" r="1.25"/><circle cx="166.3" cy="555.4" r="1.25"/><circle cx="168" cy="555.4" r="1.25"/><circle cx="169.6" cy="555.4" r="1.25"/><circle cx="171.2" cy="555.3" r="1.25"/><circle cx="172.8" cy="555.3" r="1.25"/><circle cx="174.4" cy="555.2" r="1.25"/><circle cx="176" cy="555" r="1.25"/><circle cx="177.6" cy="554.8" r="1.25"/><circle cx="179.2" cy="554.6" r="1.25"/><circle cx="180.8" cy="554.2" r="1.25"/><circle cx="182.5" cy="553.6" r="1.25"/><circle cx="184.1" cy="552.8" r="1.25"/><circle cx="185.7" cy="551.8" r="1.25"/><circle cx="187.3" cy="550.3" r="1.25"/><circle cx="188.9" cy="548.3" r="1.25"/><circle cx="190.5" cy="545.6" r="1.25"/><circle cx="192.1" cy="542.1" r="1.25"/><circle cx="193.7" cy="537.7" r="1.25"/><circle cx="195.3" cy="532.5" r="1.25"/><circle cx="197" cy="526.5" r="1.25"/><circle cx="198.6" cy="520" r="1.25"/><circle cx="200.2" cy="513.5" r="1.25"/><circle cx="201.8" cy="507.3" r="1.25"/><circle cx="203.4" cy="501.7" r="1.25"/><circle cx="205" cy="497" r="1.25"/><circle cx="206.6" cy="493.1" r="1.25"/><circle cx="208.2" cy="490.1" r="1.25"/><circle cx="209.8" cy="487.9" r="1.25"/><circle cx="211.5" cy="486.2" r="1.25"/><circle cx="213.1" cy="484.9" r="1.25"/><circle cx="214.7" cy="484.1" r="1.25"/><circle cx="216.3" cy="483.4" r="1.25"/><circle cx="217.9" cy="483" r="1.25"/><circle cx="219.5" cy="482.7" r="1.25"/><circle cx="221.1" cy="482.4" r="1.25"/><circle cx="222.7" cy="482.3" r="1.25"/><circle cx="224.3" cy="482.2" r="1.25"/><circle cx="226" cy="482.1" r="1.25"/><circle cx="227.6" cy="482" r="1.25"/><circle cx="229.2" cy="482" r="1.25"/><circle cx="230.8" cy="482" r="1.25"/><circle cx="232.4" cy="481.9" r="1.25"/><circle cx="234" cy="481.9" r="1.25"/><circle cx="235.6" cy="481.9" r="1.25"/><circle cx="237.2" cy="481.9" r="1.25"/><circle cx="238.8" cy="481.9" r="1.25"/><circle cx="240.4" cy="481.9" r="1.25"/><circle cx="242.1" cy="481.9" r="1.25"/><circle cx="243.7" cy="481.9" r="1.25"/><circle cx="245.3" cy="481.9" r="1.25"/><circle cx="246.9" cy="481.9" r="1.25"/><circle cx="248.5" cy="481.9" r="1.25"/><circle cx="250.1" cy="481.9" r="1.25"/><circle cx="251.7" cy="481.9" r="1.25"/><circle cx="253.3" cy="481.9" r="1.25"/><circle cx="254.9" cy="481.9" r="1.25"/><circle cx="256.6" cy="481.9" r="1.25"/><circle cx="258.2" cy="481.9" r="1.25"/><circle cx="259.8" cy="481.9" r="1.25"/><circle cx="261.4" cy="481.9" r="1.25"/><circle cx="263" cy="481.9" r="1.25"/><circle cx="264.6" cy="481.9" r="1.25"/><circle cx="266.2" cy="481.9" r="1.25"/><circle cx="267.8" cy="481.9" r="1.25"/><circle cx="269.4" cy="481.9" r="1.25"/><circle cx="271.1" cy="481.9" r="1.25"/><circle cx="272.7" cy="481.9" r="1.25"/><circle cx="274.3" cy="481.9" r="1.25"/><circle cx="275.9" cy="481.9" r="1.25"/><circle cx="277.5" cy="481.9" r="1.25"/><circle cx="279.1" cy="481.9" r="1.25"/><circle cx="280.7" cy="481.9" r="1.25"/><circle cx="282.3" cy="481.9" r="1.25"/></g>
<text x="161.9" y="496.7" font-size="10.3" text-anchor="start" fill="#222">3%</text>
<text x="209.2" y="520.8" font-size="7" font-weight="bold" fill="#111">T<tspan font-size="4.6" dy="1.4">m</tspan><tspan dy="-1.4">=44.2°C</tspan></text>
<rect x="292.4" y="481.9" width="122.1" height="73.6" fill="none" stroke="#5a5a5a" stroke-width="1"/>
<path d="M292.4 555.5v1.6M292.4 481.9v1.6M308.51 555.5v1.6M308.51 481.9v1.6M324.62 555.5v1.6M324.62 481.9v1.6M340.73 555.5v1.6M340.73 481.9v1.6M356.84 555.5v1.6M356.84 481.9v1.6M372.95 555.5v1.6M372.95 481.9v1.6M389.06 555.5v1.6M389.06 481.9v1.6M405.17 555.5v1.6M405.17 481.9v1.6" stroke="#5a5a5a" stroke-width="0.8"/>
<path d="M290.8 555.5h1.6M412.9 555.5h1.6M290.8 518.7h1.6M412.9 518.7h1.6M290.8 481.9h1.6M412.9 481.9h1.6" stroke="#5a5a5a" stroke-width="0.8"/>
<text x="292.4" y="564.4" font-size="7.2" text-anchor="middle" fill="#000">20</text>
<text x="308.51" y="564.4" font-size="7.2" text-anchor="middle" fill="#000">30</text>
<text x="324.62" y="564.4" font-size="7.2" text-anchor="middle" fill="#000">40</text>
<text x="340.73" y="564.4" font-size="7.2" text-anchor="middle" fill="#000">50</text>
<text x="356.84" y="564.4" font-size="7.2" text-anchor="middle" fill="#000">60</text>
<text x="372.95" y="564.4" font-size="7.2" text-anchor="middle" fill="#000">70</text>
<text x="389.06" y="564.4" font-size="7.2" text-anchor="middle" fill="#000">80</text>
<text x="405.17" y="564.4" font-size="7.2" text-anchor="middle" fill="#000">90</text>
<text x="353.65" y="574.8" font-size="7.2" text-anchor="middle" fill="#000">Temperature °C</text>
<g fill="#1446ff"><circle cx="292.4" cy="481.9" r="1.25"/><circle cx="294" cy="481.9" r="1.25"/><circle cx="295.6" cy="481.9" r="1.25"/><circle cx="297.2" cy="481.9" r="1.25"/><circle cx="298.8" cy="481.9" r="1.25"/><circle cx="300.5" cy="481.9" r="1.25"/><circle cx="302.1" cy="481.9" r="1.25"/><circle cx="303.7" cy="481.9" r="1.25"/><circle cx="305.3" cy="481.9" r="1.25"/><circle cx="306.9" cy="481.9" r="1.25"/><circle cx="308.5" cy="481.9" r="1.25"/><circle cx="310.1" cy="481.9" r="1.25"/><circle cx="311.7" cy="481.9" r="1.25"/><circle cx="313.3" cy="481.9" r="1.25"/><circle cx="315" cy="481.9" r="1.25"/><circle cx="316.6" cy="482" r="1.25"/><circle cx="318.2" cy="482" r="1.25"/><circle cx="319.8" cy="482" r="1.25"/><circle cx="321.4" cy="482.1" r="1.25"/><circle cx="323" cy="482.1" r="1.25"/><circle cx="324.6" cy="482.3" r="1.25"/><circle cx="326.2" cy="482.4" r="1.25"/><circle cx="327.8" cy="482.7" r="1.25"/><circle cx="329.5" cy="483" r="1.25"/><circle cx="331.1" cy="483.6" r="1.25"/><circle cx="332.7" cy="484.3" r="1.25"/><circle cx="334.3" cy="485.4" r="1.25"/><circle cx="335.9" cy="486.9" r="1.25"/><circle cx="337.5" cy="489" r="1.25"/><circle cx="339.1" cy="491.9" r="1.25"/><circle cx="340.7" cy="495.8" r="1.25"/><circle cx="342.3" cy="500.6" r="1.25"/><circle cx="344" cy="506.4" r="1.25"/><circle cx="345.6" cy="513.1" r="1.25"/><circle cx="347.2" cy="520.1" r="1.25"/><circle cx="348.8" cy="527" r="1.25"/><circle cx="350.4" cy="533.4" r="1.25"/><circle cx="352" cy="538.9" r="1.25"/><circle cx="353.6" cy="543.3" r="1.25"/><circle cx="355.2" cy="546.7" r="1.25"/><circle cx="356.8" cy="549.3" r="1.25"/><circle cx="358.5" cy="551.2" r="1.25"/><circle cx="360.1" cy="552.5" r="1.25"/><circle cx="361.7" cy="553.4" r="1.25"/><circle cx="363.3" cy="554.1" r="1.25"/><circle cx="364.9" cy="554.5" r="1.25"/><circle cx="366.5" cy="554.8" r="1.25"/><circle cx="368.1" cy="555" r="1.25"/><circle cx="369.7" cy="555.2" r="1.25"/><circle cx="371.3" cy="555.3" r="1.25"/><circle cx="372.9" cy="555.4" r="1.25"/><circle cx="374.6" cy="555.4" r="1.25"/><circle cx="376.2" cy="555.4" r="1.25"/><circle cx="377.8" cy="555.5" r="1.25"/><circle cx="379.4" cy="555.5" r="1.25"/><circle cx="381" cy="555.5" r="1.25"/><circle cx="382.6" cy="555.5" r="1.25"/><circle cx="384.2" cy="555.5" r="1.25"/><circle cx="385.8" cy="555.5" r="1.25"/><circle cx="387.4" cy="555.5" r="1.25"/><circle cx="389.1" cy="555.5" r="1.25"/><circle cx="390.7" cy="555.5" r="1.25"/><circle cx="392.3" cy="555.5" r="1.25"/><circle cx="393.9" cy="555.5" r="1.25"/><circle cx="395.5" cy="555.5" r="1.25"/><circle cx="397.1" cy="555.5" r="1.25"/><circle cx="398.7" cy="555.5" r="1.25"/><circle cx="400.3" cy="555.5" r="1.25"/><circle cx="401.9" cy="555.5" r="1.25"/><circle cx="403.6" cy="555.5" r="1.25"/><circle cx="405.2" cy="555.5" r="1.25"/><circle cx="406.8" cy="555.5" r="1.25"/><circle cx="408.4" cy="555.5" r="1.25"/><circle cx="410" cy="555.5" r="1.25"/><circle cx="411.6" cy="555.5" r="1.25"/><circle cx="413.2" cy="555.5" r="1.25"/></g>
<g fill="#ff8a00"><circle cx="292.4" cy="555.5" r="1.25"/><circle cx="294" cy="555.5" r="1.25"/><circle cx="295.6" cy="555.5" r="1.25"/><circle cx="297.2" cy="555.5" r="1.25"/><circle cx="298.8" cy="555.5" r="1.25"/><circle cx="300.5" cy="555.5" r="1.25"/><circle cx="302.1" cy="555.5" r="1.25"/><circle cx="303.7" cy="555.5" r="1.25"/><circle cx="305.3" cy="555.5" r="1.25"/><circle cx="306.9" cy="555.5" r="1.25"/><circle cx="308.5" cy="555.5" r="1.25"/><circle cx="310.1" cy="555.5" r="1.25"/><circle cx="311.7" cy="555.5" r="1.25"/><circle cx="313.3" cy="555.5" r="1.25"/><circle cx="315" cy="555.5" r="1.25"/><circle cx="316.6" cy="555.4" r="1.25"/><circle cx="318.2" cy="555.4" r="1.25"/><circle cx="319.8" cy="555.4" r="1.25"/><circle cx="321.4" cy="555.3" r="1.25"/><circle cx="323" cy="555.3" r="1.25"/><circle cx="324.6" cy="555.1" r="1.25"/><circle cx="326.2" cy="555" r="1.25"/><circle cx="327.8" cy="554.7" r="1.25"/><circle cx="329.5" cy="554.4" r="1.25"/><circle cx="331.1" cy="553.8" r="1.25"/><circle cx="332.7" cy="553.1" r="1.25"/><circle cx="334.3" cy="552" r="1.25"/><circle cx="335.9" cy="550.5" r="1.25"/><circle cx="337.5" cy="548.4" r="1.25"/><circle cx="339.1" cy="545.5" r="1.25"/><circle cx="340.7" cy="541.6" r="1.25"/><circle cx="342.3" cy="536.8" r="1.25"/><circle cx="344" cy="531" r="1.25"/><circle cx="345.6" cy="524.3" r="1.25"/><circle cx="347.2" cy="517.3" r="1.25"/><circle cx="348.8" cy="510.4" r="1.25"/><circle cx="350.4" cy="504" r="1.25"/><circle cx="352" cy="498.5" r="1.25"/><circle cx="353.6" cy="494.1" r="1.25"/><circle cx="355.2" cy="490.7" r="1.25"/><circle cx="356.8" cy="488.1" r="1.25"/><circle cx="358.5" cy="486.2" r="1.25"/><circle cx="360.1" cy="484.9" r="1.25"/><circle cx="361.7" cy="484" r="1.25"/><circle cx="363.3" cy="483.3" r="1.25"/><circle cx="364.9" cy="482.9" r="1.25"/><circle cx="366.5" cy="482.6" r="1.25"/><circle cx="368.1" cy="482.4" r="1.25"/><circle cx="369.7" cy="482.2" r="1.25"/><circle cx="371.3" cy="482.1" r="1.25"/><circle cx="372.9" cy="482" r="1.25"/><circle cx="374.6" cy="482" r="1.25"/><circle cx="376.2" cy="482" r="1.25"/><circle cx="377.8" cy="481.9" r="1.25"/><circle cx="379.4" cy="481.9" r="1.25"/><circle cx="381" cy="481.9" r="1.25"/><circle cx="382.6" cy="481.9" r="1.25"/><circle cx="384.2" cy="481.9" r="1.25"/><circle cx="385.8" cy="481.9" r="1.25"/><circle cx="387.4" cy="481.9" r="1.25"/><circle cx="389.1" cy="481.9" r="1.25"/><circle cx="390.7" cy="481.9" r="1.25"/><circle cx="392.3" cy="481.9" r="1.25"/><circle cx="393.9" cy="481.9" r="1.25"/><circle cx="395.5" cy="481.9" r="1.25"/><circle cx="397.1" cy="481.9" r="1.25"/><circle cx="398.7" cy="481.9" r="1.25"/><circle cx="400.3" cy="481.9" r="1.25"/><circle cx="401.9" cy="481.9" r="1.25"/><circle cx="403.6" cy="481.9" r="1.25"/><circle cx="405.2" cy="481.9" r="1.25"/><circle cx="406.8" cy="481.9" r="1.25"/><circle cx="408.4" cy="481.9" r="1.25"/><circle cx="410" cy="481.9" r="1.25"/><circle cx="411.6" cy="481.9" r="1.25"/><circle cx="413.2" cy="481.9" r="1.25"/></g>
<text x="294.4" y="496.7" font-size="10.3" text-anchor="start" fill="#222">17%</text>
<text x="303.9" y="523.1" font-size="7" font-weight="bold" fill="#111">T<tspan font-size="4.6" dy="1.4">m</tspan><tspan dy="-1.4">=53.8°C</tspan></text>
<rect x="424.2" y="481.9" width="122.5" height="73.6" fill="none" stroke="#5a5a5a" stroke-width="1"/>
<path d="M424.2 555.5v1.6M424.2 481.9v1.6M440.31 555.5v1.6M440.31 481.9v1.6M456.42 555.5v1.6M456.42 481.9v1.6M472.53 555.5v1.6M472.53 481.9v1.6M488.64 555.5v1.6M488.64 481.9v1.6M504.75 555.5v1.6M504.75 481.9v1.6M520.86 555.5v1.6M520.86 481.9v1.6M536.97 555.5v1.6M536.97 481.9v1.6" stroke="#5a5a5a" stroke-width="0.8"/>
<path d="M422.6 555.5h1.6M545.1 555.5h1.6M422.6 518.7h1.6M545.1 518.7h1.6M422.6 481.9h1.6M545.1 481.9h1.6" stroke="#5a5a5a" stroke-width="0.8"/>
<text x="424.2" y="564.4" font-size="7.2" text-anchor="middle" fill="#000">20</text>
<text x="440.31" y="564.4" font-size="7.2" text-anchor="middle" fill="#000">30</text>
<text x="456.42" y="564.4" font-size="7.2" text-anchor="middle" fill="#000">40</text>
<text x="472.53" y="564.4" font-size="7.2" text-anchor="middle" fill="#000">50</text>
<text x="488.64" y="564.4" font-size="7.2" text-anchor="middle" fill="#000">60</text>
<text x="504.75" y="564.4" font-size="7.2" text-anchor="middle" fill="#000">70</text>
<text x="520.86" y="564.4" font-size="7.2" text-anchor="middle" fill="#000">80</text>
<text x="536.97" y="564.4" font-size="7.2" text-anchor="middle" fill="#000">90</text>
<text x="485.65" y="574.8" font-size="7.2" text-anchor="middle" fill="#000">Temperature °C</text>
<g fill="#1446ff"><circle cx="424.2" cy="481.9" r="1.25"/><circle cx="425.8" cy="481.9" r="1.25"/><circle cx="427.4" cy="481.9" r="1.25"/><circle cx="429" cy="481.9" r="1.25"/><circle cx="430.6" cy="481.9" r="1.25"/><circle cx="432.3" cy="481.9" r="1.25"/><circle cx="433.9" cy="481.9" r="1.25"/><circle cx="435.5" cy="481.9" r="1.25"/><circle cx="437.1" cy="481.9" r="1.25"/><circle cx="438.7" cy="481.9" r="1.25"/><circle cx="440.3" cy="481.9" r="1.25"/><circle cx="441.9" cy="481.9" r="1.25"/><circle cx="443.5" cy="481.9" r="1.25"/><circle cx="445.1" cy="481.9" r="1.25"/><circle cx="446.8" cy="481.9" r="1.25"/><circle cx="448.4" cy="481.9" r="1.25"/><circle cx="450" cy="481.9" r="1.25"/><circle cx="451.6" cy="481.9" r="1.25"/><circle cx="453.2" cy="481.9" r="1.25"/><circle cx="454.8" cy="481.9" r="1.25"/><circle cx="456.4" cy="481.9" r="1.25"/><circle cx="458" cy="481.9" r="1.25"/><circle cx="459.6" cy="482" r="1.25"/><circle cx="461.3" cy="482" r="1.25"/><circle cx="462.9" cy="482" r="1.25"/><circle cx="464.5" cy="482" r="1.25"/><circle cx="466.1" cy="482.1" r="1.25"/><circle cx="467.7" cy="482.1" r="1.25"/><circle cx="469.3" cy="482.2" r="1.25"/><circle cx="470.9" cy="482.3" r="1.25"/><circle cx="472.5" cy="482.5" r="1.25"/><circle cx="474.1" cy="482.7" r="1.25"/><circle cx="475.8" cy="483" r="1.25"/><circle cx="477.4" cy="483.3" r="1.25"/><circle cx="479" cy="483.8" r="1.25"/><circle cx="480.6" cy="484.5" r="1.25"/><circle cx="482.2" cy="485.4" r="1.25"/><circle cx="483.8" cy="486.5" r="1.25"/><circle cx="485.4" cy="488.1" r="1.25"/><circle cx="487" cy="490" r="1.25"/><circle cx="488.6" cy="492.4" r="1.25"/><circle cx="490.3" cy="495.5" r="1.25"/><circle cx="491.9" cy="499.2" r="1.25"/><circle cx="493.5" cy="503.5" r="1.25"/><circle cx="495.1" cy="508.4" r="1.25"/><circle cx="496.7" cy="513.7" r="1.25"/><circle cx="498.3" cy="519.3" r="1.25"/><circle cx="499.9" cy="524.8" r="1.25"/><circle cx="501.5" cy="530" r="1.25"/><circle cx="503.1" cy="534.8" r="1.25"/><circle cx="504.8" cy="539" r="1.25"/><circle cx="506.4" cy="542.6" r="1.25"/><circle cx="508" cy="545.5" r="1.25"/><circle cx="509.6" cy="547.8" r="1.25"/><circle cx="511.2" cy="549.7" r="1.25"/><circle cx="512.8" cy="551.1" r="1.25"/><circle cx="514.4" cy="552.2" r="1.25"/><circle cx="516" cy="553" r="1.25"/><circle cx="517.6" cy="553.7" r="1.25"/><circle cx="519.2" cy="554.1" r="1.25"/><circle cx="520.9" cy="554.5" r="1.25"/><circle cx="522.5" cy="554.7" r="1.25"/><circle cx="524.1" cy="554.9" r="1.25"/><circle cx="525.7" cy="555.1" r="1.25"/><circle cx="527.3" cy="555.2" r="1.25"/><circle cx="528.9" cy="555.3" r="1.25"/><circle cx="530.5" cy="555.3" r="1.25"/><circle cx="532.1" cy="555.4" r="1.25"/><circle cx="533.7" cy="555.4" r="1.25"/><circle cx="535.4" cy="555.4" r="1.25"/><circle cx="537" cy="555.5" r="1.25"/><circle cx="538.6" cy="555.5" r="1.25"/><circle cx="540.2" cy="555.5" r="1.25"/><circle cx="541.8" cy="555.5" r="1.25"/><circle cx="543.4" cy="555.5" r="1.25"/><circle cx="545" cy="555.5" r="1.25"/><circle cx="546.6" cy="555.5" r="1.25"/></g>
<g fill="#ff8a00"><circle cx="424.2" cy="555.5" r="1.25"/><circle cx="425.8" cy="555.5" r="1.25"/><circle cx="427.4" cy="555.5" r="1.25"/><circle cx="429" cy="555.5" r="1.25"/><circle cx="430.6" cy="555.5" r="1.25"/><circle cx="432.3" cy="555.5" r="1.25"/><circle cx="433.9" cy="555.5" r="1.25"/><circle cx="435.5" cy="555.5" r="1.25"/><circle cx="437.1" cy="555.5" r="1.25"/><circle cx="438.7" cy="555.5" r="1.25"/><circle cx="440.3" cy="555.5" r="1.25"/><circle cx="441.9" cy="555.5" r="1.25"/><circle cx="443.5" cy="555.5" r="1.25"/><circle cx="445.1" cy="555.5" r="1.25"/><circle cx="446.8" cy="555.5" r="1.25"/><circle cx="448.4" cy="555.5" r="1.25"/><circle cx="450" cy="555.5" r="1.25"/><circle cx="451.6" cy="555.5" r="1.25"/><circle cx="453.2" cy="555.5" r="1.25"/><circle cx="454.8" cy="555.5" r="1.25"/><circle cx="456.4" cy="555.5" r="1.25"/><circle cx="458" cy="555.5" r="1.25"/><circle cx="459.6" cy="555.4" r="1.25"/><circle cx="461.3" cy="555.4" r="1.25"/><circle cx="462.9" cy="555.4" r="1.25"/><circle cx="464.5" cy="555.4" r="1.25"/><circle cx="466.1" cy="555.3" r="1.25"/><circle cx="467.7" cy="555.3" r="1.25"/><circle cx="469.3" cy="555.2" r="1.25"/><circle cx="470.9" cy="555.1" r="1.25"/><circle cx="472.5" cy="554.9" r="1.25"/><circle cx="474.1" cy="554.7" r="1.25"/><circle cx="475.8" cy="554.4" r="1.25"/><circle cx="477.4" cy="554.1" r="1.25"/><circle cx="479" cy="553.6" r="1.25"/><circle cx="480.6" cy="552.9" r="1.25"/><circle cx="482.2" cy="552" r="1.25"/><circle cx="483.8" cy="550.9" r="1.25"/><circle cx="485.4" cy="549.3" r="1.25"/><circle cx="487" cy="547.4" r="1.25"/><circle cx="488.6" cy="545" r="1.25"/><circle cx="490.3" cy="541.9" r="1.25"/><circle cx="491.9" cy="538.2" r="1.25"/><circle cx="493.5" cy="533.9" r="1.25"/><circle cx="495.1" cy="529" r="1.25"/><circle cx="496.7" cy="523.7" r="1.25"/><circle cx="498.3" cy="518.1" r="1.25"/><circle cx="499.9" cy="512.6" r="1.25"/><circle cx="501.5" cy="507.4" r="1.25"/><circle cx="503.1" cy="502.6" r="1.25"/><circle cx="504.8" cy="498.4" r="1.25"/><circle cx="506.4" cy="494.8" r="1.25"/><circle cx="508" cy="491.9" r="1.25"/><circle cx="509.6" cy="489.6" r="1.25"/><circle cx="511.2" cy="487.7" r="1.25"/><circle cx="512.8" cy="486.3" r="1.25"/><circle cx="514.4" cy="485.2" r="1.25"/><circle cx="516" cy="484.4" r="1.25"/><circle cx="517.6" cy="483.7" r="1.25"/><circle cx="519.2" cy="483.3" r="1.25"/><circle cx="520.9" cy="482.9" r="1.25"/><circle cx="522.5" cy="482.7" r="1.25"/><circle cx="524.1" cy="482.5" r="1.25"/><circle cx="525.7" cy="482.3" r="1.25"/><circle cx="527.3" cy="482.2" r="1.25"/><circle cx="528.9" cy="482.1" r="1.25"/><circle cx="530.5" cy="482.1" r="1.25"/><circle cx="532.1" cy="482" r="1.25"/><circle cx="533.7" cy="482" r="1.25"/><circle cx="535.4" cy="482" r="1.25"/><circle cx="537" cy="481.9" r="1.25"/><circle cx="538.6" cy="481.9" r="1.25"/><circle cx="540.2" cy="481.9" r="1.25"/><circle cx="541.8" cy="481.9" r="1.25"/><circle cx="543.4" cy="481.9" r="1.25"/><circle cx="545" cy="481.9" r="1.25"/><circle cx="546.6" cy="481.9" r="1.25"/></g>
<text x="426.2" y="496.7" font-size="10.3" text-anchor="start" fill="#222">33%</text>
<text x="454.8" y="522.8" font-size="7" font-weight="bold" fill="#111">T<tspan font-size="4.6" dy="1.4">m</tspan><tspan dy="-1.4">=65.9°C</tspan></text>
<rect x="556.3" y="481.9" width="122.1" height="73.6" fill="none" stroke="#5a5a5a" stroke-width="1"/>
<path d="M556.3 555.5v1.6M556.3 481.9v1.6M572.41 555.5v1.6M572.41 481.9v1.6M588.52 555.5v1.6M588.52 481.9v1.6M604.63 555.5v1.6M604.63 481.9v1.6M620.74 555.5v1.6M620.74 481.9v1.6M636.85 555.5v1.6M636.85 481.9v1.6M652.96 555.5v1.6M652.96 481.9v1.6M669.07 555.5v1.6M669.07 481.9v1.6" stroke="#5a5a5a" stroke-width="0.8"/>
<path d="M554.7 555.5h1.6M676.8 555.5h1.6M554.7 518.7h1.6M676.8 518.7h1.6M554.7 481.9h1.6M676.8 481.9h1.6" stroke="#5a5a5a" stroke-width="0.8"/>
<text x="556.3" y="564.4" font-size="7.2" text-anchor="middle" fill="#000">20</text>
<text x="572.41" y="564.4" font-size="7.2" text-anchor="middle" fill="#000">30</text>
<text x="588.52" y="564.4" font-size="7.2" text-anchor="middle" fill="#000">40</text>
<text x="604.63" y="564.4" font-size="7.2" text-anchor="middle" fill="#000">50</text>
<text x="620.74" y="564.4" font-size="7.2" text-anchor="middle" fill="#000">60</text>
<text x="636.85" y="564.4" font-size="7.2" text-anchor="middle" fill="#000">70</text>
<text x="652.96" y="564.4" font-size="7.2" text-anchor="middle" fill="#000">80</text>
<text x="669.07" y="564.4" font-size="7.2" text-anchor="middle" fill="#000">90</text>
<text x="617.55" y="574.8" font-size="7.2" text-anchor="middle" fill="#000">Temperature °C</text>
<g fill="#1446ff"><circle cx="556.3" cy="482.1" r="1.25"/><circle cx="557.9" cy="482.1" r="1.25"/><circle cx="559.5" cy="482.1" r="1.25"/><circle cx="561.1" cy="482.1" r="1.25"/><circle cx="562.7" cy="482.1" r="1.25"/><circle cx="564.4" cy="482.2" r="1.25"/><circle cx="566" cy="482.2" r="1.25"/><circle cx="567.6" cy="482.2" r="1.25"/><circle cx="569.2" cy="482.3" r="1.25"/><circle cx="570.8" cy="482.3" r="1.25"/><circle cx="572.4" cy="482.4" r="1.25"/><circle cx="574" cy="482.4" r="1.25"/><circle cx="575.6" cy="482.5" r="1.25"/><circle cx="577.2" cy="482.6" r="1.25"/><circle cx="578.9" cy="482.6" r="1.25"/><circle cx="580.5" cy="482.7" r="1.25"/><circle cx="582.1" cy="482.8" r="1.25"/><circle cx="583.7" cy="482.9" r="1.25"/><circle cx="585.3" cy="483.1" r="1.25"/><circle cx="586.9" cy="483.2" r="1.25"/><circle cx="588.5" cy="483.3" r="1.25"/><circle cx="590.1" cy="483.5" r="1.25"/><circle cx="591.7" cy="483.7" r="1.25"/><circle cx="593.4" cy="483.9" r="1.25"/><circle cx="595" cy="484.1" r="1.25"/><circle cx="596.6" cy="484.4" r="1.25"/><circle cx="598.2" cy="484.7" r="1.25"/><circle cx="599.8" cy="485" r="1.25"/><circle cx="601.4" cy="485.3" r="1.25"/><circle cx="603" cy="485.7" r="1.25"/><circle cx="604.6" cy="486.1" r="1.25"/><circle cx="606.2" cy="486.6" r="1.25"/><circle cx="607.9" cy="487.1" r="1.25"/><circle cx="609.5" cy="487.7" r="1.25"/><circle cx="611.1" cy="488.3" r="1.25"/><circle cx="612.7" cy="489" r="1.25"/><circle cx="614.3" cy="489.7" r="1.25"/><circle cx="615.9" cy="490.5" r="1.25"/><circle cx="617.5" cy="491.4" r="1.25"/><circle cx="619.1" cy="492.3" r="1.25"/><circle cx="620.7" cy="493.4" r="1.25"/><circle cx="622.4" cy="494.5" r="1.25"/><circle cx="624" cy="495.7" r="1.25"/><circle cx="625.6" cy="497" r="1.25"/><circle cx="627.2" cy="498.4" r="1.25"/><circle cx="628.8" cy="499.8" r="1.25"/><circle cx="630.4" cy="501.4" r="1.25"/><circle cx="632" cy="503" r="1.25"/><circle cx="633.6" cy="504.7" r="1.25"/><circle cx="635.2" cy="506.5" r="1.25"/><circle cx="636.8" cy="508.4" r="1.25"/><circle cx="638.5" cy="510.3" r="1.25"/><circle cx="640.1" cy="512.2" r="1.25"/><circle cx="641.7" cy="514.2" r="1.25"/><circle cx="643.3" cy="516.3" r="1.25"/><circle cx="644.9" cy="518.3" r="1.25"/><circle cx="646.5" cy="520.3" r="1.25"/><circle cx="648.1" cy="522.4" r="1.25"/><circle cx="649.7" cy="524.4" r="1.25"/><circle cx="651.3" cy="526.4" r="1.25"/><circle cx="653" cy="528.3" r="1.25"/><circle cx="654.6" cy="530.2" r="1.25"/><circle cx="656.2" cy="532" r="1.25"/><circle cx="657.8" cy="533.7" r="1.25"/><circle cx="659.4" cy="535.4" r="1.25"/><circle cx="661" cy="537" r="1.25"/><circle cx="662.6" cy="538.5" r="1.25"/><circle cx="664.2" cy="539.9" r="1.25"/><circle cx="665.8" cy="541.2" r="1.25"/><circle cx="667.5" cy="542.4" r="1.25"/><circle cx="669.1" cy="543.6" r="1.25"/><circle cx="670.7" cy="544.7" r="1.25"/><circle cx="672.3" cy="545.6" r="1.25"/><circle cx="673.9" cy="546.6" r="1.25"/><circle cx="675.5" cy="547.4" r="1.25"/><circle cx="677.1" cy="548.2" r="1.25"/></g>
<g fill="#ff8a00"><circle cx="556.3" cy="555.3" r="1.25"/><circle cx="557.9" cy="555.3" r="1.25"/><circle cx="559.5" cy="555.3" r="1.25"/><circle cx="561.1" cy="555.3" r="1.25"/><circle cx="562.7" cy="555.3" r="1.25"/><circle cx="564.4" cy="555.2" r="1.25"/><circle cx="566" cy="555.2" r="1.25"/><circle cx="567.6" cy="555.2" r="1.25"/><circle cx="569.2" cy="555.1" r="1.25"/><circle cx="570.8" cy="555.1" r="1.25"/><circle cx="572.4" cy="555" r="1.25"/><circle cx="574" cy="555" r="1.25"/><circle cx="575.6" cy="554.9" r="1.25"/><circle cx="577.2" cy="554.8" r="1.25"/><circle cx="578.9" cy="554.8" r="1.25"/><circle cx="580.5" cy="554.7" r="1.25"/><circle cx="582.1" cy="554.6" r="1.25"/><circle cx="583.7" cy="554.5" r="1.25"/><circle cx="585.3" cy="554.3" r="1.25"/><circle cx="586.9" cy="554.2" r="1.25"/><circle cx="588.5" cy="554.1" r="1.25"/><circle cx="590.1" cy="553.9" r="1.25"/><circle cx="591.7" cy="553.7" r="1.25"/><circle cx="593.4" cy="553.5" r="1.25"/><circle cx="595" cy="553.3" r="1.25"/><circle cx="596.6" cy="553" r="1.25"/><circle cx="598.2" cy="552.7" r="1.25"/><circle cx="599.8" cy="552.4" r="1.25"/><circle cx="601.4" cy="552.1" r="1.25"/><circle cx="603" cy="551.7" r="1.25"/><circle cx="604.6" cy="551.3" r="1.25"/><circle cx="606.2" cy="550.8" r="1.25"/><circle cx="607.9" cy="550.3" r="1.25"/><circle cx="609.5" cy="549.7" r="1.25"/><circle cx="611.1" cy="549.1" r="1.25"/><circle cx="612.7" cy="548.4" r="1.25"/><circle cx="614.3" cy="547.7" r="1.25"/><circle cx="615.9" cy="546.9" r="1.25"/><circle cx="617.5" cy="546" r="1.25"/><circle cx="619.1" cy="545.1" r="1.25"/><circle cx="620.7" cy="544" r="1.25"/><circle cx="622.4" cy="542.9" r="1.25"/><circle cx="624" cy="541.7" r="1.25"/><circle cx="625.6" cy="540.4" r="1.25"/><circle cx="627.2" cy="539" r="1.25"/><circle cx="628.8" cy="537.6" r="1.25"/><circle cx="630.4" cy="536" r="1.25"/><circle cx="632" cy="534.4" r="1.25"/><circle cx="633.6" cy="532.7" r="1.25"/><circle cx="635.2" cy="530.9" r="1.25"/><circle cx="636.8" cy="529" r="1.25"/><circle cx="638.5" cy="527.1" r="1.25"/><circle cx="640.1" cy="525.2" r="1.25"/><circle cx="641.7" cy="523.2" r="1.25"/><circle cx="643.3" cy="521.1" r="1.25"/><circle cx="644.9" cy="519.1" r="1.25"/><circle cx="646.5" cy="517.1" r="1.25"/><circle cx="648.1" cy="515" r="1.25"/><circle cx="649.7" cy="513" r="1.25"/><circle cx="651.3" cy="511" r="1.25"/><circle cx="653" cy="509.1" r="1.25"/><circle cx="654.6" cy="507.2" r="1.25"/><circle cx="656.2" cy="505.4" r="1.25"/><circle cx="657.8" cy="503.7" r="1.25"/><circle cx="659.4" cy="502" r="1.25"/><circle cx="661" cy="500.4" r="1.25"/><circle cx="662.6" cy="498.9" r="1.25"/><circle cx="664.2" cy="497.5" r="1.25"/><circle cx="665.8" cy="496.2" r="1.25"/><circle cx="667.5" cy="495" r="1.25"/><circle cx="669.1" cy="493.8" r="1.25"/><circle cx="670.7" cy="492.7" r="1.25"/><circle cx="672.3" cy="491.8" r="1.25"/><circle cx="673.9" cy="490.8" r="1.25"/><circle cx="675.5" cy="490" r="1.25"/><circle cx="677.1" cy="489.2" r="1.25"/></g>
<text x="558.3" y="496.7" font-size="10.3" text-anchor="start" fill="#222">47%</text>
<text x="590.2" y="522.8" font-size="7" font-weight="bold" fill="#111">T<tspan font-size="4.6" dy="1.4">m</tspan><tspan dy="-1.4">=75.2°C</tspan></text>
<text x="124.3" y="281.6" font-size="7.3" text-anchor="start" fill="#2850f0">500 nM</text>
<text x="124.3" y="291.35" font-size="7.3" text-anchor="start" fill="#ff9426">250 nM</text>
<text x="124.3" y="301.1" font-size="7.3" text-anchor="start" fill="#1fd21f">125 nM</text>
<text x="124.3" y="310.85" font-size="7.3" text-anchor="start" fill="#ff2e1f">62.5 nM</text>
<text x="124.3" y="320.6" font-size="7.3" text-anchor="start" fill="#ee44ee">31.5 nM</text>
<text x="124.3" y="330.35" font-size="7.3" text-anchor="start" fill="#a07a4a">15.6 nM</text>
<text x="119.7" y="490.6" font-size="7.3" text-anchor="start" fill="#1446ff">Folded</text>
<text x="120.4" y="497.2" font-size="7.3" text-anchor="start" fill="#ff8a00">Unfolded</text>
<defs><linearGradient id="cb" x1="0" x2="1"><stop offset="0" stop-color="#0a32ff"/><stop offset="1" stop-color="#5ae6ff"/></linearGradient></defs>
<rect x="34.1" y="447.6" width="23.5" height="8" fill="url(#cb)" stroke="#333" stroke-width="0.6"/>
<text x="30.6" y="446.2" font-size="6.5" text-anchor="start" fill="#000">20</text>
<text x="52.6" y="446.2" font-size="6.5" text-anchor="start" fill="#000">97</text>
<text x="59.8" y="454.2" font-size="6.5" text-anchor="start" fill="#000">T(°C)</text>
<text x="12.6" y="306.3" font-size="7.4" text-anchor="middle" fill="#000" transform="rotate(-90 12.6 306.3)">Response (nm)</text>
<text x="12.6" y="414.1" font-size="7.4" text-anchor="middle" fill="#000" transform="rotate(-90 12.6 414.1)">CD (mdeg)</text>
<text x="12.6" y="519" font-size="7.4" text-anchor="middle" fill="#000" transform="rotate(-90 12.6 519)">Normalized Fraction</text>
<path d="M29.4 675.4l.3-.5 .3-.4 .3-.4 .3-.5 .3-.4 .3-.4 .3-.3 .3-.4 .3-.4 .3-.3 .3-.4 .3-.3 .3-.3 .3-.3 .3-.3 .3-.3 .3-.2 .3-.3 .3-.3 .3-.2 .3-.3 1.1-.8 1.1-.7 1.1-.7 1.1-.5 1.2-.6 1.1-.4 1.1-.4 1.1-.4 1.1-.3 1.1-.3 1.1-.2 1.1-.2 1.2-.2 1.1-.2 1.1-.2 1.1-.1 1.1-.1 1.1-.2 1.1-.1 1.1-.1 1.2 0 1.1-.1 1.1-.1 1.1 0 1.1-.1 1.1 0 1.1-.1 1.1 0 1.2-.1 1.1 0 1.1 0 1.1 0 1.1-.1 1.1 0 1.1 0 1.2 0 1.1-.1 1.1 0 1.1 0 1.1 0 1.1 0 1.1 0 1.1 0 1.2-.1 1.1 0 1.1 0 1.1 0 1.1 0 1.1 0 1.1 0 1.1 0 1.2 0 1.1 0 1.1 0 1.1 0 1.1 0 1.1-.1 1.1 0 1.1 0 .3 .1 .5 .1 .5 .1 .4 0 .5 .1 .4 .1 .5 .1 .4 .1 .5 0 .5 .1 .4 .1 .5 0 .4 .1 .5 .1 .4 .1 .5 0 .5 .1 .4 .1 .5 0 .4 .1 .6 .1 1.2 .1 1.1 .2 1.1 .1 1.2 .2 1.1 .1 1.2 .2 1.1 .1 1.1 .1 1.2 .1 1.1 .1 1.1 .2 1.2 .1 1.1 .1 1.2 .1 1.1 .1 1.1 .1 1.2 .1 1.1 .1 1.1 .1 1.2 0 1.1 .1 1.2 .1 1.1 .1 1.1 .1 1.2 0 1.1 .1 1.1 .1 1.2 0 1.1 .1 1.2 .1 1.1 0 1.1 .1 1.2 0 1.1 .1 1.1 .1 1.2 0 1.1 .1 1.2 0 1.1 .1" fill="none" stroke="#111" stroke-width="0.8"/>
<path d="M29.4 675.4l.3-.3 .3-.3 .3-.3 .3-.2 .3-.3 .3-.3 .3-.2 .3-.3 .3-.2 .3-.3 .3-.2 .3-.3 .3-.2 .3-.2 .3-.2 .3-.3 .3-.2 .3-.2 .3-.2 .3-.2 .3-.2 1.1-.7 1.1-.7 1.1-.6 1.1-.5 1.2-.6 1.1-.5 1.1-.4 1.1-.5 1.1-.4 1.1-.4 1.1-.3 1.1-.3 1.2-.3 1.1-.3 1.1-.3 1.1-.3 1.1-.2 1.1-.2 1.1-.2 1.1-.2 1.2-.2 1.1-.2 1.1-.1 1.1-.2 1.1-.1 1.1-.2 1.1-.1 1.1-.1 1.2-.1 1.1-.1 1.1-.1 1.1-.1 1.1-.1 1.1-.1 1.1 0 1.2-.1 1.1-.1 1.1-.1 1.1 0 1.1-.1 1.1 0 1.1-.1 1.1 0 1.2-.1 1.1 0 1.1-.1 1.1 0 1.1 0 1.1-.1 1.1 0 1.1 0 1.2-.1 1.1 0 1.1 0 1.1-.1 1.1 0 1.1 0 1.1 0 1.1-.1 .3 .2 .5 .2 .5 .1 .4 .2 .5 .2 .4 .2 .5 .1 .4 .2 .5 .2 .5 .2 .4 .1 .5 .2 .4 .1 .5 .2 .4 .2 .5 .1 .5 .2 .4 .1 .5 .2 .4 .1 .6 .2 1.2 .3 1.1 .4 1.1 .3 1.2 .3 1.1 .3 1.2 .3 1.1 .3 1.1 .3 1.2 .3 1.1 .2 1.1 .3 1.2 .2 1.1 .2 1.2 .3 1.1 .2 1.1 .2 1.2 .2 1.1 .2 1.1 .2 1.2 .2 1.1 .1 1.2 .2 1.1 .2 1.1 .2 1.2 .1 1.1 .2 1.1 .1 1.2 .2 1.1 .1 1.2 .1 1.1 .2 1.1 .1 1.2 .1 1.1 .1 1.1 .1 1.2 .1 1.1 .2 1.2 .1 1.1 .1" fill="none" stroke="#111" stroke-width="0.8"/>
<path d="M29.4 675.4l.3-.9 .3-.9 .3-.8 .3-.8 .3-.8 .3-.8 .3-.7 .3-.7 .3-.6 .3-.7 .3-.6 .3-.6 .3-.5 .3-.6 .3-.5 .3-.5 .3-.5 .3-.5 .3-.4 .3-.5 .3-.4 1.1-1.4 1.1-1.3 1.1-1.1 1.1-.9 1.2-.9 1.1-.7 1.1-.7 1.1-.6 1.1-.5 1.1-.4 1.1-.5 1.1-.3 1.2-.4 1.1-.3 1.1-.3 1.1-.2 1.1-.3 1.1-.2 1.1-.2 1.1-.2 1.2-.2 1.1-.1 1.1-.2 1.1-.1 1.1-.2 1.1-.1 1.1-.2 1.1-.1 1.2-.1 1.1-.1 1.1-.1 1.1-.1 1.1-.2 1.1-.1 1.1-.1 1.2-.1 1.1 0 1.1-.1 1.1-.1 1.1-.1 1.1-.1 1.1-.1 1.1-.1 1.2 0 1.1-.1 1.1-.1 1.1-.1 1.1 0 1.1-.1 1.1-.1 1.1 0 1.2-.1 1.1-.1 1.1 0 1.1-.1 1.1-.1 1.1 0 1.1-.1 1.1 0 .3 .2 .5 .3 .5 .3 .4 .3 .5 .3 .4 .3 .5 .4 .4 .2 .5 .3 .5 .3 .4 .3 .5 .3 .4 .3 .5 .3 .4 .2 .5 .3 .5 .3 .4 .2 .5 .3 .4 .2 .6 .3 1.2 .7 1.1 .5 1.1 .6 1.2 .5 1.1 .6 1.2 .5 1.1 .5 1.1 .5 1.2 .4 1.1 .5 1.1 .4 1.2 .4 1.1 .4 1.2 .4 1.1 .4 1.1 .4 1.2 .3 1.1 .3 1.1 .4 1.2 .3 1.1 .3 1.2 .3 1.1 .3 1.1 .3 1.2 .3 1.1 .2 1.1 .3 1.2 .2 1.1 .3 1.2 .2 1.1 .2 1.1 .2 1.2 .3 1.1 .2 1.1 .2 1.2 .1 1.1 .2 1.2 .2 1.1 .2" fill="none" stroke="#111" stroke-width="0.8"/>
<path d="M29.4 675.4l.3-2.2 .3-2.1 .3-1.9 .3-1.8 .3-1.6 .3-1.6 .3-1.5 .3-1.3 .3-1.3 .3-1.2 .3-1.1 .3-1 .3-1 .3-.9 .3-.9 .3-.8 .3-.7 .3-.8 .3-.6 .3-.6 .3-.6 1.1-1.9 1.1-1.5 1.1-1.2 1.1-1 1.2-.8 1.1-.7 1.1-.5 1.1-.5 1.1-.5 1.1-.3 1.1-.4 1.1-.3 1.2-.3 1.1-.2 1.1-.3 1.1-.2 1.1-.3 1.1-.2 1.1-.2 1.1-.2 1.2-.2 1.1-.2 1.1-.1 1.1-.2 1.1-.2 1.1-.2 1.1-.1 1.1-.2 1.2-.2 1.1-.1 1.1-.2 1.1-.1 1.1-.2 1.1-.1 1.1-.2 1.2-.1 1.1-.1 1.1-.2 1.1-.1 1.1-.1 1.1-.2 1.1-.1 1.1-.1 1.2-.1 1.1-.1 1.1-.2 1.1-.1 1.1-.1 1.1-.1 1.1-.1 1.1-.1 1.2-.1 1.1-.1 1.1-.1 1.1-.1 1.1-.1 1.1-.1 1.1 0 1.1-.1 .3 .3 .5 .4 .5 .4 .4 .5 .5 .4 .4 .4 .5 .4 .4 .4 .5 .5 .5 .4 .4 .3 .5 .4 .4 .4 .5 .4 .4 .4 .5 .3 .5 .4 .4 .3 .5 .4 .4 .3 .6 .5 1.2 .8 1.1 .8 1.1 .8 1.2 .8 1.1 .7 1.2 .7 1.1 .7 1.1 .6 1.2 .7 1.1 .6 1.1 .6 1.2 .5 1.1 .6 1.2 .5 1.1 .6 1.1 .5 1.2 .4 1.1 .5 1.1 .5 1.2 .4 1.1 .4 1.2 .5 1.1 .4 1.1 .4 1.2 .3 1.1 .4 1.1 .3 1.2 .4 1.1 .3 1.2 .3 1.1 .3 1.1 .3 1.2 .3 1.1 .3 1.1 .3 1.2 .3 1.1 .2 1.2 .3 1.1 .2" fill="none" stroke="#111" stroke-width="0.8"/>
<path d="M29.4 675.4l.3-3.2 .3-2.9 .3-2.6 .3-2.5 .3-2.3 .3-2.1 .3-2 .3-1.8 .3-1.7 .3-1.6 .3-1.4 .3-1.3 .3-1.3 .3-1.1 .3-1.1 .3-1 .3-.9 .3-.9 .3-.8 .3-.7 .3-.7 1.1-2.2 1.1-1.7 1.1-1.4 1.1-1.2 1.2-.9 1.1-.8 1.1-.7 1.1-.6 1.1-.5 1.1-.5 1.1-.5 1.1-.4 1.2-.4 1.1-.4 1.1-.4 1.1-.4 1.1-.3 1.1-.3 1.1-.4 1.1-.3 1.2-.3 1.1-.3 1.1-.3 1.1-.3 1.1-.3 1.1-.3 1.1-.3 1.1-.3 1.2-.3 1.1-.2 1.1-.3 1.1-.2 1.1-.3 1.1-.2 1.1-.3 1.2-.2 1.1-.2 1.1-.3 1.1-.2 1.1-.2 1.1-.2 1.1-.2 1.1-.2 1.2-.2 1.1-.2 1.1-.2 1.1-.2 1.1-.2 1.1-.2 1.1-.2 1.1-.1 1.2-.2 1.1-.2 1.1-.1 1.1-.2 1.1-.2 1.1-.1 1.1-.2 1.1-.1 .3 .3 .5 .6 .5 .5 .4 .6 .5 .5 .4 .5 .5 .5 .4 .5 .5 .5 .5 .5 .4 .5 .5 .5 .4 .5 .5 .5 .4 .4 .5 .5 .5 .4 .4 .5 .5 .4 .4 .4 .6 .6 1.2 1 1.1 1 1.1 1 1.2 .9 1.1 .9 1.2 .9 1.1 .8 1.1 .8 1.2 .8 1.1 .8 1.1 .7 1.2 .7 1.1 .7 1.2 .7 1.1 .6 1.1 .6 1.2 .6 1.1 .6 1.1 .6 1.2 .5 1.1 .5 1.2 .6 1.1 .4 1.1 .5 1.2 .5 1.1 .4 1.1 .5 1.2 .4 1.1 .4 1.2 .4 1.1 .4 1.1 .3 1.2 .4 1.1 .3 1.1 .4 1.2 .3 1.1 .3 1.2 .3 1.1 .3" fill="none" stroke="#111" stroke-width="0.8"/>
<path d="M29.4 675.4l.3-4.8 .3-4.2 .3-3.7 .3-3.4 .3-2.9 .3-2.6 .3-2.4 .3-2 .3-1.9 .3-1.6 .3-1.5 .3-1.3 .3-1.2 .3-1.1 .3-1 .3-.8 .3-.8 .3-.7 .3-.6 .3-.6 .3-.6 1.1-1.6 1.1-1.2 1.1-1 1.1-.8 1.2-.6 1.1-.7 1.1-.5 1.1-.6 1.1-.5 1.1-.5 1.1-.5 1.1-.4 1.2-.5 1.1-.4 1.1-.5 1.1-.4 1.1-.4 1.1-.4 1.1-.4 1.1-.4 1.2-.4 1.1-.4 1.1-.4 1.1-.3 1.1-.4 1.1-.4 1.1-.3 1.1-.3 1.2-.4 1.1-.3 1.1-.3 1.1-.3 1.1-.3 1.1-.4 1.1-.2 1.2-.3 1.1-.3 1.1-.3 1.1-.3 1.1-.2 1.1-.3 1.1-.3 1.1-.2 1.2-.3 1.1-.2 1.1-.3 1.1-.2 1.1-.2 1.1-.2 1.1-.3 1.1-.2 1.2-.2 1.1-.2 1.1-.2 1.1-.2 1.1-.2 1.1-.2 1.1-.2 1.1-.2 .3 .4 .5 .7 .5 .6 .4 .6 .5 .6 .4 .5 .5 .6 .4 .6 .5 .6 .5 .5 .4 .6 .5 .5 .4 .5 .5 .6 .4 .5 .5 .5 .5 .5 .4 .5 .5 .5 .4 .5 .6 .6 1.2 1.1 1.1 1.2 1.1 1 1.2 1.1 1.1 1 1.2 1 1.1 .9 1.1 .9 1.2 .9 1.1 .9 1.1 .8 1.2 .8 1.1 .8 1.2 .7 1.1 .7 1.1 .7 1.2 .7 1.1 .7 1.1 .6 1.2 .6 1.1 .6 1.2 .6 1.1 .5 1.1 .5 1.2 .6 1.1 .5 1.1 .5 1.2 .4 1.1 .5 1.2 .4 1.1 .4 1.1 .5 1.2 .4 1.1 .3 1.1 .4 1.2 .4 1.1 .3 1.2 .4 1.1 .3" fill="none" stroke="#111" stroke-width="0.8"/>
<path d="M29.4 675l.7-2.1 .7-1.2 .8-.2 .7-.6 .7 .3 .7-.8 .7-1.3 .8-.7 .7-1.1 .7-.8 .7-.6 .7-.9 .8-.3 .7-.2 .7 .2 .7 .2 .7 0 .7-.3 .8-.1 .7-.9 .7-.6 .7-.2 .7-.2 .8-.2 .7-.2 .7-.2 .7-.6 .7 .4 .8-.3 .7 0 .7 .4 .7 .1 .7-.1 .8-.3 .7-.3 .7-.1 .7 .4 .7-.4 .8-.1 .7-.2 .7 0 .7-.4 .7-.3 .8 .3 .7-.5 .7 .2 .7 .1 .7-.1 .8 .4 .7-.1 .7 .2 .7 .3 .7 .1 .7 .1 .8 .1 .7-.2 .7-.4 .7-.2 .7-.2 .8-.2 .7-.1 .7 .6 .7-.3 .7 .2 .8-.5 .7 .6 .7-.2 .7-.5 .7-.2 .8-.1 .7-.3 .7 .8 .7 .4 .7 .3 .8-.8 .7-.2 .7-.1 .7 .4 .7-.6 .8-.1 .7-.4 .7-.1 .7 .8 .7 .3 .8 0 .7 0 .7-.3 .7-.1 .7-.1 .7 0 .8-.6 .7 .5 .7 1.1 .7 .5 .7 .6 .8 .4 .7-1.3 .7-.4 .7 .3 .7-.3 .8-.2 .7 0 .7 .1 .7 .1 .7 .2 .8 .3 .7-.2 .7 0 .7 .4 .7 .4 .8 .8 .7-.5 .7 .8 .7-.4 .7-.3 .8 0 .7 .4 .7 .1 .7 .6 .7-.6 .8-.4 .7 .1 .7 .3 .7-.1 .7 .6 .7-.3 .8-.5 .7-.4 .7-.2 .7 .3 .7 .3 .8 .5 .7 .6 .7 .2 .7 .5 .7-.8 .8 .2 .7-.4 .7-.1 .7 .1 .7 .6 .8-.5 .7 .5 .7-.2 .7-.6 .7 .4 .8 .1 .7 .5 .7 .2 .7-.2 .7-.3 .8 .4 .7-.2 .7 .3 .7 .5 .7 .1 .8 .4 .7-.7 .7-.2 .7 .5 .7-.4 .7-.3 .8 .3 .7 .7 .7 .4 .7 0 .7 0 .8 .5 .7-.5 .7 0 .7-.2 .7-.3 .8-.1 .7 0 .7-.7" fill="none" stroke="#a07a4a" stroke-width="1.2" stroke-linejoin="round"/>
<path d="M29.4 675l.7-.8 .7-1 .8-.4 .7-.8 .7-.3 .7-.6 .7-1.2 .8-.4 .7 .2 .7-.4 .7 .1 .7-.2 .8-.7 .7-.8 .7-.7 .7 0 .7 .2 .7-.6 .8-.8 .7-.1 .7-.8 .7-.1 .7 .3 .8-.2 .7 .4 .7 .1 .7 .3 .7-.6 .8-.8 .7-.4 .7-1 .7 .3 .7-.5 .8-.2 .7-.8 .7 .5 .7-.3 .7 .7 .8-.2 .7-.1 .7-.1 .7 .5 .7-.6 .8-.2 .7-.6 .7-.7 .7-.3 .7-.3 .8 .2 .7 .8 .7-.1 .7 .2 .7-.4 .7-.3 .8 .2 .7-.8 .7 .4 .7-.3 .7 0 .8-.2 .7 .3 .7 .3 .7-.2 .7-.9 .8-.3 .7 .5 .7 0 .7-.4 .7-.4 .8-.3 .7 .5 .7 .1 .7 .7 .7 .3 .8-.2 .7-.4 .7 0 .7-.4 .7 0 .8-.2 .7 .2 .7 0 .7 .2 .7 .1 .8-.2 .7 .1 .7 0 .7 .3 .7-.1 .7 .1 .8-.5 .7-.1 .7-.1 .7 .3 .7 .2 .8 0 .7-.7 .7 .6 .7 0 .7 .2 .8 .5 .7-.5 .7 1.1 .7-.2 .7 .1 .8 .6 .7 .7 .7 .7 .7 .5 .7 0 .8-.8 .7-.1 .7-.5 .7-.1 .7 .2 .8 .7 .7 .8 .7-.4 .7 .8 .7 .9 .8 .2 .7 .5 .7-.2 .7 .2 .7-.4 .7 .2 .8 .1 .7-.2 .7 .5 .7 .8 .7-.2 .8 .3 .7 .7 .7 0 .7-.3 .7-.3 .8-.1 .7 .3 .7 .9 .7 0 .7 .8 .8-.5 .7-1.4 .7-.6 .7 .6 .7 .4 .8 .7 .7 .1 .7 .5 .7 .2 .7-.7 .8-.4 .7 .5 .7 .2 .7 .7 .7 .6 .8 .4 .7 0 .7-.4 .7-.4 .7-.4 .7-.1 .8 .1 .7 .3 .7 .6 .7 .3 .7-.8 .8 .2 .7 .1 .7-.2 .7 .2 .7 .5 .8-.3 .7 .2 .7-.5" fill="none" stroke="#cc44ee" stroke-width="1.2" stroke-linejoin="round"/>
<path d="M29.4 675l.7-2.5 .7-2 .8-1.4 .7-1 .7-1.1 .7-2.1 .7-1.1 .8-1.7 .7-.6 .7-.6 .7-1.1 .7-.8 .8-1 .7-.4 .7-.7 .7-.5 .7-.4 .7-1.3 .8-.1 .7-.7 .7 .2 .7-.1 .7-.9 .8-.1 .7-.5 .7 0 .7-.8 .7-.1 .8 0 .7-.3 .7-.2 .7-.7 .7 0 .8 .1 .7 .3 .7 .7 .7 .1 .7-.1 .8-.6 .7-.8 .7-.4 .7-.2 .7 .6 .8-.2 .7-.4 .7 0 .7-.2 .7 .2 .8-.4 .7 .4 .7 .3 .7 0 .7 .1 .7 0 .8-.8 .7-.8 .7-.9 .7-.6 .7-.2 .8 .2 .7 .1 .7 .4 .7 .1 .7 0 .8 .3 .7 .4 .7-.3 .7-.2 .7 .1 .8-.2 .7 .5 .7 .1 .7-.1 .7-.4 .8 .4 .7-.4 .7-.2 .7-.4 .7-.5 .8-.1 .7 .2 .7 .4 .7 .1 .7 .5 .8-.1 .7-.3 .7-.7 .7-.3 .7 .2 .7 .1 .8 .2 .7-.6 .7 .2 .7-.3 .7 .5 .8-.1 .7-.3 .7 .1 .7 0 .7 .5 .8 .3 .7 .9 .7 .3 .7 .6 .7 .6 .8-.5 .7-.2 .7 .8 .7 .6 .7 1 .8 .9 .7 .7 .7-.8 .7 .3 .7 .6 .8 .7 .7-.2 .7-.1 .7 .5 .7 .1 .8 .7 .7 0 .7 .7 .7-.6 .7 .4 .7 .8 .8 .2 .7-.1 .7 .4 .7 .5 .7 .1 .8 0 .7 .5 .7 .8 .7 .1 .7 .5 .8-.1 .7-.3 .7 .3 .7 .6 .7 .3 .8 .4 .7-.5 .7 .1 .7-.1 .7 .5 .8 .1 .7 .7 .7 .4 .7 .5 .7 0 .8 .5 .7-.8 .7 1.2 .7 .4 .7 .5 .8 .2 .7-.3 .7-.1 .7-.5 .7 .1 .7 .2 .8 .4 .7-.4 .7 .8 .7-.1 .7-.3 .8-.2 .7 .9 .7 .1 .7-.3 .7 .3 .8 .8 .7 .5 .7 .1" fill="none" stroke="#ff2e1f" stroke-width="1.2" stroke-linejoin="round"/>
<path d="M29.4 675l.7-6 .7-3.7 .8-3.1 .7-3.6 .7-2.9 .7-1.6 .7-2 .8-1.2 .7-1.3 .7-.9 .7-2 .7-.6 .8-1.2 .7-.5 .7-.6 .7-1.2 .7-.4 .7-.3 .8 .4 .7 .1 .7-.1 .7 .1 .7-.6 .8-.5 .7-1.6 .7-.4 .7-.5 .7-.4 .8 .5 .7 .5 .7 0 .7-.2 .7-.8 .8-.1 .7-.2 .7-.2 .7-.1 .7 .2 .8-.8 .7-.1 .7 .2 .7 .9 .7-.3 .8-.4 .7-.2 .7-1.5 .7-.2 .7-.2 .8-.5 .7 .2 .7 .5 .7 1.1 .7 .2 .7 .7 .8-.4 .7-.1 .7-.6 .7-.6 .7 0 .8-.2 .7-.1 .7 0 .7 .1 .7 0 .8-.4 .7-.2 .7 0 .7 .3 .7-.4 .8 0 .7 0 .7-.9 .7 .7 .7-.8 .8-.5 .7-.1 .7-.6 .7 .7 .7 .3 .8-.4 .7 .8 .7 .2 .7-.2 .7-.4 .8-.5 .7-.2 .7 .4 .7 0 .7 0 .7 .8 .8-.4 .7-.6 .7-.7 .7 .3 .7 .3 .8 .3 .7-.5 .7-.3 .7 .3 .7-.3 .8 .2 .7 .4 .7-.1 .7 .7 .7 .4 .8 1.3 .7 .9 .7 .3 .7 .9 .7 .5 .8 .3 .7 .5 .7 1.2 .7-.2 .7 .1 .8 .5 .7 .3 .7 .6 .7 .5 .7 .5 .8 1.1 .7 0 .7 .3 .7 .2 .7 .9 .7 .5 .8 0 .7 .9 .7 .4 .7 .5 .7 .7 .8 .2 .7 .5 .7 .1 .7-.3 .7 .6 .8 .1 .7 1.4 .7-.6 .7 1 .7-.4 .8-.1 .7 .3 .7 0 .7 .3 .7 .6 .8 .1 .7 .6 .7 1 .7 .7 .7 .2 .8 .3 .7 .5 .7 .1 .7 0 .7-.4 .8 .5 .7-.4 .7 1.2 .7 .2 .7 .3 .7-.1 .8 .2 .7 .1 .7 .5 .7 .5 .7-.2 .8 .7 .7-.5 .7-.3 .7-.8 .7 .3 .8 0 .7-.1 .7 .9" fill="none" stroke="#1fd21f" stroke-width="1.2" stroke-linejoin="round"/>
<path d="M29.4 675l.7-7.6 .7-5.3 .8-4.3 .7-3.7 .7-3.5 .7-3.3 .7-2.8 .8-2.8 .7-1.9 .7-2 .7-1.2 .7-1 .8 .1 .7-.7 .7 .3 .7-.2 .7-.7 .7-.8 .8-.9 .7-.5 .7-.2 .7-.7 .7-.4 .8-.3 .7-1 .7-.3 .7-.5 .7 .2 .8-.5 .7 .2 .7 .2 .7-.1 .7-1.1 .8-.5 .7-.8 .7-.5 .7 0 .7 .1 .8 .3 .7 .2 .7 .1 .7 .2 .7-.1 .8-.2 .7-.6 .7 .2 .7-.7 .7-.2 .8 0 .7-.4 .7 .8 .7-1.3 .7-.4 .7-.7 .8-.1 .7-1.4 .7 .5 .7 0 .7-.3 .8 .2 .7-.1 .7-.4 .7 .3 .7-.5 .8-.2 .7-.5 .7 .2 .7-.8 .7 .2 .8-.2 .7 .8 .7-.3 .7 .2 .7-.5 .8-.2 .7-.5 .7 0 .7 .4 .7-.1 .8-.4 .7-.6 .7 .4 .7-.1 .7 .1 .8 0 .7-.2 .7-.1 .7-.7 .7-.2 .7-.2 .8 .3 .7-.6 .7-.2 .7-.1 .7-.2 .8 .6 .7-.5 .7-.6 .7-.3 .7 .6 .8 1.2 .7 1.4 .7 1.3 .7 .7 .7 .5 .8 .1 .7 .8 .7 1.1 .7 .7 .7 .9 .8 .8 .7 .5 .7-.2 .7 .9 .7 .2 .8 .9 .7 .8 .7 .4 .7 .1 .7 .5 .8 .5 .7 .8 .7 1.1 .7 .1 .7 1.3 .7 .3 .8 .4 .7 1.4 .7 .1 .7 .1 .7 .2 .8 .7 .7-.3 .7 .9 .7 .5 .7-.2 .8 .5 .7-.3 .7 .7 .7 .4 .7 1 .8 .5 .7 .8 .7 .4 .7-.1 .7 .1 .8 .1 .7 .1 .7 .8 .7 .9 .7 0 .8 .2 .7-.2 .7 0 .7 .2 .7 .4 .8-.2 .7 .4 .7-.2 .7 .9 .7 .6 .7 .5 .8-.1 .7 .2 .7 0 .7 1 .7 .2 .8 .7 .7 0 .7 .3 .7-.5 .7-.7 .8-.3 .7 .3 .7 .6" fill="none" stroke="#ff9426" stroke-width="1.2" stroke-linejoin="round"/>
<path d="M29.4 675l.7-9.2 .7-8.6 .8-5.5 .7-5.1 .7-3.5 .7-3.4 .7-2.2 .8-1.5 .7-1.5 .7-.9 .7-.4 .7 .3 .8-.6 .7-.8 .7-1.1 .7-1.1 .7-.6 .7-.4 .8-.5 .7 .3 .7-.1 .7 .1 .7-.7 .8-.2 .7-.9 .7-.6 .7-.8 .7-.1 .8-.4 .7 .1 .7-.2 .7 0 .7-.6 .8 .4 .7-.4 .7 .1 .7-.2 .7-.2 .8-1 .7-1 .7-1.3 .7-.3 .7 .5 .8-.4 .7 .3 .7 .8 .7-.3 .7-.3 .8-.3 .7-.8 .7 0 .7-.7 .7 0 .7 .1 .8-.2 .7-.5 .7 .1 .7-.5 .7-.1 .8-.4 .7 .6 .7-.5 .7 .1 .7-.8 .8-.4 .7-.7 .7 .1 .7-.4 .7-.7 .8-.2 .7-.1 .7 .1 .7 .2 .7-.3 .8-.6 .7-.2 .7 .1 .7 .3 .7 .3 .8-.4 .7-.2 .7 .6 .7-.1 .7 .2 .8-.5 .7-.8 .7-.4 .7-.2 .7-.5 .7-.1 .8-.3 .7 .2 .7-.3 .7-.2 .7 .6 .8-.1 .7 1 .7-.3 .7 0 .7-.6 .8 .3 .7 .8 .7 1.2 .7 1.4 .7 1.7 .8 .1 .7 .8 .7 .2 .7 .6 .7 .7 .8 .3 .7 .7 .7 0 .7 1.2 .7 .9 .8 1.2 .7 1 .7 1 .7 .1 .7 1.3 .8 .3 .7 .8 .7 .7 .7 .5 .7 .5 .7-.1 .8 .4 .7 .9 .7 .8 .7 1 .7 .5 .8-.1 .7 .1 .7-.4 .7 .9 .7 .3 .8 .9 .7 .7 .7 1 .7 .1 .7 .3 .8 .6 .7 .8 .7 .6 .7 .1 .7 .6 .8 .4 .7-.1 .7-.1 .7 .1 .7 .5 .8 .1 .7 .1 .7 .9 .7 0 .7 .1 .8 .7 .7-.1 .7 .1 .7 .1 .7 .4 .7 .5 .8 .2 .7 .4 .7 .6 .7 0 .7 .5 .8 .2 .7-.4 .7-.5 .7-.1 .7 .1 .8 .5 .7 0 .7 .5" fill="none" stroke="#2850f0" stroke-width="1.2" stroke-linejoin="round"/>
<rect x="29.4" y="591.3" width="125.9" height="83.7" fill="none" stroke="#5a5a5a" stroke-width="1"/>
<path d="M29.4 675v1.6M29.4 591.3v1.6M47.39 675v1.6M47.39 591.3v1.6M65.37 675v1.6M65.37 591.3v1.6M83.36 675v1.6M83.36 591.3v1.6M101.34 675v1.6M101.34 591.3v1.6M119.33 675v1.6M119.33 591.3v1.6M137.31 675v1.6M137.31 591.3v1.6M155.3 675v1.6M155.3 591.3v1.6" stroke="#5a5a5a" stroke-width="0.8"/>
<path d="M27.8 675h1.6M153.7 675h1.6M27.8 647.1h1.6M153.7 647.1h1.6M27.8 619.2h1.6M153.7 619.2h1.6M27.8 591.3h1.6M153.7 591.3h1.6" stroke="#5a5a5a" stroke-width="0.8"/>
<text x="27.2" y="677.6" font-size="7.2" text-anchor="end" fill="#000">0.0</text>
<text x="27.2" y="649.7" font-size="7.2" text-anchor="end" fill="#000">0.1</text>
<text x="27.2" y="621.8" font-size="7.2" text-anchor="end" fill="#000">0.2</text>
<text x="27.2" y="596.3" font-size="7.2" text-anchor="end" fill="#000">0.3</text>
<text x="29.4" y="684.2" font-size="7.1" text-anchor="middle" fill="#000">0</text>
<text x="47.39" y="684.2" font-size="7.1" text-anchor="middle" fill="#000">30</text>
<text x="65.37" y="684.2" font-size="7.1" text-anchor="middle" fill="#000">60</text>
<text x="83.36" y="684.2" font-size="7.1" text-anchor="middle" fill="#000">90</text>
<text x="101.34" y="684.2" font-size="7.1" text-anchor="middle" fill="#000">120</text>
<text x="119.33" y="684.2" font-size="7.1" text-anchor="middle" fill="#000">150</text>
<text x="137.31" y="684.2" font-size="7.1" text-anchor="middle" fill="#000">180</text>
<text x="151.5" y="684.2" font-size="7.1" text-anchor="middle" fill="#000">210</text>
<text x="93.1" y="692.6" font-size="7.4" text-anchor="middle" fill="#000">Time (s)</text>
<text x="33.6" y="604.2" font-size="10.3" text-anchor="start" fill="#111" font-weight="bold">63%</text>
<svg x="29.6" y="696.4" width="125.9" height="84" viewBox="29.6 696.4 125.9 84" overflow="hidden">
<path d="M29.6 732.8l2.1 2.7 2.1 .9 2.1 .7 2.1 .5 2.1 .2 2.1 0 2.1-.1 2.1-.2 2.1-.2 2.1-.2 2.1 0 2.1 .2 2.1 .4 2.1 .5 2.1 .5 2.1 .4 2.1 .2 2.1 0 2.1-.3 2.1-.3 2.1-.5 2.1-.6 2.1-.6 2.1-.5 2.1-.6 2.1-.7 2.1-.7 2.1-.8 2.1-.9 2.1-.9 2-1.2 2.1-1.1 2.1-1.1 2.1-.9 2.1-.9 2.1-.8 2.1-.5 2.1 0 2.1 .5 2.1 .7 2.1 .8 2.1 1 2.1 1.2 2.1 1.2 2.1 1.3 2.1 1.6 2.1 1.3 2.1 .2 2.1-.1 2.1-.2 2.1-.2 2.1-.3 2.1-.2 2.1-.2 2.1-.1 2.1 0 2.1-.1 2.1 0 2.1-.1 2.1 0" fill="none" stroke="#5ae6ff" stroke-width="0.85"/>
<path d="M29.6 732l2.1 3.6 2.1 1.7 2.1 1.2 2.1 .9 2.1 .4 2.1-.2 2.1-.5 2.1-.6 2.1-.7 2.1-.5 2.1-.1 2.1 .1 2.1 .4 2.1 .5 2.1 .5 2.1 .5 2.1 .2 2.1-.1 2.1-.3 2.1-.5 2.1-.5 2.1-.7 2.1-.8 2.1-.7 2.1-.8 2.1-.8 2.1-.9 2.1-1 2.1-.9 2.1-1 2-1.1 2.1-1.1 2.1-.8 2.1-.8 2.1-.7 2.1-.5 2.1-.3 2.1 .1 2.1 .6 2.1 .8 2.1 .9 2.1 1 2.1 1.1 2.1 1.2 2.1 1.3 2.1 1.6 2.1 1.3 2.1 .2 2.1-.1 2.1-.2 2.1-.2 2.1-.2 2.1-.3 2.1-.2 2.1-.1 2.1 0 2.1-.1 2.1 0 2.1-.1 2.1 0" fill="none" stroke="#55dcff" stroke-width="0.85"/>
<path d="M29.6 731l2.1 4.7 2.1 2.7 2.1 1.9 2.1 1.4 2.1 .6 2.1-.4 2.1-1 2.1-1.1 2.1-1.3 2.1-.9 2.1-.3 2.1 0 2.1 .4 2.1 .5 2.1 .5 2.1 .5 2.1 .2 2.1-.1 2.1-.3 2.1-.6 2.1-.7 2.1-.9 2.1-.9 2.1-.9 2.1-1 2.1-1.1 2.1-1.1 2.1-1.2 2.1-1.1 2.1-1 2-1.1 2.1-.9 2.1-.6 2.1-.6 2.1-.4 2.1-.2 2.1-.1 2.1 .4 2.1 .7 2.1 .9 2.1 .9 2.1 1.1 2.1 1.1 2.1 1.2 2.1 1.3 2.1 1.6 2.1 1.2 2.1 .3 2.1-.2 2.1-.2 2.1-.2 2.1-.2 2.1-.2 2.1-.2 2.1-.1 2.1-.1 2.1-.1 2.1 0 2.1-.1 2.1 0" fill="none" stroke="#51d3ff" stroke-width="0.85"/>
<path d="M29.6 729.8l2.1 6.1 2.1 3.7 2.1 2.7 2.1 2.1 2.1 .9 2.1-.8 2.1-1.5 2.1-1.6 2.1-2.1 2.1-1.4 2.1-.5 2.1-.1 2.1 .4 2.1 .5 2.1 .6 2.1 .5 2.1 .2 2.1-.1 2.1-.5 2.1-.7 2.1-.8 2.1-1.1 2.1-1.2 2.1-1.1 2.1-1.3 2.1-1.3 2.1-1.3 2.1-1.5 2.1-1.3 2.1-1 2-1 2.1-.8 2.1-.4 2.1-.3 2.1 0 2.1 .1 2.1 .3 2.1 .5 2.1 .9 2.1 1 2.1 1 2.1 1 2.1 1.2 2.1 1.2 2.1 1.3 2.1 1.6 2.1 1.2 2.1 .2 2.1-.1 2.1-.2 2.1-.2 2.1-.3 2.1-.2 2.1-.2 2.1-.1 2.1-.1 2.1-.1 2.1 0 2.1-.1 2.1 0" fill="none" stroke="#4dc9ff" stroke-width="0.85"/>
<path d="M29.6 728.6l2.1 7.4 2.1 4.9 2.1 3.5 2.1 2.7 2.1 1.2 2.1-1.1 2.1-2.1 2.1-2.2 2.1-2.7 2.1-2.1 2.1-.6 2.1-.2 2.1 .4 2.1 .6 2.1 .5 2.1 .5 2.1 .3 2.1-.2 2.1-.5 2.1-.8 2.1-1.1 2.1-1.3 2.1-1.3 2.1-1.4 2.1-1.5 2.1-1.6 2.1-1.6 2.1-1.8 2.1-1.4 2.1-1.1 2-.9 2.1-.6 2.1-.2 2.1 0 2.1 .3 2.1 .5 2.1 .6 2.1 .7 2.1 1.1 2.1 1.1 2.1 1 2.1 1.1 2.1 1.2 2.1 1.2 2.1 1.3 2.1 1.6 2.1 1.1 2.1 .2 2.1-.1 2.1-.2 2.1-.2 2.1-.2 2.1-.3 2.1-.2 2.1-.1 2.1-.1 2.1-.1 2.1 0 2.1-.1 2.1 0" fill="none" stroke="#49c0ff" stroke-width="0.85"/>
<path d="M29.6 727.6l2.1 8.6 2.1 5.8 2.1 4.2 2.1 3.2 2.1 1.5 2.1-1.3 2.1-2.6 2.1-2.7 2.1-3.4 2.1-2.5 2.1-.8 2.1-.2 2.1 .3 2.1 .6 2.1 .5 2.1 .6 2.1 .3 2.1-.2 2.1-.7 2.1-.9 2.1-1.1 2.1-1.5 2.1-1.6 2.1-1.6 2.1-1.7 2.1-1.8 2.1-1.9 2.1-2 2.1-1.5 2.1-1.1 2-1 2.1-.4 2.1 0 2.1 .3 2.1 .6 2.1 .8 2.1 .8 2.1 1 2.1 1.2 2.1 1.1 2.1 1.2 2.1 1.1 2.1 1.2 2.1 1.2 2.1 1.3 2.1 1.5 2.1 1.2 2.1 .2 2.1-.2 2.1-.2 2.1-.2 2.1-.2 2.1-.3 2.1-.2 2.1-.1 2.1-.1 2.1-.1 2.1 0 2.1-.1 2.1 0" fill="none" stroke="#44b6ff" stroke-width="0.85"/>
<path d="M29.6 726.8l2.1 9.5 2.1 6.6 2.1 4.7 2.1 3.7 2.1 1.6 2.1-1.5 2.1-2.9 2.1-3.1 2.1-3.9 2.1-2.9 2.1-.9 2.1-.3 2.1 .3 2.1 .6 2.1 .5 2.1 .6 2.1 .3 2.1-.2 2.1-.7 2.1-1 2.1-1.3 2.1-1.6 2.1-1.7 2.1-1.8 2.1-1.9 2.1-1.9 2.1-2.1 2.1-2.2 2.1-1.7 2.1-1.1 2-.9 2.1-.3 2.1 .2 2.1 .4 2.1 .9 2.1 1.1 2.1 1 2.1 1.1 2.1 1.3 2.1 1.2 2.1 1.2 2.1 1.2 2.1 1.1 2.1 1.2 2.1 1.4 2.1 1.5 2.1 1.1 2.1 .2 2.1-.1 2.1-.2 2.1-.2 2.1-.3 2.1-.2 2.1-.2 2.1-.2 2.1-.1 2.1 0 2.1-.1 2.1-.1 2.1 0" fill="none" stroke="#40adff" stroke-width="0.85"/>
<path d="M29.6 726.2l2.1 10.1 2.1 7.3 2.1 5.1 2.1 4 2.1 1.8 2.1-1.7 2.1-3.2 2.1-3.4 2.1-4.3 2.1-3.2 2.1-1 2.1-.3 2.1 .3 2.1 .6 2.1 .5 2.1 .6 2.1 .4 2.1-.3 2.1-.7 2.1-1.1 2.1-1.3 2.1-1.8 2.1-1.8 2.1-1.9 2.1-2.1 2.1-2 2.1-2.2 2.1-2.4 2.1-1.7 2.1-1.2 2-.8 2.1-.2 2.1 .2 2.1 .6 2.1 1.1 2.1 1.3 2.1 1.1 2.1 1.3 2.1 1.3 2.1 1.3 2.1 1.2 2.1 1.2 2.1 1.2 2.1 1.2 2.1 1.4 2.1 1.4 2.1 1.1 2.1 .2 2.1-.1 2.1-.2 2.1-.2 2.1-.3 2.1-.2 2.1-.2 2.1-.2 2.1-.1 2.1 0 2.1-.1 2.1-.1 2.1 0" fill="none" stroke="#3ca3ff" stroke-width="0.85"/>
<path d="M29.6 725.7l2.1 10.7 2.1 7.7 2.1 5.5 2.1 4.3 2.1 1.8 2.1-1.7 2.1-3.5 2.1-3.7 2.1-4.6 2.1-3.3 2.1-1.1 2.1-.4 2.1 .3 2.1 .6 2.1 .6 2.1 .6 2.1 .3 2.1-.2 2.1-.9 2.1-1.1 2.1-1.4 2.1-1.8 2.1-1.9 2.1-2 2.1-2.2 2.1-2.2 2.1-2.3 2.1-2.4 2.1-1.9 2.1-1.1 2-.8 2.1-.2 2.1 .4 2.1 .7 2.1 1.2 2.1 1.4 2.1 1.3 2.1 1.3 2.1 1.5 2.1 1.3 2.1 1.2 2.1 1.2 2.1 1.2 2.1 1.2 2.1 1.4 2.1 1.5 2.1 1.1 2.1 .2 2.1-.2 2.1-.2 2.1-.2 2.1-.3 2.1-.2 2.1-.2 2.1-.2 2.1-.1 2.1 0 2.1-.1 2.1 0 2.1-.1" fill="none" stroke="#389aff" stroke-width="0.85"/>
<path d="M29.6 725.2l2.1 11.3 2.1 8.1 2.1 5.8 2.1 4.4 2.1 2 2.1-1.9 2.1-3.6 2.1-3.9 2.1-4.9 2.1-3.5 2.1-1.2 2.1-.4 2.1 .3 2.1 .6 2.1 .6 2.1 .6 2.1 .3 2.1-.2 2.1-.9 2.1-1.1 2.1-1.5 2.1-1.9 2.1-2 2.1-2.1 2.1-2.2 2.1-2.3 2.1-2.4 2.1-2.6 2.1-1.8 2.1-1.2 2-.8 2.1-.1 2.1 .4 2.1 .8 2.1 1.4 2.1 1.5 2.1 1.4 2.1 1.4 2.1 1.5 2.1 1.4 2.1 1.3 2.1 1.2 2.1 1.2 2.1 1.2 2.1 1.3 2.1 1.5 2.1 1.1 2.1 .2 2.1-.2 2.1-.2 2.1-.2 2.1-.2 2.1-.3 2.1-.2 2.1-.2 2.1 0 2.1-.1 2.1-.1 2.1 0 2.1-.1" fill="none" stroke="#3490ff" stroke-width="0.85"/>
<path d="M29.6 724.9l2.1 11.6 2.1 8.5 2.1 6 2.1 4.7 2.1 2.1 2.1-2 2.1-3.9 2.1-4 2.1-5.1 2.1-3.7 2.1-1.3 2.1-.4 2.1 .4 2.1 .5 2.1 .6 2.1 .6 2.1 .4 2.1-.3 2.1-.9 2.1-1.2 2.1-1.5 2.1-2 2.1-2 2.1-2.2 2.1-2.3 2.1-2.4 2.1-2.5 2.1-2.6 2.1-2 2.1-1.1 2-.8 2.1-.1 2.1 .6 2.1 .9 2.1 1.4 2.1 1.7 2.1 1.5 2.1 1.4 2.1 1.6 2.1 1.4 2.1 1.3 2.1 1.2 2.1 1.2 2.1 1.2 2.1 1.4 2.1 1.4 2.1 1.1 2.1 .2 2.1-.2 2.1-.2 2.1-.2 2.1-.2 2.1-.3 2.1-.2 2.1-.1 2.1-.1 2.1-.1 2.1-.1 2.1 0 2.1-.1" fill="none" stroke="#2f87ff" stroke-width="0.85"/>
<path d="M29.6 724.5l2.1 12.1 2.1 8.8 2.1 6.2 2.1 4.9 2.1 2.2 2.1-2.1 2.1-4 2.1-4.2 2.1-5.4 2.1-3.9 2.1-1.2 2.1-.5 2.1 .4 2.1 .5 2.1 .6 2.1 .6 2.1 .4 2.1-.3 2.1-.9 2.1-1.2 2.1-1.6 2.1-2 2.1-2.1 2.1-2.3 2.1-2.4 2.1-2.5 2.1-2.5 2.1-2.7 2.1-2 2.1-1.2 2-.8 2.1 0 2.1 .6 2.1 1 2.1 1.6 2.1 1.8 2.1 1.5 2.1 1.6 2.1 1.5 2.1 1.5 2.1 1.3 2.1 1.2 2.1 1.2 2.1 1.2 2.1 1.4 2.1 1.5 2.1 1 2.1 .2 2.1-.2 2.1-.2 2.1-.2 2.1-.2 2.1-.3 2.1-.2 2.1-.1 2.1-.1 2.1-.1 2.1-.1 2.1 0 2.1-.1" fill="none" stroke="#2b7dff" stroke-width="0.85"/>
<path d="M29.6 724.1l2.1 12.5 2.1 9.2 2.1 6.5 2.1 5 2.1 2.2 2.1-2.1 2.1-4.2 2.1-4.4 2.1-5.5 2.1-4.1 2.1-1.3 2.1-.5 2.1 .4 2.1 .5 2.1 .6 2.1 .6 2.1 .4 2.1-.3 2.1-.9 2.1-1.3 2.1-1.6 2.1-2.1 2.1-2.2 2.1-2.3 2.1-2.5 2.1-2.5 2.1-2.6 2.1-2.8 2.1-2.1 2.1-1.2 2-.7 2.1 0 2.1 .7 2.1 1.1 2.1 1.6 2.1 1.9 2.1 1.7 2.1 1.6 2.1 1.6 2.1 1.5 2.1 1.3 2.1 1.2 2.1 1.2 2.1 1.2 2.1 1.4 2.1 1.5 2.1 1 2.1 .2 2.1-.2 2.1-.2 2.1-.2 2.1-.2 2.1-.3 2.1-.2 2.1-.1 2.1-.1 2.1-.1 2.1-.1 2.1 0 2.1-.1" fill="none" stroke="#2774ff" stroke-width="0.85"/>
<path d="M29.6 723.8l2.1 12.9 2.1 9.4 2.1 6.8 2.1 5.2 2.1 2.3 2.1-2.2 2.1-4.4 2.1-4.5 2.1-5.8 2.1-4.2 2.1-1.4 2.1-.5 2.1 .4 2.1 .5 2.1 .6 2.1 .6 2.1 .4 2.1-.3 2.1-.9 2.1-1.3 2.1-1.7 2.1-2.1 2.1-2.3 2.1-2.4 2.1-2.6 2.1-2.5 2.1-2.7 2.1-2.9 2.1-2.1 2.1-1.2 2-.8 2.1 .2 2.1 .7 2.1 1.1 2.1 1.8 2.1 2 2.1 1.7 2.1 1.7 2.1 1.6 2.1 1.6 2.1 1.3 2.1 1.3 2.1 1.2 2.1 1.2 2.1 1.4 2.1 1.4 2.1 1 2.1 .2 2.1-.1 2.1-.2 2.1-.3 2.1-.2 2.1-.3 2.1-.2 2.1-.1 2.1-.1 2.1-.1 2.1-.1 2.1 0 2.1-.1" fill="none" stroke="#236aff" stroke-width="0.85"/>
<path d="M29.6 723.5l2.1 13.2 2.1 9.8 2.1 6.9 2.1 5.5 2.1 2.3 2.1-2.3 2.1-4.5 2.1-4.7 2.1-5.9 2.1-4.4 2.1-1.4 2.1-.6 2.1 .4 2.1 .5 2.1 .6 2.1 .7 2.1 .4 2.1-.3 2.1-1.1 2.1-1.3 2.1-1.7 2.1-2.2 2.1-2.3 2.1-2.5 2.1-2.6 2.1-2.7 2.1-2.8 2.1-2.9 2.1-2.1 2.1-1.2 2-.8 2.1 .2 2.1 .8 2.1 1.2 2.1 1.9 2.1 2.1 2.1 1.8 2.1 1.7 2.1 1.7 2.1 1.6 2.1 1.3 2.1 1.3 2.1 1.2 2.1 1.2 2.1 1.4 2.1 1.4 2.1 1 2.1 .2 2.1-.1 2.1-.2 2.1-.2 2.1-.3 2.1-.2 2.1-.3 2.1-.1 2.1-.1 2.1-.1 2.1-.1 2.1 0 2.1-.1" fill="none" stroke="#1f61ff" stroke-width="0.85"/>
<path d="M29.6 723.1l2.1 13.6 2.1 10.1 2.1 7.2 2.1 5.6 2.1 2.5 2.1-2.4 2.1-4.7 2.1-4.9 2.1-6.1 2.1-4.5 2.1-1.5 2.1-.6 2.1 .4 2.1 .5 2.1 .6 2.1 .7 2.1 .4 2.1-.3 2.1-1.1 2.1-1.3 2.1-1.8 2.1-2.2 2.1-2.4 2.1-2.6 2.1-2.7 2.1-2.7 2.1-2.9 2.1-3 2.1-2.2 2.1-1.2 2-.7 2.1 .2 2.1 .9 2.1 1.2 2.1 2 2.1 2.2 2.1 2 2.1 1.7 2.1 1.8 2.1 1.6 2.1 1.3 2.1 1.3 2.1 1.2 2.1 1.2 2.1 1.4 2.1 1.5 2.1 1 2.1 .1 2.1-.1 2.1-.2 2.1-.2 2.1-.3 2.1-.2 2.1-.3 2.1-.1 2.1-.1 2.1-.1 2.1-.1 2.1 0 2.1-.1" fill="none" stroke="#1a57ff" stroke-width="0.85"/>
<path d="M29.6 722.8l2.1 14 2.1 10.4 2.1 7.4 2.1 5.8 2.1 2.5 2.1-2.5 2.1-4.8 2.1-5 2.1-6.4 2.1-4.6 2.1-1.6 2.1-.6 2.1 .4 2.1 .6 2.1 .5 2.1 .7 2.1 .4 2.1-.3 2.1-1.1 2.1-1.4 2.1-1.7 2.1-2.4 2.1-2.4 2.1-2.6 2.1-2.8 2.1-2.8 2.1-3 2.1-3.1 2.1-2.2 2.1-1.2 2-.7 2.1 .2 2.1 1 2.1 1.3 2.1 2.1 2.1 2.3 2.1 2 2.1 1.9 2.1 1.7 2.1 1.7 2.1 1.4 2.1 1.2 2.1 1.2 2.1 1.2 2.1 1.5 2.1 1.4 2.1 1 2.1 .1 2.1-.1 2.1-.2 2.1-.2 2.1-.3 2.1-.2 2.1-.3 2.1-.1 2.1-.1 2.1-.1 2.1-.1 2.1 0 2.1-.1" fill="none" stroke="#164eff" stroke-width="0.85"/>
<path d="M29.6 722.5l2.1 14.3 2.1 10.8 2.1 7.6 2.1 6 2.1 2.6 2.1-2.6 2.1-5 2.1-5.2 2.1-6.5 2.1-4.9 2.1-1.5 2.1-.6 2.1 .3 2.1 .6 2.1 .5 2.1 .7 2.1 .4 2.1-.3 2.1-1.1 2.1-1.4 2.1-1.8 2.1-2.4 2.1-2.5 2.1-2.7 2.1-2.9 2.1-2.9 2.1-3 2.1-3.1 2.1-2.3 2.1-1.2 2-.7 2.1 .3 2.1 1 2.1 1.4 2.1 2.2 2.1 2.4 2.1 2.1 2.1 1.9 2.1 1.8 2.1 1.7 2.1 1.4 2.1 1.3 2.1 1.2 2.1 1.2 2.1 1.4 2.1 1.4 2.1 1 2.1 .2 2.1-.2 2.1-.2 2.1-.2 2.1-.3 2.1-.2 2.1-.2 2.1-.2 2.1-.1 2.1-.1 2.1-.1 2.1 0 2.1-.1" fill="none" stroke="#1244ff" stroke-width="0.85"/>
<path d="M29.6 722.1l2.1 14.8 2.1 11 2.1 7.9 2.1 6.1 2.1 2.7 2.1-2.6 2.1-5.2 2.1-5.3 2.1-6.8 2.1-5 2.1-1.6 2.1-.6 2.1 .3 2.1 .6 2.1 .5 2.1 .7 2.1 .4 2.1-.3 2.1-1.1 2.1-1.5 2.1-1.8 2.1-2.5 2.1-2.6 2.1-2.7 2.1-2.9 2.1-3 2.1-3.1 2.1-3.2 2.1-2.3 2.1-1.3 2-.7 2.1 .4 2.1 1.1 2.1 1.5 2.1 2.2 2.1 2.6 2.1 2.1 2.1 2 2.1 1.9 2.1 1.6 2.1 1.5 2.1 1.3 2.1 1.2 2.1 1.2 2.1 1.4 2.1 1.4 2.1 1 2.1 .2 2.1-.2 2.1-.2 2.1-.2 2.1-.3 2.1-.2 2.1-.2 2.1-.2 2.1-.1 2.1-.1 2.1-.1 2.1 0 2.1-.1" fill="none" stroke="#0e3bff" stroke-width="0.85"/>
<path d="M29.6 721.8l2.1 15.1 2.1 11.4 2.1 8.1 2.1 6.3 2.1 2.8 2.1-2.8 2.1-5.3 2.1-5.5 2.1-7 2.1-5.1 2.1-1.7 2.1-.6 2.1 .3 2.1 .6 2.1 .5 2.1 .7 2.1 .5 2.1-.4 2.1-1.1 2.1-1.5 2.1-1.9 2.1-2.5 2.1-2.7 2.1-2.8 2.1-3 2.1-3 2.1-3.2 2.1-3.3 2.1-2.4 2.1-1.2 2-.7 2.1 .4 2.1 1.2 2.1 1.5 2.1 2.4 2.1 2.6 2.1 2.3 2.1 2 2.1 1.9 2.1 1.7 2.1 1.5 2.1 1.3 2.1 1.2 2.1 1.2 2.1 1.5 2.1 1.4 2.1 .9 2.1 .2 2.1-.2 2.1-.2 2.1-.2 2.1-.2 2.1-.3 2.1-.2 2.1-.2 2.1-.1 2.1-.1 2.1-.1 2.1 0 2.1-.1" fill="none" stroke="#0a32ff" stroke-width="1.7"/>
</svg>
<line x1="29.6" y1="733.73" x2="155.5" y2="733.73" stroke="#444" stroke-width="0.8" stroke-dasharray="1.2 1.3"/>
<rect x="29.6" y="696.4" width="125.9" height="84" fill="none" stroke="#5a5a5a" stroke-width="1"/>
<path d="M29.6 780.4v1.6M29.6 696.4v1.6M50.58 780.4v1.6M50.58 696.4v1.6M71.57 780.4v1.6M71.57 696.4v1.6M92.55 780.4v1.6M92.55 696.4v1.6M113.53 780.4v1.6M113.53 696.4v1.6M134.52 780.4v1.6M134.52 696.4v1.6M155.5 780.4v1.6M155.5 696.4v1.6" stroke="#5a5a5a" stroke-width="0.8"/>
<text x="27.4" y="773.66" font-size="7.2" text-anchor="end" fill="#000">-20</text>
<text x="27.4" y="754.99" font-size="7.2" text-anchor="end" fill="#000">-10</text>
<text x="27.4" y="736.33" font-size="7.2" text-anchor="end" fill="#000">0</text>
<text x="27.4" y="717.66" font-size="7.2" text-anchor="end" fill="#000">10</text>
<path d="M28 771.07h1.6M153.9 771.07h1.6M28 752.4h1.6M153.9 752.4h1.6M28 733.73h1.6M153.9 733.73h1.6M28 715.07h1.6M153.9 715.07h1.6M28 696.4h1.6M153.9 696.4h1.6" stroke="#5a5a5a" stroke-width="0.8"/>
<text x="27.4" y="700.3" font-size="7.2" text-anchor="end" fill="#000">20</text>
<text x="29.6" y="789.3" font-size="7.2" text-anchor="middle" fill="#000">200</text>
<text x="50.58" y="789.3" font-size="7.2" text-anchor="middle" fill="#000">220</text>
<text x="71.57" y="789.3" font-size="7.2" text-anchor="middle" fill="#000">240</text>
<text x="92.55" y="789.3" font-size="7.2" text-anchor="middle" fill="#000">260</text>
<text x="113.53" y="789.3" font-size="7.2" text-anchor="middle" fill="#000">280</text>
<text x="134.52" y="789.3" font-size="7.2" text-anchor="middle" fill="#000">300</text>
<text x="151.1" y="789.3" font-size="7.2" text-anchor="middle" fill="#000">320</text>
<text x="96.45" y="796.9" font-size="7.2" text-anchor="middle" fill="#000">Wavelength (nm)</text>
<text x="33.2" y="707" font-size="10.3" text-anchor="start" fill="#222">63%</text>
<path d="M160.4 675.4l.3-.1 .3-.1 .3 0 .3-.1 .3 0 .3-.1 .3 0 .3 0 .3-.1 .3 0 .3 0 .3 0 .3 0 .3-.1 .3 0 .3 0 .3 0 .3 0 .3 0 .3 0 .3 0 1.1 0 1.1-.1 1.1 0 1.2 0 1.1 0 1.1 0 1.1 0 1.1 0 1.1 0 1.1-.1 1.2 0 1.1 0 1.1 0 1.1 0 1.1 0 1.1 0 1.2 0 1.1 0 1.1 0 1.1-.1 1.1 0 1.1 0 1.1 0 1.2 0 1.1 0 1.1 0 1.1 0 1.1 0 1.1 0 1.1 0 1.2 0 1.1-.1 1.1 0 1.1 0 1.1 0 1.1 0 1.1 0 1.2 0 1.1 0 1.1 0 1.1 0 1.1 0 1.1 0 1.1 0 1.2 0 1.1 0 1.1 0 1.1 0 1.1-.1 1.1 0 1.1 0 1.2 0 1.1 0 1.1 0 1.1 0 1.1 0 1.1 0 1.1 0 1.2 0 .3 0 .4 0 .5 0 .4 .1 .5 0 .4 0 .5 0 .5 0 .4 0 .5 0 .4 .1 .5 0 .5 0 .4 0 .5 0 .4 0 .5 0 .4 0 .5 0 .5 0 .6 0 1.1 .1 1.1 0 1.2 0 1.1 0 1.2 0 1.1 0 1.1 0 1.2 0 1.1 0 1.2 .1 1.1 0 1.1 0 1.2 0 1.1 0 1.2 0 1.1 0 1.1 0 1.2 0 1.1 0 1.2 0 1.1 0 1.1 .1 1.2 0 1.1 0 1.1 0 1.2 0 1.1 0 1.2 0 1.1 0 1.1 0 1.2 0 1.1 0 1.2 0 1.1 0 1.1 .1 1.2 0 1.1 0 1.2 0 1.1 0" fill="none" stroke="#111" stroke-width="0.8"/>
<path d="M160.4 675.4l.3 0 .3-.1 .3 0 .3 0 .3-.1 .3 0 .3 0 .3 0 .3 0 .3 0 .3-.1 .3 0 .3 0 .3 0 .3 0 .3 0 .3 0 .3 0 .3 0 .3 0 .3 0 1.1 0 1.1 0 1.1 0 1.2 0 1.1 0 1.1-.1 1.1 0 1.1 0 1.1 0 1.1 0 1.2 0 1.1 0 1.1 0 1.1 0 1.1 0 1.1 0 1.2 0 1.1 0 1.1 0 1.1 0 1.1 0 1.1 0 1.1 0 1.2 0 1.1 0 1.1-.1 1.1 0 1.1 0 1.1 0 1.1 0 1.2 0 1.1 0 1.1 0 1.1 0 1.1 0 1.1 0 1.1 0 1.2 0 1.1 0 1.1 0 1.1 0 1.1 0 1.1 0 1.1 0 1.2 0 1.1 0 1.1 0 1.1 0 1.1 0 1.1 0 1.1 0 1.2 0 1.1 0 1.1 0 1.1 0 1.1 0 1.1 0 1.1 0 1.2-.1 .3 .1 .4 0 .5 0 .4 0 .5 0 .4 0 .5 .1 .5 0 .4 0 .5 0 .4 0 .5 0 .5 0 .4 0 .5 0 .4 .1 .5 0 .4 0 .5 0 .5 0 .6 0 1.1 0 1.1 0 1.2 0 1.1 0 1.2 .1 1.1 0 1.1 0 1.2 0 1.1 0 1.2 0 1.1 0 1.1 0 1.2 0 1.1 0 1.2 0 1.1 .1 1.1 0 1.2 0 1.1 0 1.2 0 1.1 0 1.1 0 1.2 0 1.1 0 1.1 0 1.2 0 1.1 0 1.2 0 1.1 0 1.1 .1 1.2 0 1.1 0 1.2 0 1.1 0 1.1 0 1.2 0 1.1 0 1.2 0 1.1 0" fill="none" stroke="#111" stroke-width="0.8"/>
<path d="M160.4 675.4l.3-.2 .3-.1 .3-.2 .3-.1 .3-.1 .3 0 .3-.1 .3-.1 .3 0 .3 0 .3-.1 .3 0 .3 0 .3-.1 .3 0 .3 0 .3 0 .3 0 .3 0 .3-.1 .3 0 1.1 0 1.1 0 1.1 0 1.2 0 1.1-.1 1.1 0 1.1 0 1.1 0 1.1 0 1.1 0 1.2 0 1.1 0 1.1 0 1.1-.1 1.1 0 1.1 0 1.2 0 1.1 0 1.1 0 1.1 0 1.1 0 1.1 0 1.1 0 1.2 0 1.1-.1 1.1 0 1.1 0 1.1 0 1.1 0 1.1 0 1.2 0 1.1 0 1.1 0 1.1 0 1.1 0 1.1 0 1.1 0 1.2 0 1.1-.1 1.1 0 1.1 0 1.1 0 1.1 0 1.1 0 1.2 0 1.1 0 1.1 0 1.1 0 1.1 0 1.1 0 1.1 0 1.2 0 1.1 0 1.1 0 1.1 0 1.1 0 1.1 0 1.1 0 1.2-.1 .3 .1 .4 0 .5 0 .4 .1 .5 0 .4 0 .5 .1 .5 0 .4 0 .5 0 .4 .1 .5 0 .5 0 .4 0 .5 0 .4 .1 .5 0 .4 0 .5 0 .5 0 .6 0 1.1 .1 1.1 0 1.2 0 1.1 0 1.2 .1 1.1 0 1.1 0 1.2 0 1.1 0 1.2 .1 1.1 0 1.1 0 1.2 0 1.1 0 1.2 0 1.1 .1 1.1 0 1.2 0 1.1 0 1.2 0 1.1 0 1.1 .1 1.2 0 1.1 0 1.1 0 1.2 0 1.1 0 1.2 0 1.1 .1 1.1 0 1.2 0 1.1 0 1.2 0 1.1 0 1.1 0 1.2 .1 1.1 0 1.2 0 1.1 0" fill="none" stroke="#111" stroke-width="0.8"/>
<path d="M160.4 675.4l.3-.4 .3-.3 .3-.2 .3-.2 .3-.2 .3-.2 .3-.1 .3-.2 .3-.1 .3 0 .3-.1 .3-.1 .3 0 .3-.1 .3 0 .3-.1 .3 0 .3-.1 .3 0 .3 0 .3 0 1.1-.1 1.1-.1 1.1 0 1.2-.1 1.1 0 1.1-.1 1.1 0 1.1 0 1.1-.1 1.1 0 1.2-.1 1.1 0 1.1 0 1.1-.1 1.1 0 1.1 0 1.2-.1 1.1 0 1.1 0 1.1-.1 1.1 0 1.1 0 1.1-.1 1.2 0 1.1 0 1.1 0 1.1-.1 1.1 0 1.1 0 1.1-.1 1.2 0 1.1 0 1.1 0 1.1-.1 1.1 0 1.1 0 1.1 0 1.2 0 1.1-.1 1.1 0 1.1 0 1.1 0 1.1-.1 1.1 0 1.2 0 1.1 0 1.1 0 1.1 0 1.1-.1 1.1 0 1.1 0 1.2 0 1.1 0 1.1-.1 1.1 0 1.1 0 1.1 0 1.1 0 1.2 0 .3 0 .4 .1 .5 .1 .4 .1 .5 .1 .4 .1 .5 .1 .5 0 .4 .1 .5 .1 .4 0 .5 .1 .5 0 .4 .1 .5 0 .4 .1 .5 0 .4 .1 .5 0 .5 0 .6 .1 1.1 .1 1.1 .1 1.2 0 1.1 .1 1.2 .1 1.1 0 1.1 .1 1.2 0 1.1 .1 1.2 0 1.1 .1 1.1 0 1.2 .1 1.1 0 1.2 0 1.1 .1 1.1 0 1.2 .1 1.1 0 1.2 .1 1.1 0 1.1 0 1.2 .1 1.1 0 1.1 .1 1.2 0 1.1 .1 1.2 0 1.1 0 1.1 .1 1.2 0 1.1 .1 1.2 0 1.1 0 1.1 .1 1.2 0 1.1 .1 1.2 0 1.1 .1" fill="none" stroke="#111" stroke-width="0.8"/>
<path d="M160.4 675.4l.3-1.1 .3-.9 .3-.7 .3-.7 .3-.6 .3-.4 .3-.5 .3-.3 .3-.3 .3-.3 .3-.2 .3-.2 .3-.2 .3-.1 .3-.2 .3-.1 .3-.1 .3-.1 .3-.1 .3 0 .3-.1 1.1-.2 1.1-.2 1.1-.1 1.2-.1 1.1-.2 1.1-.1 1.1-.1 1.1-.1 1.1-.1 1.1-.1 1.2-.1 1.1-.1 1.1-.1 1.1 0 1.1-.1 1.1-.1 1.2-.1 1.1-.1 1.1-.1 1.1-.1 1.1 0 1.1-.1 1.1-.1 1.2-.1 1.1 0 1.1-.1 1.1-.1 1.1-.1 1.1 0 1.1-.1 1.2-.1 1.1 0 1.1-.1 1.1 0 1.1-.1 1.1-.1 1.1 0 1.2-.1 1.1 0 1.1-.1 1.1 0 1.1-.1 1.1-.1 1.1 0 1.2-.1 1.1 0 1.1-.1 1.1 0 1.1 0 1.1-.1 1.1 0 1.2-.1 1.1 0 1.1-.1 1.1 0 1.1 0 1.1-.1 1.1 0 1.2-.1 .3 .2 .4 .2 .5 .1 .4 .2 .5 .2 .4 .1 .5 .1 .5 .2 .4 .1 .5 .1 .4 .1 .5 .1 .5 .1 .4 .1 .5 .1 .4 .1 .5 .1 .4 0 .5 .1 .5 .1 .6 .1 1.1 .1 1.1 .2 1.2 .1 1.1 .1 1.2 .1 1.1 .1 1.1 .1 1.2 .1 1.1 .1 1.2 .1 1.1 .1 1.1 .1 1.2 .1 1.1 .1 1.2 .1 1.1 0 1.1 .1 1.2 .1 1.1 .1 1.2 .1 1.1 0 1.1 .1 1.2 .1 1.1 .1 1.1 0 1.2 .1 1.1 .1 1.2 .1 1.1 .1 1.1 0 1.2 .1 1.1 .1 1.2 .1 1.1 0 1.1 .1 1.2 .1 1.1 .1 1.2 .1 1.1 0" fill="none" stroke="#111" stroke-width="0.8"/>
<path d="M160.4 675.4l.3-1.1 .3-.9 .3-.8 .3-.7 .3-.6 .3-.5 .3-.4 .3-.4 .3-.3 .3-.3 .3-.2 .3-.2 .3-.2 .3-.2 .3-.1 .3-.1 .3-.1 .3-.1 .3-.1 .3-.1 .3-.1 1.1-.2 1.1-.1 1.1-.2 1.2-.1 1.1-.1 1.1-.1 1.1-.1 1.1-.1 1.1-.1 1.1-.1 1.2-.1 1.1-.1 1.1-.1 1.1-.1 1.1-.1 1.1-.1 1.2-.1 1.1-.1 1.1-.1 1.1 0 1.1-.1 1.1-.1 1.1-.1 1.2 0 1.1-.1 1.1-.1 1.1-.1 1.1 0 1.1-.1 1.1-.1 1.2 0 1.1-.1 1.1-.1 1.1 0 1.1-.1 1.1 0 1.1-.1 1.2-.1 1.1 0 1.1-.1 1.1 0 1.1-.1 1.1 0 1.1-.1 1.2 0 1.1-.1 1.1 0 1.1-.1 1.1 0 1.1-.1 1.1 0 1.2-.1 1.1 0 1.1 0 1.1-.1 1.1 0 1.1-.1 1.1 0 1.2 0 .3 .1 .4 .3 .5 .2 .4 .2 .5 .2 .4 .2 .5 .1 .5 .2 .4 .1 .5 .2 .4 .1 .5 .2 .5 .1 .4 .1 .5 .1 .4 .1 .5 .1 .4 .1 .5 .1 .5 .1 .6 .1 1.1 .2 1.1 .2 1.2 .1 1.1 .2 1.2 .1 1.1 .1 1.1 .2 1.2 .1 1.1 .1 1.2 .1 1.1 .1 1.1 .1 1.2 .1 1.1 .1 1.2 .1 1.1 .1 1.1 .1 1.2 .1 1.1 .1 1.2 .1 1.1 .1 1.1 .1 1.2 .1 1.1 .1 1.1 .1 1.2 .1 1.1 .1 1.2 .1 1.1 .1 1.1 .1 1.2 .1 1.1 .1 1.2 .1 1.1 .1 1.1 .1 1.2 .1 1.1 .1 1.2 .1 1.1 .1" fill="none" stroke="#111" stroke-width="0.8"/>
<path d="M160.4 675l.7-.6 .7 .3 .8-.1 .7-.4 .7-.4 .7 0 .7 .1 .8-.5 .7 .8 .7 .3 .7 .4 .7-.6 .8 .1 .7 .4 .7-.2 .7-.8 .7-.1 .8-.2 .7-.4 .7 .5 .7-.1 .8 .3 .7 .1 .7 .1 .7 .2 .7 .1 .8 .1 .7-.6 .7 .4 .7-.1 .7-.1 .8 .4 .7 0 .7-.1 .7 .4 .7-.3 .8-.3 .7 .2 .7 0 .7-.7 .7 .1 .8-.4 .7 .1 .7-.1 .7 .2 .7 .6 .8 .6 .7 .2 .7 .1 .7-.2 .7-.6 .8-.7 .7-.1 .7 .3 .7 .9 .8 .4 .7 0 .7 0 .7 0 .7-.8 .8-.1 .7-.3 .7 .1 .7-.2 .7-.2 .8 .3 .7 0 .7-.1 .7 .3 .7-.2 .8 .1 .7-.1 .7-.4 .7 0 .7-.4 .8 .8 .7-.2 .7 .2 .7 .3 .7-.3 .8-.5 .7 .2 .7 .5 .7 0 .7-.3 .8 .6 .7-.7 .7-.2 .7 .5 .8 0 .7 .5 .7-.2 .7-.2 .7-.6 .8 0 .7-.6 .7-.3 .7-.3 .7 .4 .8-.1 .7 0 .7 .3 .7 .4 .7 .3 .8-.1 .7 .5 .7 .1 .7 .3 .7-.1 .8 0 .7-.1 .7 0 .7-.4 .7-.3 .8 .3 .7 .3 .7-.6 .7-.1 .7 0 .8-.1 .7-.6 .7 .8 .7 .1 .8-.4 .7-.3 .7 .4 .7 .4 .7 .4 .8 .6 .7 0 .7 .2 .7 .2 .7-.4 .8-.1 .7-.7 .7 .3 .7-.2 .7 .4 .8-.2 .7 .5 .7-.3 .7 .5 .7-.5 .8 .1 .7-.2 .7 .1 .7 .7 .7-.3 .8 .1 .7-.2 .7 0 .7 .1 .7-.4 .8-.1 .7-.8 .7-.6 .7 .3 .8 .4 .7 .7 .7 .3 .7 0 .7 .4 .8 .1 .7-.5 .7-.2 .7-.2 .7 .1 .8-.6 .7 .3 .7-.2 .7-.1 .7 .6 .8 0 .7 .5 .7 .3" fill="none" stroke="#a07a4a" stroke-width="1.2" stroke-linejoin="round"/>
<path d="M160.4 675l.7-1 .7 .6 .8 .1 .7 .3 .7 0 .7 0 .7 0 .8 0 .7 0 .7 0 .7 0 .7 0 .8 0 .7-.5 .7 .3 .7 .2 .7 0 .8 0 .7 0 .7 0 .7 0 .8 0 .7 0 .7-.5 .7-.2 .7-.3 .8 .2 .7-.1 .7 .4 .7 .3 .7 .2 .8 0 .7-.1 .7-.5 .7 .2 .7-.6 .8-.1 .7 .2 .7 .1 .7-.3 .7 .1 .8-.9 .7 .7 .7 .2 .7 .3 .7 0 .8 0 .7 .2 .7 .1 .7 .3 .7-.3 .8-.1 .7 .5 .7 0 .7-.4 .8-.8 .7 .1 .7 .6 .7 0 .7-.1 .8-.2 .7 .6 .7-.3 .7 0 .7 .1 .8 .3 .7 .1 .7-.1 .7 .1 .7-1.1 .8 .3 .7-.3 .7 .3 .7-.2 .7-.2 .8 .3 .7 .5 .7 .4 .7-.1 .7 .1 .8-.1 .7 .1 .7 0 .7-.5 .7-.4 .8-.7 .7 .3 .7 .2 .7 .2 .8 0 .7 .3 .7 0 .7-.4 .7 .2 .8 .2 .7-.1 .7 .2 .7-.2 .7 0 .8 0 .7-.4 .7-.1 .7 .1 .7 .5 .8 .6 .7 0 .7 0 .7 0 .7 0 .8 0 .7 0 .7 0 .7 0 .7 0 .8-.4 .7 0 .7 .4 .7 0 .7 0 .8 0 .7-.1 .7 0 .7 .1 .8 0 .7 0 .7 0 .7-.1 .7 0 .8-.2 .7 .2 .7 0 .7 .1 .7 0 .8 0 .7-.1 .7 .1 .7-.3 .7 .3 .8-.1 .7-.3 .7-.3 .7-.3 .7-.1 .8 .9 .7 .1 .7 .1 .7-.3 .7 .2 .8-.1 .7-.4 .7 0 .7 .6 .7-.1 .8 0 .7 .1 .7 0 .7 0 .8 0 .7 0 .7 0 .7 0 .7-.3 .8 .3 .7-.1 .7-.1 .7 .2 .7 0 .8 0 .7 0 .7 0 .7 0 .7 0 .8 0 .7-.3 .7-.7" fill="none" stroke="#cc44ee" stroke-width="1.2" stroke-linejoin="round"/>
<path d="M160.4 675l.7-.2 .7 .1 .8 .1 .7-.2 .7 0 .7 0 .7-.7 .8-.4 .7-.7 .7 .4 .7-.1 .7 .8 .8-.2 .7 .7 .7-.4 .7-.4 .7 0 .8 .1 .7 .1 .7-.1 .7 .4 .8-.3 .7-.1 .7-.1 .7-.1 .7-.4 .8 .2 .7 0 .7 .4 .7 .2 .7 .1 .8 .1 .7-.9 .7 .2 .7-.2 .7 .9 .8-.7 .7 .4 .7 0 .7 .5 .7-.1 .8 .2 .7-.4 .7-.5 .7-.7 .7-.5 .8 .3 .7 .4 .7 0 .7 .6 .7 .2 .8 .5 .7 0 .7 .1 .7-1.3 .8 .2 .7-.3 .7 .1 .7 1.1 .7 0 .8 .3 .7-.4 .7 0 .7-.5 .7-.1 .8-.1 .7 .3 .7 .8 .7 .2 .7-.7 .8 .2 .7-.3 .7-.4 .7-.7 .7-.7 .8-.2 .7-.2 .7-.3 .7 .2 .7 .2 .8 .2 .7 .6 .7 .5 .7 .9 .7-.1 .8-.2 .7-.4 .7-.3 .7 .2 .8 .3 .7-.2 .7-.3 .7-.2 .7-.2 .8-.2 .7 .1 .7 .4 .7 .6 .7 .3 .8-.1 .7-.7 .7-.1 .7-.2 .7-.6 .8 .1 .7 .1 .7 .5 .7-.1 .7 .7 .8 .3 .7 .1 .7 .2 .7 .1 .7-.4 .8-.2 .7 .3 .7-.2 .7-.4 .7-.4 .8-.7 .7 .5 .7 .6 .7 0 .8 .7 .7 .4 .7-.4 .7-.1 .7 .4 .8 0 .7 .5 .7 .1 .7-.9 .7-.4 .8 .4 .7-.3 .7 .7 .7-.4 .7 .3 .8 .1 .7-.3 .7 .2 .7-.2 .7-.4 .8 .2 .7-.2 .7 .2 .7-.1 .7 .1 .8 0 .7 .3 .7-.9 .7 .5 .7-.2 .8 .8 .7 .3 .7 .2 .7-.2 .8 .1 .7-.5 .7 .3 .7-.3 .7-.3 .8-.1 .7 .3 .7-.5 .7 .4 .7-.5 .8 .4 .7-.5 .7 .4 .7 .2 .7 .2 .8-.2 .7-.2 .7 .4" fill="none" stroke="#ff2e1f" stroke-width="1.2" stroke-linejoin="round"/>
<path d="M160.4 675l.7-.3 .7-.5 .8-.1 .7-.6 .7-.9 .7-.3 .7-.2 .8 .1 .7 0 .7-.2 .7 .5 .7-.2 .8-.5 .7 .3 .7-.4 .7-.2 .7 .4 .8-.7 .7-.6 .7 .9 .7 .1 .8 .5 .7-.1 .7-.2 .7 0 .7 .1 .8 .7 .7-.1 .7 .2 .7-.7 .7-.5 .8-.2 .7-.1 .7 .6 .7 .5 .7-.3 .8 .5 .7-.6 .7 .2 .7 .3 .7-.5 .8 0 .7 .5 .7-.4 .7-.3 .7-.2 .8-.6 .7 .1 .7 .5 .7 .5 .7-.3 .8 .5 .7 .4 .7-.3 .7 .3 .8-.6 .7-.5 .7 .8 .7-1.1 .7 0 .8-.1 .7 .5 .7 0 .7 .1 .7 0 .8 0 .7-.1 .7-.2 .7 .6 .7-.3 .8 0 .7 .1 .7-1.2 .7-.1 .7-.4 .8 .3 .7 .5 .7 .2 .7 .3 .7-.1 .8-.9 .7 .1 .7 .1 .7 0 .7-.2 .8-.1 .7 .3 .7 .4 .7 .4 .8-.1 .7 1.3 .7-.3 .7-.7 .7-.4 .8-.4 .7 0 .7-.2 .7 .7 .7-.3 .8 .2 .7-.1 .7 .5 .7 .1 .7 .5 .8-.4 .7-.3 .7-.3 .7 .2 .7 .6 .8-.1 .7 .4 .7 0 .7 .8 .7 .7 .8 0 .7-.2 .7-.5 .7-.4 .7-.1 .8 .1 .7 .3 .7 0 .7 .1 .8-.4 .7 .2 .7-.1 .7-.4 .7-.2 .8-.1 .7 .6 .7-.3 .7 .3 .7 .3 .8 .3 .7 .1 .7 0 .7-.7 .7 .6 .8-.5 .7 .1 .7-.2 .7-.2 .7-.1 .8 0 .7 .3 .7 .1 .7 .2 .7 .1 .8-.6 .7 .7 .7 .3 .7-.4 .7 .7 .8-.3 .7 .1 .7 .1 .7-.3 .8 .4 .7-.2 .7-.4 .7-.2 .7 0 .8-.1 .7 .4 .7 .4 .7-.6 .7 0 .8-.5 .7-.4 .7 .6 .7 .3 .7 .8 .8-.1 .7 .2 .7 0" fill="none" stroke="#1fd21f" stroke-width="1.2" stroke-linejoin="round"/>
<path d="M160.4 675l.7-3 .7-1.3 .8-1 .7-.9 .7-.5 .7-.1 .7-1 .8 .1 .7-.7 .7-.1 .7-.3 .7 .6 .8 .5 .7 .2 .7 .5 .7-.2 .7-.4 .8-.2 .7-.8 .7 .6 .7-.8 .8 .7 .7-.5 .7-.2 .7 .2 .7 .4 .8-.5 .7-.3 .7-.3 .7-.3 .7 0 .8 .1 .7 .8 .7-.3 .7 .3 .7-.8 .8 .1 .7 .2 .7-.4 .7 .4 .7-.1 .8 .5 .7-.2 .7-.3 .7 0 .7-.4 .8 0 .7-.3 .7 0 .7-.9 .7 .2 .8 .3 .7-.1 .7 .5 .7 .5 .8 .2 .7 .2 .7-.2 .7 .5 .7-.2 .8-.3 .7-.6 .7-.4 .7 0 .7-.5 .8-.8 .7 .5 .7 .5 .7 .6 .7 .3 .8-.9 .7-.6 .7 0 .7-.1 .7 .1 .8-.4 .7-.2 .7 .1 .7-.2 .7 .5 .8-.8 .7-.2 .7 .2 .7 .8 .7-.3 .8 .5 .7-.1 .7 .5 .7-.1 .8 .2 .7-.2 .7-.1 .7-.7 .7-.3 .8 0 .7 .4 .7 .5 .7 0 .7-.6 .8-.7 .7-.5 .7 .2 .7 .8 .7 1.2 .8 1.1 .7-.3 .7-.2 .7 .2 .7-.6 .8 .9 .7-.4 .7 .3 .7 .3 .7 .2 .8 .3 .7 .3 .7 .1 .7-.3 .7-.5 .8-.4 .7 .6 .7 .8 .7 .4 .8 .1 .7-.4 .7 .3 .7-.6 .7-.2 .8 .3 .7 .3 .7-.2 .7 .4 .7 .3 .8 .2 .7 .2 .7 .4 .7-.5 .7 .1 .8 0 .7-.2 .7 .3 .7-.3 .7-.7 .8-.5 .7 .1 .7 .4 .7 .6 .7 .2 .8-.1 .7 .2 .7 .4 .7 .2 .7-.5 .8-.1 .7 0 .7 .1 .7 .3 .8 .7 .7 .3 .7 .5 .7 .1 .7 0 .8-.1 .7-.7 .7 0 .7 .5 .7-.2 .8 .1 .7 .1 .7 .1 .7-1 .7-.2 .8 .4 .7-.3 .7 .7" fill="none" stroke="#ff9426" stroke-width="1.2" stroke-linejoin="round"/>
<path d="M160.4 675l.7-1.2 .7-1.3 .8-1.6 .7-1.2 .7-.8 .7-.7 .7 .2 .8-.3 .7-.3 .7-.3 .7-.2 .7 .1 .8 .2 .7-.5 .7-.2 .7-.6 .7-.9 .8 .2 .7 .1 .7 .3 .7 .4 .8 .4 .7 0 .7-.1 .7-.1 .7 0 .8-.3 .7 .2 .7-.1 .7-.5 .7 .1 .8 .3 .7-.2 .7-.6 .7 .4 .7-.1 .8 .1 .7-.1 .7 .8 .7 0 .7 .2 .8 .4 .7-.3 .7-.5 .7-1 .7 0 .8 .1 .7 0 .7-.4 .7-.9 .7-.4 .8 1.2 .7 .1 .7 0 .7 .5 .8-.1 .7-.3 .7-.8 .7-.5 .7 0 .8 .1 .7 .4 .7 .3 .7 .3 .7-.1 .8-.6 .7-.5 .7 .1 .7 .7 .7-.4 .8-.2 .7-.5 .7-.1 .7-.8 .7-.1 .8-.2 .7 .1 .7 1 .7 .1 .7 .2 .8 .8 .7-.3 .7-.2 .7-.2 .7-.5 .8-.2 .7 0 .7-.2 .7 .4 .8-.5 .7 .4 .7-.2 .7 .1 .7 0 .8 .4 .7 0 .7 .1 .7-.7 .7 0 .8 .4 .7 1.1 .7 .1 .7-.1 .7-.3 .8 .2 .7 .3 .7 .2 .7 .1 .7 .3 .8 .1 .7 .8 .7-.4 .7 1.2 .7-.8 .8 .5 .7-.5 .7 .9 .7-.3 .7 .6 .8 0 .7-.5 .7-.1 .7 .2 .8-.8 .7 .7 .7-.1 .7 .8 .7 .1 .8 0 .7 .6 .7 .2 .7 .9 .7-.5 .8 .1 .7 0 .7-.5 .7-.2 .7-.1 .8-.4 .7 .1 .7 0 .7-.1 .7 .5 .8 .1 .7 .7 .7 0 .7-.1 .7-.1 .8-.1 .7 .1 .7 .2 .7 0 .7 .2 .8 .2 .7 .1 .7 0 .7-.4 .8 .1 .7-.6 .7-.3 .7 0 .7-.4 .8 .3 .7 .3 .7 .6 .7 1.2 .7 .1 .8-.3 .7-.6 .7 .2 .7 .2 .7 .9 .8 .2 .7-.6 .7-.5" fill="none" stroke="#2850f0" stroke-width="1.2" stroke-linejoin="round"/>
<rect x="160.4" y="591.3" width="126.1" height="83.7" fill="none" stroke="#5a5a5a" stroke-width="1"/>
<path d="M160.4 675v1.6M160.4 591.3v1.6M178.41 675v1.6M178.41 591.3v1.6M196.43 675v1.6M196.43 591.3v1.6M214.44 675v1.6M214.44 591.3v1.6M232.46 675v1.6M232.46 591.3v1.6M250.47 675v1.6M250.47 591.3v1.6M268.49 675v1.6M268.49 591.3v1.6M286.5 675v1.6M286.5 591.3v1.6" stroke="#5a5a5a" stroke-width="0.8"/>
<path d="M158.8 675h1.6M284.9 675h1.6M158.8 647.1h1.6M284.9 647.1h1.6M158.8 619.2h1.6M284.9 619.2h1.6M158.8 591.3h1.6M284.9 591.3h1.6" stroke="#5a5a5a" stroke-width="0.8"/>
<text x="161.6" y="684.2" font-size="7.1" text-anchor="middle" fill="#000">0</text>
<text x="178.41" y="684.2" font-size="7.1" text-anchor="middle" fill="#000">30</text>
<text x="196.43" y="684.2" font-size="7.1" text-anchor="middle" fill="#000">60</text>
<text x="214.44" y="684.2" font-size="7.1" text-anchor="middle" fill="#000">90</text>
<text x="232.46" y="684.2" font-size="7.1" text-anchor="middle" fill="#000">120</text>
<text x="250.47" y="684.2" font-size="7.1" text-anchor="middle" fill="#000">150</text>
<text x="268.49" y="684.2" font-size="7.1" text-anchor="middle" fill="#000">180</text>
<text x="282.7" y="684.2" font-size="7.1" text-anchor="middle" fill="#000">210</text>
<text x="224.1" y="692.6" font-size="7.4" text-anchor="middle" fill="#000">Time (s)</text>
<text x="164.6" y="604.2" font-size="10.3" text-anchor="start" fill="#111" font-weight="bold">77%</text>
<svg x="161.5" y="696.4" width="125.3" height="84" viewBox="161.5 696.4 125.3 84" overflow="hidden">
<path d="M161.5 714.5l2.1 17.3 2.1 10.4 2.1 7 2.1 4.9 2 1 2.1-2.5 2.1-3 2.1-3.6 2.1-2.2 2.1-.9 2.1-.6 2.1-.2 2 0 2.1 0 2.1 0 2.1 0 2.1-.4 2.1-1 2.1-1 2.1-1.2 2.1-1.3 2-1.6 2.1-1.8 2.1-2.3 2.1-3.4 2.1-3.8 2.1-3.2 2.1-1.7 2.1-1.1 2.1-.8 2-.6 2.1-.1 2.1 .5 2.1 1.2 2.1 1.5 2.1 1.8 2.1 2.7 2.1 2.7 2 2 2.1 1.3 2.1 1 2.1 .9 2.1 .9 2.1 .9 2.1 .9 2.1 .8 2.1 .5 2 .1 2.1-.2 2.1-.3 2.1-.5 2.1-.3 2.1-.3 2.1-.2 2.1-.2 2-.2 2.1-.2 2.1-.1 2.1-.2 2.1-.1" fill="none" stroke="#5ae6ff" stroke-width="0.85"/>
<path d="M161.5 714.5l2.1 17.4 2.1 10.8 2.1 7.8 2.1 5.6 2 1.2 2.1-3 2.1-3.5 2.1-4.2 2.1-2.5 2.1-1.1 2.1-.8 2.1-.2 2 .1 2.1 .1 2.1 0 2.1 0 2.1-.5 2.1-.9 2.1-1.1 2.1-1.2 2.1-1.3 2-1.6 2.1-1.8 2.1-2.3 2.1-3.4 2.1-3.9 2.1-3.3 2.1-1.9 2.1-1.3 2.1-1.1 2-.8 2.1-.2 2.1 .6 2.1 1.4 2.1 1.8 2.1 1.9 2.1 2.8 2.1 3 2 2 2.1 1.3 2.1 1.1 2.1 .9 2.1 .9 2.1 .9 2.1 .9 2.1 .9 2.1 .5 2 .1 2.1-.2 2.1-.4 2.1-.4 2.1-.4 2.1-.3 2.1-.2 2.1-.2 2-.2 2.1-.2 2.1-.1 2.1-.2 2.1-.1" fill="none" stroke="#55dcff" stroke-width="0.85"/>
<path d="M161.5 714.5l2.1 17.4 2.1 11.3 2.1 8.4 2.1 6.1 2 1.3 2.1-3.4 2.1-3.9 2.1-4.5 2.1-2.8 2.1-1.4 2.1-.9 2.1-.1 2 0 2.1 .2 2.1 .1 2.1 0 2.1-.5 2.1-1 2.1-1.1 2.1-1.2 2.1-1.3 2-1.6 2.1-1.8 2.1-2.3 2.1-3.4 2.1-4 2.1-3.4 2.1-2 2.1-1.5 2.1-1.3 2-.9 2.1-.3 2.1 .7 2.1 1.5 2.1 1.9 2.1 2.1 2.1 3 2.1 3 2 2.1 2.1 1.4 2.1 1.1 2.1 .9 2.1 .9 2.1 .9 2.1 1 2.1 .8 2.1 .6 2 0 2.1-.2 2.1-.3 2.1-.5 2.1-.4 2.1-.2 2.1-.3 2.1-.2 2-.2 2.1-.2 2.1-.1 2.1-.2 2.1-.1" fill="none" stroke="#51d3ff" stroke-width="0.85"/>
<path d="M161.5 714.5l2.1 17.4 2.1 11.7 2.1 8.8 2.1 6.6 2 1.4 2.1-3.7 2.1-4.2 2.1-4.9 2.1-3 2.1-1.5 2.1-1 2.1-.2 2 .1 2.1 .2 2.1 .1 2.1 .1 2.1-.6 2.1-1 2.1-1.1 2.1-1.2 2.1-1.3 2-1.6 2.1-1.8 2.1-2.3 2.1-3.5 2.1-3.9 2.1-3.5 2.1-2.1 2.1-1.7 2.1-1.5 2-1 2.1-.4 2.1 .8 2.1 1.7 2.1 2 2.1 2.2 2.1 3.1 2.1 3.1 2 2.2 2.1 1.4 2.1 1.1 2.1 .9 2.1 .9 2.1 .9 2.1 1 2.1 .8 2.1 .6 2 .1 2.1-.2 2.1-.4 2.1-.5 2.1-.4 2.1-.2 2.1-.3 2.1-.2 2-.2 2.1-.2 2.1-.1 2.1-.2 2.1-.1" fill="none" stroke="#4dc9ff" stroke-width="0.85"/>
<path d="M161.5 714.5l2.1 17.4 2.1 12 2.1 9.1 2.1 6.9 2 1.5 2.1-3.9 2.1-4.5 2.1-5.1 2.1-3.2 2.1-1.6 2.1-1 2.1-.2 2 .1 2.1 .2 2.1 .2 2.1 0 2.1-.5 2.1-1 2.1-1.2 2.1-1.2 2.1-1.3 2-1.6 2.1-1.8 2.1-2.3 2.1-3.5 2.1-4 2.1-3.5 2.1-2.2 2.1-1.8 2.1-1.6 2-1.1 2.1-.4 2.1 .8 2.1 1.7 2.1 2.1 2.1 2.3 2.1 3.2 2.1 3.2 2 2.2 2.1 1.4 2.1 1.1 2.1 1 2.1 .9 2.1 .9 2.1 1 2.1 .9 2.1 .5 2 .1 2.1-.2 2.1-.4 2.1-.4 2.1-.4 2.1-.3 2.1-.2 2.1-.3 2-.2 2.1-.2 2.1-.1 2.1-.2 2.1-.1" fill="none" stroke="#49c0ff" stroke-width="0.85"/>
<path d="M161.5 714.5l2.1 17.5 2.1 12.1 2.1 9.5 2.1 7.2 2 1.5 2.1-4.1 2.1-4.7 2.1-5.3 2.1-3.3 2.1-1.7 2.1-1.2 2.1-.2 2 .2 2.1 .2 2.1 .2 2.1 0 2.1-.5 2.1-1 2.1-1.2 2.1-1.2 2.1-1.3 2-1.6 2.1-1.8 2.1-2.3 2.1-3.5 2.1-4 2.1-3.6 2.1-2.3 2.1-1.9 2.1-1.7 2-1.2 2.1-.4 2.1 .9 2.1 1.8 2.1 2.2 2.1 2.3 2.1 3.3 2.1 3.2 2 2.3 2.1 1.4 2.1 1.1 2.1 1 2.1 .9 2.1 .9 2.1 1 2.1 .9 2.1 .6 2 .1 2.1-.3 2.1-.4 2.1-.4 2.1-.4 2.1-.3 2.1-.2 2.1-.3 2-.2 2.1-.2 2.1-.1 2.1-.2 2.1-.1" fill="none" stroke="#44b6ff" stroke-width="0.85"/>
<path d="M161.5 714.5l2.1 17.5 2.1 12.3 2.1 9.7 2.1 7.5 2 1.5 2.1-4.3 2.1-4.8 2.1-5.5 2.1-3.4 2.1-1.8 2.1-1.2 2.1-.2 2 .2 2.1 .2 2.1 .2 2.1 .1 2.1-.6 2.1-1 2.1-1.2 2.1-1.2 2.1-1.3 2-1.6 2.1-1.8 2.1-2.3 2.1-3.5 2.1-4 2.1-3.6 2.1-2.4 2.1-2 2.1-1.8 2-1.3 2.1-.4 2.1 .9 2.1 1.9 2.1 2.2 2.1 2.5 2.1 3.3 2.1 3.3 2 2.3 2.1 1.4 2.1 1.1 2.1 1 2.1 .9 2.1 .9 2.1 1 2.1 .9 2.1 .6 2 .1 2.1-.2 2.1-.4 2.1-.5 2.1-.4 2.1-.3 2.1-.2 2.1-.3 2-.2 2.1-.2 2.1-.1 2.1-.2 2.1-.1" fill="none" stroke="#40adff" stroke-width="0.85"/>
<path d="M161.5 714.5l2.1 17.5 2.1 12.5 2.1 10 2.1 7.6 2 1.6 2.1-4.4 2.1-5 2.1-5.7 2.1-3.5 2.1-1.9 2.1-1.2 2.1-.2 2 .1 2.1 .3 2.1 .2 2.1 .1 2.1-.5 2.1-1.1 2.1-1.2 2.1-1.2 2.1-1.3 2-1.6 2.1-1.8 2.1-2.3 2.1-3.5 2.1-4.1 2.1-3.6 2.1-2.5 2.1-2 2.1-1.9 2-1.3 2.1-.5 2.1 .9 2.1 2 2.1 2.3 2.1 2.5 2.1 3.4 2.1 3.3 2 2.3 2.1 1.5 2.1 1.1 2.1 1 2.1 .9 2.1 .9 2.1 1.1 2.1 .8 2.1 .6 2 .1 2.1-.2 2.1-.4 2.1-.5 2.1-.4 2.1-.3 2.1-.2 2.1-.3 2-.2 2.1-.2 2.1-.1 2.1-.2 2.1-.1" fill="none" stroke="#3ca3ff" stroke-width="0.85"/>
<path d="M161.5 714.5l2.1 17.5 2.1 12.7 2.1 10.2 2.1 7.8 2 1.7 2.1-4.6 2.1-5.1 2.1-5.9 2.1-3.6 2.1-2 2.1-1.2 2.1-.3 2 .2 2.1 .3 2.1 .3 2.1 0 2.1-.5 2.1-1.1 2.1-1.2 2.1-1.2 2.1-1.3 2-1.6 2.1-1.8 2.1-2.3 2.1-3.5 2.1-4.1 2.1-3.7 2.1-2.5 2.1-2.1 2.1-2 2-1.4 2.1-.4 2.1 .9 2.1 2 2.1 2.4 2.1 2.5 2.1 3.4 2.1 3.5 2 2.3 2.1 1.4 2.1 1.2 2.1 1 2.1 .9 2.1 .9 2.1 1.1 2.1 .9 2.1 .5 2 .1 2.1-.2 2.1-.4 2.1-.5 2.1-.4 2.1-.3 2.1-.2 2.1-.2 2-.3 2.1-.2 2.1-.1 2.1-.2 2.1-.1" fill="none" stroke="#389aff" stroke-width="0.85"/>
<path d="M161.5 714.5l2.1 17.5 2.1 12.8 2.1 10.5 2.1 8.1 2 1.7 2.1-4.8 2.1-5.3 2.1-6 2.1-3.7 2.1-2 2.1-1.3 2.1-.3 2 .2 2.1 .3 2.1 .3 2.1 .1 2.1-.6 2.1-1.1 2.1-1.2 2.1-1.2 2.1-1.3 2-1.6 2.1-1.8 2.1-2.3 2.1-3.5 2.1-4.1 2.1-3.7 2.1-2.6 2.1-2.2 2.1-2.1 2-1.4 2.1-.5 2.1 1 2.1 2 2.1 2.5 2.1 2.6 2.1 3.4 2.1 3.5 2 2.4 2.1 1.4 2.1 1.2 2.1 1 2.1 .9 2.1 1 2.1 1 2.1 .9 2.1 .6 2 .1 2.1-.3 2.1-.4 2.1-.5 2.1-.4 2.1-.3 2.1-.2 2.1-.2 2-.3 2.1-.2 2.1-.1 2.1-.2 2.1-.1" fill="none" stroke="#3490ff" stroke-width="0.85"/>
<path d="M161.5 714.5l2.1 17.5 2.1 13 2.1 10.7 2.1 8.3 2 1.7 2.1-4.9 2.1-5.4 2.1-6.2 2.1-3.9 2.1-2 2.1-1.4 2.1-.2 2 .2 2.1 .3 2.1 .3 2.1 .1 2.1-.6 2.1-1 2.1-1.3 2.1-1.2 2.1-1.3 2-1.6 2.1-1.8 2.1-2.3 2.1-3.5 2.1-4.1 2.1-3.8 2.1-2.6 2.1-2.3 2.1-2.1 2-1.5 2.1-.5 2.1 1 2.1 2.1 2.1 2.5 2.1 2.6 2.1 3.5 2.1 3.6 2 2.4 2.1 1.4 2.1 1.2 2.1 1 2.1 .9 2.1 1 2.1 1 2.1 .9 2.1 .6 2 .1 2.1-.3 2.1-.4 2.1-.5 2.1-.4 2.1-.3 2.1-.2 2.1-.2 2-.3 2.1-.2 2.1-.1 2.1-.2 2.1-.1" fill="none" stroke="#2f87ff" stroke-width="0.85"/>
<path d="M161.5 714.5l2.1 17.6 2.1 13.1 2.1 10.9 2.1 8.5 2 1.8 2.1-5.1 2.1-5.6 2.1-6.3 2.1-4 2.1-2.1 2.1-1.4 2.1-.3 2 .3 2.1 .3 2.1 .3 2.1 .1 2.1-.5 2.1-1.1 2.1-1.3 2.1-1.2 2.1-1.3 2-1.6 2.1-1.8 2.1-2.3 2.1-3.5 2.1-4.2 2.1-3.7 2.1-2.7 2.1-2.4 2.1-2.2 2-1.5 2.1-.6 2.1 1 2.1 2.2 2.1 2.6 2.1 2.7 2.1 3.5 2.1 3.6 2 2.4 2.1 1.5 2.1 1.2 2.1 .9 2.1 1 2.1 1 2.1 1 2.1 .9 2.1 .6 2 .1 2.1-.2 2.1-.5 2.1-.5 2.1-.4 2.1-.3 2.1-.2 2.1-.2 2-.3 2.1-.2 2.1-.1 2.1-.2 2.1-.1" fill="none" stroke="#2b7dff" stroke-width="0.85"/>
<path d="M161.5 714.5l2.1 17.6 2.1 13.3 2.1 11.1 2.1 8.7 2 1.8 2.1-5.2 2.1-5.7 2.1-6.5 2.1-4.1 2.1-2.2 2.1-1.4 2.1-.3 2 .3 2.1 .3 2.1 .4 2.1 .1 2.1-.6 2.1-1.1 2.1-1.3 2.1-1.2 2.1-1.3 2-1.6 2.1-1.8 2.1-2.3 2.1-3.6 2.1-4.1 2.1-3.8 2.1-2.7 2.1-2.5 2.1-2.3 2-1.6 2.1-.5 2.1 1 2.1 2.2 2.1 2.7 2.1 2.7 2.1 3.6 2.1 3.6 2 2.5 2.1 1.5 2.1 1.2 2.1 .9 2.1 1 2.1 1 2.1 1 2.1 .9 2.1 .6 2 .1 2.1-.2 2.1-.5 2.1-.4 2.1-.5 2.1-.3 2.1-.2 2.1-.2 2-.3 2.1-.1 2.1-.2 2.1-.2 2.1-.1" fill="none" stroke="#2774ff" stroke-width="0.85"/>
<path d="M161.5 714.5l2.1 17.6 2.1 13.4 2.1 11.4 2.1 8.9 2 1.9 2.1-5.4 2.1-5.9 2.1-6.6 2.1-4.2 2.1-2.2 2.1-1.5 2.1-.3 2 .2 2.1 .4 2.1 .4 2.1 .1 2.1-.6 2.1-1.1 2.1-1.3 2.1-1.2 2.1-1.3 2-1.6 2.1-1.8 2.1-2.3 2.1-3.6 2.1-4.1 2.1-3.9 2.1-2.8 2.1-2.5 2.1-2.3 2-1.7 2.1-.6 2.1 1.1 2.1 2.3 2.1 2.7 2.1 2.8 2.1 3.6 2.1 3.7 2 2.5 2.1 1.5 2.1 1.1 2.1 1 2.1 1 2.1 1 2.1 1 2.1 .9 2.1 .6 2 .1 2.1-.2 2.1-.4 2.1-.5 2.1-.5 2.1-.2 2.1-.3 2.1-.2 2-.3 2.1-.1 2.1-.2 2.1-.2 2.1-.1" fill="none" stroke="#236aff" stroke-width="0.85"/>
<path d="M161.5 714.5l2.1 17.6 2.1 13.6 2.1 11.6 2.1 9.1 2 1.9 2.1-5.5 2.1-6 2.1-6.8 2.1-4.3 2.1-2.3 2.1-1.5 2.1-.3 2 .2 2.1 .5 2.1 .3 2.1 .1 2.1-.6 2.1-1.1 2.1-1.3 2.1-1.2 2.1-1.3 2-1.6 2.1-1.8 2.1-2.3 2.1-3.6 2.1-4.1 2.1-3.9 2.1-2.9 2.1-2.6 2.1-2.4 2-1.7 2.1-.6 2.1 1.1 2.1 2.3 2.1 2.8 2.1 2.8 2.1 3.8 2.1 3.6 2 2.5 2.1 1.5 2.1 1.2 2.1 1 2.1 1 2.1 1 2.1 1 2.1 1 2.1 .6 2 .1 2.1-.3 2.1-.4 2.1-.5 2.1-.5 2.1-.2 2.1-.3 2.1-.2 2-.2 2.1-.2 2.1-.2 2.1-.2 2.1-.1" fill="none" stroke="#1f61ff" stroke-width="0.85"/>
<path d="M161.5 714.5l2.1 17.6 2.1 13.8 2.1 11.7 2.1 9.4 2 2 2.1-5.7 2.1-6.2 2.1-6.9 2.1-4.4 2.1-2.4 2.1-1.6 2.1-.3 2 .3 2.1 .5 2.1 .3 2.1 .1 2.1-.5 2.1-1.2 2.1-1.3 2.1-1.2 2.1-1.3 2-1.6 2.1-1.8 2.1-2.3 2.1-3.6 2.1-4.2 2.1-3.9 2.1-2.9 2.1-2.7 2.1-2.5 2-1.7 2.1-.6 2.1 1.1 2.1 2.3 2.1 2.9 2.1 2.9 2.1 3.8 2.1 3.7 2 2.5 2.1 1.5 2.1 1.2 2.1 1 2.1 1 2.1 1 2.1 1.1 2.1 .9 2.1 .6 2 .1 2.1-.3 2.1-.4 2.1-.5 2.1-.4 2.1-.3 2.1-.3 2.1-.2 2-.2 2.1-.2 2.1-.2 2.1-.2 2.1-.1" fill="none" stroke="#1a57ff" stroke-width="0.85"/>
<path d="M161.5 714.5l2.1 17.6 2.1 14 2.1 11.9 2.1 9.6 2 2 2.1-5.8 2.1-6.3 2.1-7.1 2.1-4.5 2.1-2.5 2.1-1.6 2.1-.3 2 .3 2.1 .5 2.1 .4 2.1 .1 2.1-.6 2.1-1.2 2.1-1.3 2.1-1.2 2.1-1.3 2-1.6 2.1-1.8 2.1-2.3 2.1-3.6 2.1-4.2 2.1-3.9 2.1-3 2.1-2.8 2.1-2.5 2-1.9 2.1-.6 2.1 1.1 2.1 2.5 2.1 2.9 2.1 2.9 2.1 3.9 2.1 3.7 2 2.6 2.1 1.5 2.1 1.2 2.1 1 2.1 1 2.1 1 2.1 1.1 2.1 .9 2.1 .6 2 .1 2.1-.2 2.1-.5 2.1-.5 2.1-.4 2.1-.3 2.1-.3 2.1-.2 2-.2 2.1-.2 2.1-.2 2.1-.2 2.1-.1" fill="none" stroke="#164eff" stroke-width="0.85"/>
<path d="M161.5 714.5l2.1 17.6 2.1 14.1 2.1 12.2 2.1 9.8 2 2 2.1-5.9 2.1-6.5 2.1-7.2 2.1-4.6 2.1-2.5 2.1-1.7 2.1-.3 2 .3 2.1 .5 2.1 .4 2.1 .1 2.1-.6 2.1-1.2 2.1-1.3 2.1-1.2 2.1-1.3 2-1.6 2.1-1.8 2.1-2.3 2.1-3.6 2.1-4.2 2.1-4 2.1-3 2.1-2.9 2.1-2.6 2-1.9 2.1-.6 2.1 1.1 2.1 2.5 2.1 2.9 2.1 3.1 2.1 3.9 2.1 3.8 2 2.6 2.1 1.5 2.1 1.2 2.1 1 2.1 1 2.1 1 2.1 1.1 2.1 .9 2.1 .6 2 .1 2.1-.2 2.1-.5 2.1-.5 2.1-.4 2.1-.3 2.1-.3 2.1-.2 2-.2 2.1-.2 2.1-.2 2.1-.2 2.1-.1" fill="none" stroke="#1244ff" stroke-width="0.85"/>
<path d="M161.5 714.5l2.1 17.7 2.1 14.2 2.1 12.4 2.1 10 2 2.1 2.1-6.1 2.1-6.6 2.1-7.4 2.1-4.7 2.1-2.6 2.1-1.7 2.1-.4 2 .4 2.1 .5 2.1 .4 2.1 .1 2.1-.6 2.1-1.1 2.1-1.4 2.1-1.2 2.1-1.3 2-1.6 2.1-1.8 2.1-2.3 2.1-3.6 2.1-4.2 2.1-4.1 2.1-3 2.1-3 2.1-2.7 2-1.9 2.1-.7 2.1 1.2 2.1 2.5 2.1 3 2.1 3.1 2.1 4 2.1 3.8 2 2.6 2.1 1.6 2.1 1.2 2.1 1 2.1 1 2.1 1 2.1 1.1 2.1 .9 2.1 .6 2 .2 2.1-.3 2.1-.5 2.1-.5 2.1-.4 2.1-.3 2.1-.3 2.1-.2 2-.2 2.1-.2 2.1-.2 2.1-.2 2.1-.1" fill="none" stroke="#0e3bff" stroke-width="0.85"/>
<path d="M161.5 714.5l2.1 17.7 2.1 14.4 2.1 12.6 2.1 10.2 2 2.1 2.1-6.2 2.1-6.7 2.1-7.6 2.1-4.8 2.1-2.7 2.1-1.7 2.1-.4 2 .4 2.1 .5 2.1 .4 2.1 .2 2.1-.7 2.1-1.1 2.1-1.4 2.1-1.2 2.1-1.3 2-1.6 2.1-1.8 2.1-2.3 2.1-3.6 2.1-4.3 2.1-4 2.1-3.1 2.1-3 2.1-2.8 2-2 2.1-.7 2.1 1.2 2.1 2.6 2.1 3 2.1 3.2 2.1 4 2.1 3.9 2 2.6 2.1 1.6 2.1 1.2 2.1 1 2.1 1 2.1 1 2.1 1.1 2.1 .9 2.1 .7 2 .1 2.1-.3 2.1-.4 2.1-.6 2.1-.4 2.1-.3 2.1-.3 2.1-.2 2-.2 2.1-.2 2.1-.2 2.1-.2 2.1-.1" fill="none" stroke="#0a32ff" stroke-width="1.7"/>
</svg>
<line x1="161.5" y1="733.73" x2="286.8" y2="733.73" stroke="#444" stroke-width="0.8" stroke-dasharray="1.2 1.3"/>
<rect x="161.5" y="696.4" width="125.3" height="84" fill="none" stroke="#5a5a5a" stroke-width="1"/>
<path d="M161.5 780.4v1.6M161.5 696.4v1.6M182.38 780.4v1.6M182.38 696.4v1.6M203.27 780.4v1.6M203.27 696.4v1.6M224.15 780.4v1.6M224.15 696.4v1.6M245.03 780.4v1.6M245.03 696.4v1.6M265.92 780.4v1.6M265.92 696.4v1.6M286.8 780.4v1.6M286.8 696.4v1.6" stroke="#5a5a5a" stroke-width="0.8"/>
<path d="M159.9 771.07h1.6M285.2 771.07h1.6M159.9 752.4h1.6M285.2 752.4h1.6M159.9 733.73h1.6M285.2 733.73h1.6M159.9 715.07h1.6M285.2 715.07h1.6M159.9 696.4h1.6M285.2 696.4h1.6" stroke="#5a5a5a" stroke-width="0.8"/>
<text x="164.7" y="789.3" font-size="7.2" text-anchor="middle" fill="#000">200</text>
<text x="182.38" y="789.3" font-size="7.2" text-anchor="middle" fill="#000">220</text>
<text x="203.27" y="789.3" font-size="7.2" text-anchor="middle" fill="#000">240</text>
<text x="224.15" y="789.3" font-size="7.2" text-anchor="middle" fill="#000">260</text>
<text x="245.03" y="789.3" font-size="7.2" text-anchor="middle" fill="#000">280</text>
<text x="265.92" y="789.3" font-size="7.2" text-anchor="middle" fill="#000">300</text>
<text x="282.4" y="789.3" font-size="7.2" text-anchor="middle" fill="#000">320</text>
<text x="228.05" y="796.9" font-size="7.2" text-anchor="middle" fill="#000">Wavelength (nm)</text>
<text x="165.1" y="707" font-size="10.3" text-anchor="start" fill="#222">77%</text>
<path d="M292.4 675l.7-.6 .7-.5 .8 .5 .7 .4 .7 .1 .7 .1 .7-.1 .8 .1 .7-.3 .7 .3 .7-.2 .8 .2 .7 0 .7 0 .7 0 .7-.7 .8 0 .7 .2 .7-.4 .7 .6 .7 .3 .8 0 .7 0 .7-.8 .7 .3 .7-.3 .8-.2 .7 .2 .7-.2 .7 .5 .8-.3 .7 .8 .7 0 .7 0 .7 0 .8 0 .7 0 .7-.4 .7 .4 .7 0 .8 0 .7 0 .7 0 .7-.6 .8-.2 .7-.5 .7 .1 .7 .4 .7 .6 .8 .2 .7 0 .7 0 .7 0 .7 0 .8 0 .7 0 .7 0 .7 0 .7-.1 .8-.7 .7 .1 .7-.2 .7 0 .8 .5 .7 .4 .7-.1 .7 .1 .7 0 .8 0 .7 0 .7 0 .7 0 .7 0 .8-.7 .7-.1 .7-.1 .7-.2 .7-.5 .8 .6 .7 .3 .7 .3 .7 .1 .8-.3 .7-.1 .7 .2 .7 .2 .7 0 .8 .3 .7 0 .7-.1 .7-1.2 .7 0 .8 .1 .7 .3 .7 .1 .7 .4 .8 .1 .7 .3 .7 0 .7 0 .7-.1 .8-.2 .7-.5 .7-.6 .7 .3 .7 .4 .8 .2 .7 .4 .7-.2 .7 .3 .7-.5 .8 0 .7-.1 .7-.1 .7 0 .8-.2 .7 .1 .7 .8 .7 0 .7 0 .8 0 .7-.2 .7-.1 .7 .3 .7 0 .8 0 .7-.3 .7 .1 .7 .2 .7 0 .8-.2 .7 0 .7-.3 .7 0 .8 .2 .7-.1 .7 0 .7 .3 .7 .1 .8 0 .7 0 .7-.5 .7-.5 .7 0 .8-.1 .7-.1 .7-.3 .7 .1 .8-.1 .7 .4 .7 0 .7 .4 .7 .5 .8-.7 .7 .2 .7-.8 .7 0 .7-.1 .8 .3 .7 0 .7 0 .7 .5 .7 .4 .8 .1 .7 .3 .7 0 .7 0 .8-.2 .7 .2 .7 0 .7 0 .7 0 .8 0 .7-1.1 .7-.5" fill="none" stroke="#a07a4a" stroke-width="1.2" stroke-linejoin="round"/>
<path d="M292.4 675l.7 0 .7 0 .8 0 .7 0 .7 0 .7-.4 .7 .4 .8-.5 .7-.8 .7 .3 .7 .8 .8 .2 .7 0 .7-.3 .7-.1 .7-.2 .8-.6 .7 .2 .7-.1 .7 .7 .7 .2 .8 .2 .7-.3 .7 .1 .7-.2 .7 .1 .8-.3 .7-.1 .7 .5 .7-.5 .8 .2 .7-.4 .7-.6 .7 .6 .7 .4 .8 .5 .7 0 .7-.2 .7 .2 .7-.4 .8 .2 .7 .2 .7 0 .7 0 .8 0 .7 0 .7-.1 .7 .1 .7-.6 .8 0 .7-.2 .7-.3 .7 1 .7 .1 .8-.1 .7-.1 .7 .2 .7 0 .7 0 .8 0 .7-.4 .7-.7 .7 .5 .8 .3 .7 0 .7 .3 .7 0 .7-.1 .8 .1 .7 0 .7 0 .7-.5 .7-.4 .8-.1 .7 .7 .7 .2 .7 0 .7 .1 .8 0 .7 0 .7 0 .7 0 .8 0 .7-.1 .7 0 .7-.4 .7-.8 .8-.1 .7 .1 .7-.1 .7 .5 .7 .7 .8-.1 .7 0 .7-.2 .7 .5 .8-.2 .7-.1 .7 0 .7-.1 .7-.1 .8 .1 .7 0 .7 .1 .7 .3 .7 0 .8 0 .7 0 .7 0 .7 0 .7 0 .8 0 .7 0 .7-.3 .7-1 .8-.2 .7 .1 .7-.2 .7 .7 .7-.1 .8 .5 .7 .4 .7 .1 .7 0 .7 0 .8 0 .7 0 .7 0 .7 0 .7 0 .8 0 .7 0 .7 0 .7 0 .8 0 .7 0 .7 0 .7 0 .7 0 .8 0 .7 0 .7 0 .7 0 .7 0 .8 0 .7 0 .7 0 .7 0 .8 0 .7 0 .7 0 .7 0 .7 0 .8 0 .7 0 .7-.1 .7 .1 .7-.1 .8 .1 .7 0 .7 0 .7 0 .7 0 .8 0 .7-.3 .7-.3 .7-.1 .8 .2 .7 .1 .7 .4 .7 0 .7 0 .8 0 .7-.7 .7-.4" fill="none" stroke="#cc44ee" stroke-width="1.2" stroke-linejoin="round"/>
<path d="M292.4 675l.7-.8 .7 .5 .8 .2 .7 .1 .7 0 .7-.2 .7-.5 .8 .4 .7-.1 .7 .4 .7-.5 .8-.3 .7 .5 .7-.3 .7 .6 .7-.4 .8 .3 .7 .1 .7-.1 .7 .1 .7 0 .8 0 .7 0 .7-.1 .7-.9 .7-1.1 .8 .1 .7 .3 .7 .5 .7 .4 .8 .3 .7-.1 .7 .1 .7-.1 .7-.4 .8 .5 .7 0 .7-.5 .7 .2 .7 .1 .8-.1 .7 .2 .7-.1 .7 .1 .8 .2 .7 .3 .7 .1 .7-.1 .7 .1 .8-1 .7 .7 .7-.1 .7-.4 .7 .6 .8 .2 .7-.4 .7 .4 .7 0 .7-.4 .8-.5 .7-.2 .7 .2 .7-.3 .8 .5 .7-.1 .7 .8 .7 0 .7 0 .8 0 .7-.9 .7 .2 .7 0 .7-.3 .8 .4 .7 .2 .7-.1 .7-.7 .7 .4 .8-.5 .7-.2 .7 .2 .7-.1 .8-.2 .7 .4 .7-.3 .7 1 .7 .3 .8 .2 .7-.6 .7 .6 .7-.2 .7-.6 .8 .8 .7 0 .7 0 .7 0 .8 0 .7 0 .7 0 .7 0 .7 0 .8 0 .7-.3 .7-.8 .7 .1 .7 .4 .8-.1 .7-.2 .7-.8 .7 .8 .7 .3 .8 .6 .7 0 .7 0 .7 0 .8 0 .7 0 .7 0 .7 0 .7 0 .8 0 .7 0 .7 0 .7 0 .7-.1 .8-.4 .7-.2 .7 .3 .7-.4 .7-.4 .8 .2 .7-.2 .7 .3 .7 .1 .8-.1 .7-.3 .7 .5 .7-.3 .7-.7 .8 .2 .7 .2 .7 .1 .7 .2 .7 .1 .8-.1 .7 .1 .7-.3 .7-.3 .8 .2 .7-.5 .7-.1 .7-.1 .7 .7 .8 .7 .7 .3 .7-.2 .7 0 .7 .5 .8-.1 .7 .1 .7-.5 .7 .5 .7 0 .8 0 .7-.2 .7-.1 .7 .3 .8-.2 .7 .2 .7 0 .7 0 .7-.1 .8 .1 .7-.1 .7 .1" fill="none" stroke="#ff2e1f" stroke-width="1.2" stroke-linejoin="round"/>
<path d="M292.4 675l.7 0 .7 0 .8-.2 .7-.2 .7-.1 .7-.7 .7 .7 .8-.1 .7 .5 .7 0 .7 .1 .8-.7 .7 0 .7 0 .7-.5 .7 .7 .8 .5 .7 0 .7-.1 .7 .1 .7 0 .8 0 .7 0 .7 0 .7 0 .7 0 .8-.2 .7-.6 .7-.9 .7 .8 .8 .8 .7-.2 .7 .3 .7 0 .7-.1 .8 .1 .7 0 .7 0 .7 0 .7 0 .8 0 .7-.3 .7 .1 .7-.7 .8 .5 .7 .4 .7 0 .7 0 .7-.1 .8-.3 .7 .4 .7 0 .7 0 .7 0 .8 0 .7 0 .7 0 .7 0 .7 0 .8 0 .7 0 .7 0 .7 0 .8 0 .7 0 .7 0 .7 0 .7-.3 .8 .2 .7 .1 .7 0 .7 0 .7 0 .8 0 .7 0 .7 0 .7 0 .7-.2 .8-.1 .7 .3 .7-.1 .7-.1 .8 .2 .7-.2 .7 0 .7-.3 .7 .5 .8 0 .7 0 .7-.2 .7-.1 .7 .1 .8-.6 .7-.3 .7 1 .7-.1 .8 .2 .7 0 .7 0 .7-.4 .7-.6 .8-.2 .7 .3 .7 .8 .7 .1 .7 0 .8-.1 .7-.6 .7 .4 .7-.6 .7 .2 .8-.1 .7-.2 .7 .9 .7 .1 .8 0 .7 0 .7 0 .7-.9 .7 .6 .8 .3 .7 0 .7-.3 .7 .1 .7-.3 .8-.4 .7 .3 .7-.2 .7 .3 .7 .3 .8-.4 .7 .4 .7-.5 .7 .1 .8 .4 .7 .1 .7-.1 .7-.2 .7-.3 .8 .2 .7-.3 .7 .3 .7 .5 .7 0 .8 0 .7 0 .7 0 .7-.1 .8-.1 .7-.1 .7 .3 .7 0 .7 0 .8 0 .7 0 .7-.1 .7-.5 .7-.5 .8-.5 .7 1 .7 .2 .7 .3 .7 .1 .8-.4 .7 .1 .7-.4 .7 .7 .8-.3 .7 .1 .7 .2 .7 0 .7 0 .8 0 .7 0 .7-.3" fill="none" stroke="#1fd21f" stroke-width="1.2" stroke-linejoin="round"/>
<path d="M292.4 675l.7 0 .7 0 .8 0 .7 0 .7-.3 .7-.5 .7 .2 .8-.6 .7-.1 .7-.4 .7 .3 .8-.2 .7 .2 .7 .5 .7 .1 .7-.3 .8-.2 .7-.3 .7 .3 .7 .6 .7-.1 .8 .6 .7-.3 .7 .3 .7-.3 .7 .2 .8 0 .7 .3 .7-.4 .7 .3 .8-.7 .7 .1 .7-.2 .7 .4 .7-.4 .8-.5 .7-.1 .7 .9 .7 0 .7 .3 .8-.6 .7 .2 .7 0 .7-.3 .8-.3 .7 .3 .7-.2 .7 .7 .7-.3 .8 .3 .7-.4 .7 .2 .7-.4 .7-.1 .8 .5 .7 .4 .7-.4 .7-.3 .7-.2 .8 .2 .7-.5 .7 .2 .7-.3 .8 .4 .7-.2 .7-.1 .7 0 .7-.6 .8-.4 .7 .1 .7 .3 .7 .5 .7 .5 .8-.3 .7 0 .7-.7 .7 .6 .7-.4 .8 .5 .7 .9 .7 .5 .7 0 .8-.4 .7 0 .7 .3 .7-.6 .7-.3 .8-.1 .7 .3 .7 .1 .7 .2 .7 0 .8 .3 .7-.6 .7-.2 .7-.5 .8-.6 .7-.2 .7 .6 .7-.2 .7 .4 .8 0 .7-.2 .7-.2 .7 0 .7-.1 .8 .2 .7-.2 .7 .3 .7 .7 .7-.4 .8 .5 .7-.2 .7-.2 .7-.1 .8-.4 .7 0 .7 .7 .7 .4 .7-.3 .8 .4 .7-.6 .7 .1 .7-.1 .7 .2 .8-.5 .7 .4 .7 .6 .7 .3 .7 .1 .8-.4 .7-.9 .7-.3 .7 .1 .8-.3 .7 .1 .7 .5 .7 .4 .7 .2 .8 .3 .7-.1 .7 .3 .7-.4 .7-.6 .8-.5 .7-.2 .7 .2 .7 .3 .8-.4 .7 .2 .7-.5 .7 .1 .7 .4 .8-.4 .7 .7 .7-.2 .7 .7 .7 .4 .8-.2 .7-1 .7-.1 .7-.3 .7 1.1 .8 .1 .7-.2 .7-.2 .7-.2 .8 .2 .7-.1 .7 .4 .7-.2 .7 .4 .8-.2 .7 .7 .7 .1" fill="none" stroke="#ff9426" stroke-width="1.2" stroke-linejoin="round"/>
<path d="M292.4 675l.7-.4 .7 .4 .8 0 .7-.2 .7 .2 .7-.5 .7-.1 .8 .6 .7 0 .7-.3 .7-.4 .8-.1 .7-.8 .7 .2 .7-.1 .7 .5 .8-.1 .7 0 .7-.7 .7 1 .7 .3 .8-.1 .7 .3 .7 .3 .7-.5 .7 0 .8-.2 .7 .7 .7-.3 .7-.7 .8-.3 .7 .1 .7-.3 .7 .3 .7-.4 .8 .8 .7 .1 .7 .5 .7 .2 .7-.1 .8-.4 .7-.1 .7-.2 .7 .1 .8 .2 .7-.1 .7 .5 .7 .1 .7 0 .8 0 .7 0 .7 0 .7 0 .7-.2 .8-.7 .7 .2 .7-.1 .7-.3 .7 0 .8-.1 .7 .6 .7 .1 .7 .4 .8 .1 .7-.1 .7-.4 .7-.5 .7-.2 .8 .5 .7-.4 .7 0 .7 .1 .7-.4 .8-.4 .7 .1 .7 .8 .7-.1 .7 1 .8-.1 .7-.3 .7-.7 .7 .1 .8-.3 .7 .5 .7-.5 .7 .2 .7 0 .8 .3 .7-.5 .7 .3 .7 .2 .7 .3 .8-.4 .7 .2 .7 .2 .7-.4 .8 .1 .7-.1 .7 .2 .7-.2 .7-.1 .8-.3 .7 0 .7-.3 .7 .2 .7 .7 .8-.1 .7 .3 .7-.8 .7-.1 .7-.4 .8-.1 .7 .5 .7 .3 .7 .9 .8 .2 .7 0 .7 0 .7-.5 .7-.4 .8 .1 .7-.1 .7 .4 .7-.1 .7 0 .8 .5 .7-.2 .7-.7 .7-.5 .7 .2 .8-.4 .7 .7 .7-.1 .7 .7 .8 0 .7 .3 .7 .1 .7-.2 .7 0 .8-.3 .7-.5 .7 .2 .7-.5 .7 0 .8-.3 .7 .5 .7 .2 .7 .1 .8 .1 .7-.5 .7 .3 .7 .3 .7-.1 .8 .1 .7 .3 .7-.2 .7-.3 .7-.3 .8 .2 .7 0 .7 .5 .7-.4 .7 .8 .8-.5 .7 .1 .7-.1 .7 .4 .8-.2 .7 .3 .7 0 .7-.1 .7-.1 .8 .2 .7 0 .7 0" fill="none" stroke="#2850f0" stroke-width="1.2" stroke-linejoin="round"/>
<rect x="292.4" y="591.3" width="126.2" height="83.7" fill="none" stroke="#5a5a5a" stroke-width="1"/>
<path d="M292.4 675v1.6M292.4 591.3v1.6M310.43 675v1.6M310.43 591.3v1.6M328.46 675v1.6M328.46 591.3v1.6M346.49 675v1.6M346.49 591.3v1.6M364.51 675v1.6M364.51 591.3v1.6M382.54 675v1.6M382.54 591.3v1.6M400.57 675v1.6M400.57 591.3v1.6M418.6 675v1.6M418.6 591.3v1.6" stroke="#5a5a5a" stroke-width="0.8"/>
<path d="M290.8 675h1.6M417 675h1.6M290.8 647.1h1.6M417 647.1h1.6M290.8 619.2h1.6M417 619.2h1.6M290.8 591.3h1.6M417 591.3h1.6" stroke="#5a5a5a" stroke-width="0.8"/>
<text x="293.6" y="684.2" font-size="7.1" text-anchor="middle" fill="#000">0</text>
<text x="310.43" y="684.2" font-size="7.1" text-anchor="middle" fill="#000">30</text>
<text x="328.46" y="684.2" font-size="7.1" text-anchor="middle" fill="#000">60</text>
<text x="346.49" y="684.2" font-size="7.1" text-anchor="middle" fill="#000">90</text>
<text x="364.51" y="684.2" font-size="7.1" text-anchor="middle" fill="#000">120</text>
<text x="382.54" y="684.2" font-size="7.1" text-anchor="middle" fill="#000">150</text>
<text x="400.57" y="684.2" font-size="7.1" text-anchor="middle" fill="#000">180</text>
<text x="414.8" y="684.2" font-size="7.1" text-anchor="middle" fill="#000">210</text>
<text x="356.1" y="692.6" font-size="7.4" text-anchor="middle" fill="#000">Time (s)</text>
<text x="296.6" y="604.2" font-size="10.3" text-anchor="start" fill="#111" font-weight="bold">90%</text>
<svg x="294.8" y="696.4" width="125.6" height="84" viewBox="294.8 696.4 125.6 84" overflow="hidden">
<path d="M294.8 718.8l2.1 8.2 2.1 9 2.1 2.8 2.1 .7 2.1 .4 2.1 0 2.1 0 2 0 2.1 0 2.1 0 2.1 0 2.1 .4 2.1 .5 2.1 .7 2.1 .6 2.1 .5 2.1 .1 2.1-.6 2.1-1.1 2.1-1.2 2.1-1.3 2.1-1.4 2-1.5 2.1-1.5 2.1-1.3 2.1-1.3 2.1-1.3 2.1-1.2 2.1-1.2 2.1-1.5 2.1-1.5 2.1-1.5 2.1-1.1 2.1-.6 2.1 0 2.1 .1 2.1 .2 2 .2 2.1 .2 2.1 .4 2.1 .8 2.1 1 2.1 1.2 2.1 1.3 2.1 1.9 2.1 2 2.1 1.5 2.1 1 2.1 .8 2.1 .3 2.1 0 2.1-.1 2-.1 2.1-.2 2.1-.2 2.1-.2 2.1 0 2.1 0 2.1 0 2.1 0" fill="none" stroke="#5ae6ff" stroke-width="0.85"/>
<path d="M294.8 712.9l2.1 12.7 2.1 10.8 2.1 3.7 2.1 2 2.1 1.3 2.1-.1 2.1-1 2-.8 2.1-.7 2.1-.5 2.1-.1 2.1 .3 2.1 .5 2.1 .6 2.1 .6 2.1 .4 2.1 .2 2.1-.6 2.1-1.1 2.1-1.3 2.1-1.2 2.1-1.4 2-1.6 2.1-1.5 2.1-1.5 2.1-1.6 2.1-1.6 2.1-1.7 2.1-1.6 2.1-1.9 2.1-1.8 2.1-1.5 2.1-1.2 2.1-.4 2.1 .3 2.1 .5 2.1 .5 2 .7 2.1 .6 2.1 .6 2.1 .8 2.1 1.1 2.1 1.2 2.1 1.4 2.1 1.9 2.1 2 2.1 1.5 2.1 1 2.1 .8 2.1 .3 2.1 0 2.1-.1 2-.1 2.1-.2 2.1-.2 2.1-.2 2.1 0 2.1 0 2.1 0 2.1 0" fill="none" stroke="#55dcff" stroke-width="0.85"/>
<path d="M294.8 708.2l2.1 16.2 2.1 12.4 2.1 4.2 2.1 3.1 2.1 2.2 2.1-.3 2.1-1.7 2-1.5 2.1-1.3 2.1-.9 2.1-.1 2.1 .2 2.1 .4 2.1 .6 2.1 .5 2.1 .5 2.1 .2 2.1-.6 2.1-1.1 2.1-1.3 2.1-1.2 2.1-1.5 2-1.5 2.1-1.6 2.1-1.7 2.1-1.8 2.1-1.9 2.1-2 2.1-1.9 2.1-2.3 2.1-2 2.1-1.6 2.1-1.2 2.1-.2 2.1 .5 2.1 .8 2.1 .8 2 1 2.1 .9 2.1 .7 2.1 1 2.1 1.1 2.1 1.2 2.1 1.4 2.1 2 2.1 2 2.1 1.5 2.1 1 2.1 .8 2.1 .3 2.1 0 2.1-.1 2-.1 2.1-.2 2.1-.2 2.1-.2 2.1 0 2.1 0 2.1 0 2.1 0" fill="none" stroke="#51d3ff" stroke-width="0.85"/>
<path d="M294.8 704.5l2.1 19 2.1 13.6 2.1 4.7 2.1 3.9 2.1 2.8 2.1-.4 2.1-2.3 2-2 2.1-1.7 2.1-1.2 2.1-.3 2.1 .3 2.1 .3 2.1 .5 2.1 .6 2.1 .5 2.1 .1 2.1-.5 2.1-1.2 2.1-1.3 2.1-1.2 2.1-1.4 2-1.6 2.1-1.7 2.1-1.7 2.1-1.9 2.1-2.2 2.1-2.2 2.1-2.2 2.1-2.6 2.1-2.2 2.1-1.7 2.1-1.1 2.1-.2 2.1 .7 2.1 1 2.1 1.2 2 1.2 2.1 1.1 2.1 .9 2.1 1 2.1 1.1 2.1 1.2 2.1 1.5 2.1 1.9 2.1 2 2.1 1.6 2.1 1 2.1 .8 2.1 .3 2.1 0 2.1-.1 2 0 2.1-.3 2.1-.2 2.1-.2 2.1 0 2.1 0 2.1 0 2.1 0" fill="none" stroke="#4dc9ff" stroke-width="0.85"/>
<path d="M294.8 701.6l2.1 21.2 2.1 14.5 2.1 5.1 2.1 4.6 2.1 3.2 2.1-.5 2.1-2.7 2-2.5 2.1-1.9 2.1-1.5 2.1-.3 2.1 .2 2.1 .3 2.1 .5 2.1 .5 2.1 .5 2.1 .2 2.1-.6 2.1-1.1 2.1-1.3 2.1-1.3 2.1-1.4 2-1.6 2.1-1.7 2.1-1.8 2.1-2.1 2.1-2.3 2.1-2.4 2.1-2.4 2.1-2.8 2.1-2.4 2.1-1.7 2.1-1.1 2.1-.1 2.1 .8 2.1 1.3 2.1 1.3 2 1.4 2.1 1.3 2.1 1 2.1 1 2.1 1.1 2.1 1.2 2.1 1.5 2.1 2 2.1 2 2.1 1.6 2.1 1 2.1 .8 2.1 .4 2.1-.1 2.1 0 2-.1 2.1-.2 2.1-.3 2.1-.2 2.1 0 2.1 0 2.1 0 2.1 0" fill="none" stroke="#49c0ff" stroke-width="0.85"/>
<path d="M294.8 699.3l2.1 22.9 2.1 15.2 2.1 5.5 2.1 5.1 2.1 3.6 2.1-.5 2.1-3.2 2-2.7 2.1-2.3 2.1-1.7 2.1-.3 2.1 .2 2.1 .3 2.1 .4 2.1 .6 2.1 .5 2.1 .1 2.1-.5 2.1-1.2 2.1-1.3 2.1-1.2 2.1-1.5 2-1.6 2.1-1.7 2.1-1.8 2.1-2.3 2.1-2.4 2.1-2.6 2.1-2.6 2.1-3 2.1-2.4 2.1-1.7 2.1-1.2 2.1 0 2.1 .9 2.1 1.4 2.1 1.5 2 1.6 2.1 1.4 2.1 1.1 2.1 1 2.1 1.1 2.1 1.3 2.1 1.5 2.1 2 2.1 2 2.1 1.6 2.1 1 2.1 .8 2.1 .4 2.1-.1 2.1 0 2-.1 2.1-.2 2.1-.3 2.1-.2 2.1 0 2.1 0 2.1 0 2.1 0" fill="none" stroke="#44b6ff" stroke-width="0.85"/>
<path d="M294.8 697.2l2.1 24.5 2.1 15.9 2.1 5.7 2.1 5.6 2.1 4 2.1-.6 2.1-3.5 2-3.1 2.1-2.4 2.1-1.9 2.1-.4 2.1 .2 2.1 .3 2.1 .3 2.1 .6 2.1 .5 2.1 .1 2.1-.5 2.1-1.1 2.1-1.4 2.1-1.2 2.1-1.5 2-1.6 2.1-1.7 2.1-1.9 2.1-2.3 2.1-2.6 2.1-2.8 2.1-2.7 2.1-3.1 2.1-2.6 2.1-1.7 2.1-1.2 2.1 .1 2.1 1 2.1 1.5 2.1 1.7 2 1.7 2.1 1.6 2.1 1.1 2.1 1.1 2.1 1.1 2.1 1.2 2.1 1.6 2.1 2 2.1 2 2.1 1.6 2.1 1 2.1 .8 2.1 .4 2.1-.1 2.1 0 2-.1 2.1-.2 2.1-.3 2.1-.2 2.1 0 2.1 0 2.1 0 2.1 0" fill="none" stroke="#40adff" stroke-width="0.85"/>
<path d="M294.8 695.3l2.1 26 2.1 16.4 2.1 6 2.1 6 2.1 4.3 2.1-.6 2.1-3.8 2-3.4 2.1-2.6 2.1-2.1 2.1-.4 2.1 .1 2.1 .3 2.1 .4 2.1 .5 2.1 .5 2.1 .2 2.1-.6 2.1-1.1 2.1-1.3 2.1-1.3 2.1-1.4 2-1.6 2.1-1.8 2.1-1.9 2.1-2.5 2.1-2.7 2.1-2.9 2.1-2.8 2.1-3.3 2.1-2.6 2.1-1.8 2.1-1.2 2.1 .1 2.1 1.2 2.1 1.6 2.1 1.8 2 1.9 2.1 1.6 2.1 1.2 2.1 1.1 2.1 1.1 2.1 1.3 2.1 1.6 2.1 2 2.1 2 2.1 1.6 2.1 1 2.1 .8 2.1 .4 2.1 0 2.1-.1 2-.1 2.1-.2 2.1-.3 2.1-.2 2.1 0 2.1 0 2.1 0 2.1 0" fill="none" stroke="#3ca3ff" stroke-width="0.85"/>
<path d="M294.8 693.4l2.1 27.4 2.1 17.1 2.1 6.2 2.1 6.4 2.1 4.6 2.1-.7 2.1-4.1 2-3.6 2.1-2.9 2.1-2.2 2.1-.4 2.1 .1 2.1 .3 2.1 .3 2.1 .5 2.1 .5 2.1 .2 2.1-.6 2.1-1.1 2.1-1.3 2.1-1.3 2.1-1.4 2-1.6 2.1-1.8 2.1-2 2.1-2.5 2.1-2.9 2.1-3 2.1-2.9 2.1-3.4 2.1-2.8 2.1-1.8 2.1-1.2 2.1 .2 2.1 1.2 2.1 1.8 2.1 1.9 2 2 2.1 1.8 2.1 1.2 2.1 1.2 2.1 1.1 2.1 1.3 2.1 1.5 2.1 2.1 2.1 2 2.1 1.6 2.1 1 2.1 .8 2.1 .4 2.1 0 2.1-.1 2-.1 2.1-.2 2.1-.3 2.1-.2 2.1 0 2.1 0 2.1 0 2.1 0" fill="none" stroke="#389aff" stroke-width="0.85"/>
<path d="M294.8 691.6l2.1 28.8 2.1 17.6 2.1 6.5 2.1 6.8 2.1 4.9 2.1-.7 2.1-4.4 2-3.9 2.1-3.1 2.1-2.4 2.1-.4 2.1 .1 2.1 .2 2.1 .3 2.1 .6 2.1 .5 2.1 .1 2.1-.5 2.1-1.2 2.1-1.3 2.1-1.3 2.1-1.4 2-1.6 2.1-1.8 2.1-2.1 2.1-2.5 2.1-3 2.1-3.2 2.1-3 2.1-3.6 2.1-2.8 2.1-1.8 2.1-1.2 2.1 .2 2.1 1.3 2.1 1.9 2.1 2 2 2.2 2.1 1.8 2.1 1.3 2.1 1.2 2.1 1.2 2.1 1.2 2.1 1.6 2.1 2.1 2.1 2 2.1 1.6 2.1 1 2.1 .8 2.1 .4 2.1 0 2.1-.1 2-.1 2.1-.2 2.1-.3 2.1-.2 2.1 0 2.1 0 2.1 0 2.1 0" fill="none" stroke="#3490ff" stroke-width="0.85"/>
<path d="M294.8 689.8l2.1 30.1 2.1 18.2 2.1 6.7 2.1 7.3 2.1 5.2 2.1-.8 2.1-4.7 2-4.1 2.1-3.3 2.1-2.5 2.1-.5 2.1 .1 2.1 .2 2.1 .3 2.1 .5 2.1 .5 2.1 .2 2.1-.6 2.1-1.1 2.1-1.4 2.1-1.2 2.1-1.5 2-1.6 2.1-1.8 2.1-2.1 2.1-2.7 2.1-3.1 2.1-3.2 2.1-3.2 2.1-3.7 2.1-2.9 2.1-1.9 2.1-1.2 2.1 .3 2.1 1.4 2.1 2 2.1 2.1 2 2.3 2.1 2 2.1 1.4 2.1 1.2 2.1 1.1 2.1 1.3 2.1 1.6 2.1 2.1 2.1 2 2.1 1.6 2.1 1 2.1 .9 2.1 .3 2.1 0 2.1-.1 2-.1 2.1-.2 2.1-.3 2.1-.2 2.1 0 2.1 0 2.1 0 2.1 0" fill="none" stroke="#2f87ff" stroke-width="0.85"/>
<path d="M294.8 688.1l2.1 31.4 2.1 18.8 2.1 6.9 2.1 7.6 2.1 5.5 2.1-.8 2.1-5 2-4.3 2.1-3.5 2.1-2.7 2.1-.6 2.1 .1 2.1 .2 2.1 .3 2.1 .5 2.1 .5 2.1 .2 2.1-.6 2.1-1.1 2.1-1.3 2.1-1.3 2.1-1.5 2-1.6 2.1-1.8 2.1-2.2 2.1-2.7 2.1-3.2 2.1-3.4 2.1-3.3 2.1-3.8 2.1-3 2.1-1.9 2.1-1.2 2.1 .3 2.1 1.5 2.1 2.1 2.1 2.3 2 2.4 2.1 2.1 2.1 1.4 2.1 1.2 2.1 1.2 2.1 1.3 2.1 1.6 2.1 2 2.1 2.1 2.1 1.6 2.1 1 2.1 .9 2.1 .3 2.1 0 2.1-.1 2-.1 2.1-.2 2.1-.3 2.1-.2 2.1 0 2.1 0 2.1 0 2.1 0" fill="none" stroke="#2b7dff" stroke-width="0.85"/>
<path d="M294.8 686.3l2.1 32.8 2.1 19.3 2.1 7.2 2.1 8 2.1 5.8 2.1-.9 2.1-5.2 2-4.6 2.1-3.8 2.1-2.8 2.1-.6 2.1 .1 2.1 .2 2.1 .2 2.1 .5 2.1 .6 2.1 .1 2.1-.5 2.1-1.2 2.1-1.3 2.1-1.3 2.1-1.4 2-1.7 2.1-1.9 2.1-2.1 2.1-2.9 2.1-3.3 2.1-3.5 2.1-3.4 2.1-4 2.1-3.1 2.1-1.9 2.1-1.2 2.1 .4 2.1 1.6 2.1 2.2 2.1 2.4 2 2.6 2.1 2.1 2.1 1.5 2.1 1.2 2.1 1.2 2.1 1.3 2.1 1.7 2.1 2 2.1 2.1 2.1 1.6 2.1 1 2.1 .9 2.1 .3 2.1 0 2.1-.1 2-.1 2.1-.2 2.1-.3 2.1-.2 2.1 0 2.1 0 2.1 0 2.1 0" fill="none" stroke="#2774ff" stroke-width="0.85"/>
<path d="M294.8 684.5l2.1 34.1 2.1 19.9 2.1 7.4 2.1 8.5 2.1 6.1 2.1-1 2.1-5.5 2-4.9 2.1-3.9 2.1-3 2.1-.6 2.1 .1 2.1 .1 2.1 .3 2.1 .5 2.1 .5 2.1 .2 2.1-.6 2.1-1.1 2.1-1.4 2.1-1.3 2.1-1.4 2-1.7 2.1-1.9 2.1-2.2 2.1-2.9 2.1-3.4 2.1-3.7 2.1-3.5 2.1-4.1 2.1-3.2 2.1-1.9 2.1-1.2 2.1 .5 2.1 1.6 2.1 2.3 2.1 2.5 2 2.7 2.1 2.3 2.1 1.5 2.1 1.3 2.1 1.2 2.1 1.3 2.1 1.6 2.1 2.1 2.1 2.1 2.1 1.6 2.1 1 2.1 .9 2.1 .3 2.1 0 2.1-.1 2-.1 2.1-.2 2.1-.3 2.1-.2 2.1 0 2.1 0 2.1 0 2.1 0" fill="none" stroke="#236aff" stroke-width="0.85"/>
<path d="M294.8 682.8l2.1 35.4 2.1 20.5 2.1 7.6 2.1 8.8 2.1 6.4 2.1-1 2.1-5.8 2-5.1 2.1-4.1 2.1-3.2 2.1-.6 2.1 .1 2.1 .1 2.1 .2 2.1 .5 2.1 .5 2.1 .2 2.1-.6 2.1-1.1 2.1-1.4 2.1-1.3 2.1-1.4 2-1.7 2.1-1.9 2.1-2.2 2.1-3 2.1-3.6 2.1-3.7 2.1-3.7 2.1-4.2 2.1-3.3 2.1-1.9 2.1-1.2 2.1 .5 2.1 1.7 2.1 2.5 2.1 2.6 2 2.8 2.1 2.4 2.1 1.6 2.1 1.2 2.1 1.2 2.1 1.4 2.1 1.6 2.1 2.1 2.1 2.1 2.1 1.6 2.1 1 2.1 .9 2.1 .3 2.1 0 2.1-.1 2-.1 2.1-.2 2.1-.3 2.1-.2 2.1 0 2.1 0 2.1 0 2.1 0" fill="none" stroke="#1f61ff" stroke-width="0.85"/>
<path d="M294.8 681l2.1 36.8 2.1 21 2.1 7.9 2.1 9.2 2.1 6.7 2.1-1 2.1-6.2 2-5.3 2.1-4.3 2.1-3.3 2.1-.7 2.1 0 2.1 .1 2.1 .2 2.1 .5 2.1 .5 2.1 .2 2.1-.6 2.1-1.1 2.1-1.3 2.1-1.3 2.1-1.5 2-1.7 2.1-1.9 2.1-2.3 2.1-3.1 2.1-3.6 2.1-3.9 2.1-3.8 2.1-4.3 2.1-3.4 2.1-2 2.1-1.2 2.1 .6 2.1 1.8 2.1 2.6 2.1 2.7 2 3 2.1 2.5 2.1 1.6 2.1 1.3 2.1 1.2 2.1 1.3 2.1 1.7 2.1 2.1 2.1 2.1 2.1 1.6 2.1 1 2.1 .9 2.1 .3 2.1 0 2.1-.1 2 0 2.1-.3 2.1-.3 2.1-.2 2.1 0 2.1 0 2.1 0 2.1 0" fill="none" stroke="#1a57ff" stroke-width="0.85"/>
<path d="M294.8 679.3l2.1 38.1 2.1 21.5 2.1 8.1 2.1 9.6 2.1 7 2.1-1 2.1-6.5 2-5.5 2.1-4.6 2.1-3.4 2.1-.7 2.1 0 2.1 .1 2.1 .1 2.1 .5 2.1 .6 2.1 .1 2.1-.5 2.1-1.2 2.1-1.3 2.1-1.3 2.1-1.5 2-1.7 2.1-1.9 2.1-2.3 2.1-3.2 2.1-3.8 2.1-4 2.1-3.9 2.1-4.5 2.1-3.4 2.1-2 2.1-1.2 2.1 .6 2.1 1.9 2.1 2.7 2.1 2.8 2 3.1 2.1 2.6 2.1 1.7 2.1 1.3 2.1 1.3 2.1 1.3 2.1 1.7 2.1 2.1 2.1 2.1 2.1 1.6 2.1 1 2.1 .9 2.1 .3 2.1 0 2.1 0 2-.1 2.1-.3 2.1-.3 2.1-.2 2.1 0 2.1 0 2.1 0 2.1 0" fill="none" stroke="#164eff" stroke-width="0.85"/>
<path d="M294.8 677.5l2.1 39.4 2.1 22.2 2.1 8.3 2.1 10 2.1 7.3 2.1-1.1 2.1-6.7 2-5.9 2.1-4.7 2.1-3.6 2.1-.7 2.1 0 2.1 0 2.1 .2 2.1 .5 2.1 .5 2.1 .2 2.1-.6 2.1-1.1 2.1-1.4 2.1-1.3 2.1-1.5 2-1.6 2.1-2 2.1-2.4 2.1-3.2 2.1-3.9 2.1-4.1 2.1-4.1 2.1-4.6 2.1-3.5 2.1-2 2.1-1.3 2.1 .7 2.1 2 2.1 2.8 2.1 3 2 3.2 2.1 2.7 2.1 1.7 2.1 1.4 2.1 1.2 2.1 1.4 2.1 1.7 2.1 2.1 2.1 2.1 2.1 1.6 2.1 1 2.1 .9 2.1 .4 2.1-.1 2.1 0 2-.1 2.1-.3 2.1-.3 2.1-.2 2.1 0 2.1 0 2.1 0 2.1 0" fill="none" stroke="#1244ff" stroke-width="0.85"/>
<path d="M294.8 675.8l2.1 40.7 2.1 22.7 2.1 8.6 2.1 10.4 2.1 7.5 2.1-1.1 2.1-7 2-6.1 2.1-4.9 2.1-3.8 2.1-.8 2.1 .1 2.1 0 2.1 .1 2.1 .5 2.1 .5 2.1 .2 2.1-.6 2.1-1.1 2.1-1.4 2.1-1.3 2.1-1.4 2-1.7 2.1-2 2.1-2.4 2.1-3.4 2.1-4 2.1-4.2 2.1-4.2 2.1-4.7 2.1-3.6 2.1-2.1 2.1-1.2 2.1 .7 2.1 2.1 2.1 2.9 2.1 3.1 2 3.3 2.1 2.9 2.1 1.8 2.1 1.3 2.1 1.3 2.1 1.3 2.1 1.7 2.1 2.2 2.1 2.1 2.1 1.6 2.1 1 2.1 .9 2.1 .4 2.1-.1 2.1 0 2-.1 2.1-.3 2.1-.3 2.1-.2 2.1 0 2.1 0 2.1 0 2.1 0" fill="none" stroke="#0e3bff" stroke-width="0.85"/>
<path d="M294.8 674l2.1 42.1 2.1 23.2 2.1 8.8 2.1 10.8 2.1 7.9 2.1-1.2 2.1-7.3 2-6.3 2.1-5.1 2.1-4 2.1-.8 2.1 0 2.1 0 2.1 .1 2.1 .5 2.1 .5 2.1 .2 2.1-.5 2.1-1.2 2.1-1.3 2.1-1.4 2.1-1.4 2-1.7 2.1-2 2.1-2.5 2.1-3.4 2.1-4.1 2.1-4.4 2.1-4.3 2.1-4.8 2.1-3.7 2.1-2.1 2.1-1.2 2.1 .7 2.1 2.2 2.1 3 2.1 3.2 2 3.5 2.1 2.9 2.1 1.9 2.1 1.4 2.1 1.2 2.1 1.4 2.1 1.7 2.1 2.2 2.1 2.1 2.1 1.6 2.1 1 2.1 .9 2.1 .4 2.1-.1 2.1 0 2-.1 2.1-.3 2.1-.3 2.1-.2 2.1 0 2.1 0 2.1 0 2.1 0" fill="none" stroke="#0a32ff" stroke-width="1.7"/>
</svg>
<line x1="294.8" y1="733.73" x2="420.4" y2="733.73" stroke="#444" stroke-width="0.8" stroke-dasharray="1.2 1.3"/>
<rect x="294.8" y="696.4" width="125.6" height="84" fill="none" stroke="#5a5a5a" stroke-width="1"/>
<path d="M294.8 780.4v1.6M294.8 696.4v1.6M315.73 780.4v1.6M315.73 696.4v1.6M336.67 780.4v1.6M336.67 696.4v1.6M357.6 780.4v1.6M357.6 696.4v1.6M378.53 780.4v1.6M378.53 696.4v1.6M399.47 780.4v1.6M399.47 696.4v1.6M420.4 780.4v1.6M420.4 696.4v1.6" stroke="#5a5a5a" stroke-width="0.8"/>
<path d="M293.2 771.07h1.6M418.8 771.07h1.6M293.2 752.4h1.6M418.8 752.4h1.6M293.2 733.73h1.6M418.8 733.73h1.6M293.2 715.07h1.6M418.8 715.07h1.6M293.2 696.4h1.6M418.8 696.4h1.6" stroke="#5a5a5a" stroke-width="0.8"/>
<text x="298" y="789.3" font-size="7.2" text-anchor="middle" fill="#000">200</text>
<text x="315.73" y="789.3" font-size="7.2" text-anchor="middle" fill="#000">220</text>
<text x="336.67" y="789.3" font-size="7.2" text-anchor="middle" fill="#000">240</text>
<text x="357.6" y="789.3" font-size="7.2" text-anchor="middle" fill="#000">260</text>
<text x="378.53" y="789.3" font-size="7.2" text-anchor="middle" fill="#000">280</text>
<text x="399.47" y="789.3" font-size="7.2" text-anchor="middle" fill="#000">300</text>
<text x="416" y="789.3" font-size="7.2" text-anchor="middle" fill="#000">320</text>
<text x="361.5" y="796.9" font-size="7.2" text-anchor="middle" fill="#000">Wavelength (nm)</text>
<text x="298.4" y="707" font-size="10.3" text-anchor="start" fill="#222">90%</text>
<path d="M425.4 675l.7-.9 .7 .1 .8 .1 .7-.3 .7-.4 .7 .6 .7-.5 .8 .5 .7-.1 .7 .5 .7 .2 .7 .2 .8 0 .7 0 .7-.5 .7 .3 .7-.4 .8-.1 .7 .1 .7-.2 .7 0 .8-.1 .7 .1 .7-.3 .7 .1 .7 .5 .8 .3 .7-.1 .7 .1 .7-.4 .7-.3 .8-.1 .7-.1 .7 .4 .7 .6 .7 .1 .8 0 .7-.3 .7 .1 .7 0 .7-.2 .8 .4 .7-.2 .7-.5 .7-.1 .7-.4 .8 0 .7-.1 .7 .4 .7 .6 .7-.1 .8 .4 .7-.4 .7 .2 .7 .2 .8 0 .7-.2 .7-.1 .7-.8 .7 .1 .8-.2 .7-.1 .7 0 .7 .3 .7 .2 .8 .6 .7-.2 .7 .3 .7-.7 .7-.4 .8-.4 .7 .4 .7 .7 .7 .3 .7-.1 .8-.3 .7 .6 .7 0 .7 0 .7 0 .8 0 .7-.4 .7-.3 .7-.2 .7 .1 .8 .2 .7 .5 .7-.7 .7 .4 .8 .1 .7 .3 .7 0 .7 0 .7 0 .8 0 .7 0 .7 0 .7-.5 .7-.1 .8-.2 .7-.6 .7 .4 .7 .1 .7 .7 .8 .2 .7 0 .7 0 .7 0 .7 0 .8 0 .7 0 .7 0 .7 0 .7-.4 .8-.4 .7-.5 .7-.2 .7 .2 .7 .8 .8 .5 .7 0 .7 0 .7-.1 .8-1.1 .7 0 .7-.3 .7-.2 .7 .3 .8 .2 .7 .8 .7 .4 .7-.3 .7 .3 .8 0 .7 0 .7 0 .7 0 .7 0 .8 0 .7 0 .7 0 .7-.3 .7 .3 .8-.4 .7-.3 .7 0 .7 .2 .7 0 .8 .2 .7-.4 .7-.4 .7 .2 .7 .2 .8 .3 .7 .3 .7 .1 .7 0 .8-.4 .7-.5 .7-.4 .7 .5 .7 .2 .8 .6 .7 0 .7 0 .7 0 .7 0 .8 0 .7 0 .7 0 .7 0 .7 0 .8 0 .7 0 .7 0" fill="none" stroke="#a07a4a" stroke-width="1.2" stroke-linejoin="round"/>
<path d="M425.4 675l.7 0 .7 0 .8 0 .7-.1 .7-.5 .7 .6 .7 0 .8 0 .7 0 .7-.3 .7-.3 .7 .4 .8-.2 .7 .2 .7 0 .7-.4 .7 0 .8-.4 .7 .5 .7 .2 .7 .3 .8 0 .7 0 .7 0 .7 0 .7 0 .8 0 .7 0 .7 0 .7 0 .7 0 .8 0 .7 0 .7 0 .7 0 .7-.3 .8 .2 .7 0 .7-.5 .7 .3 .7 .3 .8 0 .7 0 .7-.6 .7-.3 .7 .5 .8 .1 .7 .3 .7 0 .7 0 .7-.5 .8-.2 .7 0 .7 .1 .7 .6 .8-.3 .7 .3 .7 0 .7-.1 .7-.6 .8 .6 .7 .1 .7-.1 .7 .1 .7 0 .8 0 .7 0 .7 0 .7 0 .7 0 .8 0 .7 0 .7-.6 .7 .6 .7-.3 .8 .3 .7-.2 .7-.2 .7 .4 .7 0 .8 0 .7 0 .7 0 .7 0 .7 0 .8 0 .7-.5 .7 .2 .7-.8 .8 .2 .7 .1 .7-.3 .7 .7 .7-.5 .8 .2 .7 .1 .7 .1 .7-.4 .7 .2 .8-.1 .7 .4 .7-.2 .7 .3 .7 .3 .8 0 .7 0 .7 0 .7-.1 .7-.4 .8-.1 .7 0 .7 .4 .7 .2 .7 0 .8 0 .7 0 .7-.1 .7-.8 .7-.1 .8-.3 .7 .2 .7-.2 .7-.2 .8 .3 .7 .2 .7 0 .7-.2 .7 .1 .8 .5 .7 .5 .7-1.4 .7-.2 .7 .3 .8 .1 .7 1.1 .7-.2 .7 .2 .7-.5 .8 .3 .7 .2 .7 .2 .7 0 .7 0 .8 0 .7 0 .7 0 .7-.1 .7 0 .8 .1 .7 0 .7 0 .7 0 .7 0 .8 0 .7 0 .7 0 .7 0 .8 0 .7 0 .7 0 .7 0 .7 0 .8 0 .7 0 .7 0 .7 0 .7-.3 .8 .3 .7-.5 .7 .5 .7 0 .7 0 .8 0 .7 0 .7 0" fill="none" stroke="#cc44ee" stroke-width="1.2" stroke-linejoin="round"/>
<path d="M425.4 675l.7-1 .7 .9 .8 .1 .7 0 .7 0 .7 0 .7 0 .8 0 .7 0 .7 0 .7 0 .7 0 .8 0 .7 0 .7-.7 .7 .5 .7 .1 .8 .1 .7 0 .7 0 .7 0 .8 0 .7-.1 .7 .1 .7 0 .7 0 .8 0 .7 0 .7 0 .7 0 .7-.2 .8-.2 .7 .4 .7-.3 .7 .2 .7 .1 .8-.4 .7-.3 .7-.2 .7-.2 .7 .3 .8 .2 .7-.1 .7 .7 .7 0 .7 0 .8-.5 .7-.1 .7 .6 .7-.6 .7 .6 .8-.7 .7 .7 .7-.2 .7 .2 .8-.1 .7 .1 .7 0 .7 0 .7 0 .8 0 .7 0 .7-.2 .7-.1 .7-.3 .8 .4 .7 .2 .7 0 .7 0 .7 0 .8-.1 .7 .1 .7 0 .7-.8 .7 .2 .8-.2 .7-.1 .7 .9 .7 0 .7 0 .8-.1 .7 .1 .7 0 .7 0 .7 0 .8 0 .7-.8 .7 0 .7-.1 .8 .2 .7 .5 .7 0 .7 .2 .7-.1 .8 .1 .7-.6 .7-.5 .7 .8 .7 .3 .8-.2 .7 .2 .7 0 .7 0 .7 0 .8 0 .7-.2 .7-.1 .7-.4 .7 .5 .8 0 .7 .2 .7 0 .7-.1 .7-.1 .8 .1 .7 .1 .7 0 .7 0 .7-.3 .8 .3 .7 0 .7-.3 .7-.5 .8 .4 .7-1.3 .7 .5 .7-.7 .7 .4 .8 .1 .7 .4 .7-.1 .7 .5 .7 .6 .8 0 .7-.4 .7-.1 .7 .1 .7 .4 .8 0 .7 0 .7 0 .7-.1 .7 .1 .8 0 .7 0 .7-.1 .7 .1 .7 0 .8 0 .7 0 .7 0 .7-.2 .7 0 .8-.1 .7 .1 .7-.1 .7-.5 .8 0 .7-.1 .7 .6 .7 .3 .7-.1 .8 0 .7 .1 .7 0 .7 0 .7 0 .8 0 .7 0 .7 0 .7 0 .7 0 .8 0 .7 0 .7 0" fill="none" stroke="#ff2e1f" stroke-width="1.2" stroke-linejoin="round"/>
<path d="M425.4 675l.7 0 .7 0 .8-.2 .7 .2 .7 0 .7 0 .7 0 .8 0 .7 0 .7 0 .7-.9 .7-.1 .8 .3 .7 0 .7-.3 .7 0 .7-.2 .8 .6 .7 .3 .7 .3 .7 0 .8 0 .7 0 .7-.3 .7 0 .7-.2 .8 .1 .7 .3 .7-.1 .7 .2 .7 0 .8-.1 .7 .1 .7 0 .7-.3 .7-.3 .8 .3 .7-.4 .7 .3 .7 .4 .7 0 .8 0 .7 0 .7 0 .7 0 .7 0 .8 0 .7 0 .7 0 .7 0 .7-.1 .8-.3 .7 .4 .7 0 .7-.2 .8-.1 .7-.3 .7 0 .7-.2 .7 .7 .8-.6 .7 .5 .7-.7 .7 .7 .7-.2 .8 .1 .7 .3 .7 0 .7-.3 .7 .1 .8-.2 .7-.6 .7 1 .7 0 .7 0 .8 0 .7 0 .7-.3 .7-.7 .7-.4 .8-.2 .7 .3 .7 0 .7 .8 .7 .1 .8 0 .7 .1 .7 .2 .7-.4 .8-.4 .7 .3 .7-.2 .7 .8 .7-.2 .8-.1 .7 0 .7-.4 .7-.2 .7 .3 .8 .1 .7-.6 .7-.1 .7 1 .7 .2 .8 0 .7 0 .7 0 .7 0 .7 0 .8-.2 .7 0 .7 .1 .7 .1 .7 0 .8 0 .7-.7 .7 0 .7-.1 .7-.1 .8 .7 .7 .2 .7 0 .7 0 .8 0 .7 0 .7-.2 .7-.7 .7-.3 .8-.2 .7 0 .7 .3 .7 .2 .7 .6 .8 .3 .7 0 .7 0 .7 0 .7 0 .8 0 .7 0 .7 0 .7 0 .7 0 .8 0 .7-.7 .7-.3 .7 .2 .7 .8 .8 0 .7 0 .7 0 .7 0 .7 0 .8-.4 .7-.2 .7 .6 .7 0 .8 0 .7 0 .7 0 .7 0 .7 0 .8 0 .7-.2 .7 0 .7 .1 .7 0 .8-.1 .7-.1 .7-.2 .7 .4 .7 .1 .8 0 .7 0 .7 0" fill="none" stroke="#1fd21f" stroke-width="1.2" stroke-linejoin="round"/>
<path d="M425.4 675l.7-.2 .7 .2 .8 0 .7 0 .7 0 .7 0 .7 0 .8-.2 .7-.2 .7-.3 .7-.3 .7 .5 .8-.1 .7 .1 .7 0 .7 0 .7-.2 .8 .2 .7 .4 .7-.1 .7 .2 .8 0 .7-.6 .7-.8 .7 0 .7-.4 .8 .4 .7 .7 .7-.1 .7 .7 .7-.3 .8-.2 .7 0 .7-.2 .7 .1 .7-.2 .8-.4 .7 .1 .7 .3 .7 .4 .7 0 .8 .3 .7-.3 .7 0 .7-.4 .7-.6 .8 .3 .7-.4 .7-.1 .7 .5 .7 .2 .8 .5 .7-.5 .7 .4 .7 0 .8-.2 .7-.3 .7-.3 .7 .3 .7 0 .8 .4 .7 .4 .7-.9 .7-.1 .7-.2 .8 .7 .7 .4 .7 .1 .7 0 .7 .1 .8 .2 .7-.9 .7 .2 .7 .2 .7-.3 .8-.2 .7 .1 .7 .1 .7 .1 .7 .2 .8 .2 .7-.2 .7-.3 .7 .1 .7-.5 .8 .2 .7 .1 .7 .2 .7 0 .8 .6 .7-.9 .7-1.1 .7 .3 .7 .6 .8 0 .7 .4 .7-.5 .7 1 .7-.1 .8-.2 .7 .2 .7 .4 .7-.1 .7-.2 .8-.1 .7-.6 .7-.1 .7 .3 .7 .8 .8-.3 .7-.1 .7-.2 .7 .1 .7-.1 .8-.2 .7-.5 .7-.2 .7 .6 .7 .1 .8 .5 .7-.3 .7-.1 .7-.4 .8-.3 .7 .2 .7 .1 .7 .2 .7 .2 .8 .7 .7 0 .7 0 .7 0 .7-.2 .8-.2 .7 0 .7-.2 .7 .1 .7-.6 .8 .5 .7-.1 .7 .3 .7 .4 .7-.1 .8-.4 .7-.8 .7 0 .7 0 .7 .7 .8 .3 .7-.1 .7-.2 .7-.4 .7-.4 .8-.5 .7 .4 .7 .4 .7 .7 .8 .3 .7-.3 .7-.1 .7 .3 .7-1.1 .8 .5 .7-.4 .7-.1 .7 .5 .7 0 .8-.2 .7-.1 .7 .3 .7-.4 .7 .1 .8 .2 .7-.4 .7 0" fill="none" stroke="#ff9426" stroke-width="1.2" stroke-linejoin="round"/>
<path d="M425.4 675l.7-1.1 .7 .1 .8-.5 .7-.2 .7 .1 .7 .5 .7-.5 .8 .1 .7-.3 .7 .6 .7-.1 .7 1 .8-.3 .7 .5 .7-.3 .7 .3 .7 .1 .8-.5 .7-.2 .7-.1 .7-.4 .8-.2 .7 .3 .7 .5 .7-.2 .7-.3 .8-.2 .7 .3 .7-.1 .7 .3 .7 .7 .8-.7 .7-.3 .7-.2 .7-.7 .7 .8 .8 .4 .7 .3 .7 .3 .7-.7 .7 0 .8-.3 .7-.2 .7-.2 .7 .5 .7 .5 .8 .1 .7 .2 .7 .3 .7-.5 .7-.4 .8-.5 .7-.3 .7-.3 .7 .5 .8-.3 .7 .3 .7 .1 .7-.1 .7-.1 .8 .3 .7 .4 .7 0 .7 .3 .7 0 .8 .2 .7-.1 .7-.1 .7-.1 .7-.1 .8 .5 .7 0 .7-.2 .7-.3 .7 .2 .8-.3 .7 .2 .7 .7 .7 0 .7 0 .8 0 .7-.3 .7 0 .7-.6 .7 .1 .8 .1 .7 .1 .7 .6 .7 0 .8-.4 .7 0 .7-.2 .7 .3 .7 .2 .8 .1 .7 0 .7-.4 .7-.3 .7-.1 .8-.5 .7 .9 .7-.1 .7-1.1 .7 .1 .8 0 .7 .3 .7 .4 .7 .3 .7 0 .8-.1 .7-.4 .7 .1 .7 .4 .7 0 .8 .2 .7-.4 .7 .5 .7-.2 .7 .4 .8 0 .7 0 .7 0 .7 0 .8-.5 .7-.4 .7 .5 .7-.2 .7 .5 .8 .1 .7 0 .7 0 .7 0 .7 0 .8 0 .7 0 .7 0 .7-.7 .7 .1 .8-.1 .7 .2 .7 .2 .7 0 .7 .3 .8-.1 .7 .1 .7-.2 .7-.5 .7 0 .8 0 .7-.4 .7 .2 .7 .5 .7 0 .8-.5 .7 .5 .7 0 .7 .4 .8 0 .7 0 .7 0 .7 0 .7 0 .8 0 .7 0 .7 0 .7-.1 .7 .1 .8 0 .7-.3 .7-.8 .7-.1 .7 .5 .8 .6 .7 0 .7 0" fill="none" stroke="#2850f0" stroke-width="1.2" stroke-linejoin="round"/>
<rect x="425.4" y="591.3" width="126.1" height="83.7" fill="none" stroke="#5a5a5a" stroke-width="1"/>
<path d="M425.4 675v1.6M425.4 591.3v1.6M443.41 675v1.6M443.41 591.3v1.6M461.43 675v1.6M461.43 591.3v1.6M479.44 675v1.6M479.44 591.3v1.6M497.46 675v1.6M497.46 591.3v1.6M515.47 675v1.6M515.47 591.3v1.6M533.49 675v1.6M533.49 591.3v1.6M551.5 675v1.6M551.5 591.3v1.6" stroke="#5a5a5a" stroke-width="0.8"/>
<path d="M423.8 675h1.6M549.9 675h1.6M423.8 647.1h1.6M549.9 647.1h1.6M423.8 619.2h1.6M549.9 619.2h1.6M423.8 591.3h1.6M549.9 591.3h1.6" stroke="#5a5a5a" stroke-width="0.8"/>
<text x="426.6" y="684.2" font-size="7.1" text-anchor="middle" fill="#000">0</text>
<text x="443.41" y="684.2" font-size="7.1" text-anchor="middle" fill="#000">30</text>
<text x="461.43" y="684.2" font-size="7.1" text-anchor="middle" fill="#000">60</text>
<text x="479.44" y="684.2" font-size="7.1" text-anchor="middle" fill="#000">90</text>
<text x="497.46" y="684.2" font-size="7.1" text-anchor="middle" fill="#000">120</text>
<text x="515.47" y="684.2" font-size="7.1" text-anchor="middle" fill="#000">150</text>
<text x="533.49" y="684.2" font-size="7.1" text-anchor="middle" fill="#000">180</text>
<text x="547.7" y="684.2" font-size="7.1" text-anchor="middle" fill="#000">210</text>
<text x="489.1" y="692.6" font-size="7.4" text-anchor="middle" fill="#000">Time (s)</text>
<text x="429.6" y="604.2" font-size="10.3" text-anchor="start" fill="#111" font-weight="bold">100%</text>
<svg x="425.4" y="696.4" width="126.1" height="84" viewBox="425.4 696.4 126.1 84" overflow="hidden">
<path d="M425.4 714.5l2.1 17.5 2.1 12.3 2.1 8 2.1 6.1 2.1 .8 2.1-3.9 2.1-3.9 2.1-3.5 2.1-2.9 2.1-1.7 2.1-1.2 2.1-.7 2.1-.1 2.1 0 2.1 0 2.1-.1 2.1-.1 2.1-.6 2.1-.8 2.1-.9 2.1-.8 2.1-.7 2.1-.8 2.1-1 2.1-1.8 2.1-2.8 2.1-3.2 2.1-3.4 2.1-4 2.1-3.4 2.2-2.5 2.1-1.8 2.1-.1 2.1 1.3 2.1 2 2.1 3 2.1 3.9 2.1 4.6 2.1 3.7 2.1 1.9 2.1 1.1 2.1 .9 2.1 .7 2.1 .8 2.1 .8 2.1 .6 2.1 .4 2.1 0 2.1-.4 2.1-.7 2.1-.7 2.1-.6 2.1-.4 2.1-.3 2.1-.3 2.1-.3 2.1-.3 2.1-.2 2.1-.2 2.1-.1" fill="none" stroke="#5ae6ff" stroke-width="0.85"/>
<path d="M425.4 714.5l2.1 17.4 2.1 12.8 2.1 8.6 2.1 6.7 2.1 .8 2.1-4.4 2.1-4.3 2.1-3.7 2.1-3.1 2.1-1.7 2.1-1.3 2.1-.7 2.1-.1 2.1 0 2.1-.1 2.1 0 2.1-.2 2.1-.6 2.1-.9 2.1-.9 2.1-.8 2.1-.7 2.1-.7 2.1-1 2.1-1.9 2.1-2.8 2.1-3.3 2.1-3.4 2.1-4.1 2.1-3.4 2.2-2.6 2.1-1.8 2.1-.1 2.1 1.3 2.1 2.1 2.1 3 2.1 4 2.1 4.6 2.1 3.8 2.1 1.9 2.1 1.1 2.1 .9 2.1 .7 2.1 .8 2.1 .8 2.1 .6 2.1 .4 2.1 0 2.1-.4 2.1-.7 2.1-.7 2.1-.6 2.1-.4 2.1-.3 2.1-.3 2.1-.3 2.1-.3 2.1-.2 2.1-.2 2.1-.1" fill="none" stroke="#55dcff" stroke-width="0.85"/>
<path d="M425.4 714.5l2.1 17.4 2.1 13.1 2.1 9.1 2.1 7.1 2.1 1 2.1-4.9 2.1-4.7 2.1-3.8 2.1-3.1 2.1-1.8 2.1-1.4 2.1-.7 2.1-.1 2.1-.1 2.1-.1 2.1 0 2.1-.2 2.1-.6 2.1-.9 2.1-.9 2.1-.9 2.1-.6 2.1-.8 2.1-1 2.1-1.9 2.1-2.8 2.1-3.4 2.1-3.4 2.1-4.2 2.1-3.4 2.2-2.6 2.1-1.9 2.1 0 2.1 1.3 2.1 2.1 2.1 3 2.1 4.1 2.1 4.7 2.1 3.8 2.1 1.9 2.1 1.1 2.1 .9 2.1 .7 2.1 .8 2.1 .8 2.1 .7 2.1 .3 2.1 0 2.1-.4 2.1-.6 2.1-.8 2.1-.6 2.1-.4 2.1-.3 2.1-.3 2.1-.3 2.1-.3 2.1-.2 2.1-.2 2.1-.1" fill="none" stroke="#51d3ff" stroke-width="0.85"/>
<path d="M425.4 714.5l2.1 17.4 2.1 13.4 2.1 9.5 2.1 7.4 2.1 1 2.1-5.3 2.1-4.8 2.1-4 2.1-3.2 2.1-1.9 2.1-1.3 2.1-.8 2.1-.1 2.1-.1 2.1-.1 2.1 0 2.1-.3 2.1-.6 2.1-.9 2.1-.9 2.1-.8 2.1-.7 2.1-.8 2.1-1 2.1-1.9 2.1-2.9 2.1-3.4 2.1-3.4 2.1-4.2 2.1-3.5 2.2-2.6 2.1-1.9 2.1 0 2.1 1.3 2.1 2.1 2.1 3.1 2.1 4.1 2.1 4.8 2.1 3.8 2.1 1.9 2.1 1.1 2.1 .9 2.1 .7 2.1 .8 2.1 .8 2.1 .7 2.1 .4 2.1 0 2.1-.4 2.1-.7 2.1-.8 2.1-.6 2.1-.4 2.1-.3 2.1-.3 2.1-.3 2.1-.3 2.1-.2 2.1-.2 2.1-.1" fill="none" stroke="#4dc9ff" stroke-width="0.85"/>
<path d="M425.4 714.5l2.1 17.4 2.1 13.6 2.1 9.7 2.1 7.8 2.1 1 2.1-5.5 2.1-5.1 2.1-4 2.1-3.3 2.1-1.9 2.1-1.4 2.1-.8 2.1-.1 2.1-.1 2.1-.1 2.1-.1 2.1-.2 2.1-.6 2.1-.9 2.1-1 2.1-.8 2.1-.7 2.1-.8 2.1-1 2.1-1.9 2.1-2.9 2.1-3.4 2.1-3.5 2.1-4.2 2.1-3.5 2.2-2.6 2.1-1.9 2.1-.1 2.1 1.4 2.1 2.1 2.1 3.1 2.1 4.1 2.1 4.8 2.1 3.9 2.1 1.9 2.1 1.1 2.1 .9 2.1 .7 2.1 .8 2.1 .8 2.1 .7 2.1 .4 2.1 0 2.1-.4 2.1-.7 2.1-.7 2.1-.7 2.1-.4 2.1-.3 2.1-.3 2.1-.3 2.1-.3 2.1-.2 2.1-.2 2.1-.1" fill="none" stroke="#49c0ff" stroke-width="0.85"/>
<path d="M425.4 714.5l2.1 17.4 2.1 13.7 2.1 10 2.1 8 2.1 1 2.1-5.7 2.1-5.2 2.1-4.1 2.1-3.4 2.1-1.9 2.1-1.4 2.1-.8 2.1-.2 2.1-.1 2.1 0 2.1-.1 2.1-.3 2.1-.6 2.1-.9 2.1-1 2.1-.8 2.1-.7 2.1-.7 2.1-1.1 2.1-1.9 2.1-2.9 2.1-3.4 2.1-3.6 2.1-4.2 2.1-3.5 2.2-2.6 2.1-1.9 2.1-.1 2.1 1.4 2.1 2.1 2.1 3.1 2.1 4.2 2.1 4.8 2.1 3.9 2.1 1.9 2.1 1.1 2.1 .9 2.1 .7 2.1 .9 2.1 .8 2.1 .6 2.1 .4 2.1 0 2.1-.4 2.1-.7 2.1-.7 2.1-.7 2.1-.4 2.1-.3 2.1-.3 2.1-.3 2.1-.3 2.1-.2 2.1-.2 2.1-.1" fill="none" stroke="#44b6ff" stroke-width="0.85"/>
<path d="M425.4 714.5l2.1 17.4 2.1 13.9 2.1 10.2 2.1 8.2 2.1 1 2.1-5.9 2.1-5.4 2.1-4.1 2.1-3.4 2.1-2 2.1-1.4 2.1-.8 2.1-.2 2.1-.1 2.1-.1 2.1-.1 2.1-.2 2.1-.7 2.1-.9 2.1-.9 2.1-.9 2.1-.7 2.1-.7 2.1-1.1 2.1-1.9 2.1-2.9 2.1-3.5 2.1-3.5 2.1-4.2 2.1-3.6 2.2-2.6 2.1-1.9 2.1-.1 2.1 1.4 2.1 2.2 2.1 3.1 2.1 4.1 2.1 4.9 2.1 3.9 2.1 1.9 2.1 1.1 2.1 .9 2.1 .7 2.1 .9 2.1 .8 2.1 .6 2.1 .4 2.1 0 2.1-.4 2.1-.7 2.1-.7 2.1-.7 2.1-.4 2.1-.3 2.1-.3 2.1-.3 2.1-.3 2.1-.2 2.1-.2 2.1-.1" fill="none" stroke="#40adff" stroke-width="0.85"/>
<path d="M425.4 714.5l2.1 17.4 2.1 14 2.1 10.4 2.1 8.4 2.1 1.1 2.1-6.1 2.1-5.6 2.1-4.2 2.1-3.4 2.1-2 2.1-1.4 2.1-.8 2.1-.3 2.1-.1 2.1 0 2.1-.1 2.1-.3 2.1-.6 2.1-1 2.1-.9 2.1-.9 2.1-.7 2.1-.7 2.1-1.1 2.1-1.9 2.1-2.9 2.1-3.5 2.1-3.6 2.1-4.2 2.1-3.5 2.2-2.7 2.1-1.9 2.1-.1 2.1 1.4 2.1 2.2 2.1 3.1 2.1 4.2 2.1 4.9 2.1 3.9 2.1 1.9 2.1 1.1 2.1 .9 2.1 .7 2.1 .9 2.1 .8 2.1 .7 2.1 .4 2.1-.1 2.1-.4 2.1-.7 2.1-.7 2.1-.7 2.1-.4 2.1-.3 2.1-.3 2.1-.3 2.1-.3 2.1-.2 2.1-.2 2.1-.1" fill="none" stroke="#3ca3ff" stroke-width="0.85"/>
<path d="M425.4 714.5l2.1 17.4 2.1 14.1 2.1 10.6 2.1 8.6 2.1 1.1 2.1-6.3 2.1-5.6 2.1-4.3 2.1-3.5 2.1-2 2.1-1.4 2.1-.9 2.1-.2 2.1-.1 2.1-.1 2.1-.1 2.1-.3 2.1-.6 2.1-.9 2.1-1 2.1-.8 2.1-.7 2.1-.8 2.1-1.1 2.1-1.8 2.1-3 2.1-3.5 2.1-3.6 2.1-4.3 2.1-3.5 2.2-2.7 2.1-1.9 2.1-.1 2.1 1.5 2.1 2.1 2.1 3.2 2.1 4.1 2.1 4.9 2.1 4 2.1 1.9 2.1 1.1 2.1 .9 2.1 .7 2.1 .9 2.1 .8 2.1 .7 2.1 .4 2.1 0 2.1-.5 2.1-.7 2.1-.7 2.1-.7 2.1-.4 2.1-.3 2.1-.3 2.1-.3 2.1-.3 2.1-.2 2.1-.2 2.1-.1" fill="none" stroke="#389aff" stroke-width="0.85"/>
<path d="M425.4 714.5l2.1 17.3 2.1 14.4 2.1 10.7 2.1 8.8 2.1 1.1 2.1-6.5 2.1-5.7 2.1-4.4 2.1-3.5 2.1-2 2.1-1.5 2.1-.8 2.1-.2 2.1-.2 2.1 0 2.1-.2 2.1-.2 2.1-.7 2.1-.9 2.1-1 2.1-.8 2.1-.7 2.1-.8 2.1-1 2.1-1.9 2.1-3.1 2.1-3.5 2.1-3.5 2.1-4.3 2.1-3.6 2.2-2.7 2.1-1.9 2.1 0 2.1 1.4 2.1 2.1 2.1 3.2 2.1 4.2 2.1 4.9 2.1 4 2.1 1.9 2.1 1.1 2.1 .9 2.1 .7 2.1 .9 2.1 .8 2.1 .7 2.1 .4 2.1 0 2.1-.5 2.1-.7 2.1-.7 2.1-.7 2.1-.4 2.1-.3 2.1-.3 2.1-.3 2.1-.3 2.1-.2 2.1-.2 2.1-.1" fill="none" stroke="#3490ff" stroke-width="0.85"/>
<path d="M425.4 714.5l2.1 17.3 2.1 14.5 2.1 10.9 2.1 8.9 2.1 1.2 2.1-6.6 2.1-5.9 2.1-4.4 2.1-3.5 2.1-2.1 2.1-1.5 2.1-.9 2.1-.2 2.1-.1 2.1-.1 2.1-.1 2.1-.3 2.1-.7 2.1-.9 2.1-1 2.1-.8 2.1-.7 2.1-.8 2.1-1 2.1-1.9 2.1-3.1 2.1-3.5 2.1-3.6 2.1-4.3 2.1-3.6 2.2-2.6 2.1-2 2.1 0 2.1 1.4 2.1 2.2 2.1 3.1 2.1 4.2 2.1 5 2.1 4 2.1 1.9 2.1 1.1 2.1 .9 2.1 .7 2.1 .9 2.1 .8 2.1 .7 2.1 .4 2.1 0 2.1-.4 2.1-.8 2.1-.7 2.1-.7 2.1-.4 2.1-.3 2.1-.3 2.1-.3 2.1-.3 2.1-.2 2.1-.2 2.1-.1" fill="none" stroke="#2f87ff" stroke-width="0.85"/>
<path d="M425.4 714.5l2.1 17.3 2.1 14.6 2.1 11.1 2.1 9.1 2.1 1.2 2.1-6.8 2.1-6 2.1-4.5 2.1-3.5 2.1-2.1 2.1-1.5 2.1-.9 2.1-.2 2.1-.2 2.1 0 2.1-.2 2.1-.3 2.1-.6 2.1-1 2.1-.9 2.1-.9 2.1-.7 2.1-.8 2.1-1 2.1-1.9 2.1-3.1 2.1-3.5 2.1-3.6 2.1-4.3 2.1-3.6 2.2-2.7 2.1-2 2.1 0 2.1 1.4 2.1 2.2 2.1 3.2 2.1 4.2 2.1 5 2.1 4 2.1 1.9 2.1 1.1 2.1 .9 2.1 .7 2.1 .9 2.1 .8 2.1 .7 2.1 .4 2.1 0 2.1-.4 2.1-.7 2.1-.8 2.1-.7 2.1-.4 2.1-.3 2.1-.3 2.1-.3 2.1-.3 2.1-.2 2.1-.2 2.1-.1" fill="none" stroke="#2b7dff" stroke-width="0.85"/>
<path d="M425.4 714.5l2.1 17.3 2.1 14.7 2.1 11.3 2.1 9.3 2.1 1.2 2.1-7 2.1-6.1 2.1-4.5 2.1-3.6 2.1-2.1 2.1-1.5 2.1-.9 2.1-.3 2.1-.1 2.1-.1 2.1-.1 2.1-.3 2.1-.7 2.1-.9 2.1-1 2.1-.9 2.1-.7 2.1-.8 2.1-1 2.1-1.9 2.1-3.1 2.1-3.5 2.1-3.7 2.1-4.3 2.1-3.6 2.2-2.7 2.1-2 2.1 0 2.1 1.4 2.1 2.2 2.1 3.2 2.1 4.3 2.1 5 2.1 4 2.1 1.9 2.1 1.1 2.1 .9 2.1 .7 2.1 .9 2.1 .8 2.1 .7 2.1 .4 2.1 0 2.1-.4 2.1-.7 2.1-.8 2.1-.7 2.1-.4 2.1-.3 2.1-.4 2.1-.3 2.1-.2 2.1-.2 2.1-.2 2.1-.1" fill="none" stroke="#2774ff" stroke-width="0.85"/>
<path d="M425.4 714.5l2.1 17.3 2.1 14.8 2.1 11.5 2.1 9.5 2.1 1.1 2.1-7.1 2.1-6.2 2.1-4.6 2.1-3.6 2.1-2.1 2.1-1.6 2.1-.9 2.1-.2 2.1-.2 2.1-.1 2.1-.1 2.1-.3 2.1-.7 2.1-.9 2.1-1 2.1-.9 2.1-.7 2.1-.8 2.1-1 2.1-1.9 2.1-3.1 2.1-3.6 2.1-3.6 2.1-4.4 2.1-3.6 2.2-2.7 2.1-1.9 2.1-.1 2.1 1.5 2.1 2.2 2.1 3.2 2.1 4.2 2.1 5 2.1 4.1 2.1 1.9 2.1 1.1 2.1 .9 2.1 .7 2.1 .9 2.1 .8 2.1 .7 2.1 .4 2.1 0 2.1-.4 2.1-.7 2.1-.8 2.1-.7 2.1-.4 2.1-.3 2.1-.4 2.1-.3 2.1-.2 2.1-.2 2.1-.2 2.1-.1" fill="none" stroke="#236aff" stroke-width="0.85"/>
<path d="M425.4 714.5l2.1 17.3 2.1 15 2.1 11.6 2.1 9.6 2.1 1.2 2.1-7.2 2.1-6.4 2.1-4.6 2.1-3.7 2.1-2.1 2.1-1.6 2.1-.9 2.1-.3 2.1-.1 2.1-.1 2.1-.2 2.1-.3 2.1-.7 2.1-.9 2.1-1 2.1-.9 2.1-.7 2.1-.7 2.1-1.1 2.1-1.9 2.1-3.1 2.1-3.6 2.1-3.7 2.1-4.3 2.1-3.7 2.2-2.7 2.1-1.9 2.1-.1 2.1 1.5 2.1 2.2 2.1 3.2 2.1 4.3 2.1 5 2.1 4.1 2.1 1.9 2.1 1.1 2.1 .9 2.1 .7 2.1 .9 2.1 .8 2.1 .7 2.1 .5 2.1-.1 2.1-.4 2.1-.7 2.1-.8 2.1-.7 2.1-.4 2.1-.3 2.1-.4 2.1-.3 2.1-.2 2.1-.2 2.1-.2 2.1-.1" fill="none" stroke="#1f61ff" stroke-width="0.85"/>
<path d="M425.4 714.5l2.1 17.3 2.1 15.1 2.1 11.8 2.1 9.8 2.1 1.2 2.1-7.4 2.1-6.5 2.1-4.7 2.1-3.7 2.1-2.1 2.1-1.6 2.1-1 2.1-.2 2.1-.2 2.1-.1 2.1-.1 2.1-.3 2.1-.7 2.1-1 2.1-1 2.1-.9 2.1-.7 2.1-.7 2.1-1.1 2.1-1.9 2.1-3.1 2.1-3.6 2.1-3.7 2.1-4.4 2.1-3.6 2.2-2.8 2.1-1.9 2.1-.1 2.1 1.5 2.1 2.2 2.1 3.2 2.1 4.3 2.1 5.1 2.1 4.1 2.1 1.9 2.1 1.1 2.1 .9 2.1 .7 2.1 .9 2.1 .8 2.1 .7 2.1 .5 2.1 0 2.1-.5 2.1-.7 2.1-.8 2.1-.7 2.1-.4 2.1-.3 2.1-.4 2.1-.3 2.1-.2 2.1-.2 2.1-.2 2.1-.1" fill="none" stroke="#1a57ff" stroke-width="0.85"/>
<path d="M425.4 714.5l2.1 17.3 2.1 15.2 2.1 12 2.1 10 2.1 1.2 2.1-7.6 2.1-6.6 2.1-4.7 2.1-3.8 2.1-2.1 2.1-1.6 2.1-1 2.1-.3 2.1-.1 2.1-.1 2.1-.2 2.1-.3 2.1-.7 2.1-1 2.1-1 2.1-.8 2.1-.8 2.1-.7 2.1-1.1 2.1-1.9 2.1-3.1 2.1-3.7 2.1-3.6 2.1-4.4 2.1-3.7 2.2-2.7 2.1-2 2.1-.1 2.1 1.5 2.1 2.3 2.1 3.2 2.1 4.3 2.1 5.1 2.1 4.1 2.1 1.9 2.1 1.1 2.1 .9 2.1 .7 2.1 .9 2.1 .8 2.1 .8 2.1 .4 2.1 0 2.1-.5 2.1-.7 2.1-.8 2.1-.7 2.1-.4 2.1-.3 2.1-.4 2.1-.3 2.1-.2 2.1-.2 2.1-.2 2.1-.1" fill="none" stroke="#164eff" stroke-width="0.85"/>
<path d="M425.4 714.5l2.1 17.3 2.1 15.3 2.1 12.2 2.1 10.2 2.1 1.2 2.1-7.8 2.1-6.7 2.1-4.8 2.1-3.7 2.1-2.3 2.1-1.6 2.1-.9 2.1-.3 2.1-.2 2.1-.1 2.1-.1 2.1-.4 2.1-.7 2.1-.9 2.1-1 2.1-.9 2.1-.7 2.1-.8 2.1-1.1 2.1-1.9 2.1-3.2 2.1-3.6 2.1-3.7 2.1-4.4 2.1-3.7 2.2-2.7 2.1-2 2.1 0 2.1 1.5 2.1 2.2 2.1 3.2 2.1 4.3 2.1 5.2 2.1 4.1 2.1 1.9 2.1 1.1 2.1 .9 2.1 .7 2.1 .9 2.1 .9 2.1 .7 2.1 .4 2.1 0 2.1-.5 2.1-.7 2.1-.8 2.1-.7 2.1-.4 2.1-.3 2.1-.4 2.1-.3 2.1-.2 2.1-.2 2.1-.2 2.1-.1" fill="none" stroke="#1244ff" stroke-width="0.85"/>
<path d="M425.4 714.5l2.1 17.3 2.1 15.5 2.1 12.3 2.1 10.3 2.1 1.3 2.1-7.9 2.1-6.9 2.1-4.8 2.1-3.8 2.1-2.3 2.1-1.6 2.1-1 2.1-.3 2.1-.1 2.1-.1 2.1-.2 2.1-.3 2.1-.8 2.1-.9 2.1-1 2.1-.9 2.1-.7 2.1-.8 2.1-1.1 2.1-1.9 2.1-3.2 2.1-3.6 2.1-3.7 2.1-4.5 2.1-3.7 2.2-2.7 2.1-2 2.1 0 2.1 1.5 2.1 2.2 2.1 3.3 2.1 4.3 2.1 5.1 2.1 4.2 2.1 1.9 2.1 1.1 2.1 .9 2.1 .7 2.1 .9 2.1 .9 2.1 .7 2.1 .4 2.1 0 2.1-.5 2.1-.7 2.1-.8 2.1-.7 2.1-.4 2.1-.3 2.1-.4 2.1-.3 2.1-.2 2.1-.2 2.1-.2 2.1-.1" fill="none" stroke="#0e3bff" stroke-width="0.85"/>
<path d="M425.4 714.5l2.1 17.3 2.1 15.6 2.1 12.5 2.1 10.5 2.1 1.3 2.1-8.1 2.1-7 2.1-4.9 2.1-3.8 2.1-2.3 2.1-1.6 2.1-1 2.1-.3 2.1-.2 2.1-.1 2.1-.2 2.1-.3 2.1-.7 2.1-1 2.1-1 2.1-.9 2.1-.7 2.1-.8 2.1-1.1 2.1-1.9 2.1-3.2 2.1-3.6 2.1-3.8 2.1-4.4 2.1-3.7 2.2-2.8 2.1-2 2.1 0 2.1 1.5 2.1 2.3 2.1 3.2 2.1 4.4 2.1 5.1 2.1 4.2 2.1 1.9 2.1 1.1 2.1 .9 2.1 .7 2.1 .9 2.1 .9 2.1 .7 2.1 .4 2.1 0 2.1-.4 2.1-.8 2.1-.8 2.1-.7 2.1-.4 2.1-.3 2.1-.4 2.1-.3 2.1-.2 2.1-.2 2.1-.2 2.1-.1" fill="none" stroke="#0a32ff" stroke-width="1.7"/>
</svg>
<line x1="425.4" y1="733.73" x2="551.5" y2="733.73" stroke="#444" stroke-width="0.8" stroke-dasharray="1.2 1.3"/>
<rect x="425.4" y="696.4" width="126.1" height="84" fill="none" stroke="#5a5a5a" stroke-width="1"/>
<path d="M425.4 780.4v1.6M425.4 696.4v1.6M446.42 780.4v1.6M446.42 696.4v1.6M467.43 780.4v1.6M467.43 696.4v1.6M488.45 780.4v1.6M488.45 696.4v1.6M509.47 780.4v1.6M509.47 696.4v1.6M530.48 780.4v1.6M530.48 696.4v1.6M551.5 780.4v1.6M551.5 696.4v1.6" stroke="#5a5a5a" stroke-width="0.8"/>
<path d="M423.8 771.07h1.6M549.9 771.07h1.6M423.8 752.4h1.6M549.9 752.4h1.6M423.8 733.73h1.6M549.9 733.73h1.6M423.8 715.07h1.6M549.9 715.07h1.6M423.8 696.4h1.6M549.9 696.4h1.6" stroke="#5a5a5a" stroke-width="0.8"/>
<text x="428.6" y="789.3" font-size="7.2" text-anchor="middle" fill="#000">200</text>
<text x="446.42" y="789.3" font-size="7.2" text-anchor="middle" fill="#000">220</text>
<text x="467.43" y="789.3" font-size="7.2" text-anchor="middle" fill="#000">240</text>
<text x="488.45" y="789.3" font-size="7.2" text-anchor="middle" fill="#000">260</text>
<text x="509.47" y="789.3" font-size="7.2" text-anchor="middle" fill="#000">280</text>
<text x="530.48" y="789.3" font-size="7.2" text-anchor="middle" fill="#000">300</text>
<text x="547.1" y="789.3" font-size="7.2" text-anchor="middle" fill="#000">320</text>
<text x="492.35" y="796.9" font-size="7.2" text-anchor="middle" fill="#000">Wavelength (nm)</text>
<text x="429" y="707" font-size="10.3" text-anchor="start" fill="#222">100%</text>
<rect x="28.8" y="807.4" width="123" height="73.4" fill="none" stroke="#5a5a5a" stroke-width="1"/>
<path d="M28.8 880.8v1.6M28.8 807.4v1.6M44.91 880.8v1.6M44.91 807.4v1.6M61.02 880.8v1.6M61.02 807.4v1.6M77.13 880.8v1.6M77.13 807.4v1.6M93.24 880.8v1.6M93.24 807.4v1.6M109.35 880.8v1.6M109.35 807.4v1.6M125.46 880.8v1.6M125.46 807.4v1.6M141.57 880.8v1.6M141.57 807.4v1.6" stroke="#5a5a5a" stroke-width="0.8"/>
<text x="26.6" y="883.39" font-size="7.2" text-anchor="end" fill="#000">0.0</text>
<text x="26.6" y="846.69" font-size="7.2" text-anchor="end" fill="#000">0.5</text>
<text x="26.6" y="809.99" font-size="7.2" text-anchor="end" fill="#000">1.0</text>
<path d="M27.2 880.8h1.6M150.2 880.8h1.6M27.2 844.1h1.6M150.2 844.1h1.6M27.2 807.4h1.6M150.2 807.4h1.6" stroke="#5a5a5a" stroke-width="0.8"/>
<text x="28.8" y="889.7" font-size="7.2" text-anchor="middle" fill="#000">20</text>
<text x="44.91" y="889.7" font-size="7.2" text-anchor="middle" fill="#000">30</text>
<text x="61.02" y="889.7" font-size="7.2" text-anchor="middle" fill="#000">40</text>
<text x="77.13" y="889.7" font-size="7.2" text-anchor="middle" fill="#000">50</text>
<text x="93.24" y="889.7" font-size="7.2" text-anchor="middle" fill="#000">60</text>
<text x="109.35" y="889.7" font-size="7.2" text-anchor="middle" fill="#000">70</text>
<text x="125.46" y="889.7" font-size="7.2" text-anchor="middle" fill="#000">80</text>
<text x="141.57" y="889.7" font-size="7.2" text-anchor="middle" fill="#000">90</text>
<text x="90.5" y="900.1" font-size="7.2" text-anchor="middle" fill="#000">Temperature °C</text>
<g fill="#1446ff"><circle cx="28.8" cy="807.4" r="1.25"/><circle cx="30.4" cy="807.4" r="1.25"/><circle cx="32" cy="807.4" r="1.25"/><circle cx="33.6" cy="807.4" r="1.25"/><circle cx="35.2" cy="807.4" r="1.25"/><circle cx="36.9" cy="807.4" r="1.25"/><circle cx="38.5" cy="807.4" r="1.25"/><circle cx="40.1" cy="807.4" r="1.25"/><circle cx="41.7" cy="807.4" r="1.25"/><circle cx="43.3" cy="807.4" r="1.25"/><circle cx="44.9" cy="807.4" r="1.25"/><circle cx="46.5" cy="807.4" r="1.25"/><circle cx="48.1" cy="807.4" r="1.25"/><circle cx="49.7" cy="807.4" r="1.25"/><circle cx="51.4" cy="807.4" r="1.25"/><circle cx="53" cy="807.4" r="1.25"/><circle cx="54.6" cy="807.4" r="1.25"/><circle cx="56.2" cy="807.4" r="1.25"/><circle cx="57.8" cy="807.4" r="1.25"/><circle cx="59.4" cy="807.4" r="1.25"/><circle cx="61" cy="807.4" r="1.25"/><circle cx="62.6" cy="807.4" r="1.25"/><circle cx="64.2" cy="807.4" r="1.25"/><circle cx="65.9" cy="807.4" r="1.25"/><circle cx="67.5" cy="807.4" r="1.25"/><circle cx="69.1" cy="807.4" r="1.25"/><circle cx="70.7" cy="807.4" r="1.25"/><circle cx="72.3" cy="807.4" r="1.25"/><circle cx="73.9" cy="807.4" r="1.25"/><circle cx="75.5" cy="807.4" r="1.25"/><circle cx="77.1" cy="807.4" r="1.25"/><circle cx="78.7" cy="807.4" r="1.25"/><circle cx="80.4" cy="807.4" r="1.25"/><circle cx="82" cy="807.4" r="1.25"/><circle cx="83.6" cy="807.4" r="1.25"/><circle cx="85.2" cy="807.4" r="1.25"/><circle cx="86.8" cy="807.4" r="1.25"/><circle cx="88.4" cy="807.4" r="1.25"/><circle cx="90" cy="807.4" r="1.25"/><circle cx="91.6" cy="807.4" r="1.25"/><circle cx="93.2" cy="807.4" r="1.25"/><circle cx="94.9" cy="807.4" r="1.25"/><circle cx="96.5" cy="807.4" r="1.25"/><circle cx="98.1" cy="807.4" r="1.25"/><circle cx="99.7" cy="807.4" r="1.25"/><circle cx="101.3" cy="807.4" r="1.25"/><circle cx="102.9" cy="807.4" r="1.25"/><circle cx="104.5" cy="807.4" r="1.25"/><circle cx="106.1" cy="807.4" r="1.25"/><circle cx="107.7" cy="807.4" r="1.25"/><circle cx="109.3" cy="807.4" r="1.25"/><circle cx="111" cy="807.4" r="1.25"/><circle cx="112.6" cy="807.4" r="1.25"/><circle cx="114.2" cy="807.4" r="1.25"/><circle cx="115.8" cy="807.5" r="1.25"/><circle cx="117.4" cy="807.5" r="1.25"/><circle cx="119" cy="807.7" r="1.25"/><circle cx="120.6" cy="807.9" r="1.25"/><circle cx="122.2" cy="808.4" r="1.25"/><circle cx="123.8" cy="809.2" r="1.25"/><circle cx="125.5" cy="810.9" r="1.25"/><circle cx="127.1" cy="813.9" r="1.25"/><circle cx="128.7" cy="819.1" r="1.25"/><circle cx="130.3" cy="827.1" r="1.25"/><circle cx="131.9" cy="838" r="1.25"/><circle cx="133.5" cy="850.2" r="1.25"/><circle cx="135.1" cy="861.1" r="1.25"/><circle cx="136.7" cy="869.1" r="1.25"/><circle cx="138.3" cy="874.3" r="1.25"/><circle cx="140" cy="877.3" r="1.25"/><circle cx="141.6" cy="879" r="1.25"/><circle cx="143.2" cy="879.8" r="1.25"/><circle cx="144.8" cy="880.3" r="1.25"/><circle cx="146.4" cy="880.5" r="1.25"/><circle cx="148" cy="880.7" r="1.25"/><circle cx="149.6" cy="880.7" r="1.25"/><circle cx="151.2" cy="880.8" r="1.25"/></g>
<g fill="#ff8a00"><circle cx="28.8" cy="880.8" r="1.25"/><circle cx="30.4" cy="880.8" r="1.25"/><circle cx="32" cy="880.8" r="1.25"/><circle cx="33.6" cy="880.8" r="1.25"/><circle cx="35.2" cy="880.8" r="1.25"/><circle cx="36.9" cy="880.8" r="1.25"/><circle cx="38.5" cy="880.8" r="1.25"/><circle cx="40.1" cy="880.8" r="1.25"/><circle cx="41.7" cy="880.8" r="1.25"/><circle cx="43.3" cy="880.8" r="1.25"/><circle cx="44.9" cy="880.8" r="1.25"/><circle cx="46.5" cy="880.8" r="1.25"/><circle cx="48.1" cy="880.8" r="1.25"/><circle cx="49.7" cy="880.8" r="1.25"/><circle cx="51.4" cy="880.8" r="1.25"/><circle cx="53" cy="880.8" r="1.25"/><circle cx="54.6" cy="880.8" r="1.25"/><circle cx="56.2" cy="880.8" r="1.25"/><circle cx="57.8" cy="880.8" r="1.25"/><circle cx="59.4" cy="880.8" r="1.25"/><circle cx="61" cy="880.8" r="1.25"/><circle cx="62.6" cy="880.8" r="1.25"/><circle cx="64.2" cy="880.8" r="1.25"/><circle cx="65.9" cy="880.8" r="1.25"/><circle cx="67.5" cy="880.8" r="1.25"/><circle cx="69.1" cy="880.8" r="1.25"/><circle cx="70.7" cy="880.8" r="1.25"/><circle cx="72.3" cy="880.8" r="1.25"/><circle cx="73.9" cy="880.8" r="1.25"/><circle cx="75.5" cy="880.8" r="1.25"/><circle cx="77.1" cy="880.8" r="1.25"/><circle cx="78.7" cy="880.8" r="1.25"/><circle cx="80.4" cy="880.8" r="1.25"/><circle cx="82" cy="880.8" r="1.25"/><circle cx="83.6" cy="880.8" r="1.25"/><circle cx="85.2" cy="880.8" r="1.25"/><circle cx="86.8" cy="880.8" r="1.25"/><circle cx="88.4" cy="880.8" r="1.25"/><circle cx="90" cy="880.8" r="1.25"/><circle cx="91.6" cy="880.8" r="1.25"/><circle cx="93.2" cy="880.8" r="1.25"/><circle cx="94.9" cy="880.8" r="1.25"/><circle cx="96.5" cy="880.8" r="1.25"/><circle cx="98.1" cy="880.8" r="1.25"/><circle cx="99.7" cy="880.8" r="1.25"/><circle cx="101.3" cy="880.8" r="1.25"/><circle cx="102.9" cy="880.8" r="1.25"/><circle cx="104.5" cy="880.8" r="1.25"/><circle cx="106.1" cy="880.8" r="1.25"/><circle cx="107.7" cy="880.8" r="1.25"/><circle cx="109.3" cy="880.8" r="1.25"/><circle cx="111" cy="880.8" r="1.25"/><circle cx="112.6" cy="880.8" r="1.25"/><circle cx="114.2" cy="880.8" r="1.25"/><circle cx="115.8" cy="880.7" r="1.25"/><circle cx="117.4" cy="880.7" r="1.25"/><circle cx="119" cy="880.5" r="1.25"/><circle cx="120.6" cy="880.3" r="1.25"/><circle cx="122.2" cy="879.8" r="1.25"/><circle cx="123.8" cy="879" r="1.25"/><circle cx="125.5" cy="877.3" r="1.25"/><circle cx="127.1" cy="874.3" r="1.25"/><circle cx="128.7" cy="869.1" r="1.25"/><circle cx="130.3" cy="861.1" r="1.25"/><circle cx="131.9" cy="850.2" r="1.25"/><circle cx="133.5" cy="838" r="1.25"/><circle cx="135.1" cy="827.1" r="1.25"/><circle cx="136.7" cy="819.1" r="1.25"/><circle cx="138.3" cy="813.9" r="1.25"/><circle cx="140" cy="810.9" r="1.25"/><circle cx="141.6" cy="809.2" r="1.25"/><circle cx="143.2" cy="808.4" r="1.25"/><circle cx="144.8" cy="807.9" r="1.25"/><circle cx="146.4" cy="807.7" r="1.25"/><circle cx="148" cy="807.5" r="1.25"/><circle cx="149.6" cy="807.5" r="1.25"/><circle cx="151.2" cy="807.4" r="1.25"/></g>
<text x="30.8" y="820.2" font-size="10.3" text-anchor="start" fill="#222">63%</text>
<text x="88" y="849.6" font-size="7" font-weight="bold" fill="#111">T<tspan font-size="4.6" dy="1.4">m</tspan><tspan dy="-1.4">=84.5°C</tspan></text>
<text x="12.6" y="626.6" font-size="7.4" text-anchor="middle" fill="#000" transform="rotate(-90 12.6 626.6)">Response (nm)</text>
<text x="12.6" y="734.3" font-size="7.4" text-anchor="middle" fill="#000" transform="rotate(-90 12.6 734.3)">CD (mdeg)</text>
<text x="13.4" y="841.8" font-size="7.4" text-anchor="middle" fill="#000" transform="rotate(-90 13.4 841.8)">Normalized Fraction</text>
<text x="180.6" y="815.1" font-size="16" text-anchor="start" fill="#000" font-weight="bold">e</text>
<svg x="210.3" y="814.3" width="147.7" height="98.5" viewBox="210.3 814.3 147.7 98.5" overflow="hidden">
<path d="M210.3 855.1l1.8 3.9 1.9 3.8 1.8 3.8 1.9 4 1.8 3.6 1.9 2.4 1.8 .4 1.9-2 1.8-2.6 1.9-3.2 1.8-3.4 1.9-3.1 1.8-2.4 1.8-1.2 1.9-.5 1.8 0 1.9 .5 1.8 .6 1.9 .6 1.8 .6 1.9 .6 1.8 .6 1.9 .5 1.8 .1 1.9-.2 1.8-.5 1.8-.6 1.9-.8 1.8-.9 1.9-1 1.8-1.7 1.9-2 1.8-2.1 1.9-1.9 1.8-1.9 1.9-1.9 1.8-1.6 1.9-1.4 1.8-1.4 1.9-1 1.8-.1 1.8 .2 1.9 .5 1.8 .5 1.9 .8 1.8 1 1.9 1 1.8 1 1.9 .8 1.8 .8 1.9 .8 1.8 .8 1.9 .8 1.8 .8 1.8 .9 1.9 1 1.8 1.3 1.9 1.2 1.8 .9 1.9 .6 1.8 .5 1.9 .4 1.8 .2 1.9 0 1.8 0 1.9-.1 1.8-.1 1.8 0 1.9-.1 1.8-.1 1.9-.1 1.8 0 1.9-.1 1.8 0 1.9-.1 1.8 0 1.9 0 1.8-.1 1.9 0 1.8 0" fill="none" stroke="#3ee63a" stroke-width="1.45" stroke-linejoin="round"/>
<path d="M210.3 856.8l1.8 2.4 1.9 2.9 1.8 3.5 1.9 4 1.8 5.1 1.9 4.2 1.8 3.1 1.9-.8 1.8-2.9 1.9-4 1.8-4.7 1.9-4.2 1.8-3.1 1.8-2.1 1.9-1 1.8-.5 1.9-.1 1.8 .2 1.9 .3 1.8 .4 1.9 .4 1.8 .3 1.9 .1 1.8 0 1.9-.2 1.8-.2 1.8-.3 1.9-.3 1.8-.5 1.9-.8 1.8-1.9 1.9-2.7 1.8-3.2 1.9-4.2 1.8-3.8 1.9-3.7 1.8-3.1 1.9-2.7 1.8-1.7 1.9-.8 1.8-.4 1.8 0 1.9 .8 1.8 1 1.9 1.8 1.8 2.1 1.9 2.1 1.8 2.2 1.9 2.3 1.8 2.2 1.9 2 1.8 1.8 1.9 1.7 1.8 1.7 1.8 1.4 1.9 1.1 1.8 1 1.9 .9 1.8 .8 1.9 .8 1.8 .8 1.9 .7 1.8 .4 1.9 0 1.8-.1 1.9-.2 1.8-.2 1.8-.1 1.9-.2 1.8-.2 1.9-.2 1.8-.2 1.9-.1 1.8 0 1.9-.1 1.8 0 1.9-.1 1.8 0 1.9 0 1.8 0" fill="none" stroke="#b4ec1a" stroke-width="1.45" stroke-linejoin="round"/>
<path d="M210.3 851.8l1.8 4.4 1.9 4.2 1.8 4.1 1.9 4.1 1.8 3.5 1.9 2.1 1.8 1.7 1.9 .7 1.8-2.1 1.9-3.8 1.8-4.7 1.9-5.1 1.8-4.9 1.8-.9 1.9 .1 1.8 .1 1.9 .2 1.8 .3 1.9 .3 1.8 .3 1.9 .4 1.8 .4 1.9 .4 1.8 .4 1.9 .5 1.8 .4 1.8 .4 1.9 .1 1.8-.2 1.9-.8 1.8-1.4 1.9-4 1.8-4.1 1.9-4.4 1.8-4.4 1.9-4.7 1.8-3 1.9-2.2 1.8-.3 1.9 1.3 1.8 2.2 1.8 2.2 1.9 1.4 1.8 1.2 1.9 1.1 1.8 .9 1.9 .8 1.8 .7 1.9 .6 1.8 .6 1.9 .7 1.8 .7 1.9 .6 1.8 .8 1.8 .9 1.9 1.4 1.8 1.8 1.9 1.8 1.8 1.7 1.9 1.7 1.8 1.6 1.9 1.1 1.8 0 1.9 0 1.8 0 1.9 0 1.8 0 1.8 0 1.9 0 1.8 0 1.9 0 1.8 0 1.9 0 1.8 0 1.9 0 1.8 0 1.9 0 1.8 0 1.9 0 1.8 0" fill="none" stroke="#f4e81a" stroke-width="1.45" stroke-linejoin="round"/>
<path d="M210.3 843.8l1.8 13.9 1.9 10.7 1.8 9 1.9 6.6 1.8 5.7 1.9 4.1 1.8 .5 1.9-2.9 1.8-4.6 1.9-4.5 1.8-5.5 1.9-6.1 1.8-4.9 1.8-2.2 1.9-1.1 1.8-.5 1.9 .3 1.8 .4 1.9 .5 1.8 .5 1.9 .7 1.8 .5 1.9 .2 1.8-.4 1.9-1 1.8-1.2 1.8-1.4 1.9-1.7 1.8-2.2 1.9-2.3 1.8-2.3 1.9-2.5 1.8-2.6 1.9-2.6 1.8-2.7 1.9-2.8 1.8-2.9 1.9-2.5 1.8-1.6 1.9-1 1.8-.7 1.8 0 1.9 .6 1.8 1.1 1.9 1.2 1.8 1.9 1.9 2.3 1.8 2.2 1.9 2.1 1.8 1.8 1.9 1.7 1.8 1.6 1.9 1.5 1.8 1.4 1.8 1.2 1.9 1.1 1.8 1.1 1.9 1 1.8 1.1 1.9 1.3 1.8 1.3 1.9 1 1.8 .6 1.9 0 1.8-.1 1.9-.2 1.8-.1 1.8-.2 1.9-.2 1.8-.3 1.9-.2 1.8-.2 1.9-.1 1.8-.1 1.9-.1 1.8-.1 1.9-.1 1.8-.1 1.9 0 1.8 0" fill="none" stroke="#1ee6f0" stroke-width="1.45" stroke-linejoin="round"/>
<path d="M210.3 835.3l1.8 16 1.9 12.9 1.8 12.6 1.9 10.5 1.8 9.2 1.9 5.7 1.8-1.9 1.9-5.9 1.8-5.7 1.9-6.7 1.8-6.1 1.9-3.7 1.8-2.4 1.8-1.9 1.9-1.1 1.8-.2 1.9 .3 1.8 .4 1.9 .5 1.8 .4 1.9 .1 1.8-.2 1.9-.8 1.8-1.1 1.9-1.2 1.8-1.1 1.8-1.1 1.9-1.1 1.8-1.3 1.9-1.5 1.8-1.7 1.9-2.1 1.8-3.1 1.9-3.5 1.8-3.8 1.9-3.4 1.8-2.9 1.9-2.5 1.8-2.6 1.9-2.4 1.8-1.9 1.8-1.1 1.9 0 1.8 1.3 1.9 2.1 1.8 2.6 1.9 2.7 1.8 2.7 1.9 3.5 1.8 3.6 1.9 3.1 1.8 2.1 1.9 1.4 1.8 1.2 1.8 1 1.9 .8 1.8 .9 1.9 .8 1.8 1 1.9 .9 1.8 .9 1.9 .7 1.8 .3 1.9 .1 1.8-.2 1.9-.4 1.8-.4 1.8-.5 1.9-.4 1.8-.3 1.9-.2 1.8-.2 1.9-.2 1.8-.2 1.9-.2 1.8-.2 1.9-.2 1.8-.1 1.9-.1 1.8-.1" fill="none" stroke="#2fb4f4" stroke-width="1.45" stroke-linejoin="round"/>
<path d="M210.3 835.3l1.8 15.3 1.9 14.1 1.8 12.9 1.9 10.5 1.8 9.8 1.9 5.1 1.8-3 1.9-7.6 1.8-6.6 1.9-4.5 1.8-4 1.9-3.2 1.8-2 1.8-1.6 1.9-1.3 1.8-.7 1.9-.3 1.8-.2 1.9-.1 1.8-.1 1.9-.2 1.8-.2 1.9-.4 1.8-.7 1.9-.8 1.8-.9 1.8-.8 1.9-.8 1.8-.6 1.9-.7 1.8-.7 1.9-1 1.8-1.6 1.9-2.4 1.8-3 1.9-3.2 1.8-3.2 1.9-3.7 1.8-3.8 1.9-3.1 1.8-2.4 1.8-2.2 1.9-1.2 1.8 .2 1.9 1.3 1.8 1.6 1.9 2.4 1.8 2.9 1.9 3.6 1.8 4.5 1.9 4.4 1.8 3.4 1.9 1.8 1.8 1.1 1.8 .9 1.9 .7 1.8 .7 1.9 .7 1.8 .8 1.9 .7 1.8 .7 1.9 .5 1.8 .2 1.9 0 1.8-.4 1.9-.6 1.8-.7 1.8-.7 1.9-.6 1.8-.4 1.9-.4 1.8-.3 1.9-.2 1.8-.3 1.9-.3 1.8-.2 1.9-.2 1.8-.1 1.9-.1 1.8-.1" fill="none" stroke="#ee44ee" stroke-width="1.45" stroke-linejoin="round"/>
<path d="M210.3 788.3l1.8 36.8 1.9 31.3 1.8 10.5 1.9 7.5 1.8 9.4 1.9 8.7 1.8 4.4 1.9-2.2 1.8-6.1 1.9-6.6 1.8-4.6 1.9-4.5 1.8-3.7 1.8-1.7 1.9 0 1.8 0 1.9 0 1.8 0 1.9 .2 1.8 .4 1.9 .5 1.8 .3 1.9 0 1.8-.6 1.9-1 1.8-1.1 1.8-1.2 1.9-1.1 1.8-1.3 1.9-1.4 1.8-1.6 1.9-1.7 1.8-2.1 1.9-2.7 1.8-3.2 1.9-3.7 1.8-3.8 1.9-3.7 1.8-3.9 1.9-4.3 1.8-3.5 1.8-2 1.9-1.7 1.8-.9 1.9 .4 1.8 1.7 1.9 2.1 1.8 2.7 1.9 2.8 1.8 3 1.9 2.9 1.8 2.5 1.9 1.7 1.8 1.3 1.8 1.2 1.9 1 1.8 1.2 1.9 1.3 1.8 1.7 1.9 1.9 1.8 1.9 1.9 1.6 1.8 1.2 1.9 .9 1.8 .7 1.9 .6 1.8 .1 1.8-.1 1.9 0 1.8-.1 1.9-.1 1.8-.2 1.9-.3 1.8-.3 1.9 0 1.8 0 1.9 0 1.8 0 1.9 0 1.8 0" fill="none" stroke="#2a44f0" stroke-width="1.45" stroke-linejoin="round"/>
<path d="M210.3 852.3l1.8 4 1.9 3.6 1.8 3.1 1.9 2.8 1.8 2.2 1.9 1.4 1.8 1.1 1.9 .4 1.8-2.1 1.9-3.5 1.8-4 1.9-4.3 1.8-2.1 1.8-.3 1.9-.1 1.8-.1 1.9-.1 1.8-.1 1.9 0 1.8 .2 1.9 .3 1.8 .4 1.9 .4 1.8 .5 1.9 .6 1.8 .8 1.8 .9 1.9 .6 1.8 .1 1.9-.3 1.8-.8 1.9-3.3 1.8-4.1 1.9-5.1 1.8-4.9 1.9-4.5 1.8-4 1.9-2.1 1.8 .3 1.9 1.1 1.8 2.1 1.8 1.7 1.9 1.7 1.8 1.4 1.9 1.1 1.8 .8 1.9 .6 1.8 .7 1.9 .6 1.8 .8 1.9 1 1.8 1.1 1.9 1.3 1.8 1.4 1.8 1.4 1.9 1.6 1.8 1.8 1.9 1.7 1.8 1.7 1.9 1.1 1.8 .6 1.9 .5 1.8 .3 1.9 0 1.8-.3 1.9-.2 1.8-.1 1.8 0 1.9 0 1.8 0 1.9 0 1.8 0 1.9 0 1.8 0 1.9 0 1.8 0 1.9 0 1.8 0 1.9 0 1.8 0" fill="none" stroke="#ff9a1a" stroke-width="2.1" stroke-linejoin="round"/>
<path d="M210.3 852.1l1.8 4 1.9 3.7 1.8 3.3 1.9 3.1 1.8 2.6 1.9 1.8 1.8 1.3 1.9-.5 1.8-2.1 1.9-2.7 1.8-3.5 1.9-3.2 1.8-2.7 1.8-.6 1.9-.1 1.8-.1 1.9 0 1.8 .1 1.9 .2 1.8 .2 1.9 .2 1.8 .3 1.9 .4 1.8 .4 1.9 .6 1.8 .6 1.8 .6 1.9 .4 1.8 .1 1.9-.3 1.8-.7 1.9-2.5 1.8-3.5 1.9-4.5 1.8-5.5 1.9-5.3 1.8-4.3 1.9-2.3 1.8-.5 1.9 1 1.8 1.6 1.8 1.6 1.9 1 1.8 .7 1.9 .8 1.8 .7 1.9 .7 1.8 .7 1.9 .7 1.8 .8 1.9 .7 1.8 .9 1.9 .9 1.8 1.1 1.8 1.3 1.9 1.3 1.8 1.5 1.9 1.7 1.8 1.8 1.9 1.6 1.8 1.7 1.9 1.4 1.8 .4 1.9 0 1.8 0 1.9 0 1.8 0 1.8 0 1.9 0 1.8 0 1.9 0 1.8 0 1.9 0 1.8 0 1.9 0 1.8 0 1.9 0 1.8 0 1.9 0 1.8 0" fill="none" stroke="#ff4a1a" stroke-width="2.1" stroke-linejoin="round"/>
</svg>
<line x1="210.3" y1="857.69" x2="358" y2="857.69" stroke="#444" stroke-width="0.8" stroke-dasharray="1.2 1.3"/>
<rect x="210.3" y="814.3" width="147.7" height="98.5" fill="none" stroke="#5a5a5a" stroke-width="1"/>
<path d="M210.3 912.8v1.6M210.3 814.3v1.6M234.92 912.8v1.6M234.92 814.3v1.6M259.53 912.8v1.6M259.53 814.3v1.6M284.15 912.8v1.6M284.15 814.3v1.6M308.77 912.8v1.6M308.77 814.3v1.6M333.38 912.8v1.6M333.38 814.3v1.6M358 912.8v1.6M358 814.3v1.6" stroke="#5a5a5a" stroke-width="0.8"/>
<text x="207.6" y="903.75" font-size="7.4" text-anchor="end" fill="#000">-20</text>
<text x="207.6" y="882.05" font-size="7.4" text-anchor="end" fill="#000">-10</text>
<text x="207.6" y="860.36" font-size="7.4" text-anchor="end" fill="#000">0</text>
<text x="207.6" y="838.66" font-size="7.4" text-anchor="end" fill="#000">10</text>
<text x="207.6" y="816.96" font-size="7.4" text-anchor="end" fill="#000">20</text>
<path d="M208.7 901.08h1.6M356.4 901.08h1.6M208.7 879.39h1.6M356.4 879.39h1.6M208.7 857.69h1.6M356.4 857.69h1.6M208.7 836h1.6M356.4 836h1.6M208.7 814.3h1.6M356.4 814.3h1.6" stroke="#5a5a5a" stroke-width="0.8"/>
<text x="210.3" y="922.8" font-size="7.4" text-anchor="middle" fill="#000">200</text>
<text x="234.92" y="922.8" font-size="7.4" text-anchor="middle" fill="#000">220</text>
<text x="259.53" y="922.8" font-size="7.4" text-anchor="middle" fill="#000">240</text>
<text x="284.15" y="922.8" font-size="7.4" text-anchor="middle" fill="#000">260</text>
<text x="308.77" y="922.8" font-size="7.4" text-anchor="middle" fill="#000">280</text>
<text x="333.38" y="922.8" font-size="7.4" text-anchor="middle" fill="#000">300</text>
<text x="358" y="922.8" font-size="7.4" text-anchor="middle" fill="#000">320</text>
<text x="284.5" y="932.6" font-size="7.4" text-anchor="middle" fill="#000">Wavelength (nm)</text>
<text x="193" y="860.6" font-size="7.4" text-anchor="middle" fill="#000" transform="rotate(-90 193 860.6)">CD (mdeg)</text>
<text x="268.1" y="873" font-size="7.4" text-anchor="start" fill="#555">G/C</text>
<text x="280.9" y="883.6" font-size="7.4" text-anchor="end" fill="#ff4a2a">0%</text>
<text x="280.9" y="896.4" font-size="7.4" text-anchor="end" fill="#ff9a3a">3%</text>
<text x="280.9" y="909.3" font-size="7.4" text-anchor="end" fill="#7a7420" font-weight="bold">17%</text>
<text x="295" y="883.6" font-size="7.4" text-anchor="start" fill="#6b7a2a" font-weight="bold">33%</text>
<text x="295" y="896.4" font-size="7.4" text-anchor="start" fill="#3ee63a">47%</text>
<text x="295" y="909.3" font-size="7.4" text-anchor="start" fill="#22dcee">63%</text>
<text x="341" y="883.6" font-size="7.4" text-anchor="end" fill="#3ab0f0">77%</text>
<text x="341" y="896.4" font-size="7.4" text-anchor="end" fill="#2a44e0">90%</text>
<text x="341" y="909.3" font-size="7.4" text-anchor="end" fill="#ee44ee">100%</text>
<text x="373.6" y="815.1" font-size="16" text-anchor="start" fill="#000" font-weight="bold">f</text>
<rect x="407.05" y="873.26" width="10.5" height="41.34" fill="#f2402e" stroke="#222" stroke-width="0.8"/>
<text x="412.3" y="872.26" font-size="6.8" text-anchor="middle" fill="#222">41.8</text>
<rect x="423.25" y="870.89" width="10.5" height="43.71" fill="#ff8a1e" stroke="#222" stroke-width="0.8"/>
<text x="428.5" y="869.89" font-size="6.8" text-anchor="middle" fill="#222">44.2</text>
<rect x="439.45" y="861.39" width="10.5" height="53.21" fill="#f4f018" stroke="#222" stroke-width="0.8"/>
<text x="444.7" y="860.39" font-size="6.8" text-anchor="middle" fill="#222">53.8</text>
<rect x="455.65" y="849.42" width="10.5" height="65.18" fill="#9cec00" stroke="#222" stroke-width="0.8"/>
<text x="460.9" y="848.42" font-size="6.8" text-anchor="middle" fill="#222">65.9</text>
<rect x="471.85" y="840.23" width="10.5" height="74.37" fill="#10e010" stroke="#222" stroke-width="0.8"/>
<text x="477.1" y="839.23" font-size="6.8" text-anchor="middle" fill="#222">75.2</text>
<rect x="488.05" y="830.93" width="10.5" height="83.67" fill="#00f0f0" stroke="#222" stroke-width="0.8"/>
<text x="493.3" y="829.93" font-size="6.8" text-anchor="middle" fill="#222">84.6</text>
<rect x="401.8" y="815.7" width="150.4" height="98.9" fill="none" stroke="#5a5a5a" stroke-width="1"/>
<line x1="400.2" y1="914.6" x2="401.8" y2="914.6" stroke="#5a5a5a" stroke-width="0.8"/>
<line x1="550.6" y1="914.6" x2="552.2" y2="914.6" stroke="#5a5a5a" stroke-width="0.8"/>
<text x="400.2" y="917.2" font-size="7.2" text-anchor="end" fill="#000">0</text>
<line x1="400.2" y1="894.82" x2="401.8" y2="894.82" stroke="#5a5a5a" stroke-width="0.8"/>
<line x1="550.6" y1="894.82" x2="552.2" y2="894.82" stroke="#5a5a5a" stroke-width="0.8"/>
<text x="400.2" y="897.42" font-size="7.2" text-anchor="end" fill="#000">20</text>
<line x1="400.2" y1="875.04" x2="401.8" y2="875.04" stroke="#5a5a5a" stroke-width="0.8"/>
<line x1="550.6" y1="875.04" x2="552.2" y2="875.04" stroke="#5a5a5a" stroke-width="0.8"/>
<text x="400.2" y="877.64" font-size="7.2" text-anchor="end" fill="#000">40</text>
<line x1="400.2" y1="855.26" x2="401.8" y2="855.26" stroke="#5a5a5a" stroke-width="0.8"/>
<line x1="550.6" y1="855.26" x2="552.2" y2="855.26" stroke="#5a5a5a" stroke-width="0.8"/>
<text x="400.2" y="857.86" font-size="7.2" text-anchor="end" fill="#000">60</text>
<line x1="400.2" y1="835.48" x2="401.8" y2="835.48" stroke="#5a5a5a" stroke-width="0.8"/>
<line x1="550.6" y1="835.48" x2="552.2" y2="835.48" stroke="#5a5a5a" stroke-width="0.8"/>
<text x="400.2" y="838.08" font-size="7.2" text-anchor="end" fill="#000">80</text>
<line x1="400.2" y1="815.7" x2="401.8" y2="815.7" stroke="#5a5a5a" stroke-width="0.8"/>
<line x1="550.6" y1="815.7" x2="552.2" y2="815.7" stroke="#5a5a5a" stroke-width="0.8"/>
<text x="400.2" y="818.3" font-size="7.2" text-anchor="end" fill="#000">100</text>
<line x1="412.3" y1="815.7" x2="412.3" y2="817.3" stroke="#5a5a5a" stroke-width="0.8"/>
<line x1="412.3" y1="914.6" x2="412.3" y2="913" stroke="#5a5a5a" stroke-width="0.8"/>
<line x1="428.5" y1="815.7" x2="428.5" y2="817.3" stroke="#5a5a5a" stroke-width="0.8"/>
<line x1="428.5" y1="914.6" x2="428.5" y2="913" stroke="#5a5a5a" stroke-width="0.8"/>
<line x1="444.7" y1="815.7" x2="444.7" y2="817.3" stroke="#5a5a5a" stroke-width="0.8"/>
<line x1="444.7" y1="914.6" x2="444.7" y2="913" stroke="#5a5a5a" stroke-width="0.8"/>
<line x1="460.9" y1="815.7" x2="460.9" y2="817.3" stroke="#5a5a5a" stroke-width="0.8"/>
<line x1="460.9" y1="914.6" x2="460.9" y2="913" stroke="#5a5a5a" stroke-width="0.8"/>
<line x1="477.1" y1="815.7" x2="477.1" y2="817.3" stroke="#5a5a5a" stroke-width="0.8"/>
<line x1="477.1" y1="914.6" x2="477.1" y2="913" stroke="#5a5a5a" stroke-width="0.8"/>
<line x1="493.3" y1="815.7" x2="493.3" y2="817.3" stroke="#5a5a5a" stroke-width="0.8"/>
<line x1="493.3" y1="914.6" x2="493.3" y2="913" stroke="#5a5a5a" stroke-width="0.8"/>
<line x1="509.5" y1="815.7" x2="509.5" y2="817.3" stroke="#5a5a5a" stroke-width="0.8"/>
<line x1="509.5" y1="914.6" x2="509.5" y2="913" stroke="#5a5a5a" stroke-width="0.8"/>
<line x1="525.7" y1="815.7" x2="525.7" y2="817.3" stroke="#5a5a5a" stroke-width="0.8"/>
<line x1="525.7" y1="914.6" x2="525.7" y2="913" stroke="#5a5a5a" stroke-width="0.8"/>
<line x1="541.9" y1="815.7" x2="541.9" y2="817.3" stroke="#5a5a5a" stroke-width="0.8"/>
<line x1="541.9" y1="914.6" x2="541.9" y2="913" stroke="#5a5a5a" stroke-width="0.8"/>
<text x="510.2" y="912.4" font-size="11" text-anchor="middle" fill="#2fb4f4">*</text>
<text x="524.6" y="912.4" font-size="11" text-anchor="middle" fill="#2a3de0">*</text>
<text x="540" y="912.4" font-size="11" text-anchor="middle" fill="#e040e0">*</text>
<text x="385.8" y="863.6" font-size="7.4" text-anchor="middle" fill="#000" transform="rotate(-90 385.8 863.6)">T<tspan font-size="5" dy="1.3">m</tspan><tspan dy="-1.3"> (°C)</tspan></text>
<text x="412.3" y="927.8" font-size="7.4" text-anchor="middle" fill="#ff4a2a">0</text>
<text x="428.5" y="927.8" font-size="7.4" text-anchor="middle" fill="#ff9a3a">3</text>
<text x="444.7" y="927.8" font-size="7.4" text-anchor="middle" fill="#7a7420">17</text>
<text x="460.9" y="927.8" font-size="7.4" text-anchor="middle" fill="#6b7a2a">33</text>
<text x="477.1" y="927.8" font-size="7.4" text-anchor="middle" fill="#3ee63a">47</text>
<text x="493.3" y="927.8" font-size="7.4" text-anchor="middle" fill="#22dcee">63</text>
<text x="509.5" y="927.8" font-size="7.4" text-anchor="middle" fill="#2fb4f4">77</text>
<text x="525.7" y="927.8" font-size="7.4" text-anchor="middle" fill="#2a3de0">90</text>
<text x="535.2" y="927.8" font-size="7.4" text-anchor="start" fill="#e040e0">100% G/C</text>
</svg></body></html>
